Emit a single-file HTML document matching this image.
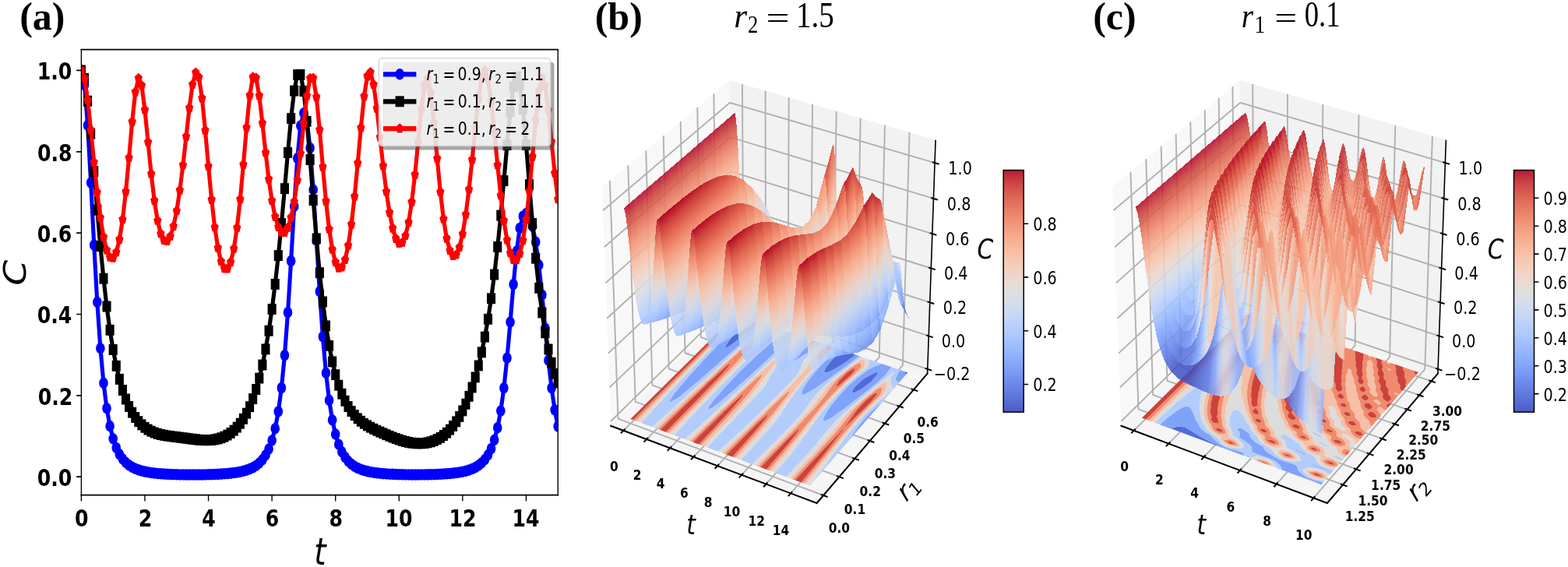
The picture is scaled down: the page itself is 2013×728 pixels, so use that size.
<!DOCTYPE html>
<html><head><meta charset="utf-8"><title>Figure</title><style>html,body{margin:0;padding:0;background:#fff}svg{display:block}</style></head><body>
<svg width="2013" height="728" viewBox="0 0 2013 728">
<defs><clipPath id="clipA"><rect x="104.4" y="63.7" width="611.9" height="571.9"/></clipPath>
<marker id="mo" markerUnits="userSpaceOnUse" markerWidth="20" markerHeight="20" refX="0" refY="0" viewBox="-10 -10 20 20" overflow="visible"><circle r="4.70" fill="#00f"/></marker>
<marker id="ms" markerUnits="userSpaceOnUse" markerWidth="20" markerHeight="20" refX="0" refY="0" viewBox="-10 -10 20 20" overflow="visible"><rect x="-4.50" y="-4.50" width="9.00" height="9.00" fill="#000"/></marker>
<marker id="mp" markerUnits="userSpaceOnUse" markerWidth="20" markerHeight="20" refX="0" refY="0" viewBox="-10 -10 20 20" overflow="visible"><polygon points="0.00,-4.40 4.18,-1.36 2.59,3.56 -2.59,3.56 -4.18,-1.36" fill="#f00"/></marker>
</defs>
<g clip-path="url(#clipA)"><g transform="scale(1.2337,1.5473)" fill="none" stroke-width="4.17" stroke-linejoin="round">
<polyline points="84.62,58.46 87.93,70.45 91.24,103.93 94.54,151.57 97.85,203.35 101.16,250.63 104.46,288.99 107.77,317.88 111.07,338.76 114.38,353.58 117.69,364.08 120.99,371.56 124.30,376.95 127.61,380.89 130.91,383.80 134.22,385.99 137.52,387.65 140.83,388.94 144.14,389.94 147.44,390.73 150.75,391.36 154.06,391.87 157.36,392.29 160.67,392.62 163.98,392.90 167.28,393.13 170.59,393.31 173.89,393.47 177.20,393.60 180.51,393.70 183.81,393.78 187.12,393.85 190.43,393.90 193.73,393.93 197.04,393.95 200.34,393.96 203.65,393.96 206.96,393.94 210.26,393.91 213.57,393.86 216.88,393.80 220.18,393.72 223.49,393.62 226.80,393.50 230.10,393.35 233.41,393.17 236.71,392.95 240.02,392.69 243.33,392.36 246.63,391.97 249.94,391.48 253.25,390.87 256.55,390.11 259.86,389.15 263.16,387.93 266.47,386.34 269.78,384.25 273.08,381.48 276.39,377.74 279.70,372.62 283.00,365.52 286.31,355.56 289.61,341.53 292.92,321.84 296.23,294.78 299.53,259.29 302.84,216.51 306.15,171.23 309.45,131.34 312.76,104.31 316.07,93.93 319.37,100.54 322.68,122.73 325.98,157.46 329.29,199.40 332.60,241.85 335.90,279.37 339.21,309.44 342.52,332.08 345.82,348.56 349.13,360.37 352.43,368.84 355.74,374.94 359.05,379.38 362.35,382.66 365.66,385.12 368.97,386.98 372.27,388.41 375.58,389.52 378.89,390.39 382.19,391.09 385.50,391.64 388.80,392.09 392.11,392.46 395.42,392.76 398.72,393.01 402.03,393.21 405.34,393.38 408.64,393.52 411.95,393.63 415.25,393.72 418.56,393.79 421.87,393.85 425.17,393.88 428.48,393.91 431.79,393.92 435.09,393.92 438.40,393.90 441.71,393.87 445.01,393.83 448.32,393.77 451.62,393.69 454.93,393.59 458.24,393.47 461.54,393.32 464.85,393.14 468.16,392.93 471.46,392.66 474.77,392.34 478.07,391.94 481.38,391.45 484.69,390.84 487.99,390.07 491.30,389.10 494.61,387.86 497.91,386.25 501.22,384.13 504.53,381.30 507.83,377.49 511.14,372.26 514.44,365.03 517.75,354.96 521.06,340.97 524.36,321.91 527.67,297.09 530.98,267.31 534.28,235.97 537.59,208.49 540.89,189.33 544.20,179.49 547.51,177.14 550.81,180.16 554.12,187.81 557.43,200.78 560.73,219.97 564.04,244.76 567.35,272.37 570.65,299.03 573.96,321.95 577.26,340.12 580.57,353.84" stroke="#00f" marker-start="url(#mo)" marker-mid="url(#mo)" marker-end="url(#mo)"/>
<polyline points="84.62,58.46 87.93,65.14 91.24,83.82 94.54,110.95 97.85,142.31 101.16,174.26 104.46,204.31 107.77,231.14 111.07,254.30 114.38,273.86 117.69,290.15 120.99,303.61 124.30,314.67 127.61,323.76 130.91,331.20 134.22,337.30 137.52,342.30 140.83,346.39 144.14,349.73 147.44,352.46 150.75,354.67 154.06,356.45 157.36,357.87 160.67,359.01 163.98,359.90 167.28,360.61 170.59,361.16 173.89,361.62 177.20,361.99 180.51,362.33 183.81,362.65 187.12,362.98 190.43,363.31 193.73,363.66 197.04,364.01 200.34,364.36 203.65,364.68 206.96,364.95 210.26,365.15 213.57,365.26 216.88,365.24 220.18,365.07 223.49,364.72 226.80,364.18 230.10,363.39 233.41,362.34 236.71,360.98 240.02,359.26 243.33,357.13 246.63,354.53 249.94,351.37 253.25,347.55 256.55,342.97 259.86,337.47 263.16,330.92 266.47,323.10 269.78,313.81 273.08,302.79 276.39,289.77 279.70,274.46 283.00,256.56 286.31,235.82 289.61,212.07 292.92,185.43 296.23,156.48 299.53,126.60 302.84,98.31 306.15,75.35 309.45,62.07 312.76,61.91 316.07,75.65 319.37,100.74 322.68,132.49 325.98,166.08 329.29,197.99 332.60,226.31 335.90,250.42 339.21,270.43 342.52,286.82 345.82,300.14 349.13,310.95 352.43,319.71 355.74,326.84 359.05,332.66 362.35,337.41 365.66,341.32 368.97,344.55 372.27,347.24 375.58,349.50 378.89,351.43 382.19,353.11 385.50,354.60 388.80,355.95 392.11,357.22 395.42,358.43 398.72,359.59 402.03,360.73 405.34,361.83 408.64,362.89 411.95,363.90 415.25,364.83 418.56,365.68 421.87,366.41 425.17,367.02 428.48,367.49 431.79,367.81 435.09,367.96 438.40,367.93 441.71,367.71 445.01,367.28 448.32,366.63 451.62,365.73 454.93,364.56 458.24,363.09 461.54,361.28 464.85,359.11 468.16,356.52 471.46,353.45 474.77,349.87 478.07,345.69 481.38,340.85 484.69,335.26 487.99,328.84 491.30,321.48 494.61,313.06 497.91,303.40 501.22,292.32 504.53,279.56 507.83,264.81 511.14,247.70 514.44,227.83 517.75,204.87 521.06,178.75 524.36,150.00 527.67,120.24 530.98,92.69 534.28,72.15 537.59,63.68 540.89,70.21 544.20,90.58 547.51,120.15 550.81,153.26 554.12,185.49 557.43,214.36 560.73,238.99 564.04,259.44 567.35,276.18 570.65,289.83 573.96,300.96 577.26,310.08 580.57,317.61" stroke="#000" marker-start="url(#ms)" marker-mid="url(#ms)" marker-end="url(#ms)"/>
<polyline points="84.62,58.46 87.93,65.10 91.24,83.12 94.54,107.98 97.85,134.73 101.16,159.66 104.46,180.63 107.77,196.72 111.07,207.69 114.38,213.50 117.69,214.13 120.99,209.37 124.30,198.85 127.61,182.13 130.91,159.11 134.22,130.89 137.52,101.04 140.83,76.39 144.14,64.99 147.44,70.99 150.75,91.20 154.06,117.97 157.36,144.40 160.67,166.56 163.98,183.09 167.28,193.92 170.59,199.45 173.89,200.10 177.20,196.16 180.51,187.79 183.81,175.02 187.12,157.97 190.43,137.03 193.73,113.39 197.04,89.64 200.34,70.12 203.65,60.24 206.96,64.07 210.26,81.57 213.57,108.28 216.88,137.99 220.18,165.69 223.49,188.61 226.80,205.76 230.10,217.06 233.41,222.73 236.71,222.92 240.02,217.57 243.33,206.40 246.63,189.04 249.94,165.43 253.25,136.61 256.55,105.84 259.86,79.21 263.16,64.07 266.47,64.74 269.78,79.49 273.08,102.24 276.39,126.68 279.70,148.75 283.00,166.61 286.31,179.81 289.61,188.45 292.92,192.78 296.23,192.95 299.53,188.94 302.84,180.55 306.15,167.48 309.45,149.59 312.76,127.32 316.07,102.58 319.37,79.61 322.68,64.95 325.98,64.78 329.29,80.61 332.60,107.70 335.90,138.52 339.21,167.04 342.52,190.16 345.82,206.97 349.13,217.59 352.43,222.40 355.74,221.70 359.05,215.54 362.35,203.77 365.66,186.24 368.97,163.07 372.27,135.38 375.58,106.03 378.89,79.99 382.19,63.26 385.50,60.03 388.80,70.24 392.11,89.94 395.42,113.88 398.72,137.77 402.03,159.03 405.34,176.40 408.64,189.44 411.95,198.01 415.25,202.03 418.56,201.37 421.87,195.70 425.17,184.60 428.48,167.68 431.79,145.01 435.09,118.08 438.40,90.96 441.71,70.80 445.01,65.26 448.32,77.16 451.62,101.99 454.93,131.60 458.24,159.33 461.54,181.78 464.85,197.97 468.16,208.01 471.46,212.36 474.77,211.40 478.07,205.33 481.38,194.21 484.69,178.09 487.99,157.25 491.30,132.63 494.61,106.35 497.91,82.04 501.22,64.59 504.53,58.50 507.83,65.71 511.14,84.35 514.44,109.80 517.75,137.02 521.06,162.21 524.36,183.25 527.67,199.24 530.98,209.98 534.28,215.48 537.59,215.73 540.89,210.53 544.20,199.51 547.51,182.24 550.81,158.66 554.12,129.98 557.43,99.96 560.73,75.55 564.04,64.69 567.35,71.11 570.65,91.33 573.96,117.75 577.26,143.66 580.57,165.36" stroke="#f00" marker-start="url(#mp)" marker-mid="url(#mp)" marker-end="url(#mp)"/>
</g></g>
<g stroke="#000" fill="none" stroke-linecap="square">
<path d="M104.40,63.70H716.30M104.40,635.60H716.30" stroke-width="1.72"/>
<path d="M104.40,63.70V635.60M716.30,63.70V635.60" stroke-width="1.37"/>
</g>
<path d="M104.40,635.60v8.00M185.98,635.60v8.00M267.56,635.60v8.00M349.14,635.60v8.00M430.72,635.60v8.00M512.30,635.60v8.00M593.88,635.60v8.00M675.46,635.60v8.00" stroke="#000" stroke-width="1.37" fill="none"/>
<path d="M104.40,612.20h-6.30M104.40,507.85h-6.30M104.40,403.50h-6.30M104.40,299.15h-6.30M104.40,194.80h-6.30M104.40,90.45h-6.30" stroke="#000" stroke-width="1.72" fill="none"/>
<text transform="translate(95.97,676.27) scale(0.8350,1)" font-size="30.20" font-family="DejaVu Sans, Liberation Sans, sans-serif" font-weight="bold">0</text>
<text transform="translate(177.68,676.27) scale(0.8350,1)" font-size="30.20" font-family="DejaVu Sans, Liberation Sans, sans-serif" font-weight="bold">2</text>
<text transform="translate(259.13,675.97) scale(0.8350,1)" font-size="30.20" font-family="DejaVu Sans, Liberation Sans, sans-serif" font-weight="bold">4</text>
<text transform="translate(340.71,676.12) scale(0.8350,1)" font-size="30.20" font-family="DejaVu Sans, Liberation Sans, sans-serif" font-weight="bold">6</text>
<text transform="translate(422.42,676.27) scale(0.8350,1)" font-size="30.20" font-family="DejaVu Sans, Liberation Sans, sans-serif" font-weight="bold">8</text>
<text transform="translate(494.42,676.27) scale(0.8350,1)" font-size="30.20" font-family="DejaVu Sans, Liberation Sans, sans-serif" font-weight="bold">10</text>
<text transform="translate(576.50,676.27) scale(0.8350,1)" font-size="30.20" font-family="DejaVu Sans, Liberation Sans, sans-serif" font-weight="bold">12</text>
<text transform="translate(657.58,676.12) scale(0.8350,1)" font-size="30.20" font-family="DejaVu Sans, Liberation Sans, sans-serif" font-weight="bold">14</text>
<text transform="translate(47.63,624.17) scale(0.8350,1)" font-size="30.20" font-family="DejaVu Sans, Liberation Sans, sans-serif" font-weight="bold">0.0</text>
<text transform="translate(48.64,519.82) scale(0.8350,1)" font-size="30.20" font-family="DejaVu Sans, Liberation Sans, sans-serif" font-weight="bold">0.2</text>
<text transform="translate(47.63,415.47) scale(0.8350,1)" font-size="30.20" font-family="DejaVu Sans, Liberation Sans, sans-serif" font-weight="bold">0.4</text>
<text transform="translate(47.63,311.12) scale(0.8350,1)" font-size="30.20" font-family="DejaVu Sans, Liberation Sans, sans-serif" font-weight="bold">0.6</text>
<text transform="translate(47.88,206.77) scale(0.8350,1)" font-size="30.20" font-family="DejaVu Sans, Liberation Sans, sans-serif" font-weight="bold">0.8</text>
<text transform="translate(47.63,102.42) scale(0.8350,1)" font-size="30.20" font-family="DejaVu Sans, Liberation Sans, sans-serif" font-weight="bold">1.0</text>
<text transform="translate(403.23,725.00) scale(0.8300,1)" font-size="47.30" font-family="DejaVu Sans, Liberation Sans, sans-serif" font-style="italic">t</text>
<text transform="translate(18.35,349.55) scale(1.2843,1.5473) rotate(-90.00) translate(-11.16,11.31)" font-size="30.57" font-family="DejaVu Sans, Liberation Sans, sans-serif" font-style="italic">C</text>
<rect x="491.0" y="79.7" width="220.5" height="112.7" rx="3.7" ry="4.6" fill="#4d4d4d" fill-opacity="0.5"/>
<rect x="486.4" y="74.7" width="220.5" height="112.7" rx="3.7" ry="4.6" fill="#fff" fill-opacity="0.8" stroke="#ccc" stroke-opacity="0.8" stroke-width="1.5"/>
<path d="M492.0,95.3H534.4" stroke="#00f" stroke-width="6.26"/>
<ellipse cx="513.2" cy="95.3" rx="5.80" ry="7.27" fill="#00f"/>
<text transform="translate(547.51,103.10) scale(0.8100,1)" font-size="23.40" font-family="DejaVu Sans, Liberation Sans, sans-serif" font-style="italic">r</text>
<text transform="translate(555.64,106.70) scale(0.8100,1)" font-size="16.38" font-family="DejaVu Sans, Liberation Sans, sans-serif">1</text>
<text transform="translate(568.39,103.88) scale(0.8100,1)" font-size="23.40" font-family="DejaVu Sans, Liberation Sans, sans-serif">=</text>
<text transform="translate(587.58,103.07) scale(0.8100,1)" font-size="23.40" font-family="DejaVu Sans, Liberation Sans, sans-serif">0.9</text>
<text transform="translate(617.81,103.09) scale(0.8100,1)" font-size="23.40" font-family="DejaVu Sans, Liberation Sans, sans-serif">,</text>
<text transform="translate(627.36,103.10) scale(0.8100,1)" font-size="23.40" font-family="DejaVu Sans, Liberation Sans, sans-serif" font-style="italic">r</text>
<text transform="translate(635.45,106.70) scale(0.8100,1)" font-size="16.38" font-family="DejaVu Sans, Liberation Sans, sans-serif">2</text>
<text transform="translate(648.19,103.88) scale(0.8100,1)" font-size="23.40" font-family="DejaVu Sans, Liberation Sans, sans-serif">=</text>
<text transform="translate(667.84,103.10) scale(0.8100,1)" font-size="23.40" font-family="DejaVu Sans, Liberation Sans, sans-serif">1.1</text>
<path d="M492.0,130.3H534.4" stroke="#000" stroke-width="6.26"/>
<rect x="507.65" y="123.34" width="11.10" height="13.93" fill="#000"/>
<text transform="translate(547.51,138.10) scale(0.8100,1)" font-size="23.40" font-family="DejaVu Sans, Liberation Sans, sans-serif" font-style="italic">r</text>
<text transform="translate(555.64,141.70) scale(0.8100,1)" font-size="16.38" font-family="DejaVu Sans, Liberation Sans, sans-serif">1</text>
<text transform="translate(568.39,138.88) scale(0.8100,1)" font-size="23.40" font-family="DejaVu Sans, Liberation Sans, sans-serif">=</text>
<text transform="translate(587.77,138.07) scale(0.8100,1)" font-size="23.40" font-family="DejaVu Sans, Liberation Sans, sans-serif">0.1</text>
<text transform="translate(617.81,138.09) scale(0.8100,1)" font-size="23.40" font-family="DejaVu Sans, Liberation Sans, sans-serif">,</text>
<text transform="translate(627.36,138.10) scale(0.8100,1)" font-size="23.40" font-family="DejaVu Sans, Liberation Sans, sans-serif" font-style="italic">r</text>
<text transform="translate(635.45,141.70) scale(0.8100,1)" font-size="16.38" font-family="DejaVu Sans, Liberation Sans, sans-serif">2</text>
<text transform="translate(648.19,138.88) scale(0.8100,1)" font-size="23.40" font-family="DejaVu Sans, Liberation Sans, sans-serif">=</text>
<text transform="translate(667.84,138.10) scale(0.8100,1)" font-size="23.40" font-family="DejaVu Sans, Liberation Sans, sans-serif">1.1</text>
<path d="M492.0,165.1H534.4" stroke="#f00" stroke-width="6.26"/>
<polygon points="513.20,158.29 518.36,163.00 516.39,170.61 510.01,170.61 508.04,163.00" fill="#f00"/>
<text transform="translate(547.51,172.90) scale(0.8100,1)" font-size="23.40" font-family="DejaVu Sans, Liberation Sans, sans-serif" font-style="italic">r</text>
<text transform="translate(555.64,176.50) scale(0.8100,1)" font-size="16.38" font-family="DejaVu Sans, Liberation Sans, sans-serif">1</text>
<text transform="translate(568.39,173.68) scale(0.8100,1)" font-size="23.40" font-family="DejaVu Sans, Liberation Sans, sans-serif">=</text>
<text transform="translate(587.77,172.87) scale(0.8100,1)" font-size="23.40" font-family="DejaVu Sans, Liberation Sans, sans-serif">0.1</text>
<text transform="translate(617.81,172.89) scale(0.8100,1)" font-size="23.40" font-family="DejaVu Sans, Liberation Sans, sans-serif">,</text>
<text transform="translate(627.36,172.90) scale(0.8100,1)" font-size="23.40" font-family="DejaVu Sans, Liberation Sans, sans-serif" font-style="italic">r</text>
<text transform="translate(635.45,176.50) scale(0.8100,1)" font-size="16.38" font-family="DejaVu Sans, Liberation Sans, sans-serif">2</text>
<text transform="translate(648.19,173.68) scale(0.8100,1)" font-size="23.40" font-family="DejaVu Sans, Liberation Sans, sans-serif">=</text>
<text transform="translate(668.27,172.90) scale(0.8100,1)" font-size="23.40" font-family="DejaVu Sans, Liberation Sans, sans-serif">2</text>
<polygon points="784.2,546.8 939.4,394.4 936.8,103.2 773.0,240.1" fill="#f2f2f2" fill-opacity="0.5"/>
<polygon points="939.4,394.4 1190.6,479.6 1201.1,179.6 936.8,103.2" fill="#e6e6e6" fill-opacity="0.5"/>
<polygon points="784.2,546.8 1048.6,646.0 1190.6,479.6 939.4,394.4" fill="#ececec" fill-opacity="0.5"/>
<path d="M800.4,552.8L954.7,399.6L952.9,107.9M830.1,564.0L983.0,409.2L982.6,116.5M860.1,575.3L1011.6,418.9L1012.7,125.2M890.4,586.7L1040.5,428.7L1043.0,133.9M921.1,598.2L1069.6,438.6L1073.7,142.8M952.1,609.8L1099.1,448.6L1104.7,151.8M983.4,621.6L1128.8,458.6L1136.0,160.8M1015.1,633.4L1158.9,468.8L1167.6,170.0M1057.1,636.0L793.5,537.7L782.9,231.9M1077.5,612.2L815.7,515.9L806.3,212.3M1097.4,588.9L837.4,494.6L829.3,193.1M1116.9,566.0L858.7,473.7L851.7,174.3M1135.9,543.7L879.5,453.2L873.7,155.9M1154.6,521.8L899.9,433.1L895.3,137.9M1172.9,500.4L920.0,413.5L916.4,120.3M784.0,541.0L939.3,388.9L1190.8,473.9M782.4,497.6L938.9,347.5L1192.3,431.4M780.8,453.6L938.6,305.6L1193.8,388.3M779.2,408.8L938.2,263.1L1195.4,344.5M777.5,363.4L937.8,220.0L1196.9,300.1M775.8,317.2L937.4,176.2L1198.5,254.9M774.1,270.3L937.0,131.8L1200.1,209.1" fill="none" stroke="#b0b0b0" stroke-width="1.90"/>
<g fill-rule="evenodd" stroke="none"><path d="M932,443.4l-.8 2.7 1.9 0 4.3-2.3 14.2-10.4 24.1-19.6-15.3-5.2-17 19.5-7.5 9.5zM1095.9,498.8l-2.4 4.9 1.1 1.1 2.7-.8 9.1-4.8 12.5-9.5 8.7-10.7-1.5-.8-1.8-.3-15.6 8.3-10.9 10zM1059,474l-1 3.2 .7 1.4 1.9 0 6-2.2 5.6-2.8 13.9-8.8 12.4-9.2-17.1-5.8-11 9.7-9 10.4zM1034.6,435.4l-2.8 5-1.2 3.3 .3 1.8 1.4 .5 2.2-.3 2.9-1 12.3-5.7-14.3-4.8zM1161.4,478.5l.7 1.4 1.2 .9 2.1-2.4-4.1-1.4z" fill="#506bda"/>
<path d="M860.6,513l-.8 2.8 1.7 .3 4-2 6.6-4.6 9.1-7.2 25.9-22 51.7-45.8 21.9-19-5-1.7-14.9 12.3-17.1 13.3-6.3 4.4-4.3 2.3-1.9 0 .8-2.7 3.9-5.8 7.5-9.5 17-19.5-4.9-1.6-47.8 50.5-23.6 26-14.5 17.1-5.1 6.5zM910.4,521.7l-1.5 3.6 1.9 .1 4.5-2.6 6.9-5.1 21-17.6 29.8-26.8 26.3-24.8 9.8-10.1 3.6-4.3 4.4-6.2-5.4-1.8-6.1 3.4-8 5-3 2.3-8.9 7-10.8 9.4-21.6 20.4-20.3 21-16 18.2zM1057.2,540l1.6 .4 2.9-.9 3.7-1.9 4.6-2.9 17.4-12.8 25.4-19.6 12.6-10.3 10.9-10 8.1-10.8-12.4-4.2-12 4.8-4 2.3-14 9.8-11.3 9.9-10.2 10.4-9.3 10.8-9.6 13.2-3.3 6-1.4 3.8zM1097.8,496.2l10.9-10 15.6-8.3 1.8 .3 1.5 .8-8.7 10.7-12.5 9.5-1.9 1.1-7.2 3.7-2.7 .8-1.1-1.1 2.4-4.9zM1094.5,557.9l-4 6.9 42.8-49.3-6.4 4.9-10.8 10.4-9.8 11-8.7 11.5zM1030.1,501.1l-1 3.2 .4 1.8 1.4 .5 2.5-.5 7.8-4.1 4.5-2.8 16.5-11.5 29.1-21.1 12.2-9.3-5-1.7-12.4 9.2-13.9 8.8-8.8 4.2-2.8 .8-1.9 0-.7-1.4 1-3.2 2.4-4.1 9-10.4 11-9.7-4.9-1.6-11.1 9.5-10.1 10.1-9.3 10.5-8.6 10.8-4.3 6.5zM1007.8,465.7l.6 1.4 1.7 .3 2.6-.6 6.6-3 13.9-8.5 21.9-14.4-5.4-1.9-12.3 5.7-2.9 1-2.2 .3-1.4-.5-.3-1.8 1.2-3.3 3.6-6.2-5.3-1.9-8.6 10.4-7.9 10.7-3.4 5.6-1.9 4.1zM1149.8,487.3l.7 1.4 1 1.1 2.7 1.5 9.1-10.5-1.2-.9-.7-1.4-.1-1.5-6.1-2.1-4.8 9.4-.8 2.3z" fill="#80a3fa"/>
<path d="M830.8,534.8l-7.3 8.3 13.4 5 20.5-17.7 93.1-85.3 21.9-19.2 11.5-9.3-3.2-1.1-21.9 19-51.7 45.8-25.9 22-9.1 7.2-6.6 4.6-4 2-1.7-.3 .8-2.8 3.9-5.9 7.4-9.5 12.2-14.1 18.2-20.2 26.1-27.9 27.1-28.4-2.4-.9-69.9 72.3-31.5 33.5zM866,558.9l13.1 4.9 16.2-14 15.7-14.2 103-95.5 10-9.8-6.9-2.4-4.4 6.2-3.6 4.3-9.8 10.1-21 20-21.3 19.4-25.4 22.2-9.4 7.6-6.9 5.1-4.5 2.6-1.9-.1 1.5-3.6 3.6-5.1 9.3-11.2 19.8-21.4 20.7-20.6 10.7-9.9 12.2-10.5 10.9-8.5 8-5 6.1-3.4-22.8-7.8-3.7 8.4-.5 2.4 .1 3.9-1.1 3.1-4.3 5.5-30.9 30.3-31.1 31.4-32.2 33.8-19.7 21.6zM908.5,574.7l13.4 5 2.6-2.3 28-25.5 16.4-15.4 32.5-31.9 10.2-10.5 9.5-10.7 2-2.6 4.2-6.6 .9-2.1 .9-4.1 3.2-5.5 1.7-2.1 11.3-9.6 12.4-9.1-2.6-.8-21.9 14.4-13.9 8.5-6.6 3-2.6 .6-1.7-.3-.6-1.4 .5-2.6 1.9-4.1 3.4-5.6 7.9-10.7 8.6-10.4-4.2-1.4-16.2 21.2-10.5 14.4-8.4 12.9-3.1 6.3-7.1 11.6-9.6 10.8-52.3 55-10.6 11.5zM951.6,590.7l13.8 5.2 34.3-33.4 21.2-22 9.7-11.1 16.3-22.9 10.6-10.4 11.7-9.8 26.9-20.7 6-4.5 4.3-2.8-2.9-1-24.9 18.5-32.9 23.4-8.7 5.2-3.6 1.7-2.5 .5-1.4-.5-.4-1.8 1-3.2 3-5.5 5.7-8.3 7.2-9 9.3-10.5 10.1-10.1 11.1-9.5-2.4-.9-11.2 9.6-10.4 9.9-9.6 10.4-9.1 10.7-13.4 17.1-6.8 9.6-12.4 18.8-8.7 11.6-9.9 11.3-31.3 34.3zM995.3,607l14.2 5.3 32-34.5 19.1-23 9.8-11.2 10.6-10.8 11.5-10.3 39.1-32.5 6.7-5.5 1.9-1.1 6.3-6 1.1 1.1-3.2 6.3-.6 7.1 .3 1.9 3 5.6-4.6 3.1-7 6.8-11.8 10-10.9 10.4-10.1 10.8-9.5 11.2-9.1 11.5-9.9 13.3-16.1 22.6-18.3 24.3 50.7-58.6 4-6.9 3.1-4.6 8.7-11.5 9.8-11 10.8-10.4 6.4-4.9 20.9-24.2-2.7-1.5-1-1.1-.9-2.1 .8-2.3 2.4-5 2.4-4.4-10.8-3.7-8.1 10.8-10.9 10-12.6 10.3-25.4 19.6-17.4 12.8-4.6 2.9-3.7 1.9-2.9 .9-1.6-.4-.3-2 1.4-3.8 4.5-7.8 8.4-11.4 9.3-10.8 10.2-10.4 11.3-9.9 14-9.8 4-2.3 12-4.8-16.8-5.7 1.2 3.5-1 3.3-3.8 5.4-12.4 9.4-11.3 9.9-10.4 10.3-9.7 10.7-9.3 11.1-8.8 11.3-25.3 35.3-9.2 11.9z" fill="#b2ccfb"/>
<path d="M819.8,541.7l3.7 1.4 7.3-8.3 20.9-22.9 22.6-24 78.8-81.8-1.8-.6-132.6 135.8zM837.6,548.3l4.2 1.6 67.3-63.9 32.6-30.3 25.4-22.4 7.4-5.5 2.7-.8-.5 2.4-2.2 4.3-2.9 5.2-3.4 5.2-4.1 5.7-9.2 10.5-94.3 96.6 4.9 1.8 20.7-22.6 31.2-32.8 31.1-31.4 30.9-30.3 4.3-5.5 1.1-3.1-.1-3.9 .5-2.4 3.7-8.4-5-1.7-11.5 9.3-32.7 29.1-82.3 75.4-20.5 17.7zM879.6,564l4.4 1.6 67.5-64.4 22-20.5 16.6-14.9 6.9-5.2 .5 1.6-4.1 6.2-19.4 26.5-8.9 11.1-19.6 22-42.4 44.7 5 1.9 31.7-33.9 31.2-32.6 9.6-10.8 7.1-11.6 3.1-6.3 8.4-12.9 10.5-14.4 16.2-21.2-1.9-.6-10 9.8-84.8 78.8-33.9 30.9-16.2 14zM922.3,579.8l4.6 1.8 88.1-86.3 10.1-10.5 9.2-10.6 6.2-9.9 2.2-4.5 5.6-7.9 7.1-5.7 4.2-3.8-1.9-.7-12.4 9.1-11.3 9.6-1.7 2.1-3.2 5.5-.9 4.1-.9 2.1-4.2 6.6-2 2.6-9.5 10.7-19.6 20-21.7 21.1-32.8 30.6-15.6 13.9zM946.9,589l4.4 1.6 31.3-34.3 9.9-11.3 8.7-11.6 12.4-18.8 6.8-9.6 13.4-17.1 9.1-10.7 9.6-10.4 10.4-9.9 11.2-9.6-1.8-.6-11.4 9.5-10.6 9.9-10 10.2-18 21.5-35.5 45.1-19.7 22.8-20.8 23.1zM965.6,595.9l4.8 1.9 44.2-44.8 20.8-21.9 9.6-11 16.5-22.6 10.3-10.3 11.6-9.7 12.6-9.7 5.6-3.9 3.9-2.2 2.4-.5 1.3 .7 1 3.3 0 2.1-.5 2.8-1 2.4-3.8 2.9-19 16.7-10.5 10.3-10 10.6-9.4 11-13.2 16.1-23.3 29.7-29.4 35.3 5.1 1.9 20-23.6 9.2-11.9 25.3-35.3 8.8-11.3 9.3-11.1 9.7-10.7 10.4-10.3 11.3-9.9 12.4-9.4 3.8-5.4 1-3.3-1.2-3.5-8.8-3-4.3 2.8-20.7 15.7-12.2 9.5-11.7 9.8-10.6 10.4-16.3 22.9-9.7 11.1-21.2 22zM1009.5,612.3l5.1 1.9 27.3-29.1 15.1-16.8 9.8-11.3 18.2-22.7 10.3-10.8 11.3-10.2 17-14.2 11.1-8.2 2.7-.8 .8 1.3-.2 4.9-.6 2.9-1.8 4.4-3 4.7-11.2 10.2-10.8 10.4-10.2 10.8-9.7 11.1-9.4 11.4-46.7 59.4 5.1 1.9 18.4-24.4 16.1-22.6 9.9-13.3 9.1-11.5 9.5-11.2 10.1-10.8 10.9-10.4 11.8-10 7-6.8 4.6-3.1-3-5.6-.3-1.9 .6-7.1 3.2-6.3-1.1-1.1-6.3 6-1.9 1.1-6.7 5.5-39.1 32.5-11.5 10.3-10.6 10.8-9.8 11.2-19.1 23z" fill="#dddcdc"/>
<path d="M816.8,540.6l1.9 .7 132.6-135.8-1.6-.5-134 135.2zM842.1,550l2.7 1 55.4-53.9 31.6-29.9 17.3-15.6 6-4.9 3.6-2.9 3.3-1.3-1.2 3.1-4.9 7.1-5 6.2-9.3 10.5-20.1 21-64 65.4 3.1 1.1 94.3-96.6 9.2-10.5 4.1-5.7 3.4-5.2 2.9-5.2 2.2-4.3 .5-2.4-2.7 .8-7.4 5.5-25.4 22.4-43.6 40.7-56.3 53.5zM884.2,565.7l2.9 1.1 33.5-33.1 31.2-30 17-15.7 8.9-7.3 1.4 .6-4.6 6.9-13 16.5-19.4 22.1-42.1 44.8 3.1 1.1 42.4-44.7 19.6-22 8.9-11.1 19.4-26.5 4.1-6.2-.5-1.6-6.9 5.2-27.6 25zM928.4,582.1l1.6 .6 55.5-55.2 18.7-17.9 9.8-8.4-.8 3-7.9 10.6-12.4 15.6-19 22.7-30.8 34.5 3.2 1.2 20.8-23.1 19.7-22.8 35.5-45.1 18-21.5 10-10.2 10.6-9.9 11.4-9.5-1.6-.5-14.3 11.5-6.2 4.5-1.8-.1 .5-2.7 2.9-6.3 9.6-10.1-1.8-.6-4.2 3.8-7.1 5.7-5.6 7.9-2.2 4.5-6.2 9.9-9.2 10.6-29.1 29.2-69.1 67.6zM971.8,598.3l1.8 .6 64.8-66.8 10-10.8 9.2-11 7.9-11.4 8.7-10.9 11-9.9 5-3.8 7.5-5.5 3-1.8 2.7-.8 1.4 .6 .6 1.5 0 3.1-10.2 10.2-11.2 9.9-10.7 10.2-10.2 10.5-9.6 10.9-36.9 45.6-29.7 35.2 3.2 1.2 19.9-23.6 36.8-46.3 18.6-22.2 10-10.6 10.5-10.3 19-16.7 3.8-2.9 1-2.4 .5-2.8-.4-3.9-.6-1.5-1.3-.7-2.4 .5-3.9 2.2-18.2 13.6-11.6 9.7-10.3 10.3-15.2 20.9-10.9 12.7-20.8 21.9-44.2 44.8zM1015.8,614.7l2 .7 42.4-45.9 10.1-11.3 9.4-11.3 8.9-11.4 9.3-11.1 10.6-10.4 11.8-10 7.7-5.5 2.9-1 1.1 1 0 2.3-.9 3.3-1.3 3.2-21.2 20.9-10.3 10.8-9.8 11-9.5 11.4-47.7 59 3.3 1.2 37.5-47.8 18.6-23 9.7-11.1 10.2-10.8 10.8-10.4 11.2-10.2 3-4.7 1.8-4.4 .6-2.9 .2-4.9-.8-1.3-2.7 .8-11.1 8.2-17 14.2-11.3 10.2-10.3 10.8-18.2 22.7-9.8 11.3-15.1 16.8-27.3 29.1z" fill="#f6bfa6"/>
<path d="M813.8,539.5l1.9 .7 134-135.2-1.8-.6-135 134.7zM845,551.1l2.6 1 33-32.9 39-37.6 15.6-13.8 2.9-1.1-9.8 12-9.9 10.6-63.7 65.4 2.8 1.1 64-65.4 20.1-21 9.3-10.5 5-6.2 4.9-7.1 1.2-3.1-3.3 1.3-3.6 2.9-6 4.9-17.3 15.6-42.6 40.5-44.4 43.3zM887.2,566.8l2.8 1 22-22.3 22.1-21.6 18.7-17.1 1 1.1-13 15.7-22.3 24.3-21.4 22.6 2.9 1.1 31.8-33.8 20.2-22.1 9.5-11 8.9-11.1 4.1-5.4 4.6-6.9-1.4-.6-1.2 1-7.7 6.3-15.2 13.9-33 31.8zM931.5,583.3l1.4 .5 38.7-39.2 13.8-12.6 .2 1.9-13.1 16.3-32.3 36.3 2.9 1.1 30.8-34.5 19-22.7 12.4-15.6 7.9-10.6 .8-3-9.8 8.4-18.7 17.9-22.1 21.8-33.4 33.4zM974.9,599.4l1.6 .6 34.4-35.8 15-14.3-.2 2.4-11.9 15.4-29.9 35.1 3 1.1 29.7-35.2 36.9-45.6 9.6-10.9 10.2-10.5 10.7-10.2 11.2-9.9 10.2-10.2 0-3.1-.6-1.5-1.4-.6-2.7 .8-3 1.8-12.5 9.3-11 9.9-8.7 10.9-7.9 11.4-9.2 11-10 10.8-64.8 66.8zM1077.2,489.1l10-10.3 7-4.6 3-1.1-.2 2.4-3.9 5.3-13.3 11.6-5.5 3.8-.3-1.8zM1019,615.8l1.8 .7 35.2-38 18.1-18.9 10-11.1 16.7-23 10-10.7 10.5-8.5 1.9-1.2 1.6-.7 1.1 1.1 0 .5-8.8 11-23.3 22.9-9.2 8.7-9.2 12.4-18.3 23.2-28.8 35.1 3 1.1 47.7-59 9.5-11.4 9.8-11 10.3-10.8 21.2-20.9 1.3-3.2 .9-3.3 0-2.3-1.1-1-2.9 1-4.7 3.2-14.8 12.3-10.6 10.4-9.3 11.1-8.9 11.4-9.4 11.3-20.4 22.6-32.1 34.6zM1050.4,455.7l-1.5 3.7-.5 2.7 1.8 .1 6.2-4.5 14.3-11.5-2-.7-3.3 2.5-4 2.3-1.4-.6 3.5-6-2.1-.7-9.6 10.1z" fill="#f08a6c"/>
<path d="M810.9,538.4l2 .7 135-134.7-2.7-.9-135.8 134.4zM848,552.2l6.7 2.5 63.7-65.4 9.9-10.6 9.8-12-2.9 1.1-21.9 19.7-34.1 33.1-31.6 31.5zM890.2,567.9l6.9 2.6 21.4-22.6 22.3-24.3 13-15.7-1-1.1-18.7 17.1-30.6 30.2-13.5 13.7zM933,583.8l7.2 2.7 32.3-36.3 13.1-16.3-.2-1.9-13.8 12.6-5.7 5.6zM978,600.6l5.9 2.2 29.9-35.1 11.9-15.4 .2-2.4-15 14.3-34.4 35.8zM1022.2,617l6.1 2.3 28.8-35.1 18.3-23.2 9.2-12.4 9.2-8.7 23.3-22.9 8.8-11 0-.5-1.1-1.1-1.6 .7-1.9 1.2-10.5 8.5-10 10.7-16.7 23-10 11.1-18.1 18.9-35.2 38zM1074,494.4l.3 1.8 5.5-3.8 13.3-11.6 3.9-5.3 .2-2.4-3 1.1-7 4.6-10 10.3zM1063.3,444l-3.3 5.7 1.4 .6 4-2.3 3.3-2.5-5.2-1.8z" fill="#cd423b"/></g>
<linearGradient id="B0" gradientUnits="userSpaceOnUse"><stop offset="0" stop-color="#3b4cc0" stop-opacity=".86"/><stop offset="0.0625" stop-color="#4e68d8" stop-opacity=".86"/><stop offset="0.125" stop-color="#6282ea" stop-opacity=".86"/><stop offset="0.1875" stop-color="#779af7" stop-opacity=".86"/><stop offset="0.25" stop-color="#8db0fe" stop-opacity=".86"/><stop offset="0.3125" stop-color="#a3c2fe" stop-opacity=".86"/><stop offset="0.375" stop-color="#b9d0f9" stop-opacity=".86"/><stop offset="0.4375" stop-color="#ccd9ed" stop-opacity=".86"/><stop offset="0.5" stop-color="#dddcdc" stop-opacity=".86"/><stop offset="0.5625" stop-color="#ecd3c5" stop-opacity=".86"/><stop offset="0.625" stop-color="#f5c4ac" stop-opacity=".86"/><stop offset="0.6875" stop-color="#f7b093" stop-opacity=".86"/><stop offset="0.75" stop-color="#f4987a" stop-opacity=".86"/><stop offset="0.8125" stop-color="#eb7d62" stop-opacity=".86"/><stop offset="0.875" stop-color="#dd5f4b" stop-opacity=".86"/><stop offset="0.9375" stop-color="#ca3b37" stop-opacity=".86"/><stop offset="1" stop-color="#b40426" stop-opacity=".86"/></linearGradient>
<linearGradient id="Ba" href="#B0" x1="918" y1="422" x2="807" y2="263"/><linearGradient id="Bb" href="#B0" x1="856" y1="495" x2="772" y2="234"/><linearGradient id="Bc" href="#B0" x1="852" y1="465" x2="791" y2="300"/><linearGradient id="Bd" href="#B0" x1="919.9" y1="407.4" x2="828.1" y2="294.4"/><linearGradient id="Be" href="#B0" x1="970" y1="417" x2="850" y2="277"/><linearGradient id="Bf" href="#B0" x1="915" y1="504" x2="789" y2="261"/><linearGradient id="Bg" href="#B0" x1="894" y1="483" x2="840" y2="309"/><linearGradient id="Bh" href="#B0" x1="967.1" y1="421.1" x2="876.8" y2="304.4"/><linearGradient id="Bi" href="#B0" x1="1016" y1="425" x2="894" y2="291"/><linearGradient id="Bj" href="#B0" x1="975" y1="510" x2="809" y2="291"/><linearGradient id="Bk" href="#B0" x1="940" y1="497" x2="881" y2="327"/><linearGradient id="Bl" href="#B0" x1="1011.2" y1="438" x2="922.4" y2="318.1"/><linearGradient id="Bm" href="#B0" x1="1060" y1="445" x2="939" y2="306"/><linearGradient id="Bn" href="#B0" x1="1033" y1="523" x2="830" y2="310"/><linearGradient id="Bo" href="#B0" x1="990" y1="505" x2="917" y2="356"/><linearGradient id="Bp" href="#B0" x1="1049" y1="467" x2="961" y2="337"/><linearGradient id="Bq" href="#B0" x1="1099" y1="477" x2="985" y2="320"/><linearGradient id="Br" href="#B0" x1="1086" y1="541" x2="862" y2="322"/><linearGradient id="Bs" href="#B0" x1="1038.2" y1="507.1" x2="956.1" y2="398.9"/><linearGradient id="Bt" href="#B0" x1="1083" y1="493" x2="994" y2="360"/><linearGradient id="Bu" href="#B0" x1="1135" y1="511" x2="1031" y2="335"/><linearGradient id="Bv" href="#B0" x1="927" y1="413" x2="818" y2="253"/><linearGradient id="Bw" href="#B0" x1="867" y1="480" x2="778" y2="228"/><linearGradient id="Bx" href="#B0" x1="861" y1="456" x2="801" y2="290"/><linearGradient id="By" href="#B0" x1="931.5" y1="400.7" x2="840.6" y2="282.6"/><linearGradient id="Bz" href="#B0" x1="980" y1="407" x2="861" y2="267"/><linearGradient id="BA" href="#B0" x1="923" y1="488" x2="801" y2="257"/><linearGradient id="BB" href="#B0" x1="904" y1="474" x2="851" y2="298"/><linearGradient id="BC" href="#B0" x1="978" y1="419" x2="891" y2="291"/><linearGradient id="BD" href="#B0" x1="1025" y1="417" x2="905" y2="281"/><linearGradient id="BE" href="#B0" x1="982" y1="494" x2="825" y2="289"/><linearGradient id="BF" href="#B0" x1="950" y1="488" x2="893" y2="314"/><linearGradient id="BG" href="#B0" x1="1022" y1="435" x2="940" y2="302"/><linearGradient id="BH" href="#B0" x1="1066" y1="445" x2="949" y2="296"/><linearGradient id="BI" href="#B0" x1="1042" y1="509" x2="844" y2="304"/><linearGradient id="BJ" href="#B0" x1="1000" y1="496" x2="929" y2="343"/><linearGradient id="BK" href="#B0" x1="1057" y1="471" x2="977" y2="320"/><linearGradient id="BL" href="#B0" x1="1098" y1="484" x2="994" y2="310"/><linearGradient id="BM" href="#B0" x1="1108" y1="543" x2="850" y2="288"/><linearGradient id="BN" href="#B0" x1="1048.5" y1="493.3" x2="968.3" y2="393.2"/><linearGradient id="BO" href="#B0" x1="1086" y1="494" x2="1003" y2="347"/><linearGradient id="BP" href="#B0" x1="1127" y1="518" x2="1041" y2="325"/><linearGradient id="BQ" href="#B0" x1="937" y1="403" x2="830" y2="243"/><linearGradient id="BR" href="#B0" x1="877" y1="465" x2="783" y2="222"/><linearGradient id="BS" href="#B0" x1="871" y1="447" x2="811" y2="280"/><linearGradient id="BT" href="#B0" x1="942" y1="396" x2="853" y2="271"/><linearGradient id="BU" href="#B0" x1="990" y1="395" x2="872" y2="257"/><linearGradient id="BV" href="#B0" x1="933" y1="474" x2="809" y2="253"/><linearGradient id="BW" href="#B0" x1="913" y1="465" x2="863" y2="286"/><linearGradient id="BX" href="#B0" x1="984" y1="425" x2="903" y2="278"/><linearGradient id="BY" href="#B0" x1="1034" y1="412" x2="915" y2="272"/><linearGradient id="BZ" href="#B0" x1="992" y1="480" x2="834" y2="283"/><linearGradient id="Bab" href="#B0" x1="960" y1="478" x2="905" y2="303"/><linearGradient id="Bbb" href="#B0" x1="1022" y1="446" x2="953" y2="289"/><linearGradient id="Bcb" href="#B0" x1="1067" y1="452" x2="959" y2="286"/><linearGradient id="Bdb" href="#B0" x1="1054" y1="498" x2="852" y2="294"/><linearGradient id="Beb" href="#B0" x1="1012" y1="485" x2="939" y2="334"/><linearGradient id="Bfb" href="#B0" x1="1055" y1="477" x2="992" y2="306"/><linearGradient id="Bgb" href="#B0" x1="1086" y1="496" x2="1004" y2="300"/><linearGradient id="Bhb" href="#B0" x1="1153" y1="574" x2="787" y2="198"/><linearGradient id="Bib" href="#B0" x1="1058" y1="475.9" x2="982.3" y2="394.2"/><linearGradient id="Bjb" href="#B0" x1="1090" y1="489" x2="1009" y2="338"/><linearGradient id="Bkb" href="#B0" x1="1111" y1="523" x2="1051" y2="314"/><linearGradient id="Blb" href="#B0" x1="947" y1="392" x2="841" y2="233"/><linearGradient id="Bmb" href="#B0" x1="888" y1="452" x2="787" y2="214"/><linearGradient id="Bnb" href="#B0" x1="880" y1="438" x2="823" y2="268"/><linearGradient id="Bob" href="#B0" x1="951" y1="393" x2="865" y2="259"/><linearGradient id="Bpb" href="#B0" x1="1000" y1="384" x2="883" y2="247"/><linearGradient id="Bqb" href="#B0" x1="943" y1="459" x2="816" y2="250"/><linearGradient id="Brb" href="#B0" x1="922" y1="456" x2="877" y2="274"/><linearGradient id="Bsb" href="#B0" x1="984" y1="429" x2="917" y2="266"/><linearGradient id="Btb" href="#B0" x1="1040" y1="411" x2="924" y2="263"/><linearGradient id="Bub" href="#B0" x1="1003" y1="465" x2="844" y2="281"/><linearGradient id="Bvb" href="#B0" x1="970" y1="469" x2="918" y2="291"/><linearGradient id="Bwb" href="#B0" x1="1011" y1="453" x2="968" y2="277"/><linearGradient id="Bxb" href="#B0" x1="1056" y1="465" x2="968" y2="276"/><linearGradient id="Byb" href="#B0" x1="1074" y1="494" x2="843" y2="271"/><linearGradient id="Bzb" href="#B0" x1="1025" y1="471" x2="947" y2="331"/><linearGradient id="BAb" href="#B0" x1="1048" y1="481" x2="1006" y2="293"/><linearGradient id="BBb" href="#B0" x1="1057" y1="504" x2="1015" y2="289"/><linearGradient id="BCb" href="#B0" x1="1230" y1="679" x2="640" y2="-54"/><linearGradient id="BDb" href="#B0" x1="1064.2" y1="455.9" x2="1001.6" y2="400.2"/><linearGradient id="BEb" href="#B0" x1="1095" y1="471" x2="1009" y2="342"/><linearGradient id="BFb" href="#B0" x1="1100" y1="518" x2="1061" y2="303"/><linearGradient id="BGb" href="#B0" x1="956" y1="382" x2="852" y2="223"/><linearGradient id="BHb" href="#B0" x1="898" y1="440" x2="790" y2="205"/><linearGradient id="BIb" href="#B0" x1="889" y1="430" x2="836" y2="256"/><linearGradient id="BJb" href="#B0" x1="958" y1="395" x2="877" y2="247"/><linearGradient id="BKb" href="#B0" x1="1010" y1="373" x2="893" y2="238"/><linearGradient id="BLb" href="#B0" x1="954" y1="445" x2="822" y2="247"/><linearGradient id="BMb" href="#B0" x1="931" y1="446" x2="893" y2="261"/><linearGradient id="BNb" href="#B0" x1="971" y1="439" x2="932" y2="253"/><linearGradient id="BOb" href="#B0" x1="1041" y1="417" x2="933" y2="253"/><linearGradient id="BPb" href="#B0" x1="1015" y1="450" x2="851" y2="279"/><linearGradient id="BQb" href="#B0" x1="980" y1="459" x2="932" y2="280"/><linearGradient id="BRb" href="#B0" x1="1023" y1="479" x2="979" y2="264"/><linearGradient id="BSb" href="#B0" x1="1107" y1="504" x2="807" y2="223"/><linearGradient id="BTb" href="#B0" x1="1039" y1="451.1" x2="955" y2="339.6"/><linearGradient id="BUb" href="#B0" x1="1048" y1="475" x2="1013" y2="283"/><linearGradient id="BVb" href="#B0" x1="1028" y1="495" x2="1028" y2="278"/><linearGradient id="BWb" href="#B0" x1="1064.3" y1="443.5" x2="1019.8" y2="402.2"/><linearGradient id="BXb" href="#B0" x1="1092.8" y1="446.4" x2="1007.9" y2="365.5"/><linearGradient id="BYb" href="#B0" x1="1113" y1="505" x2="1070" y2="293"/><linearGradient id="BZb" href="#B0" x1="966" y1="372" x2="863" y2="214"/><linearGradient id="Bac" href="#B0" x1="907" y1="429" x2="794" y2="197"/><linearGradient id="Bbc" href="#B0" x1="897" y1="421" x2="850" y2="244"/><linearGradient id="Bcc" href="#B0" x1="958" y1="399" x2="890" y2="234"/><linearGradient id="Bdc" href="#B0" x1="1019" y1="364" x2="903" y2="229"/><linearGradient id="Bec" href="#B0" x1="965" y1="431" x2="828" y2="246"/><linearGradient id="Bfc" href="#B0" x1="940" y1="437" x2="910" y2="249"/><linearGradient id="Bgc" href="#B0" x1="943" y1="439" x2="949" y2="242"/><linearGradient id="Bhc" href="#B0" x1="1028" y1="433" x2="942" y2="243"/><linearGradient id="Bic" href="#B0" x1="1028" y1="434" x2="859" y2="278"/><linearGradient id="Bjc" href="#B0" x1="991" y1="449" x2="943" y2="272"/><linearGradient id="Bkc" href="#B0" x1="977" y1="466" x2="997" y2="254"/><linearGradient id="Blc" href="#B0" x1="2721" y1="2083" x2="-2381" y2="-2943"/><linearGradient id="Bmc" href="#B0" x1="1048.7" y1="424.9" x2="972.4" y2="356.2"/><linearGradient id="Bnc" href="#B0" x1="1072" y1="450" x2="1005" y2="285"/><linearGradient id="Boc" href="#B0" x1="1024" y1="481" x2="1041" y2="268"/><linearGradient id="Bpc" href="#B0" x1="1068.3" y1="461.6" x2="1019.3" y2="337.8"/><linearGradient id="Bqc" href="#B0" x1="1091.5" y1="427.2" x2="1023.2" y2="379.1"/><linearGradient id="Brc" href="#B0" x1="1131.3" y1="396.8" x2="1048.8" y2="329.5"/><linearGradient id="Bsc" href="#B0" x1="1159" y1="472" x2="1075" y2="285"/><linearGradient id="Btc" href="#B0" x1="976" y1="362" x2="874" y2="204"/><linearGradient id="Buc" href="#B0" x1="917" y1="417" x2="797" y2="188"/><linearGradient id="Bvc" href="#B0" x1="906" y1="412" x2="866" y2="231"/><linearGradient id="Bwc" href="#B0" x1="950" y1="405" x2="905" y2="221"/><linearGradient id="Bxc" href="#B0" x1="1026" y1="358" x2="912" y2="221"/><linearGradient id="Byc" href="#B0" x1="976" y1="419" x2="833" y2="242"/><linearGradient id="Bzc" href="#B0" x1="949" y1="428" x2="928" y2="237"/><linearGradient id="BAc" href="#B0" x1="911" y1="423" x2="970" y2="234"/><linearGradient id="BBc" href="#B0" x1="986" y1="446" x2="956" y2="230"/><linearGradient id="BCc" href="#B0" x1="1042" y1="420" x2="865" y2="273"/><linearGradient id="BDc" href="#B0" x1="1006" y1="435" x2="944" y2="272"/><linearGradient id="BEc" href="#B0" x1="956" y1="435" x2="1017" y2="250"/><linearGradient id="BFc" href="#B0" x1="1023.7" y1="386.1" x2="1042.8" y2="399.4"/><linearGradient id="BGc" href="#B0" x1="1054.2" y1="398.6" x2="998.7" y2="363.1"/><linearGradient id="BHc" href="#B0" x1="1087.7" y1="406.1" x2="999.6" y2="308.4"/><linearGradient id="BIc" href="#B0" x1="1059" y1="472" x2="1046" y2="258"/><linearGradient id="BJc" href="#B0" x1="1065" y1="467" x2="1068" y2="282"/><linearGradient id="BKc" href="#B0" x1="1111.4" y1="414" x2="1034.6" y2="354.9"/><linearGradient id="BLc" href="#B0" x1="1126.5" y1="369.5" x2="1062.1" y2="333.2"/><linearGradient id="BMc" href="#B0" x1="1198" y1="401" x2="1082" y2="281"/><linearGradient id="BNc" href="#B0" x1="986" y1="351" x2="885" y2="195"/><linearGradient id="BOc" href="#B0" x1="925" y1="406" x2="800" y2="179"/><linearGradient id="BPc" href="#B0" x1="916" y1="402" x2="883" y2="219"/><linearGradient id="BQc" href="#B0" x1="924" y1="408" x2="926" y2="209"/><linearGradient id="BRc" href="#B0" x1="1032" y1="356" x2="920" y2="214"/><linearGradient id="BSc" href="#B0" x1="987" y1="404" x2="840" y2="243"/><linearGradient id="BTc" href="#B0" x1="958" y1="418" x2="948" y2="226"/><linearGradient id="BUc" href="#B0" x1="931" y1="416" x2="984" y2="225"/><linearGradient id="BVc" href="#B0" x1="1060" y1="416" x2="858" y2="253"/><linearGradient id="BWc" href="#B0" x1="1023.9" y1="411.1" x2="940.7" y2="298.5"/><linearGradient id="BXc" href="#B0" x1="999" y1="435" x2="1019" y2="238"/><linearGradient id="BYc" href="#B0" x1="966" y1="420" x2="1033" y2="244"/><linearGradient id="BZc" href="#B0" x1="1028" y1="437" x2="1036" y2="265"/><linearGradient id="Bad" href="#B0" x1="1058.1" y1="399.8" x2="1001.2" y2="344.8"/><linearGradient id="Bbd" href="#B0" x1="1057.7" y1="379.2" x2="1020.4" y2="358.5"/><linearGradient id="Bcd" href="#B0" x1="1076.8" y1="371.8" x2="1015.1" y2="337.4"/><linearGradient id="Bdd" href="#B0" x1="1105.2" y1="335.2" x2="1043.7" y2="282"/><linearGradient id="Bed" href="#B0" x1="1127" y1="436" x2="1041" y2="254"/><linearGradient id="Bfd" href="#B0" x1="1075" y1="471" x2="1057" y2="183"/><linearGradient id="Bgd" href="#B0" x1="1067" y1="457" x2="1138" y2="278"/><linearGradient id="Bhd" href="#B0" x1="1143.7" y1="394.8" x2="1055.6" y2="315.5"/><linearGradient id="Bid" href="#B0" x1="1144.7" y1="328.3" x2="1086.6" y2="298.2"/><linearGradient id="Bjd" href="#B0" x1="1194.9" y1="319.1" x2="1096.7" y2="272.6"/><linearGradient id="Bkd" href="#B0" x1="1176.4" y1="388.2" x2="1067.8" y2="315.7"/><linearGradient id="Bld" href="#B0" x1="996" y1="341" x2="896" y2="186"/><linearGradient id="Bmd" href="#B0" x1="934" y1="395" x2="803" y2="170"/><linearGradient id="Bnd" href="#B0" x1="925" y1="393" x2="901" y2="208"/><linearGradient id="Bod" href="#B0" x1="898" y1="390" x2="953" y2="203"/><linearGradient id="Bpd" href="#B0" x1="1031" y1="365" x2="926" y2="205"/><linearGradient id="Bqd" href="#B0" x1="1000" y1="389" x2="851" y2="245"/><linearGradient id="Brd" href="#B0" x1="975" y1="405" x2="927" y2="235"/><linearGradient id="Bsd" href="#B0" x1="927" y1="386" x2="1022" y2="236"/><linearGradient id="Btd" href="#B0" x1="922" y1="369" x2="1009" y2="234"/><linearGradient id="Bud" href="#B0" x1="1160" y1="464" x2="661" y2="128"/><linearGradient id="Bvd" href="#B0" x1="1036.4" y1="384.2" x2="958.9" y2="318.4"/><linearGradient id="Bwd" href="#B0" x1="1055" y1="406" x2="998" y2="242"/><linearGradient id="Bxd" href="#B0" x1="1000" y1="427" x2="1037" y2="228"/><linearGradient id="Byd" href="#B0" x1="1030" y1="430" x2="1096" y2="252"/><linearGradient id="Bzd" href="#B0" x1="1083.8" y1="388.9" x2="1006.1" y2="315.3"/><linearGradient id="BAd" href="#B0" x1="1081.5" y1="351.1" x2="1032.7" y2="328.6"/><linearGradient id="BBd" href="#B0" x1="1089.5" y1="323.8" x2="1045.9" y2="305.6"/><linearGradient id="BCd" href="#B0" x1="1158" y1="337.5" x2="1048.9" y2="261.6"/><linearGradient id="BDd" href="#B0" x1="1102" y1="446" x2="997" y2="245"/><linearGradient id="BEd" href="#B0" x1="1079" y1="446" x2="1176" y2="290"/><linearGradient id="BFd" href="#B0" x1="1067.5" y1="413.8" x2="1172.8" y2="344.9"/><linearGradient id="BGd" href="#B0" x1="1125" y1="452" x2="1101" y2="254"/><linearGradient id="BHd" href="#B0" x1="1183.8" y1="329" x2="1105.9" y2="262.3"/><linearGradient id="BId" href="#B0" x1="1203.8" y1="293.2" x2="1112.5" y2="255.5"/><linearGradient id="BJd" href="#B0" x1="1176.9" y1="332.4" x2="1097" y2="302.5"/><linearGradient id="BKd" href="#B0" x1="1146" y1="439" x2="1028" y2="371.9"/><linearGradient id="BLd" href="#B0" x1="1006" y1="330" x2="907" y2="176"/><linearGradient id="BMd" href="#B0" x1="943" y1="385" x2="804" y2="157"/><linearGradient id="BNd" href="#B0" x1="936" y1="383" x2="905" y2="205"/><linearGradient id="BOd" href="#B0" x1="899" y1="365" x2="990" y2="213"/><linearGradient id="BPd" href="#B0" x1="945" y1="399" x2="952" y2="189"/><linearGradient id="BQd" href="#B0" x1="1024" y1="346" x2="896" y2="243"/><linearGradient id="BRd" href="#B0" x1="988" y1="393" x2="925" y2="243"/><linearGradient id="BSd" href="#B0" x1="948" y1="384" x2="1036" y2="226"/><linearGradient id="BTd" href="#B0" x1="938" y1="351.3" x2="1027.1" y2="238.6"/><linearGradient id="BUd" href="#B0" x1="987" y1="404" x2="1058" y2="223"/><linearGradient id="BVd" href="#B0" x1="1023" y1="374.2" x2="986.1" y2="298.7"/><linearGradient id="BWd" href="#B0" x1="972" y1="326" x2="1110" y2="393"/><linearGradient id="BXd" href="#B0" x1="1043.6" y1="352.8" x2="990.5" y2="324.4"/><linearGradient id="BYd" href="#B0" x1="1074.1" y1="342.4" x2="997.2" y2="275.3"/><linearGradient id="BZd" href="#B0" x1="1070" y1="419" x2="1015" y2="217"/><linearGradient id="Bae" href="#B0" x1="1041" y1="417" x2="1147" y2="282"/><linearGradient id="Bbe" href="#B0" x1="1112" y1="394" x2="1029" y2="261"/><linearGradient id="Bce" href="#B0" x1="1114.1" y1="320.9" x2="1048.6" y2="286"/><linearGradient id="Bde" href="#B0" x1="1103.2" y1="283.4" x2="1066" y2="269.4"/><linearGradient id="Bee" href="#B0" x1="1160.2" y1="279.6" x2="1067.5" y2="247.5"/><linearGradient id="Bfe" href="#B0" x1="1148.1" y1="313.8" x2="1058.9" y2="272.8"/><linearGradient id="Bge" href="#B0" x1="1113" y1="433" x2="958" y2="253"/><linearGradient id="Bhe" href="#B0" x1="1097" y1="439" x2="1150" y2="257"/><linearGradient id="Bie" href="#B0" x1="1090.9" y1="413.7" x2="1184.5" y2="370.1"/><linearGradient id="Bje" href="#B0" x1="1079.1" y1="362" x2="1155.2" y2="337.1"/><linearGradient id="Bke" href="#B0" x1="1012.7" y1="331.7" x2="1133.6" y2="254"/><linearGradient id="Ble" href="#B0" x1="1157" y1="460" x2="1124" y2="243"/><linearGradient id="Bme" href="#B0" x1="1209.7" y1="317.2" x2="1113.8" y2="267.5"/><linearGradient id="Bne" href="#B0" x1="1175.8" y1="326.1" x2="1107.7" y2="306.5"/><linearGradient id="Boe" href="#B0" x1="1016" y1="320" x2="917" y2="167"/><linearGradient id="Bpe" href="#B0" x1="952" y1="375" x2="805" y2="144"/><linearGradient id="Bqe" href="#B0" x1="946" y1="373" x2="910" y2="203"/><linearGradient id="Bre" href="#B0" x1="915" y1="350" x2="1017" y2="226"/><linearGradient id="Bse" href="#B0" x1="902" y1="341" x2="984" y2="197"/><linearGradient id="Bte" href="#B0" x1="1031" y1="340" x2="906" y2="232"/><linearGradient id="Bue" href="#B0" x1="1020" y1="371" x2="845" y2="241"/><linearGradient id="Bve" href="#B0" x1="1000.4" y1="379.9" x2="928.8" y2="249.4"/><linearGradient id="Bwe" href="#B0" x1="970" y1="384" x2="1036" y2="207"/><linearGradient id="Bxe" href="#B0" x1="958" y1="360" x2="1043" y2="227"/><linearGradient id="Bye" href="#B0" x1="999" y1="391" x2="1098" y2="234"/><linearGradient id="Bze" href="#B0" x1="1048.2" y1="371.8" x2="982.1" y2="267.9"/><linearGradient id="BAe" href="#B0" x1="1044.6" y1="343.8" x2="1000" y2="311.5"/><linearGradient id="BBe" href="#B0" x1="1038.1" y1="331.9" x2="1017.6" y2="321.1"/><linearGradient id="BCe" href="#B0" x1="1046.3" y1="318.2" x2="1022.2" y2="309.8"/><linearGradient id="BDe" href="#B0" x1="1061.4" y1="299.7" x2="1024.6" y2="284.5"/><linearGradient id="BEe" href="#B0" x1="1119" y1="336" x2="1006.2" y2="243.1"/><linearGradient id="BFe" href="#B0" x1="1068" y1="414" x2="974" y2="194"/><linearGradient id="BGe" href="#B0" x1="1059" y1="412" x2="1149" y2="249"/><linearGradient id="BHe" href="#B0" x1="1056.2" y1="389" x2="1146.1" y2="348.5"/><linearGradient id="BIe" href="#B0" x1="1030" y1="405" x2="1101" y2="224"/><linearGradient id="BJe" href="#B0" x1="1163.3" y1="323.8" x2="1076.7" y2="231"/><linearGradient id="BKe" href="#B0" x1="1165.3" y1="250.2" x2="1086.8" y2="224.9"/><linearGradient id="BLe" href="#B0" x1="1140.2" y1="282.9" x2="1078.2" y2="266"/><linearGradient id="BMe" href="#B0" x1="1127.3" y1="397.6" x2="998.2" y2="324.5"/><linearGradient id="BNe" href="#B0" x1="1114" y1="429" x2="1106" y2="254"/><linearGradient id="BOe" href="#B0" x1="1102.7" y1="411.8" x2="1208.8" y2="342.9"/><linearGradient id="BPe" href="#B0" x1="1101.7" y1="372.8" x2="1168.7" y2="354.8"/><linearGradient id="BQe" href="#B0" x1="1083.9" y1="316.1" x2="1155.9" y2="301.8"/><linearGradient id="BRe" href="#B0" x1="1121.9" y1="285.3" x2="1140.2" y2="281.5"/><linearGradient id="BSe" href="#B0" x1="1116.3" y1="305.7" x2="1148.1" y2="297.7"/><linearGradient id="BTe" href="#B0" x1="1108" y1="324.8" x2="1158.4" y2="306.6"/><linearGradient id="BUe" href="#B0" x1="1090.5" y1="365.3" x2="1180.1" y2="296.4"/><linearGradient id="BVe" href="#B0" x1="1178" y1="436" x2="1105" y2="243"/><linearGradient id="BWe" href="#B0" x1="1186" y1="371.8" x2="1087.2" y2="330.2"/><linearGradient id="BXe" href="#B0" x1="1026" y1="310" x2="928" y2="158"/><linearGradient id="BYe" href="#B0" x1="960" y1="365" x2="805" y2="131"/><linearGradient id="BZe" href="#B0" x1="957" y1="364" x2="916" y2="201"/><linearGradient id="Baf" href="#B0" x1="933" y1="342" x2="1039" y2="233"/><linearGradient id="Bbf" href="#B0" x1="920.7" y1="297.1" x2="1002.4" y2="218.7"/><linearGradient id="Bcf" href="#B0" x1="1029" y1="370" x2="914" y2="182"/><linearGradient id="Bdf" href="#B0" x1="1034" y1="342" x2="886" y2="255"/><linearGradient id="Bef" href="#B0" x1="1013.7" y1="364" x2="936.5" y2="266.1"/><linearGradient id="Bff" href="#B0" x1="1008" y1="378" x2="1011" y2="193"/><linearGradient id="Bgf" href="#B0" x1="988" y1="377" x2="1041" y2="195"/><linearGradient id="Bhf" href="#B0" x1="1016" y1="381" x2="1130" y2="263"/><linearGradient id="Bif" href="#B0" x1="1068" y1="374" x2="1002" y2="225"/><linearGradient id="Bjf" href="#B0" x1="1074.4" y1="321" x2="1008.2" y2="278.9"/><linearGradient id="Bkf" href="#B0" x1="1065.9" y1="298.8" x2="1026" y2="283"/><linearGradient id="Blf" href="#B0" x1="1061.7" y1="284.6" x2="1035.7" y2="276.6"/><linearGradient id="Bmf" href="#B0" x1="1058.2" y1="272.3" x2="1042.5" y2="268.2"/><linearGradient id="Bnf" href="#B0" x1="1140.5" y1="272.6" x2="1023.1" y2="238.8"/><linearGradient id="Bof" href="#B0" x1="1115.9" y1="286.4" x2="1029.5" y2="248.3"/><linearGradient id="Bpf" href="#B0" x1="1086" y1="396" x2="941" y2="225"/><linearGradient id="Bqf" href="#B0" x1="1075" y1="405" x2="1125" y2="225"/><linearGradient id="Brf" href="#B0" x1="1071.5" y1="389.4" x2="1170" y2="338.8"/><linearGradient id="Bsf" href="#B0" x1="1070.6" y1="355.9" x2="1130.8" y2="341.4"/><linearGradient id="Btf" href="#B0" x1="1057.6" y1="299.9" x2="1117.5" y2="286.7"/><linearGradient id="Buf" href="#B0" x1="991.8" y1="266" x2="1110.5" y2="226.2"/><linearGradient id="Bvf" href="#B0" x1="1017" y1="351" x2="1111" y2="218"/><linearGradient id="Bwf" href="#B0" x1="1194" y1="358" x2="1085" y2="223"/><linearGradient id="Bxf" href="#B0" x1="1166" y1="288.5" x2="1083.1" y2="254.8"/><linearGradient id="Byf" href="#B0" x1="1143.5" y1="297.8" x2="1082.7" y2="283.2"/><linearGradient id="Bzf" href="#B0" x1="1135.9" y1="389.7" x2="1006.1" y2="337.5"/><linearGradient id="BAf" href="#B0" x1="1130.5" y1="415.5" x2="1064.7" y2="306.9"/><linearGradient id="BBf" href="#B0" x1="1114" y1="412" x2="1216" y2="277"/><linearGradient id="BCf" href="#B0" x1="1106.9" y1="365.7" x2="1191.9" y2="336.3"/><linearGradient id="BDf" href="#B0" x1="1136.9" y1="323.4" x2="1150.2" y2="320.8"/><linearGradient id="BEf" href="#B0" x1="1143.6" y1="343.1" x2="1150.4" y2="341.8"/><linearGradient id="BFf" href="#B0" x1="1154.4" y1="354.1" x2="1138" y2="357.1"/><linearGradient id="BGf" href="#B0" x1="1173.1" y1="362.9" x2="1103.7" y2="377.3"/><linearGradient id="BHf" href="#B0" x1="1036" y1="299" x2="938" y2="150"/><linearGradient id="BIf" href="#B0" x1="968" y1="355" x2="806" y2="118"/><linearGradient id="BJf" href="#B0" x1="967" y1="355" x2="924" y2="198"/><linearGradient id="BKf" href="#B0" x1="948.8" y1="336.1" x2="1055.3" y2="232.2"/><linearGradient id="BLf" href="#B0" x1="947.8" y1="286.4" x2="1014.7" y2="238.8"/><linearGradient id="BMf" href="#B0" x1="1052" y1="331" x2="885" y2="245"/><linearGradient id="BNf" href="#B0" x1="1025.9" y1="342" x2="959.3" y2="288.3"/><linearGradient id="BOf" href="#B0" x1="1044.3" y1="336.9" x2="981.7" y2="233.3"/><linearGradient id="BPf" href="#B0" x1="1036" y1="379" x2="1000" y2="170"/><linearGradient id="BQf" href="#B0" x1="1035" y1="377" x2="1143" y2="233"/><linearGradient id="BRf" href="#B0" x1="1034.4" y1="358.7" x2="1120.7" y2="322.9"/><linearGradient id="BSf" href="#B0" x1="997" y1="343" x2="1101" y2="219"/><linearGradient id="BTf" href="#B0" x1="1110" y1="351" x2="1033" y2="204"/><linearGradient id="BUf" href="#B0" x1="1112.5" y1="267.7" x2="1041.8" y2="226.7"/><linearGradient id="BVf" href="#B0" x1="1094" y1="235.5" x2="1053.6" y2="220.7"/><linearGradient id="BWf" href="#B0" x1="1078.8" y1="218" x2="1059.8" y2="212.4"/><linearGradient id="BXf" href="#B0" x1="1130.9" y1="222.7" x2="1056" y2="205.9"/><linearGradient id="BYf" href="#B0" x1="1107.9" y1="240.6" x2="1055.9" y2="229"/><linearGradient id="BZf" href="#B0" x1="1099.3" y1="337.7" x2="1012.1" y2="303.5"/><linearGradient id="Bag" href="#B0" x1="1092" y1="390" x2="885" y2="210"/><linearGradient id="Bbg" href="#B0" x1="1090" y1="396" x2="1084" y2="224"/><linearGradient id="Bcg" href="#B0" x1="1084.4" y1="385.5" x2="1192.2" y2="309.8"/><linearGradient id="Bdg" href="#B0" x1="1082.8" y1="357.4" x2="1152.8" y2="336.8"/><linearGradient id="Beg" href="#B0" x1="1080.9" y1="321.6" x2="1133.7" y2="312.8"/><linearGradient id="Bfg" href="#B0" x1="1364" y1="236" x2="976" y2="288"/><linearGradient id="Bgg" href="#B0" x1="1107.7" y1="305.4" x2="1122.7" y2="302.4"/><linearGradient id="Bhg" href="#B0" x1="1105.6" y1="310.4" x2="1126.6" y2="305.5"/><linearGradient id="Big" href="#B0" x1="1102.5" y1="316.1" x2="1132.1" y2="307.7"/><linearGradient id="Bjg" href="#B0" x1="1096.1" y1="324.3" x2="1142.6" y2="306.3"/><linearGradient id="Bkg" href="#B0" x1="1084" y1="346.4" x2="1164.4" y2="288.5"/><linearGradient id="Blg" href="#B0" x1="1091" y1="394" x2="1161" y2="225"/><linearGradient id="Bmg" href="#B0" x1="1166" y1="377" x2="1041" y2="255"/><linearGradient id="Bng" href="#B0" x1="1152.7" y1="350.4" x2="1055.2" y2="322.7"/><linearGradient id="Bog" href="#B0" x1="1154.2" y1="367.3" x2="1031.2" y2="336.9"/><linearGradient id="Bpg" href="#B0" x1="1120.2" y1="384" x2="1248.9" y2="430.6"/><linearGradient id="Bqg" href="#B0" x1="1147.1" y1="385.9" x2="1102.2" y2="362.2"/><linearGradient id="Brg" href="#B0" x1="1165.8" y1="386" x2="1087" y2="293.3"/><linearGradient id="Bsg" href="#B0" x1="1116" y1="366.2" x2="1203.1" y2="292.4"/><linearGradient id="Btg" href="#B0" x1="1150.8" y1="393.6" x2="1197.9" y2="365.5"/>
<g shape-rendering="crispEdges" stroke="none">
<path d="M932.9,153.9l.3 .3 .3 .8 .9 5.4 .7 5.8 1 11.8 1.3 20.1 4.1 67.7 1.3 18.9 1.3 15.8 2.2 20.6 1.2 8.6 1.5 8.1 10-6.5-1.5-7.8-1.2-8.3-1.2-10.6-1.3-13.3-2.2-31-4-69.4-1.3-20.8-1-12.2-.6-6.1-.9-5.6-.3-.8-.3-.4z" fill="url(#BHf)"/><path d="M949,337.8l.9 3.9 1.2 4.1 1.2 3.2 1.4 3 1.5 2.1 1.4 1.3 .9 .5 .9 .1 1.4-.2 .6-.3 9.9-6.4-1.5 .3-.8-.2-.9-.3-1.7-1.4-1.5-2-1.4-2.7-1.2-2.9-1.2-3.8-1.1-4.8z" fill="url(#BIf)"/><path d="M960.4,355.5l.6-.5 9.8-6.2-.5 .3z" fill="#3e51c5db"/><path d="M961,355l1.4-1.8 1.4-2.9 1.2-3.4 1.1-4.7 1.2-6.2 .8-5.8 2-18.6 .3-3.3 9.9 3.8-2 15.7-.9 5-1.1 5.2-1.2 3.9-1.4 3.4-1.4 2.3-1.5 1.2z" fill="url(#BJf)"/><path d="M970.4,308.3l2.5-32.3 1.1-12.2 .6-4.3 .6-3 .6-1.4 .3-.1 .3 .2 10 14.6-.3-.3-.3-.1-.6 .9-.6 2.3-.6 3.5-1.1 9.9-2.6 26.1z" fill="url(#BKf)"/><path d="M976.4,255.2l.6 1.3 .9 3.7 2.7 15.7 1.5 7.6 1.5 5.5 1.4 3.5 9.9 12.4-.9-1.4-.6-1.4-1.4-4.9-1.5-7-2.6-15.1-.9-3.8-.6-1.5z" fill="url(#BLf)"/><path d="M985,292.5l1.2 1.8 .3 .4 9.9 11.2-.9-.4-.6-.6z" fill="#a9c6fddb"/><path d="M986.5,294.7l1.2 1.2 9.9 9.5-.6 .4-.6 .1z" fill="#a7c5fedb"/><path d="M987.7,295.9l1.5 1.6 1.2 2 1.1 2.9 1.2 3.9 9.9-7.3-1.2 1.3-2.7 3.9-1.1 1.2z" fill="#a7c5fedb"/><path d="M992.7,306.3l4.7 21 2.1 7.7 1.2 3.4 1.2 2.4 1.1 1.6 .6 .4 .6 .1 .9-.2 .6-.4 9.8-17.8-.9-.2-.9-.8-.9-1.4-.8-1.8-1.8-5-3.2-10.9-1.5-3.7-.9-1.4-.6-.5-.5-.1-.9 .3z" fill="url(#BMf)"/><path d="M1005.7,342.3l.3-.4 .6-.9 9.8-16.9-.9 .4z" fill="#799cf8db"/><path d="M1006.6,341l.9-1.9 9.8-16.1-.9 1.1z" fill="#7a9df8db"/><path d="M1007.5,339.1l1.5-4.8 1.5-7.1 3.9-25.9 .4-1.7 9.7-7-.9 4-2.4 13.1-1.2 5.5-1.2 4.3-1.5 3.5z" fill="url(#BNf)"/><path d="M1014.8,299.6l.6-2.8 .6-1.8 9.7-4.9-.6 .8-.6 1.7z" fill="url(#BOf)"/><path d="M1016,295l.3-.4 9.7-4.4-.3-.1z" fill="#c5d6f2db"/><path d="M1016.3,294.6l.3 0 .3 .3 .9 3 .8 5.8 3.7 35 1.2 8.6 1.1 7 1.5 6.7 1.4 4.7 1.5 3.2 .9 1.4 .9 .9 9.5-.9-1.7-2.8-1.8-4.3-1.4-5-1.4-7-1.2-7.3-1.1-8.9-3.6-35.6-1.2-7.1-.6-1.8-.3-.3z" fill="url(#BPf)"/><path d="M1030.8,371.2l.9 .5 .9 .2 9.5 0-1.8-1.6z" fill="#455ccedb"/><path d="M1032.6,371.9l.9-.1 .8-.6 9.6 1.3-.9-.1-.9-.5z" fill="#455ccedb"/><path d="M1034.3,371.2l1.3-1.3 .9-1.4 1.2-2.8 .9-2.6 1.9-7.2 1.8-10.3 9.4 15.7-1.8 5.3-1.8 3.4-.9 1.1-1.2 .9-.9 .4-1.2 .1z" fill="url(#BQf)"/><path d="M1042.3,345.6l2-13.6 1.9-16.9 2-19 1.7-16 1.7-14.9 9.5 14.4-2.5 32.4-2.1 20.8-1 8-1.3 8.7-1.2 6.7-1.3 5.1z" fill="url(#BRf)"/><path d="M1051.6,265.2l1.7-13.4 9.6 1-1.8 26.8z" fill="url(#BSf)"/><path d="M1053.3,251.8l1.3-9.3 9.8-11.2-1.5 21.5z" fill="url(#BTf)"/><path d="M1054.6,242.5l1.3-7.8 10-22.6-1.5 19.2z" fill="url(#BUf)"/><path d="M1055.9,234.7l1-4.4 .3-1.2 10.1-32-1.4 15z" fill="url(#BVf)"/><path d="M1057.2,229.1l.3-.9 .3-.6 10.2-35.8-.7 5.3z" fill="url(#BWf)"/><path d="M1057.8,227.6l.4-.4 .3-.1 10.1-39-.6 3.7z" fill="#d85646db"/><path d="M1058.5,227.1l.3 .3 .3 .6 .3 1 .5 3.3 1.1 11.6 .8 12.8 10.3-50.4-.8-11.1-.8-6.9-.3-1.2-.3-.8-.3-.3-.3 .2-.7 1.9z" fill="url(#BXf)"/><path d="M1061.8,256.7l2.9 62.6 1.5 25.1 10-35.5-3.1-82.3-1-20.3z" fill="url(#BYf)"/><path d="M1066.2,344.4l1.6 18.2 1.7 12.5 .8 4.8 1.1 5 9.6-16.9-1.3-9.8-1.3-13.2-1.3-17.9-.9-18.2z" fill="url(#BZf)"/><path d="M1071.4,384.9l1.8 5.6 1.7 3.7 .9 1.4 1.2 1.4 1.2 1 1.2 .5 1.2 .2 .9-.2 1.3-.6 9.3-6.7-1.8-.5-1.8-1.4-1.4-1.8-1.5-2.7-1.4-3.6-1.2-3.8-1.1-4.9-.9-4.5z" fill="url(#Bag)"/><path d="M1082.8,397.9l1.2-1.1 .9-1.3 9.4-4.7-.9 .3-1.3 .1z" fill="#3d50c3db"/><path d="M1084.9,395.5l1.6-2.9 1.6-4.5 1.6-6.4 1.4-7.1 9.1 6.1-1.3 3.6-1.5 3.2-1.6 2.1-1.5 1.2z" fill="url(#Bbg)"/><path d="M1091.1,374.6l1.3-9.3 1.5-12.1 1.1-11.2 8.9 21-1.7 9.7-2 8z" fill="url(#Bcg)"/><path d="M1095,342l2.4-27.7 1.2-15.8 8.6 38.9-1.9 15.5-1.4 10.1z" fill="url(#Bdg)"/><path d="M1098.6,298.5l2.8-35.7 1.2-11.8 .7-5.9 .7-4.1 8.2 58.7-1 4.4-1.1 7.2-2.9 26.1z" fill="url(#Beg)"/><path d="M1104,241l.4-1.5 .6-1.6 .3-.2 .4 .2 .3 .4 .8 3.1 8.1 62.1-.8-3.5-.6-1.3-.3-.2-.3 .1-.7 1.1z" fill="url(#Bfg)"/><path d="M1106.8,241.4l.6 3.2 .6 3.9 8.1 61.2-1.2-6.2z" fill="#f5c0a7db"/><path d="M1108,248.5l.8 7 .8 7.9 8.1 55.6-1.6-9.3z" fill="#f1cdbadb"/><path d="M1109.6,263.4l.7 8.8 .3 3.1 8.2 48.7-1.1-5z" fill="#e8d6ccdb"/><path d="M1110.6,275.3l.5 6.4 8.3 44.3-.6-2z" fill="#e0dbd8db"/><path d="M1111.1,281.7l.4 6.7 8.5 39.2-.6-1.6z" fill="url(#Bgg)"/><path d="M1111.5,288.4l.5 7 8.6 33.6-.6-1.4z" fill="url(#Bhg)"/><path d="M1112,295.4l.5 7.1 8.7 27.5-.6-1z" fill="url(#Big)"/><path d="M1112.5,302.5l.7 10.9 8.9 17.6-.9-1z" fill="url(#Bjg)"/><path d="M1113.2,313.4l.7 10.8 9.1 7.3-.9-.5z" fill="url(#Bkg)"/><path d="M1113.9,324.2l.5 7.1 9.2 .4-.6-.2z" fill="url(#Blg)"/><path d="M1114.4,331.3l1.4 19.5 9.7-19.1-1.9 0z" fill="url(#Bmg)"/><path d="M1115.8,350.8l1 11.2 1.3 11.7 1.4 9.3 10.2-45.9-.9-2.4-.9-1.6-1.2-1.2-1.2-.2z" fill="url(#Bng)"/><path d="M1119.5,383l1.1 5.8 1.4 5.7 1.5 4.2 1.7 3.4 .9 1.1 .9 .7 1.3 .5 .9-.1 .3-.1 9.8-30.1-.9-1.5-.9-2.1-1.7-5.6-1.4-6-3.3-16.4-1.4-5.4z" fill="url(#Bog)"/><path d="M1129.5,404.2l1.3-.9 1.6-2.2 1.3-2.9 9.6-23.8-.9 .9-1 .3-.9-.3-1.2-1.2z" fill="url(#Bpg)"/><path d="M1133.7,398.2l1.7-5.2 9.6-21.6-.7 1.4-1 1.6z" fill="#6788eedb"/><path d="M1135.4,393l1-4.1 1.8-9.1 1.8-11.7 9.5-13.7-2.5 10.8-1 3.5-1 2.7z" fill="url(#Bqg)"/><path d="M1140,368.1l.8-5.3 2.3-16.2 1.5-8.2 9.1-1.5-.7 1.5-1 3.8-2.5 12.2z" fill="url(#Brg)"/><path d="M1144.6,338.4l.3-1.3 9.1-.5-.3 .3z" fill="#bed2f6db"/><path d="M1144.9,337.1l.7-1.8 .3-.3 .3 0 9 3.6-.6-1.6-.3-.4-.3 0z" fill="#bfd3f6db"/><path d="M1146.2,335l.4 .4 .5 1.7 .9 4.8 2.5 22.4 1.8 13 1.1 5.4 8.6 13.5-1.3-7.7-1.1-7.8-3.1-33.1-.7-6.2-.6-2.8z" fill="url(#Bsg)"/><path d="M1153.4,382.7l.9 3.1 1.2 2.9 .3 .6 8.4 15.2-1.1-3.6-1.1-4.7z" fill="url(#Btg)"/><path d="M1155.8,389.3l1.2 1.5 8.4 16.4-1.2-2.7z" fill="#5b7ae5db"/><path d="M1157,390.8l.9 .4 .6 0 .7-.3 8.3 19.5-1.2-1.6-.9-1.6z" fill="#5a78e4db"/><path d="M922.5,162.8l.3 .3 .3 .8 .9 5.2 .7 5.6 1 11.3 1.7 24.7 3.9 60.7 2.7 34.6 1.3 13 1.2 10.4 1.2 8.3 1.3 6.5 10-6.4-1.5-8.1-1.2-8.6-2.2-20.6-1.3-15.8-1.3-18.9-4.1-67.7-1.3-20.1-1-11.8-.7-5.8-.9-5.4-.3-.8-.3-.3z" fill="url(#BXe)"/><path d="M939,344.2l.9 4 1.2 4.2 1.1 3.3 1.5 3.1 1.2 1.8 1.4 1.3 1.5 .6 1.4-.2 .3-.1 .3-.2 10-6.2-1.4 .2-.9-.1-.9-.5-1.4-1.3-1.5-2.1-1.4-3-1.2-3.2-1.2-4.1-.9-3.9z" fill="url(#BYe)"/><path d="M949.8,362l.6-.5 10-6-.6 .3z" fill="#4358cbdb"/><path d="M950.4,361.5l1.4-1.9 1.5-3.1 1.4-4.8 1.1-5.4 1.2-7.1 1.1-9.3 1.9-22.4 10.1 4.1-2 18.6-.8 5.8-1.2 6.2-1.1 4.7-1.2 3.4-1.4 2.9-1.4 1.8-.6 .5z" fill="url(#BZe)"/><path d="M960,307.5l.3-3.9 2.4-37.7 1.2-13.9 .5-4.9 .6-3.3 .6-1.7 .3-.2 .3 .1 10.2 13.2-.3-.2-.3 .1-.6 1.4-.6 3-.6 4.3-1.1 12.2-2.5 32.3-.3 3.3z" fill="url(#Baf)"/><path d="M966.2,242l.6 1.3 .9 3.8 4.3 25.5 1.5 7.2 1.8 7.1 .9 3.3 10 4.1-1.2-1.8-1.4-3.5-1.5-5.5-1.5-7.6-2.7-15.7-.9-3.7-.6-1.3z" fill="url(#Bbf)"/><path d="M976.2,290.2l1.5 5.8 1.5 6.6 3.6 19.6 9.9-15.9-1.2-3.9-1.1-2.9-1.2-2-1.5-1.6-1.2-1.2-.3-.4z" fill="url(#Bcf)"/><path d="M982.8,322.2l1.8 10 2.3 11.3 1.2 4.4 1.2 3.5 1.2 2.6 1.2 1.7 1.2 .9 .6 .1 .6-.1 .3-.2 9.8-13.5-.6-.1-.6-.4-1.1-1.6-1.2-2.4-1.2-3.4-2.1-7.7-4.7-21z" fill="url(#Bdf)"/><path d="M994.4,356.4l.5-.5 .3-.4 9.9-12.8-.9 .2z" fill="#6b8df0db"/><path d="M995.2,355.5l.9-1.4 9.9-12.2-.3 .4-.6 .4z" fill="#6c8ff1db"/><path d="M996.1,354.1l1.2-3 .9-3.2 1.8-8.9 1.5-10.5 2.5-20.6 .6-5 9.8-1.6-3.9 25.9-1.5 7.1-1.5 4.8-.9 1.9-.6 .9z" fill="url(#Bef)"/><path d="M1004.6,302.9l1.2-7.6 .6-2 .3-.5 9.9 1.8-.3 0-.3 .4-.6 1.8-.6 2.8-.4 1.7z" fill="url(#Bff)"/><path d="M1006.7,292.8l.3-.1 9.9 2.2-.3-.3z" fill="#d1dae9db"/><path d="M1007,292.7l.3 .4 .6 1.8 .9 5.3 3.8 35.4 2 14.7 1.2 6 1.5 5.5 1.1 3 .6 1.1 .9 1.1 .6 .5 .6 .3 9.7 3.4-.9-.9-.9-1.4-1.5-3.2-1.4-4.7-1.5-6.7-1.1-7-1.2-8.6-3.7-35-.8-5.8-.9-3z" fill="url(#Bgf)"/><path d="M1021.1,367.8l.9-.1 9.7 4-.9-.5z" fill="#5875e1db"/><path d="M1022,367.7l1.2-.7 1.2-1.7 1.2-2.5 1.3-3.5 2.1-8.2 2.8-13.9 1.9-10.1 1.6-7.8 .9-4.3 .3-1.3 9.7 1.4-1.9 16.9-2 13.6-1.8 10.3-1.9 7.2-.9 2.6-1.2 2.8-.9 1.4-1.3 1.3-.8 .6-.9 .1-.9-.2z" fill="url(#Bhf)"/><path d="M1036.5,313.7l1.9-7.3 9.8-10.3-2 19z" fill="url(#Bif)"/><path d="M1038.4,306.4l1.6-5.6 9.9-20.7-1.7 16z" fill="url(#Bjf)"/><path d="M1040,300.8l.3-1.2 1.3-4.9 10-29.5-1.7 14.9z" fill="url(#Bkf)"/><path d="M1041.6,294.7l1.6-7.2 10.1-35.7-1.7 13.4z" fill="url(#Blf)"/><path d="M1043.2,287.5l1.9-10.1 1.6-8.4 10.2-38.7-1 4.4-1.3 7.8-1.3 9.3z" fill="url(#Bmf)"/><path d="M1046.7,269l.7-2.7 10.1-38.1-.3 .9-.3 1.2z" fill="#f59c7ddb"/><path d="M1047.4,266.3l.6-1.8 .6-.8 .3 .1 .3 .5 .6 2.2 .6 4 .6 5.5 10-32.1-1.1-11.6-.5-3.3-.3-1-.3-.6-.3-.3-.3 .1-.4 .4-.3 .6z" fill="url(#Bnf)"/><path d="M1051,276l1 15.2 2.1 36.5 1.3 20.2 1.3 15.9 1.4 12 9.7-13.2-1.6-18.2-1.5-25.1-2.9-62.6-.8-12.8z" fill="url(#Bof)"/><path d="M1058.1,375.8l1.7 10.3 .9 3.8 1.2 4.1 1.1 3.2 1.2 2.3 1.5 2 1.5 1.2 1.5 .3 1.2-.3 9.5-4.2-1.2-.5-1.2-1-1.2-1.4-.9-1.4-1.7-3.7-1.8-5.6-1.1-5-.8-4.8-1.7-12.5z" fill="url(#Bpf)"/><path d="M1069.9,402.7l1.3-.8 .9-1 9.4-2.4-.9 .2-1.2-.2z" fill="#4055c8db"/><path d="M1072.1,400.9l1.2-2 1.3-2.8 1.3-3.9 1-3.7 1.9-10.1 9.3 9.7-1.6 4.5-1.6 2.9-.9 1.3-1.2 1.1-1.3 .6z" fill="url(#Bqf)"/><path d="M1078.8,378.4l1.4-9.4 1.1-8.6 2.2-22.2 8.9 27.1-1.3 9.3-1.4 7.1-1.6 6.4z" fill="url(#Brf)"/><path d="M1083.5,338.2l1.9-23.8 2.8-38.9 .4-5.6 8.8 44.4-2.4 27.7-1.1 11.2-1.5 12.1z" fill="url(#Bsf)"/><path d="M1088.6,269.9l2.4-30.9 1.2-11.7 .7-5.9 .7-4 .7-2.3 9 30-.7 5.9-1.2 11.8-2.8 35.7-1.2 15.8z" fill="url(#Btf)"/><path d="M1094.3,215.1l.3-.4 .3 .1 .3 .6 9.2 24.1-.4 1.5-.7 4.1z" fill="url(#Buf)"/><path d="M1095.2,215.4l.6 2.5 .6 4.4 9.3 15.6-.4-.2-.3 .2-.6 1.6z" fill="#d24b40db"/><path d="M1096.4,222.3l.2 2.8 9.4 13.2-.3-.4z" fill="#d65244db"/><path d="M1096.6,225.1l1.3 19.7 9.5-.2-.6-3.2-.8-3.1z" fill="url(#Bvf)"/><path d="M1097.9,244.8l.2 4.8 .9 21.4 9.8-15.5-.8-7-.6-3.9z" fill="url(#Bwf)"/><path d="M1099,271l1.2 34 10.1-32.8-.7-8.8-.8-7.9z" fill="url(#Bxf)"/><path d="M1100.2,305l1.5 35.7 1.7 27.1 1.5 16.7 .8 6.5 1.1 7 10-36-1-11.2-1.4-19.5-.5-7.1-.7-10.8-.7-10.9-.5-7.1-.5-7-.4-6.7-.5-6.4-.3-3.1z" fill="url(#Byf)"/><path d="M1106.8,398l1.2 5.5 1.1 4.4 1.5 4.1 1.5 2.9 .9 1.3 .9 .9 .9 .6 .9 .4 9.5-16-1.7-3.4-1.5-4.2-1.4-5.7-1.1-5.8-1.4-9.3-1.3-11.7z" fill="url(#Bzf)"/><path d="M1115.7,418.1l.3 0 .9 0 1-.4 .9-.7 1-1.1 9.4-11.6-.9 .1-1.3-.5-.9-.7-.9-1.1z" fill="#4a63d3db"/><path d="M1119.8,415.9l1.6-2.7 9.4-9.9-1.3 .9-.3 .1z" fill="#4c66d6db"/><path d="M1121.4,413.2l1.6-4.3 1.4-4.9 1.4-6.6 1.5-8.5 9.1 0-1 4.1-1.7 5.2-1.3 2.9-1.6 2.2z" fill="url(#BAf)"/><path d="M1127.3,388.9l1.5-11.1 3.2-29.7 8.8 14.7-.8 5.3-1.8 11.7-1.8 9.1z" fill="url(#BBf)"/><path d="M1132,348.1l2.1-21.2 2-17.7 .8-4.9 .7-3.2 8.3 33.9-.3 .3-.7 1.8-.3 1.3-1.5 8.2-2.3 16.2z" fill="url(#BCf)"/><path d="M1137.6,301.1l.7-1.5 .3-.2 .3 .2 8.2 37.5-.5-1.7-.4-.4-.3 0z" fill="#e7d7cedb"/><path d="M1138.9,299.6l.3 .6 .6 2 8.2 39.7-.9-4.8z" fill="#e5d8d1db"/><path d="M1139.8,302.2l.3 1.4 2.1 15.2 .3 2 8 43.5-2.5-22.4z" fill="url(#BDf)"/><path d="M1142.5,320.8l1.1 7.4 .8 4.9 7.9 44.2-1.8-13z" fill="url(#BEf)"/><path d="M1144.4,333.1l.6 2.9 1.4 6.1 1.2 4 7.9 42.6-1.2-2.9-.9-3.1-1.1-5.4z" fill="url(#BFf)"/><path d="M1147.6,346.1l.5 1.8 1.8 5.8 1.1 4.4 8.2 32.8-.7 .3-.6 0-.9-.4-1.2-1.5-.3-.6z" fill="url(#BGf)"/><path d="M912,171.8l.3 .3 .3 .8 1 5 .6 5.4 1.1 10.9 1.7 23.9 4.3 64 2.4 29.5 1.3 13 1.3 10.6 1.3 8.5 1.2 6.7 10.2-6.2-1.3-6.5-1.2-8.3-1.2-10.4-1.3-13-2.7-34.6-3.9-60.7-1.7-24.7-1-11.3-.7-5.6-.9-5.2-.3-.8-.3-.3z" fill="url(#Boe)"/><path d="M928.8,350.4l.9 4.1 1.2 4.4 1.2 3.4 1.2 2.6 1.2 1.9 1.5 1.5 1.4 .6 1.2-.2 .3-.1 .2-.2 10.1-6.1-1.4 .2-1.5-.6-1.4-1.3-1.2-1.8-1.5-3.1-1.1-3.3-1.2-4.2-.9-4z" fill="url(#Bpe)"/><path d="M939.1,368.4l.3-.2 10.1-6-.3 .1z" fill="#485fd1db"/><path d="M939.4,368.2l.9-.9 .9-1.4 .8-1.7 .9-2.4 1.4-5.4 1.4-7.8 1.1-8.5 1.1-11 1.1-13.8 1-16.6 10.3 4.9-.3 3.9-1.9 22.4-1.1 9.3-1.2 7.1-1.1 5.4-1.4 4.8-1.5 3.1-1.4 1.9-.6 .5-.3 .2z" fill="url(#Bqe)"/><path d="M950,298.7l.6-9.1 1.6-28.3 1.1-15.8 1.1-10.2 .6-2.5 .3-.6 .3-.2 .3 .2 10.3 9.8-.3-.1-.3 .2-.6 1.7-.6 3.3-.5 4.9-1.2 13.9-2.4 37.7z" fill="url(#Bre)"/><path d="M955.9,232.2l.3 .6 .6 2 .9 4.8 4.1 27.8 3.3 21.2 10.2-1.7-1.8-7.1-1.5-7.2-4.3-25.5-.9-3.8-.6-1.3z" fill="url(#Bse)"/><path d="M965.1,288.6l.3 1.9 6.5 42.4 2.7 15.6 10-16.3-1.8-10-3.6-19.6-1.5-6.6-1.5-5.8-.9-3.3z" fill="url(#Bte)"/><path d="M974.6,348.5l1.5 6.7 1.5 5.2 1.5 3.8 1.4 2.5 .9 .8 .6 .3 .6 .1 .6-.2 .6-.4 .3-.3 10-10.4-.6 .1-.6-.1-1.2-.9-1.2-1.7-1.2-2.6-1.2-3.5-1.2-4.4-2.3-11.3z" fill="url(#Bue)"/><path d="M984.1,367l.9-1.2 9.9-9.9-.5 .5-.3 .2z" fill="#6788eedb"/><path d="M985,365.8l1.2-2.6 .9-2.8 1.2-5.1 .9-4.9 2-15.9 2.2-21.3 .6-6.5 10 1.2-2.5 20.6-1.5 10.5-1.8 8.9-.9 3.2-1.2 3-.9 1.4-.3 .4z" fill="url(#Bve)"/><path d="M994,306.7l.9-8.9 .9-6.9 .6-2.9 .6-1.2 10 5.9-.3 .1-.3 .5-.6 2-1.2 7.6-.6 5z" fill="url(#Bwe)"/><path d="M997,286.8l.3 0 10 6.3-.3-.4z" fill="#e3d9d3db"/><path d="M997.3,286.8l.3 .5 .6 2.2 .9 5.8 3.6 33.8 1.2 9.4 1.1 7.6 1.2 5.8 1.2 4.3 1.2 2.8 .6 .9 .9 .9 9.8 6.2-.9-1.1-.6-1.1-1.1-3-1.5-5.5-1.2-6-2-14.7-3.8-35.4-.9-5.3-.6-1.8z" fill="url(#Bxe)"/><path d="M1010.1,360.8l.3 .1 .3 .1 9.8 6.5-.6-.5z" fill="#7295f4db"/><path d="M1010.7,361l.6 0 .9-.4 1.5-1.8 1.6-3 1.8-4.6 2.4-6.6 1.3-2.8 1.2-2.2 9.8-2.4-2.8 13.9-2.1 8.2-1.3 3.5-1.2 2.5-1.2 1.7-1.2 .7-.9 .1-.6-.3z" fill="url(#Bye)"/><path d="M1022,339.6l.9-1.2 .9-1 9.9-10.3-1.9 10.1z" fill="url(#Bze)"/><path d="M1023.8,337.4l1.5-1.1 10-17-1.6 7.8z" fill="url(#BAe)"/><path d="M1025.3,336.3l1-.6 9.9-20.7-.9 4.3z" fill="url(#BBe)"/><path d="M1026.3,335.7l1.2-1.2 1.2-1.8 .6-1.2 .7-1.5 10-29.2-1.6 5.6-1.9 7.3-.3 1.3z" fill="#c6d6f1db"/><path d="M1030,330l.3-.9 10-29.5-.3 1.2z" fill="#cfdaeadb"/><path d="M1030.3,329.1l1.2-4.5 1-4.4 2.5-15.8 10.1-27-1.9 10.1-1.6 7.2-1.3 4.9z" fill="url(#BCe)"/><path d="M1035,304.4l1-6.8 1-6.4 .9-5 10.1-21.7-.6 1.8-.7 2.7-1.6 8.4z" fill="url(#BDe)"/><path d="M1037.9,286.2l.7-2.1 10-20.4-.6 .8z" fill="#f7b89cdb"/><path d="M1038.6,284.1l.3-.5 .3-.2 .3 .3 .3 .7 .3 1.2 .6 3.6 .6 5.3 .8 10.4 3.5 51.5 1.4 14.7 1.4 11 9.7-6.3-1.4-12-1.3-15.9-1.3-20.2-2.1-36.5-1-15.2-.6-5.5-.6-4-.6-2.2-.3-.5-.3-.1z" fill="url(#BEe)"/><path d="M1048.4,382.1l1.2 6.6 1.2 5.2 1.1 3.8 1.5 3.5 .9 1.4 1.2 1.2 1.2 .6 .9 0 9.6-1.7-1.5-1.2-1.5-2-1.2-2.3-1.1-3.2-1.2-4.1-.9-3.8-1.7-10.3z" fill="url(#BFe)"/><path d="M1057.6,404.4l1-.4 .6-.5 9.5-.5-1.5-.3z" fill="#4a63d3db"/><path d="M1059.2,403.5l1.2-1.5 1-1.6 1.2-3 1-3 1.9-7.9 2-11.4 9.4 13.4-1 3.7-1.3 3.9-1.3 2.8-1.2 2-.9 1-1.3 .8-1.2 .3z" fill="url(#BGe)"/><path d="M1067.5,375.1l1.4-9.8 1.4-11.7 2.9-28.9 2.9-33.1 2.6-27.6 9.5 11.5-2.8 38.9-1.9 23.8-2.2 22.2-1.1 8.6-1.4 9.4-1.9 10.1z" fill="url(#BHe)"/><path d="M1078.7,264l.4-3.5 2.2-17.4 9.7-4.1-2.4 30.9-.4 5.6z" fill="url(#BIe)"/><path d="M1081.3,243.1l.7-4 .6-2.7 .4-.8 9.9-14.2-.7 5.9-1.2 11.7z" fill="url(#BJe)"/><path d="M1083,235.6l.3-.4 .3-.1 .3 .4 .3 .8 10.1-21.2-.7 2.3-.7 4z" fill="#c12b30db"/><path d="M1084.2,236.3l.6 2.9 .8 7.9 1.3 21.3 .9 22 10.3-40.8-.2-4.8-1.3-19.7-.2-2.8-.6-4.4-.6-2.5-.3-.6-.3-.1-.3 .4z" fill="url(#BKe)"/><path d="M1087.8,290.4l1.7 45.4 1.2 23.7 1.2 18.7 1.6 16.5 9.9-26.9-1.7-27.1-1.5-35.7-1.2-34-.9-21.4z" fill="url(#BLe)"/><path d="M1093.5,394.7l.5 4.4 1.7 10.2 .9 3.8 1.1 4.2 1.2 3.1 1.2 2.4 1.2 1.7 1.2 1.1 9.6-10.7-1.5-2.9-1.5-4.1-1.1-4.4-1.2-5.5-1.1-7-.8-6.5-1.5-16.7z" fill="url(#BMe)"/><path d="M1102.5,425.6l1 .5 .9 .2 .9-.2 1.3-.7 9.4-7.3-.3 0-.9-.4-.9-.6-.9-.9-.9-1.3z" fill="#465ecfdb"/><path d="M1106.6,425.4l.9-.9 1-1.4 9.4-5.4-1 .4-.9 0z" fill="#485fd1db"/><path d="M1108.5,423.1l1.3-2.5 1-2.6 2-7.2 1.4-6.9 1.1-6.5 9.1 6.6-1.4 4.9-1.6 4.3-1.6 2.7-1 1.1-.9 .7z" fill="url(#BNe)"/><path d="M1115.3,397.4l1.9-14.1 1.9-18.8 .9-8.9 8.8 22.2-1.5 11.1-1.5 8.5-1.4 6.6z" fill="url(#BOe)"/><path d="M1120,355.6l5.7-68.6 8.4 39.9-2.1 21.2-3.2 29.7z" fill="url(#BPe)"/><path d="M1125.7,287l1.6-16.9 1.2-8.6 .7-3.4 .4-1 .3-.6 .3-.1 .3 .2 .3 .6 8.4 43-.3-.6-.3-.2-.3 .2-.7 1.5-.7 3.2-.8 4.9-2 17.7z" fill="url(#BQe)"/><path d="M1130.8,257.2l.6 2.3 8.4 42.7-.6-2z" fill="#f18f71db"/><path d="M1131.4,259.5l.3 1.6 8.4 42.5-.3-1.4z" fill="#f29274db"/><path d="M1131.7,261.1l1.1 8.8 1 11.7 8.4 37.2-2.1-15.2z" fill="url(#BRe)"/><path d="M1133.8,281.6l1.2 17.2 8.6 29.4-1.1-7.4-.3-2z" fill="url(#BSe)"/><path d="M1135,298.8l1.1 18.9 8.9 18.3-.6-2.9-.8-4.9z" fill="url(#BTe)"/><path d="M1136.1,317.7l1.2 19.5 9.1 4.9-1.4-6.1z" fill="url(#BUe)"/><path d="M1137.3,337.2l1.3 22.5 9.5-11.8-.5-1.8-1.2-4z" fill="url(#BVe)"/><path d="M1138.6,359.7l1.2 16.9 1.2 14.6 10-33.1-1.1-4.4-1.8-5.8z" fill="url(#BWe)"/><path d="M901.4,180.9l.3 .4 .3 .7 1 4.8 .6 5.2 1.1 10.6 1.8 23 4.4 62.2 2.8 32.8 2.3 20.3 1.3 8.6 1.2 6.9 10.3-6-1.2-6.7-1.3-8.5-1.3-10.6-1.3-13-2.4-29.5-4.3-64-1.7-23.9-1.1-10.9-.6-5.4-1-5-.3-.8-.3-.3z" fill="url(#BLd)"/><path d="M918.5,356.4l.9 4.2 1.3 4.5 .9 2.7 1.2 2.9 1.2 2.1 1.1 1.3 .6 .5 .9 .3 1.2 0 .6-.3 10.2-5.9-1.2 .2-1.4-.6-1.5-1.5-1.2-1.9-1.2-2.6-1.2-3.4-1.2-4.4-.9-4.1z" fill="url(#BMd)"/><path d="M928.4,374.6l.2-.2 10.3-5.8-.3 .1z" fill="#4c66d6db"/><path d="M928.6,374.4l1.2-1.3 .9-1.4 .8-2 .9-2.6 1.6-7.5 1.4-9.1 1.4-12.7 1-13.3 2.4-40.1 10.4 5.2-.6 9.1-1 16.6-1.1 13.8-1.1 11-1.1 8.5-1.4 7.8-1.4 5.4-.9 2.4-.8 1.7-.9 1.4-.9 .9-.3 .2-.2 .2z" fill="url(#BNd)"/><path d="M940.2,284.4l1-20.2 1-18.1 .8-10.5 .9-6.7 .3-1.3 .6-1.3 .3 0 10.5 5.7-.3 .2-.3 .6-.6 2.5-1.1 10.2-1.1 15.8-1.6 28.3z" fill="url(#BOd)"/><path d="M945.1,226.3l.6 1.1 .6 2.4 1.3 7.7 7.6 61 10.2-8-.3-1.9-3.3-21.2-4.1-27.8-.9-4.8-.6-2-.3-.6-.3-.2z" fill="url(#BPd)"/><path d="M955.2,298.5l5.3 40.9 2.5 15.2 1.2 6.1 1.2 5.1 1.2 4.1 1.2 3.1 1.2 2.3 .6 .9 .9 .8 10-10.3-1.4-2.5-1.5-3.8-1.5-5.2-1.5-6.7-2.7-15.6-6.5-42.4z" fill="url(#BQd)"/><path d="M970.5,377l.9 .4 .9-.1 .6-.4 .3-.2 10-9-.6 .2-.6-.1-.6-.3-.9-.8z" fill="#6485ecdb"/><path d="M973.2,376.7l.5-.7 10.1-8.7-.6 .4z" fill="#6687eddb"/><path d="M973.7,376l1.5-3 1.2-3.8 1.2-5.3 1.2-7.2 1.2-9.3 .8-8.5 2.4-28.3 10.2 2.6-2.2 21.3-2 15.9-.9 4.9-1.2 5.1-.9 2.8-1.2 2.6-.9 1.2-.3 .3z" fill="url(#BRd)"/><path d="M983.2,310.6l.3-3.8 1.2-14.2 .9-8.2 .9-4.8 .3-.7 .3-.2 10.2 8.1-.3 0-.6 1.2-.6 2.9-.9 6.9-.9 8.9-.6 6.5z" fill="url(#BSd)"/><path d="M987.1,278.7l.3 .2 .6 1.9 1 5.5 3.9 37 2.1 15.2 1.2 6.1 1.2 4.5 1.2 3 .6 1 .9 1 10 6.7-.9-.9-.6-.9-1.2-2.8-1.2-4.3-1.2-5.8-1.1-7.6-1.2-9.4-3.6-33.8-.9-5.8-.6-2.2-.3-.5z" fill="url(#BTd)"/><path d="M1000.1,354.1l.3 .3 10 6.5-.3-.1z" fill="#8fb1fedb"/><path d="M1000.4,354.4l1 .3 .6 .1 .9-.3 2.4-1.3 1.8-.6 10-1.4-1.8 4.6-1.6 3-1.5 1.8-.9 .4-.6 0-.3-.1z" fill="url(#BUd)"/><path d="M1007.1,352.6l1.2 0 1.2 .6 10-8.6-2.4 6.6z" fill="url(#BVd)"/><path d="M1009.5,353.2l2.5 2.2 10-15.8-1.2 2.2-1.3 2.8z" fill="#a5c3fedb"/><path d="M1012,355.4l1.8 1.8 1.2 .7 .6 .1 .6-.1 .6-.3 .6-.6 .7-.8 .6-1.2 10-22.3-1.2 1.8-1.2 1.2-1 .6-1.5 1.1-.9 1-.9 1.2z" fill="url(#BWd)"/><path d="M1018.7,355l.6-1.5 10-22-.6 1.2z" fill="#b2ccfbdb"/><path d="M1019.3,353.5l1.5-5.6 1.6-8.3 1.6-11.3 2-16.5 10-14.2-1 6.8-2.5 15.8-1 4.4-1.2 4.5-.3 .9-.7 1.5z" fill="url(#BXd)"/><path d="M1026,311.8l.6-5.5 1.3-9.6 1-4.3 10-8.8-.3 .5-.7 2.1-.9 5-1 6.4z" fill="url(#BYd)"/><path d="M1028.9,292.4l.3-.7 10-8.3-.3 .2z" fill="#f6bda2db"/><path d="M1029.2,291.7l.3-.3 .3 .3 .3 .6 .6 2.8 .9 7.4 3.9 52.8 1.1 12.3 1.2 10 1.2 7.8 1.4 7.3 1.5 5 .9 2.1 .9 1.6 9.7-.2-1.5-3.5-1.1-3.8-1.2-5.2-1.2-6.6-1.4-11-1.4-14.7-3.5-51.5-.8-10.4-.6-5.3-.6-3.6-.3-1.2-.3-.7-.3-.3z" fill="url(#BZd)"/><path d="M1043.7,401.4l.6 .7 .6 .5 .6 .3 .3 0 9.7 .9-1.2-1.2-.9-1.4z" fill="#5a78e4db"/><path d="M1045.8,402.9l.7 0 .6-.2 9.6 1.7-1.2-.6z" fill="#5977e3db"/><path d="M1047.1,402.7l.9-.8 .6-.7 1.3-2.2 1.5-4.1 1.3-4.3 1.3-5.5 1.6-8.2 3-18.7 3.8-26.5 1-7.4 9.8 .4-2.9 28.9-1.4 11.7-1.4 9.8-2 11.4-1.9 7.9-1 3-1.2 3-1 1.6-1.2 1.5-.6 .5-1 .4-.9 0z" fill="url(#Bae)"/><path d="M1063.4,324.3l2.8-19.8 9.9-12.9-2.9 33.1z" fill="url(#Bbe)"/><path d="M1066.2,304.5l.7-5.1 2.1-15 10.1-23.9-.4 3.5-2.6 27.6z" fill="url(#Bce)"/><path d="M1069,284.4l2-13.3 .7-3.3 .7-2.3 10.2-29.1-.6 2.7-.7 4-2.2 17.4z" fill="url(#Bde)"/><path d="M1072.4,265.5l.3-.7 .3-.4 .3 0 .4 .5 .3 .8 .8 5.4 .9 9.4 1 17.7 10.2-29.8-1.3-21.3-.8-7.9-.6-2.9-.3-.8-.3-.4-.3 .1-.3 .4-.4 .8z" fill="url(#Bee)"/><path d="M1076.7,298.2l2.8 61.4 1.3 20 1.3 15.4 1.1 9.5 1.1 7.3 9.7-12.7-.5-4.4-1.6-16.5-1.2-18.7-1.2-23.7-1.7-45.4-.9-22z" fill="url(#Bfe)"/><path d="M1084.3,411.8l1.5 7 1.7 5.8 .9 2.1 .9 1.6 .9 1.2 1.3 1 .9 .4 .6 0 1-.3 9.5-4.5-1-.5-1.2-1.1-1.2-1.7-1.2-2.4-1.2-3.1-1.1-4.2-.9-3.8-1.7-10.2z" fill="url(#Bge)"/><path d="M1094,430.6l.9-.6 1-1.1 9.4-2.8-.9 .2-.9-.2z" fill="#4c66d6db"/><path d="M1095.9,428.9l1.3-2.1 .9-2.1 2-6.3 1.7-7.6 1.8-10.4 9.2 10.4-2 7.2-1 2.6-1.3 2.5-1 1.4-.9 .9-1.3 .7z" fill="url(#Bhe)"/><path d="M1103.6,400.4l1.5-10.8 1.5-13.4 1.6-16.2 2.1-23.8 8.8 28.3-1.9 18.8-1.9 14.1-1.1 6.5-1.4 6.9z" fill="url(#Bie)"/><path d="M1110.3,336.2l2.1-26.3 2.6-30.6 1.6-16.4 1.6-11.1 9.1 18.3-1.6 16.9-5.7 68.6-.9 8.9z" fill="url(#Bje)"/><path d="M1118.2,251.8l.3-1.7 .7-2.2 .3-.4 .4 0 9.3 10.6-.7 3.4-1.2 8.6z" fill="url(#Bke)"/><path d="M1119.9,247.5l.3 .5 .6 2.2 9.4 6.2-.3 .1-.3 .6-.4 1z" fill="#c53334db"/><path d="M1120.8,250.2l.5 4 .6 5.6 1.1 19.9 9.8-9.8-1.1-8.8-.3-1.6-.6-2.3-.3-.6-.3-.2z" fill="url(#Ble)"/><path d="M1123,279.7l.7 14.9 1.2 32.4 10.1-28.2-1.2-17.2-1-11.7z" fill="url(#Bme)"/><path d="M1124.9,327l1.2 30.9 1.3 25.9 1.4 20 1.6 14.7 .5 3.9 10.1-31.2-1.2-14.6-1.2-16.9-1.3-22.5-1.2-19.5-1.1-18.9z" fill="url(#Bne)"/><path d="M890.7,190.2l.3 .3 .3 .7 1 4.7 .6 5 1.1 10.2 1.9 22.2 4.8 65 2.5 27.8 2.3 20.4 1.3 8.7 1.3 7 10.4-5.8-1.2-6.9-1.3-8.6-2.3-20.3-2.8-32.8-4.4-62.2-1.8-23-1.1-10.6-.6-5.2-1-4.8-.3-.7-.3-.4z" fill="url(#Bld)"/><path d="M908.1,362.2l1 4.3 1.2 4.7 .9 2.8 1.2 2.8 1.2 2.1 1.2 1.3 1.2 .7 1.1-.1 .3-.1 10.4-5.8-1.2 0-.9-.3-.6-.5-1.1-1.3-1.2-2.1-1.2-2.9-.9-2.7-1.3-4.5-.9-4.2z" fill="url(#Bmd)"/><path d="M917.4,380.7l.6-.4 10.4-5.7-.6 .3z" fill="#536edddb"/><path d="M918,380.3l1.2-1.4 .8-1.6 1.2-3.1 .8-3 1.7-8.7 1.6-12.9 1.3-15.1 1-15.4 3-58.9 10.6 4-1 20.2-2.4 40.1-1 13.3-1.4 12.7-1.4 9.1-1.6 7.5-.9 2.6-.8 2-.9 1.4-1.2 1.3-.2 .2z" fill="url(#Bnd)"/><path d="M930.6,260.2l.8-13.8 .8-11.1 .8-7.3 .3-1.5 .6-1.8 .3-.1 10.6 1.7-.6 1.3-.3 1.3-.9 6.7-.8 10.5-1 18.1z" fill="url(#Bod)"/><path d="M934.2,224.6l.3 .2 10.6 1.5-.3 0z" fill="#de614ddb"/><path d="M934.5,224.8l.6 1.6 .6 2.9 1.6 11.2 8.8 80 2.3 18.4 1.9 13.5 10.2-13-5.3-40.9-7.6-61-1.3-7.7-.6-2.4-.6-1.1z" fill="url(#Bpd)"/><path d="M950.3,352.4l2.4 14.4 1.3 5.5 1.5 5.5 1.2 3.3 1.5 2.9 .6 .8 .9 .8 .9 .3 .6-.1 .6-.3 .3-.2 10.2-8-.9 .1-.9-.4-.9-.8-.6-.9-1.2-2.3-1.2-3.1-1.2-4.1-1.2-5.1-1.2-6.1-2.5-15.2z" fill="url(#Bqd)"/><path d="M962.1,385.3l.6-.7 10.2-7.7-.6 .4z" fill="#6788eedb"/><path d="M962.7,384.6l1.5-2.8 1.4-4.7 1.5-7.2 1.2-7.9 1.1-10.3 1.2-12.8 2.6-36.5 10.3 4.4-.3 3.8-2.4 28.3-.8 8.5-1.2 9.3-1.2 7.2-1.2 5.3-1.2 3.8-1.5 3-.5 .7-.3 .2z" fill="url(#Brd)"/><path d="M973.2,302.4l1.8-22.4 .9-6.8 .6-2.2 .3-.3 10.3 8-.3 .2-.3 .7-.9 4.8-.9 8.2-1.2 14.2z" fill="url(#Bsd)"/><path d="M976.8,270.7l.3 .1 10.3 8.1-.3-.2z" fill="#f7ad90db"/><path d="M977.1,270.8l.3 .6 .6 2.5 1 6.3 3.7 35.3 1.2 9.9 1.2 8.1 1.3 6.3 1.5 5.9 1.5 4.1 1.8 3.5 10.2 1.4-1-.3-.3-.3-.9-1-.6-1-1.2-3-1.2-4.5-1.2-6.1-2.1-15.2-3.9-37-1-5.5-.6-1.9z" fill="url(#Btd)"/><path d="M991.2,353.3l.3 .4 3.7 5.7 10.1-6.2-2.4 1.3-.9 .3-.6-.1z" fill="#a6c4fedb"/><path d="M995.2,359.4l1.8 3.6 3.4 7.2 1.8 3.3 .9 1.2 .9 .7 .9 .3 .9-.2 .9-.8 .7-1 10-16.7-.6 .6-.6 .3-.6 .1-.6-.1-1.2-.7-1.8-1.8-2.5-2.2-1.2-.6-1.2 0-1.8 .6z" fill="url(#Bud)"/><path d="M1007.4,373.7l.6-1.2 10.1-16.3-.7 .8z" fill="#9ebeffdb"/><path d="M1008,372.5l1.2-3.7 .9-3.8 1.9-11 1.9-15.7 2.6-26.1 10.1-5.9-.6 5.5-2 16.5-1.6 11.3-1.6 8.3-1.5 5.6-.6 1.5-.6 1.2z" fill="url(#Bvd)"/><path d="M1016.5,312.2l.7-6.3 1.2-9.8 .7-2.7 .3-.7 10.1-1.3-.3 .3-.3 .7-1 4.3-1.3 9.6z" fill="url(#Bwd)"/><path d="M1019.4,292.7l.3-.2 10.1-.8-.3-.3z" fill="#f7b497db"/><path d="M1019.7,292.5l.3 .3 .3 .9 .6 3.1 .9 7.8 4.1 51.8 1.1 11.8 1.2 9.5 1.5 8.9 1.5 6.2 1.5 4 .9 1.5 .9 .8 9.8 3-.6-.7-.9-1.6-.9-2.1-1.5-5-1.4-7.3-1.2-7.8-1.2-10-1.1-12.3-3.9-52.8-.9-7.4-.6-2.8-.3-.6z" fill="url(#Bxd)"/><path d="M1034.5,399.1l.3 .2 .3 .1 9.8 3.2-.6-.5z" fill="#6e90f2db"/><path d="M1035.1,399.4l.6 0 9.8 3.5-.6-.3z" fill="#6e90f2db"/><path d="M1035.7,399.4l1-.4 .9-.9 .9-1.4 1.3-2.5 2.2-6.2 2.6-9.1 3.8-15 .4-1.3 9.8-4.4-3 18.7-1.6 8.2-1.3 5.5-1.3 4.3-1.5 4.1-1.3 2.2-.6 .7-.9 .8-.6 .2-.7 0-.3 0z" fill="url(#Byd)"/><path d="M1048.8,362.6l3.5-14.3 10.1-16.6-3.8 26.5z" fill="url(#Bzd)"/><path d="M1052.3,348.3l.7-2.9 2-10 1.7-10.4 10.2-25.6-.7 5.1-2.8 19.8-1 7.4z" fill="url(#BAd)"/><path d="M1056.7,325l4.1-30.1 1.4-7.6 .3-1.2 10.2-21.3-.3 .7-.7 2.3-.7 3.3-2 13.3-2.1 15z" fill="url(#BBd)"/><path d="M1062.5,286.1l.3-.8 10.2-20.9-.3 .4z" fill="#e97a5fdb"/><path d="M1062.8,285.3l.4-.5 .3 0 .3 .4 .3 1 .3 1.4 .6 4.2 .5 6.1 1.1 16.5 3 56.7 1.3 18.2 1.4 13.8 9.8-8.1-1.3-15.4-1.3-20-2.8-61.4-1-17.7-.9-9.4-.8-5.4-.3-.8-.4-.5-.3 0z" fill="url(#BCd)"/><path d="M1072.3,403.1l1.2 8.5 1.1 6.6 1.2 5 1.5 4.6 1.5 2.9 .6 .8 .9 .8 1 .3 .6 0 9.6-2.1-1.3-1-.9-1.2-.9-1.6-.9-2.1-1.7-5.8-1.5-7-1.1-7.3-1.1-9.5z" fill="url(#BDd)"/><path d="M1081.9,432.6l.9-.4 .7-.5 9.5-.8-.6 0-.9-.4z" fill="#5572dfdb"/><path d="M1083.5,431.7l1.6-2.1 1.3-2.8 1.3-3.8 1.3-5 1.4-6.3 1.4-7.8 2.5-17.9 9.3 14.4-1.8 10.4-1.7 7.6-2 6.3-.9 2.1-1.3 2.1-1 1.1-.9 .6-1 .3z" fill="url(#BEd)"/><path d="M1094.3,386l1.9-16 2.3-22.3 4.4-44.3 9.5 6.5-2.1 26.3-2.1 23.8-1.6 16.2-1.5 13.4-1.5 10.8z" fill="url(#BFd)"/><path d="M1102.9,303.4l.8-7.6 1.5-13.7 1.5-10.6 9.9-8.6-1.6 16.4-2.6 30.6z" fill="url(#BGd)"/><path d="M1106.7,271.5l.8-3.8 .7-2.5 .3-.7 10-14.4-.3 1.7-1.6 11.1z" fill="url(#BHd)"/><path d="M1108.5,264.5l.3-.2 .3 .1 10.1-16.5-.7 2.2z" fill="#bb1b2cdb"/><path d="M1109.1,264.4l.7 1.5 .5 3.4 1.1 12 .9 17.9 1.1 27.3 10.3-31.9-.7-14.9-1.1-19.9-.6-5.6-.5-4-.6-2.2-.3-.5-.4 0-.3 .4z" fill="url(#BId)"/><path d="M1113.4,326.5l.2 5.6 1.7 42.4 1.3 24.9 .8 10 1 11.1 1.1 8.8 1.1 6.9 9.8-17.7-1.6-14.7-1.4-20-1.3-25.9-1.2-30.9-1.2-32.4z" fill="url(#BJd)"/><path d="M1120.6,436.2l.6 2.9 9.7-16.7-.5-3.9z" fill="url(#BKd)"/><path d="M879.9,199.5l.3 .3 .3 .7 .6 2.6 .7 4.2 1.1 8.9 1.8 20.4 4.6 58.6 2.6 29.3 1.4 13.6 1.3 11.4 1.4 9.2 1.6 9.2 10.5-5.7-1.3-7-1.3-8.7-2.3-20.4-2.5-27.8-4.8-65-1.9-22.2-1.1-10.2-.6-5-1-4.7-.3-.7-.3-.3z" fill="url(#BNc)"/><path d="M897.6,367.9l.9 4.4 1.3 4.7 .9 2.8 1.2 2.9 .9 1.7 1.2 1.4 1.2 .7 1.2 0 .3-.2 10.4-5.5-1.1 .1-1.2-.7-1.2-1.3-1.2-2.1-1.2-2.8-.9-2.8-1.2-4.7-1-4.3z" fill="url(#BOc)"/><path d="M906.7,386.3l.3-.2 10.4-5.4-.3 .1z" fill="#5a78e4db"/><path d="M907,386.1l1.1-1.2 .9-1.6 1.1-2.9 .9-3 1.6-8.4 1.6-12.7 1.3-14.6 1.3-19.1 3.1-64 10.7 1.6-3 58.9-1 15.4-1.3 15.1-1.6 12.9-1.7 8.7-.8 3-1.2 3.1-.8 1.6-1.2 1.4-.6 .4z" fill="url(#BPc)"/><path d="M919.9,258.6l.7-13.1 .8-10.3 .8-6.5 .3-1.2 .3-.9 .3-.3 10.8-1.6-.6 1.8-.3 1.5-.8 7.3-.8 11.1-.8 13.8z" fill="url(#BQc)"/><path d="M923.1,226.3l.3 .1 10.8-1.8-.3 .1z" fill="#d1493fdb"/><path d="M923.4,226.4l.7 1.3 .6 2.7 1.6 11.6 8.8 84.5 2.2 19.4 2.3 16.1 .3 2 10.4-11.6-1.9-13.5-2.3-18.4-8.8-80-1.6-11.2-.6-2.9-.6-1.6-.3-.2z" fill="url(#BRc)"/><path d="M939.9,364l2.5 13.4 1.2 5 1.3 4 1.2 3.1 1.5 2.6 .9 .9 .6 .4 .6 .1 .6-.1 .3-.1 .3-.2 10.3-7.3-.6 .1-.9-.3-.9-.8-.6-.8-1.5-2.9-1.2-3.3-1.5-5.5-1.3-5.5-2.4-14.4z" fill="url(#BSc)"/><path d="M950.9,393.1l.6-.5 10.3-7.1-.6 .3z" fill="#6a8befdb"/><path d="M951.5,392.6l.9-1.4 .9-1.9 .9-2.7 .8-3.4 1.5-8 1.4-11.1 2-22.4 3.7-56.8 .9-10.7 .6-5.1 .6-3.3 .3-.9 10.5 6.1-.6 2.2-.9 6.8-1.8 22.4-2.6 36.5-1.2 12.8-1.1 10.3-1.2 7.9-1.5 7.2-1.4 4.7-1.5 2.8-.6 .7-.3 .2z" fill="url(#BTc)"/><path d="M966,264.9l.3-.4 .3 .1 10.5 6.2-.3-.1-.3 .3z" fill="#f18f71db"/><path d="M966.6,264.6l.3 .6 .6 2.4 1 6.4 4.1 39 1.3 10.3 1.2 8.7 1.3 7.2 1.2 6 1.5 6.2 2.2 7.5 10.2-5.2-.3-.4-1.8-3.5-1.5-4.1-1.5-5.9-1.3-6.3-1.2-8.1-1.2-9.9-3.7-35.3-1-6.3-.6-2.5-.3-.6z" fill="url(#BUc)"/><path d="M981.3,358.9l.6 2 5.2 16.7 2.8 7.3 1.2 2.3 1.2 1.7 1.2 .8 .6 .1 .6-.2 .7-.5 .3-.3 10.1-13.3-.9 .2-.9-.3-.9-.7-.9-1.2-1.8-3.3-3.4-7.2-1.8-3.6-3.7-5.7z" fill="url(#BVc)"/><path d="M995.7,388.8l.9-1.4 10.1-12.7-.9 .8z" fill="#92b4fedb"/><path d="M996.6,387.4l1.2-3.1 1.2-4.7 1.3-6.5 1.2-8.6 2.2-20.7 3.2-37.3 10.3-.6-.7 6.3-2.6 26.1-1.9 15.7-1.9 11-.9 3.8-1.2 3.7-.6 1.2-.7 1z" fill="url(#BWc)"/><path d="M1006.9,306.5l1.3-11.5 .6-3.4 .4-1 .3-.5 10.2 2.4-.3 .2-.3 .7-.7 2.7-1.2 9.8z" fill="url(#BXc)"/><path d="M1009.5,290.1l.3 0 10.2 2.7-.3-.3z" fill="#f6a283db"/><path d="M1009.8,290.1l.3 .6 .6 2.7 .9 7.2 4.2 51.4 1.2 12.1 1.2 9.7 1.5 9.1 1.5 6.4 .9 2.7 .9 1.9 .9 1.3 1 .7 9.9 3.4-.3-.2-.9-.8-.9-1.5-1.5-4-1.5-6.2-1.5-8.9-1.2-9.5-1.1-11.8-4.1-51.8-.9-7.8-.6-3.1-.3-.9z" fill="url(#BYc)"/><path d="M1024.9,395.9l.3 .2 9.9 3.3-.3-.1z" fill="#86a9fcdb"/><path d="M1025.2,396.1l.6 0 .9-.2 1.3-.9 1.2-1.4 1.6-2.4 3.8-6.3 10-6-2.6 9.1-2.2 6.2-1.3 2.5-.9 1.4-.9 .9-1 .4-.6 0z" fill="url(#BZc)"/><path d="M1034.6,384.9l.6-1 2.5-4.2 .6-1.1 10.1-14.7-3.8 15z" fill="url(#Bad)"/><path d="M1038.3,378.6l.7-1.2 1.9-4.6 1.9-6.7 10.2-20.7-.7 2.9-3.5 14.3-.4 1.3z" fill="url(#Bbd)"/><path d="M1042.8,366.1l1.7-8 1.7-10.6 1.7-13.4 2.7-24.4 1.4-9.8 10.2-12.6-1.4 7.6-4.1 30.1-1.7 10.4-2 10z" fill="url(#Bcd)"/><path d="M1052,299.9l1-4.1 10.2-11-.4 .5-.3 .8-.3 1.2z" fill="url(#Bdd)"/><path d="M1053,295.8l.3-.5 10.2-10.5-.3 0z" fill="#ee8468db"/><path d="M1053.3,295.3l.4 0 .3 .5 .6 2.6 .6 4.5 .5 6.3 3.8 62.2 1 14.9 1.1 12.3 1.2 9.7 1.4 9.2 1.5 6.5 .9 2.9 .9 2.1 9.8-1.2-1.5-4.6-1.2-5-1.1-6.6-1.2-8.5-1.4-13.8-1.3-18.2-3-56.7-1.1-16.5-.5-6.1-.6-4.2-.3-1.4-.3-1-.3-.4z" fill="url(#Bed)"/><path d="M1067.5,429l.3 .6 1 1.4 1.2 1 .6 .1 9.7 .2-.9-.8-.6-.8-1.5-2.9z" fill="url(#Bfd)"/><path d="M1070.6,432.1l1-.2 9.7 .7-1-.3z" fill="#6485ecdb"/><path d="M1071.6,431.9l.9-.7 .7-.8 1.6-2.8 1.6-4.3 1.4-4.6 1.3-5.6 1.7-8.4 3.2-19.1 4.7-33.9 9.8-4-2.3 22.3-1.9 16-2.5 17.9-1.4 7.8-1.4 6.3-1.3 5-1.3 3.8-1.3 2.8-1.6 2.1-.7 .5-.9 .4-.6 0z" fill="url(#Bgd)"/><path d="M1088.7,351.7l1.8-14.5 3-24.1 10.2-17.3-.8 7.6-4.4 44.3z" fill="url(#Bhd)"/><path d="M1093.5,313.1l2.6-19 1.1-5.7 .7-2.4 10.3-20.8-.7 2.5-.8 3.8-1.5 10.6-1.5 13.7z" fill="url(#Bid)"/><path d="M1097.9,286l.4-.7 .3-.2 .3 .1 .3 .6 .6 2.7 .6 4.5 .5 6.3 1 17.2 1.6 37.1 10.1-21.5-.2-5.6-1.1-27.3-.9-17.9-1.1-12-.5-3.4-.7-1.5-.3-.1-.3 .2-.3 .7z" fill="url(#Bjd)"/><path d="M1103.5,353.6l1.5 34.7 1.8 26.2 1 11.2 1.1 8.9 1.1 6.9 1.5 6.6 9.7-9-.6-2.9-1.1-6.9-1.1-8.8-1-11.1-.8-10-1.3-24.9-1.7-42.4z" fill="url(#Bkd)"/><path d="M868.9,208.9l.3 .3 .3 .7 .7 2.5 .7 4.1 1 8.7 1.9 19.7 4.7 56.7 2.6 28.6 2.8 24.7 1.4 9.3 1.6 9.2 10.7-5.5-1.6-9.2-1.4-9.2-1.3-11.4-1.4-13.6-2.6-29.3-4.6-58.6-1.8-20.4-1.1-8.9-.7-4.2-.6-2.6-.3-.7-.3-.3z" fill="url(#Btc)"/><path d="M886.9,373.4l1.9 8.1 1 3.1 1.2 3.1 .9 1.8 1.2 1.6 1.2 .8 .6 .1 .6-.1 .3-.2 10.6-5.2-1.2 0-1.2-.7-1.2-1.4-.9-1.7-1.2-2.9-.9-2.8-1.3-4.7-.9-4.4z" fill="url(#Buc)"/><path d="M895.8,391.7l.3-.2 10.6-5.2-.3 .2z" fill="#6180e9db"/><path d="M896.1,391.5l1.1-1.3 .9-1.6 1.1-3 .9-3.1 1.6-8.7 1.6-12.9 1.3-14.8 1.2-19 3-62.9 .2-4.6 10.9-1-3.1 64-1.3 19.1-1.3 14.6-1.6 12.7-1.6 8.4-.9 3-1.1 2.9-.9 1.6-1.1 1.2-.3 .2z" fill="url(#Bvc)"/><path d="M909,259.6l.8-12.4 .8-9.3 .8-5.7 .6-1.5 .3-.1 10.8-4.3-.3 .3-.3 .9-.3 1.2-.8 6.5-.8 10.3-.7 13.1z" fill="url(#Bwc)"/><path d="M912.3,230.6l.3 .3 .3 .7 .7 2.5 .6 3.8 1 7.6 1.8 16 6.9 70.1 2.6 22.7 2.3 16 .3 2 10.5-10.3-2.3-16.1-2.2-19.4-8.8-84.5-1.6-11.6-.6-2.7-.7-1.3-.3-.1z" fill="url(#Bxc)"/><path d="M929.1,372.3l2.2 11.7 1.3 5.1 1.2 4.1 1.3 3.2 1.2 2.2 .9 1.1 .6 .5 .6 .2 .6 .1 .6-.2 .3-.2 10.4-6.7-.6 .1-.6-.1-.6-.4-.9-.9-1.5-2.6-1.2-3.1-1.3-4-1.2-5-2.5-13.4-.3-2z" fill="url(#Byc)"/><path d="M939.9,400.1l.3-.3 10.4-6.5-.3 .1z" fill="#6e90f2db"/><path d="M940.2,399.8l.9-1.1 .9-1.8 .9-2.4 .8-3.2 1.8-9.2 1.4-11.2 1.1-11.7 1.1-14.4 3.6-59.4 1.1-14.8 .6-5 10.7 3.5-.6 5.1-.9 10.7-3.7 56.8-2 22.4-1.4 11.1-1.5 8-.8 3.4-.9 2.7-.9 1.9-.9 1.4-.6 .5-.3 .2z" fill="url(#Bzc)"/><path d="M954.4,265.6l.6-3.2 .3-.8 .3-.3 10.7 3.2-.3 .4-.3 .9-.6 3.3z" fill="url(#BAc)"/><path d="M955.6,261.3l.4 .2 .6 1.7 1.3 7.9 4.8 46.6 2.6 19.9 2.8 16.9 3.5 16.5 10.3-10.1-.6-2-2.2-7.5-1.5-6.2-1.2-6-1.3-7.2-1.2-8.7-1.3-10.3-4.1-39-1-6.4-.6-2.4-.3-.6-.3-.1z" fill="url(#BBc)"/><path d="M971.6,371l3.7 14.9 1.5 5.2 1.6 4.2 1.5 3.2 1.2 1.8 1.2 .9 .7 .1 .6-.2 .6-.4 .3-.3 10.2-10.8-.6 .2-.6-.1-1.2-.8-1.2-1.7-1.2-2.3-2.8-7.3-5.2-16.7z" fill="url(#BCc)"/><path d="M984.5,400.4l.6-.8 10.3-10.5-.7 .5z" fill="#8caffedb"/><path d="M985.1,399.6l.9-1.8 .6-1.7 1.6-5.7 1.2-6.7 1.2-8.7 2.2-21.3 4.4-55.5 .9-7.8 .7-2.8 .3-.7 10.4 3.2-.3 .5-.4 1-.6 3.4-1.3 11.5-3.2 37.3-2.2 20.7-1.2 8.6-1.3 6.5-1.2 4.7-1.2 3.1-.9 1.4-.3 .3z" fill="url(#BDc)"/><path d="M999.1,286.9l.3-.1 10.4 3.3-.3 0z" fill="#ef886bdb"/><path d="M999.4,286.8l.3 .4 .6 2.4 1 6.9 4.6 54.3 1.2 11.8 1.2 9.6 1.5 9.2 1.5 6.5 1.6 4.4 .9 1.8 .9 1.4 10.2 .4-1-.7-.9-1.3-.9-1.9-.9-2.7-1.5-6.4-1.5-9.1-1.2-9.7-1.2-12.1-4.2-51.4-.9-7.2-.6-2.7-.3-.6z" fill="url(#BEc)"/><path d="M1014.7,395.5l1 .9 10.1-.3-.6 0-.3-.2z" fill="#9bbcffdb"/><path d="M1015.7,396.4l.9 .6 1.2 .5 2.8 .2 10.2-6.5-1.6 2.4-1.2 1.4-1.3 .9-.9 .2z" fill="#9ebeffdb"/><path d="M1020.6,397.7l2.5-.1 1.9-.4 10.2-13.3-.6 1-3.8 6.3z" fill="#a6c4fedb"/><path d="M1025,397.2l1.3-.6 1.2-1 10.2-15.9-2.5 4.2z" fill="url(#BFc)"/><path d="M1027.5,395.6l.3-.4 .4-.4 .6-.9 10.2-16.5-.7 1.2-.6 1.1z" fill="#b2ccfbdb"/><path d="M1028.8,393.9l.9-1.9 1-2.4 1-3.2 .9-4.1 1.7-8.9 1.6-12.1 10.3-13.8-1.7 10.6-1.7 8-1.9 6.7-1.9 4.6z" fill="url(#BGc)"/><path d="M1035.9,361.3l1.4-12.1 3.8-37.8 1-7.6 .7-3.1 .3-.9 10.2-4.5-.3 .5-1 4.1-1.4 9.8-2.7 24.4-1.7 13.4z" fill="url(#BHc)"/><path d="M1043.1,299.8l.4-.3 10.2-4.2-.4 0z" fill="#eb7d62db"/><path d="M1043.5,299.5l.3 .1 .3 .7 .6 3 1.2 11.7 3.8 60.5 1.2 14.1 1.1 11.4 1.2 9.2 1.4 8.5 1.6 5.9 .9 2.5 .9 1.8 9.8 .7-.3-.6-.9-2.1-.9-2.9-1.5-6.5-1.4-9.2-1.2-9.7-1.1-12.3-1-14.9-3.8-62.2-.5-6.3-.6-4.5-.6-2.6-.3-.5z" fill="url(#BIc)"/><path d="M1058,428.9l.3 .4 .9 1 1 .4 9.8 1.3-1.2-1-1-1.4z" fill="#799cf8db"/><path d="M1060.2,430.7l.3 .1 .3-.1 9.8 1.4-.6-.1z" fill="#799cf8db"/><path d="M1060.8,430.7l.3-.1 1-.6 1.3-1.5 1.3-2.3 1.3-3.1 2.6-8.2 2.7-10.3 2.7-12.2 10-6.8-3.2 19.1-1.7 8.4-1.3 5.6-1.4 4.6-1.6 4.3-1.6 2.8-.7 .8-.9 .7-1 .2z" fill="url(#BJc)"/><path d="M1074,392.4l3.5-18.2 2.9-18.7 10.1-18.3-1.8 14.5-4.7 33.9z" fill="url(#BKc)"/><path d="M1080.4,355.5l1.4-11.1 4.1-32.7 1.1-6.9 1-4.1 10.3-15.4-.4 .7-.7 2.4-1.1 5.7-2.6 19-3 24.1z" fill="url(#BLc)"/><path d="M1088,300.7l.4-.6 10.2-15-.3 .2z" fill="#d55042db"/><path d="M1088.4,300.1l.3-.1 .3 .3 .3 .9 .6 3.1 1.1 12 1 17.8 2.6 54.9 1 16.4 1.1 13.6 1.1 10.9 1.1 8.7 1.4 8.1 1.5 5.8 9.7-4.4-1.5-6.6-1.1-6.9-1.1-8.9-1-11.2-1.8-26.2-1.5-34.7-1.6-37.1-1-17.2-.5-6.3-.6-4.5-.6-2.7-.3-.6-.3-.1z" fill="url(#BMc)"/><path d="M857.8,218.4l.4 .3 .3 .7 .6 2.5 .7 4 1.1 8.4 1.9 19.2 4.8 54.7 2.6 27.8 2.9 24.2 1.4 9.3 1.6 9.2 10.8-5.3-1.6-9.2-1.4-9.3-2.8-24.7-2.6-28.6-4.7-56.7-1.9-19.7-1-8.7-.7-4.1-.7-2.5-.3-.7-.3-.3z" fill="url(#BZb)"/><path d="M876.1,378.7l2 8.1 .9 3.1 1.3 3.2 .9 1.7 1.2 1.6 1.2 .6 .9 0 .3-.1 10.7-5-.6 .1-.6-.1-1.2-.8-1.2-1.6-.9-1.8-1.2-3.1-1-3.1-1.9-8.1z" fill="url(#Bac)"/><path d="M884.8,396.9l.2-.2 10.8-5-.3 .2z" fill="#6a8befdb"/><path d="M885,396.7l1.2-1.3 .9-1.6 1.1-3.2 .8-3.1 1.7-8.8 1.5-12.9 1.3-14.6 1.2-18.6 2.9-61 .2-4.6 11-2.8-3 62.9-1.2 19-1.3 14.8-1.6 12.9-1.6 8.7-.9 3.1-1.1 3-.9 1.6-1.1 1.3-.3 .2z" fill="url(#Bbc)"/><path d="M897.8,267l.8-12.2 .7-9.6 .9-6.1 .5-2 .3-.3 11-6.1-.6 1.5-.8 5.7-.8 9.3-.8 12.4-.2 4.6z" fill="url(#Bcc)"/><path d="M901,236.8l.3 .1 .4 .5 .6 2.1 .7 3.5 1 7.4 1.8 16.2 5 52.2 2.4 23.4 2.7 22.3 2.3 15.2 10.6-9.4-2.3-16-2.6-22.7-6.9-70.1-1.8-16-1-7.6-.6-3.8-.7-2.5-.3-.7-.3-.3-.3 .1z" fill="url(#Bdc)"/><path d="M918.2,379.7l2.2 11.5 1.3 5 1.3 4 1.2 3 1.2 2.1 1.2 1.2 .6 .3 .6 0 .6-.1 10.6-6.2-.6-.1-.6-.2-.6-.5-.9-1.1-1.2-2.2-1.3-3.2-1.2-4.1-1.3-5.1-2.2-11.7-.3-2z" fill="url(#Bec)"/><path d="M928.4,406.7l.6-.5 10.6-5.9-.6 .2z" fill="#7396f5db"/><path d="M929,406.2l1.2-1.6 .9-1.9 .9-2.7 .9-3.4 1.7-9.8 1.4-11.6 1.1-12.1 1.1-14.8 3.2-55.6 1.1-16.6 .6-6.4 10.7 .9-1.1 14.8-3.6 59.4-1.1 14.4-1.1 11.7-1.4 11.2-1.8 9.2-.8 3.2-.9 2.4-.9 1.8-.9 1.1-.3 .3-.3 .2z" fill="url(#Bfc)"/><path d="M943.1,269.7l.8-6.3 .7-1.8 .3-.2 10.7-.1-.3 .3-.3 .8-.6 3.2-.6 5z" fill="url(#Bgc)"/><path d="M944.9,261.4l.3 .3 .6 2 1.3 8.2 5.3 52 2.6 21.8 2.9 19.4 3.2 17.2 10.5-11.3-3.5-16.5-2.8-16.9-2.6-19.9-4.8-46.6-1.3-7.9-.6-1.7-.4-.2z" fill="url(#Bhc)"/><path d="M961.1,382.3l3.1 13.5 1.6 5.4 1.2 3.5 1.6 3.3 1.2 1.8 1.2 1 .7 .1 .6 0 .6-.4 .3-.3 10.4-9.1-.6 .2-.7-.1-1.2-.9-1.2-1.8-1.5-3.2-1.6-4.2-1.5-5.2-3.7-14.9z" fill="url(#Bic)"/><path d="M973.2,410.2l.6-.7 10.4-8.8-.6 .4z" fill="#8badfddb"/><path d="M973.8,409.5l.9-1.7 .9-2.4 1.6-5.8 1.5-8.7 1.2-9.3 1.2-11.9 1.2-14.4 4.1-55.4 .9-9.2 .9-5.2 .4-.7 .3-.2 10.5 2.2-.3 .1-.3 .7-.7 2.8-.9 7.8-4.4 55.5-2.2 21.3-1.2 8.7-1.2 6.7-1.6 5.7-.6 1.7-.9 1.8-.6 .8-.3 .3z" fill="url(#Bjc)"/><path d="M988.9,284.6l.3 .4 .6 2.2 1.3 9.6 4.4 51.4 1.2 12.3 1.3 10.3 1.5 10.2 1.5 7.7 1.6 5.7 1.9 5 10.2-3.9-.9-1.4-.9-1.8-1.6-4.4-1.5-6.5-1.5-9.2-1.2-9.6-1.2-11.8-4.6-54.3-1-6.9-.6-2.4-.3-.4z" fill="url(#Bkc)"/><path d="M1004.5,399.4l1.5 3.1 1.6 2.5 1.8 2.4 1.9 1.9 1.6 1.1 1.2 .5 1.3 0 1.2-.7 .7-.6 .3-.4 10.2-14-.3 .4-1.2 1-1.3 .6-1.9 .4-2.5 .1-2.8-.2-1.2-.5-.9-.6-1-.9z" fill="url(#Blc)"/><path d="M1017.6,409.2l.3-.5 10.3-13.9-.4 .4z" fill="#aac7fddb"/><path d="M1017.9,408.7l1.3-2.4 1.2-3.7 1.3-5.2 1-5.1 1.3-8.4 1-7.8 2-19.5 10.3-7.4-1.4 12.1-1.6 12.1-1.7 8.9-.9 4.1-1 3.2-1 2.4-.9 1.9-.6 .9z" fill="url(#Bmc)"/><path d="M1027,356.6l1.7-19.2 1.8-19.3 1-9.4 1-6.1 .6-1.7 10.4-1.4-.4 .3-.3 .9-.7 3.1-1 7.6-3.8 37.8z" fill="url(#Bnc)"/><path d="M1033.1,300.9l.4-.1 10.3-1.2-.3-.1z" fill="#e36c55db"/><path d="M1033.5,300.8l.3 .5 .6 2.6 .6 4.6 .6 6.2 4 59.2 1.2 14.1 1.1 11.7 1.5 11.3 1.5 8.2 1.6 5.7 .9 2.4 .9 1.8 10 .2-.3-.4-.9-1.8-.9-2.5-1.6-5.9-1.4-8.5-1.2-9.2-1.1-11.4-1.2-14.1-3.8-60.5-1.2-11.7-.6-3-.3-.7z" fill="url(#Boc)"/><path d="M1048.3,429.1l1 1.1 1.2 .8 10-.2-.3-.1-1-.4-.9-1z" fill="#8caffedb"/><path d="M1050.5,431l.7 0 9.9-.4-.3 .1-.3 .1z" fill="#8caffedb"/><path d="M1051.2,431l.9-.3 1.6-1.2 1.9-2.7 2.7-5.1 2.9-7.4 10.1-9.7-2.7 10.3-2.6 8.2-1.3 3.1-1.3 2.3-1.3 1.5-1 .6z" fill="url(#Bpc)"/><path d="M1061.2,414.3l2.3-7.4 2.1-8.1 2-10.5 2.2-13.8 1.8-14.4 10.2-15.7-1.4 11.1-2.9 18.7-3.5 18.2-2.7 12.2z" fill="url(#Bqc)"/><path d="M1071.6,360.1l4.4-39.5 1.1-7.3 .7-3.1 .4-.9 10.2-9.2-.4 .6-1 4.1-1.1 6.9-4.1 32.7z" fill="url(#Brc)"/><path d="M1078.2,309.3l.3-.5 10.2-8.8-.3 .1z" fill="#d75445db"/><path d="M1078.5,308.8l.3 0 .4 .6 .6 2.7 .6 4.6 .5 6.5 1.1 17 2.7 53 1 15.8 1.1 13.2 1.1 10.6 1.2 8.3 1.4 7.9 1.5 5.4 9.8-1.9-1.5-5.8-1.4-8.1-1.1-8.7-1.1-10.9-1.1-13.6-1-16.4-2.6-54.9-1-17.8-1.1-12-.6-3.1-.3-.9-.3-.3z" fill="url(#Bsc)"/><path d="M846.7,228l.3 .3 .3 .7 .7 2.4 .7 3.9 1.1 8.3 1.9 18.6 4.8 52.9 2.7 26.8 2.9 23.7 1.4 9.1 1.7 9.1 10.9-5.1-1.6-9.2-1.4-9.3-2.9-24.2-2.6-27.8-4.8-54.7-1.9-19.2-1.1-8.4-.7-4-.6-2.5-.3-.7-.4-.3z" fill="url(#BGb)"/><path d="M865.2,383.8l2 8.1 1.9 5.5 .9 1.9 1.2 1.7 1.2 .8 .9 0 .3-.1 10.9-4.7-.9 0-1.2-.6-1.2-1.6-.9-1.7-1.3-3.2-.9-3.1-2-8.1z" fill="url(#BHb)"/><path d="M873.6,401.7l.3-.2 10.9-4.6-.3 .1z" fill="#7295f4db"/><path d="M873.9,401.5l1.1-1.2 .9-1.6 1.1-3.1 .9-3.2 1.6-8.7 1.5-12.7 1.3-14.2 1.1-17.9 2.9-58.5 .2-4.4 11.1-4.4-2.9 61-1.2 18.6-1.3 14.6-1.5 12.9-1.7 8.8-.8 3.1-1.1 3.2-.9 1.6-1.2 1.3-.2 .2z" fill="url(#BIb)"/><path d="M886.5,276l.8-12.2 .7-9.7 .8-6.6 .6-2.4 .3-.6 11-7.4-.5 2-.9 6.1-.7 9.6-.8 12.2-.2 4.6z" fill="url(#BJb)"/><path d="M889.7,244.5l.3-.2 11-7.5-.3 .3z" fill="#ba162bdb"/><path d="M890,244.3l.3 .3 .3 .6 .7 2.4 .6 3.8 1.1 7.7 1.8 16.8 4.4 45.9 2.5 24.2 2.8 22.9 2.6 17.5 .4 1.9 10.7-8.6-2.3-15.2-2.7-22.3-2.4-23.4-5-52.2-1.8-16.2-1-7.4-.7-3.5-.6-2.1-.4-.5-.3-.1z" fill="url(#BKb)"/><path d="M907.5,388.3l2.2 10.7 1.3 4.7 1.3 3.6 1.2 2.7 1.2 1.7 1.3 .9 .9 0 .3-.1 10.6-5.7-.6 0-.6-.3-1.2-1.2-1.2-2.1-1.2-3-1.3-4-1.3-5-2.2-11.5z" fill="url(#BLb)"/><path d="M917.2,412.5l.6-.3 10.6-5.5-.6 .1z" fill="#7a9df8db"/><path d="M917.8,412.2l1.2-1.6 .8-1.9 .9-2.5 .9-3.4 1.7-9.4 1.4-11.2 1.3-14.8 1.1-14.8 3.9-67.7 .6-7.3 10.9-1.5-1.1 16.6-3.2 55.6-1.1 14.8-1.1 12.1-1.4 11.6-1.7 9.8-.9 3.4-.9 2.7-.9 1.9-1.2 1.6-.6 .5z" fill="url(#BMb)"/><path d="M931.6,277.6l.5-5.9 .6-4.2 .6-2.4 .3-.5 11-3-.7 1.8-.8 6.3-.6 6.4z" fill="url(#BNb)"/><path d="M933.6,264.6l.4 0 10.9-3.2-.3 .2z" fill="#ca3b37db"/><path d="M934,264.6l.6 1.3 .6 2.9 1.4 9.8 5.1 51.6 3 26.5 2.6 18.7 2.9 16.6 .3 1.6 10.6-11.3-3.2-17.2-2.9-19.4-2.6-21.8-5.3-52-1.3-8.2-.6-2-.3-.3z" fill="url(#BOb)"/><path d="M950.5,393.6l1.3 5.9 1.6 6.3 1.2 4.2 1.3 3.5 1.2 2.7 1.3 1.9 1.2 1.1 .6 .2 .6-.1 .7-.2 .3-.3 10.5-7.9-.6 0-.7-.1-1.2-1-1.2-1.8-1.6-3.3-1.2-3.5-1.6-5.4-3.1-13.5z" fill="url(#BPb)"/><path d="M961.8,418.8l.6-.6 10.5-7.7-.6 .4z" fill="#8caffedb"/><path d="M962.4,418.2l.9-1.5 .9-2.2 .9-3 .9-3.8 1.5-8.6 1.6-11.9 2.1-23 3.9-56.9 .9-11.1 .6-5.5 .9-5 10.7-.2-.9 5.2-.9 9.2-4.1 55.4-1.2 14.4-1.2 11.9-1.2 9.3-1.5 8.7-1.6 5.8-.9 2.4-.9 1.7-.6 .7-.3 .3z" fill="url(#BQb)"/><path d="M977.5,285.7l.4-.7 .3-.1 10.7-.3-.3 .2-.4 .7z" fill="#d65244db"/><path d="M978.2,284.9l.3 .4 .6 2.2 1.3 9.4 4.8 55 2.6 23.2 1.2 8.9 1.6 9 1.6 7.2 1.8 6.8 10.5-7.6-1.9-5-1.6-5.7-1.5-7.7-1.5-10.2-1.3-10.3-1.2-12.3-4.4-51.4-1.3-9.6-.6-2.2-.3-.4z" fill="url(#BRb)"/><path d="M994,407l1.3 3.6 1.6 3.9 1.5 3.2 1.6 2.5 1.6 1.8 1.2 .9 1.3 .3 1.2-.4 .6-.5 .4-.3 10.3-11.8-1.2 .7-1.3 0-1.2-.5-1.6-1.1-1.9-1.9-1.8-2.4-1.6-2.5-1.5-3.1z" fill="url(#BSb)"/><path d="M1006.3,422l.6-.9 10.4-11.5-.7 .6z" fill="#a5c3fedb"/><path d="M1006.9,421.1l1.6-3.3 1.6-5.4 1.3-6 1.2-8 1.4-10.1 1.3-12.4 3-35.4 10.4-3.1-1.7 19.2-2 19.5-1 7.8-1.3 8.4-1 5.1-1.3 5.2-1.2 3.7-1.3 2.4-.3 .5-.3 .4z" fill="url(#BTb)"/><path d="M1018.3,340.5l1-12.5 1.1-11.3 1-8.9 1-5.1 .3-.7 .3-.1 10.5-1.1-.4 .1-.6 1.7-1 6.1-1 9.4-1.8 19.3z" fill="url(#BUb)"/><path d="M1023,301.9l.3 .3 .7 2.3 .6 4.3 .6 5.9 4.4 61.7 1.2 13.8 1.2 11.4 1.2 9.3 1.5 8.8 1.6 6.5 .9 2.8 1 2.3 10.1-2.2-.9-1.8-.9-2.4-1.6-5.7-1.5-8.2-1.5-11.3-1.1-11.7-1.2-14.1-4-59.2-.6-6.2-.6-4.6-.6-2.6-.3-.5z" fill="url(#BVb)"/><path d="M1038.2,431.3l.9 1.7 .9 1.2 1 .8 .9 .4 10.2-4.7-.9 .3-.7 0-1.2-.8-1-1.1z" fill="#9dbdffdb"/><path d="M1041.9,435.4l1.6 .1 1-.4 1-.6 10.1-7.7-1.9 2.7-1.6 1.2z" fill="#9ebeffdb"/><path d="M1045.5,434.5l1.3-1.1 1.6-2 1.3-2 1.3-2.7 1.3-3.3 1-3 10.2-13.5-2.3 7.4-2.9 7.4-2.7 5.1z" fill="url(#BWb)"/><path d="M1053.3,420.4l2-7.8 2.1-10.9 1.7-12.1 1.5-11.8 5.5-53 1.1-7.1 .7-2.8 .3-.7 10.3-5.4-.3 .5-.4 .9-.7 3.1-1.1 7.3-4.4 39.5-1.8 14.4-2.2 13.8-2 10.5-2.1 8.1z" fill="url(#BXb)"/><path d="M1068.2,314.2l.4-.1 10.2-5.3-.3 0z" fill="#d24b40db"/><path d="M1068.6,314.1l.3 .3 .3 .9 .6 3.3 1.2 12 3.6 63.9 1.1 15.6 1.1 13.1 1.2 10.6 1.1 8.5 1.5 7.9 1.6 5.5 9.8-1.3-1.5-5.4-1.4-7.9-1.2-8.3-1.1-10.6-1.1-13.2-1-15.8-2.7-53-1.1-17-.5-6.5-.6-4.6-.6-2.7-.4-.6z" fill="url(#BYb)"/><path d="M835.4,237.7l.3 .3 .3 .7 .7 2.4 .7 3.9 1.1 8.1 2 18.2 4.9 51 2.7 25.8 2.9 22.9 1.4 8.8 1.7 8.9 11.1-4.9-1.7-9.1-1.4-9.1-2.9-23.7-2.7-26.8-4.8-52.9-1.9-18.6-1.1-8.3-.7-3.9-.7-2.4-.3-.7-.3-.3z" fill="url(#Blb)"/><path d="M854.1,388.7l2 8 1.9 5.4 .9 1.8 1 1.3 1.2 .9 .9 .1 .3-.1 11-4.3-.9 0-1.2-.8-1.2-1.7-.9-1.9-1.9-5.5-2-8.1z" fill="url(#Bmb)"/><path d="M862.3,406.1l.3-.1 11-4.3-.3 .1z" fill="#7b9ff9db"/><path d="M862.6,406l1.1-1.2 .9-1.5 1.1-3.1 .8-3 1.7-8.5 1.5-12.3 1.2-13.5 1.2-17 2.8-55.6 .3-4.2 11.1-5.7-2.9 58.5-1.1 17.9-1.3 14.2-1.5 12.7-1.6 8.7-.9 3.2-1.1 3.1-.9 1.6-1.1 1.2-.3 .2z" fill="url(#Bnb)"/><path d="M875.2,286.1l.9-15.6 .7-9.1 .8-6 .6-2.1 .3-.4 11.2-8.4-.3 .6-.6 2.4-.8 6.6-.7 9.7-.8 12.2-.2 4.4z" fill="url(#Bob)"/><path d="M878.5,252.9l.3-.1 .3 .4 .7 1.9 .7 3.2 1 7.2 1.9 16.4 4.8 50.1 2.6 23.9 2.8 22 2.7 16.6 10.8-8.1-2.6-17.5-2.8-22.9-2.5-24.2-4.4-45.9-1.8-16.8-1.1-7.7-.6-3.8-.7-2.4-.3-.6-.3-.3-.3 .2z" fill="url(#Bpb)"/><path d="M896.3,394.5l2.3 10.5 .9 3.5 1.3 3.7 .9 2.2 1.3 2.1 1.2 1.2 .6 .3 .6 0 .3-.1 .3-.1 10.9-5.2-.9 0-1.3-.9-1.2-1.7-1.2-2.7-1.3-3.6-1.3-4.7-2.2-10.7-.4-1.9z" fill="url(#Bqb)"/><path d="M906,417.8l.3-.2 10.9-5.1-.3 .1z" fill="#82a6fbdb"/><path d="M906.3,417.6l1.2-1.4 .9-1.8 .9-2.4 .9-3.2 1.7-9 1.6-13.1 1.4-14.6 1-14.4 3.6-61.7 .5-7.8 11-3.3-3.9 67.7-1.1 14.8-1.3 14.8-1.4 11.2-1.7 9.4-.9 3.4-.9 2.5-.8 1.9-1.2 1.6-.6 .3z" fill="url(#Brb)"/><path d="M920,288.2l1.1-12.1 .6-3.7 .6-2 .3-.3 11-5.5-.3 .5-.6 2.4-.6 4.2-.5 5.9-.6 7.3z" fill="url(#Bsb)"/><path d="M922.6,270.1l.3 .1 .3 .6 .7 2.3 1.3 8.8 1.8 16.3 4.2 43.7 2.4 21.8 3 22.3 1.3 8.1 1.6 8.7 10.7-10.8-2.9-16.6-2.6-18.7-3-26.5-5.1-51.6-1.4-9.8-.6-2.9-.6-1.3-.4 0z" fill="url(#Btb)"/><path d="M939.5,402.8l2.6 10.9 1.3 4.3 1.2 3.4 1.3 2.6 1.2 1.8 1.3 .9 .9 .2 .6-.2 .3-.2 10.6-7.2-.6 .1-.6-.2-1.2-1.1-1.3-1.9-1.2-2.7-1.3-3.5-1.2-4.2-1.6-6.3-1.3-5.9-.3-1.6z" fill="url(#Bub)"/><path d="M950.2,426.5l.6-.6 10.7-6.8-.7 .2z" fill="#90b2fedb"/><path d="M950.8,425.9l.9-1.3 1-2 .9-2.7 .9-3.5 1.8-9.7 1.5-11.5 1.2-11.8 1.1-14.2 3.6-52.3 1.2-15.5 .9-8.4 10.8-2.3-.6 5.5-.9 11.1-3.9 56.9-2.1 23-1.6 11.9-1.5 8.6-.9 3.8-.9 3-.9 2.2-.9 1.5-.6 .6-.3 .3z" fill="url(#Bvb)"/><path d="M965.8,293l.6-3.5 .6-1.6 10.9-2.9-.4 .7-.9 5z" fill="url(#Bwb)"/><path d="M967,287.9l.3 0 10.9-3-.3 .1z" fill="#c83836db"/><path d="M967.3,287.9l.4 .4 .6 2.2 1.3 9.3 1.3 13.6 4 45.5 2.6 23.9 1.3 9.5 1.2 8 1.6 8.3 1.6 6.8 .3 1.2 10.5-9.6-1.8-6.8-1.6-7.2-1.6-9-1.2-8.9-2.6-23.2-4.8-55-1.3-9.4-.6-2.2-.3-.4z" fill="url(#Bxb)"/><path d="M983.5,416.6l1.3 4.4 1.2 3.6 1.3 3.1 1.3 2.5 1.2 1.9 1.3 1.2 1.2 .7 1.3-.1 .9-.6 .3-.3 10.5-10.2-1.2 .4-1.3-.3-1.2-.9-1.6-1.8-1.6-2.5-1.5-3.2-1.6-3.9-1.3-3.6z" fill="url(#Byb)"/><path d="M994.8,433l.7-.8 10.4-9.9-.6 .5z" fill="#a2c1ffdb"/><path d="M995.5,432.2l.9-1.6 1-2.3 1.6-5.5 1.6-7.8 1.6-10.8 1.3-11.1 1.3-13.3 3.6-45.4 .4-4.2 10.5-2.2-1 12.5-3 35.4-1.3 12.4-1.4 10.1-1.2 8-1.3 6-1.6 5.4-1.6 3.3-.6 .9-.4 .3z" fill="url(#Bzb)"/><path d="M1008.8,330.2l1-11.3 1-8.7 1-5 .3-.7 .3-.2 10.6-2.4-.3 .1-.3 .7-1 5.1-1 8.9-1.1 11.3z" fill="url(#BAb)"/><path d="M1012.4,304.3l.3 .3 .7 2.2 .6 4 .6 5.6 1.3 14.7 3.6 49.6 1.2 13.6 1.2 11.4 1.3 9.5 1.5 9.3 1.6 7 1.5 5.1 10.4-5.3-1-2.3-.9-2.8-1.6-6.5-1.5-8.8-1.2-9.3-1.2-11.4-1.2-13.8-4.4-61.7-.6-5.9-.6-4.3-.7-2.3-.3-.3z" fill="url(#BBb)"/><path d="M1027.8,436.6l1.9 4.3 1 1.5 1.2 1.4 1 .6 1.3 .5 1.3-.1 .9-.4 10.4-11-1.3 1.1-1 .6-1 .4-1.6-.1-.9-.4-1-.8-.9-1.2-.9-1.7z" fill="url(#BCb)"/><path d="M1036.4,444.4l1.3-1 .3-.3 10.4-11.7-1.6 2z" fill="#a9c6fddb"/><path d="M1038,443.1l1.3-1.8 1.3-2.5 1.4-3.3 1-3.2 2-8.4 2-11.9 10.4-10.3-2.1 10.9-2 7.8-1 3-1.3 3.3-1.3 2.7-1.3 2z" fill="url(#BDb)"/><path d="M1047,412l1.8-13.2 1.8-16.2 3.7-38.7 1.4-13.9 .7-5.3 .7-3.9 .7-2 .4-.3 10.4-4.4-.4 .1-.3 .7-.7 2.8-1.1 7.1-5.5 53-1.5 11.8-1.7 12.1z" fill="url(#BEb)"/><path d="M1058.2,318.5l.3 .2 .3 .7 .6 2.9 1.2 11.3 1.1 16.3 3 49.5 1.2 15 1.1 12.6 1.2 10.3 1.1 8.3 1.3 6.6 1.5 6 10.1-2.5-1.6-5.5-1.5-7.9-1.1-8.5-1.2-10.6-1.1-13.1-1.1-15.6-3.6-63.9-1.2-12-.6-3.3-.3-.9-.3-.3z" fill="url(#BFb)"/><path d="M824,247.5l.3 .3 .3 .7 .7 2.4 .7 3.8 1.1 8 2 17.8 5.4 53.1 2.3 20.9 3 22 1.4 8.5 1.7 8.6 11.2-4.9-1.7-8.9-1.4-8.8-2.9-22.9-2.7-25.8-4.9-51-2-18.2-1.1-8.1-.7-3.9-.7-2.4-.3-.7-.3-.3z" fill="url(#BQ)"/><path d="M842.9,393.6l2 7.6 1.9 5.2 1 1.8 .9 1.2 1.2 .8 .9 0 11.2-4-.9-.1-1.2-.9-1-1.3-.9-1.8-1.9-5.4-2-8z" fill="url(#BR)"/><path d="M850.8,410.2l.3-.1 11.2-4-.3 .1z" fill="#86a9fcdb"/><path d="M851.1,410.1l1.2-1.1 .8-1.5 1.2-2.8 .8-3 1.6-8.1 1.5-11.6 1.3-12.8 1.1-15.8 2.8-52.3 .3-4.1 11.2-6.7-2.8 55.6-1.2 17-1.2 13.5-1.5 12.3-1.7 8.5-.8 3-1.1 3.1-.9 1.5-1.1 1.2-.3 .1z" fill="url(#BS)"/><path d="M863.7,297l.9-15.3 .9-11.9 .8-5.6 .6-1.9 .3-.3 11.3-9.1-.3 .4-.6 2.1-.8 6-.7 9.1-.9 15.6-.3 4.2z" fill="url(#BT)"/><path d="M867.2,262l.3 0 .3 .5 .7 1.9 .7 3.4 1.1 7.4 1.9 16.7 4.6 46.6 2.6 23.9 2.8 21.9 1.4 8.8 1.7 9.1 11-7.7-2.7-16.6-2.8-22-2.6-23.9-4.8-50.1-1.9-16.4-1-7.2-.7-3.2-.7-1.9-.3-.4-.3 .1z" fill="url(#BU)"/><path d="M885.3,402.2l2 8.5 .9 3.4 1.3 3.6 1 2 1.2 2 1.2 1 1 .2 .6-.1 10.9-4.8-.6 0-.6-.3-1.2-1.2-1.3-2.1-.9-2.2-1.3-3.7-.9-3.5-2.3-10.5z" fill="url(#BV)"/><path d="M894.5,422.8l.3-.2 10.9-4.7-.3 .1z" fill="#8caffedb"/><path d="M894.8,422.6l1.2-1.3 .9-1.6 .8-2.3 .9-3 1.7-8.4 1.6-12.1 1.4-13.6 1.3-16.8 3.5-58.7 .2-3.9 11.2-4.9-3.6 61.7-1 14.4-1.4 14.6-1.6 13.1-1.7 9-.9 3.2-.9 2.4-.9 1.8-1.2 1.4-.3 .2-.3 .1z" fill="url(#BW)"/><path d="M908.3,300.9l1.4-16 .8-5.6 .7-1.6 11.1-7.3-.6 2-.6 3.7-1.1 12.1-.5 7.8z" fill="url(#BX)"/><path d="M911.2,277.7l.3-.2 11.1-7.4-.3 .3z" fill="#ba162bdb"/><path d="M911.5,277.5l.3 .2 .3 .6 .7 2.5 1.3 8.9 1.8 16.6 4.3 45.1 2.5 22.6 2.7 20.5 1.3 8.3 1.7 8.8 .3 1.5 10.8-10.3-1.6-8.7-1.3-8.1-3-22.3-2.4-21.8-4.2-43.7-1.8-16.3-1.3-8.8-.7-2.3-.3-.6-.3-.1z" fill="url(#BY)"/><path d="M928.7,413.1l2.3 9.2 .9 3 1.3 3.4 1 1.9 1.2 1.9 1.3 1 .9 .3 .9-.3 10.8-6.6-.9-.2-1.3-.9-1.2-1.8-1.3-2.6-1.2-3.4-1.3-4.3-2.6-10.9z" fill="url(#BZ)"/><path d="M938.5,433.5l.6-.5 10.8-6.3-.6 .2z" fill="#96b7ffdb"/><path d="M939.1,433l1.3-1.7 .9-2 .9-2.7 .9-3.4 1.8-9.5 1.5-10.9 1.1-11.1 1.5-17.1 4.3-62.4 .6-6.7 11-4.1-1.2 15.5-3.6 52.3-1.1 14.2-1.2 11.8-1.5 11.5-1.8 9.7-.9 3.5-.9 2.7-1 2-.9 1.3-.6 .6-.3 .2z" fill="url(#Bab)"/><path d="M953.9,305.5l.6-5.5 .6-3.9 .6-2.3 .4-.4 10.9-5.5-.6 1.6-.6 3.5-.9 8.4z" fill="url(#Bbb)"/><path d="M956.1,293.4l.3 0 .3 .5 .7 2.3 .6 3.8 1 8.3 5.4 60.2 2.7 24.6 2.6 18.3 1.2 7.1 1.6 7.4 10.7-10.5-1.6-6.8-1.6-8.3-1.2-8-1.3-9.5-2.6-23.9-4-45.5-1.3-13.6-1.3-9.3-.6-2.2-.4-.4-.3 0z" fill="url(#Bcb)"/><path d="M972.5,425.9l2.3 7.9 1.2 3.5 1.3 2.7 1.3 2 1.2 1.2 1.3 .6 1-.1 .9-.5 10.6-9.3-1.3 .1-1.2-.7-1.3-1.2-1.2-1.9-1.3-2.5-1.3-3.1-1.2-3.6-1.3-4.4-.3-1.2z" fill="url(#Bdb)"/><path d="M983,443.2l.9-1 10.6-8.9-.9 .6z" fill="#a2c1ffdb"/><path d="M983.9,442.2l1-1.6 .9-2.2 1.6-5.1 1.6-7.3 1.6-10 1.6-13 1.3-12.9 3.5-44.3 .7-8.3 10.7-3.1-3.6 45.4-1.3 13.3-1.3 11.1-1.6 10.8-1.6 7.8-1.6 5.5-1 2.3-.9 1.6-.7 .8-.3 .3z" fill="url(#Beb)"/><path d="M997.7,337.5l1-11.5 1-9.2 1-5.9 .6-1.8 .3-.1 10.8-4.7-.3 .2-.3 .7-1 5-1 8.7-1 11.3-.4 4.2z" fill="url(#Bfb)"/><path d="M1001.6,309l.4 .3 .3 .8 .6 2.9 1.3 10.6 5 63.6 2.5 25.2 1.3 9.8 1.2 8.1 1.3 6.6 1.6 6.5 .3 1.1 10.4-7.9-1.5-5.1-1.6-7-1.5-9.3-1.3-9.5-1.2-11.4-1.2-13.6-3.6-49.6-1.3-14.7-.6-5.6-.6-4-.7-2.2-.3-.3z" fill="url(#Bgb)"/><path d="M1017.4,444.5l.9 3 1.3 3.1 1.3 2.4 1.2 1.6 1.3 1 1.3 .4 1.3-.3 1-.6 .3-.3 10.4-11.4-1.3 1-.9 .4-1.3 .1-1.3-.5-1-.6-1.2-1.4-1-1.5-1.9-4.3z" fill="url(#Bhb)"/><path d="M1027.3,454.8l.3-.4 10.4-11.3-.3 .3z" fill="#a9c6fddb"/><path d="M1027.6,454.4l1.6-2.5 1.3-3 1.4-4 1.3-5.3 1.3-6.6 1.4-8.2 2.4-19 10.5-7-1.8 13.2-2 11.9-2 8.4-1 3.2-1.4 3.3-1.3 2.5-1.3 1.8z" fill="url(#Bib)"/><path d="M1038.3,405.8l.7-6.5 5.8-60.9 1.4-10.5 .7-2.9 .4-.8 .3-.4 10.6-5.3-.4 .3-.7 2-.7 3.9-.7 5.3-1.4 13.9-3.7 38.7-1.8 16.2z" fill="url(#Bjb)"/><path d="M1047.6,323.8l.3 .2 .4 .6 .6 2.7 1.2 10.3 1.2 15.3 3.4 52 1.1 14.6 1.2 12.4 1.2 10.3 1.2 8.4 1.2 6.7 1.3 5.3 10.2-4.4-1.5-6-1.3-6.6-1.1-8.3-1.2-10.3-1.1-12.6-1.2-15-3-49.5-1.1-16.3-1.2-11.3-.6-2.9-.3-.7-.3-.2z" fill="url(#Bkb)"/><path d="M812.4,257.4l.6 1 .7 2.4 1.5 8.8 2 16.6 5.5 51.5 2.7 23.6 3 20.8 1.4 8 1.8 8.2 11.3-4.7-1.7-8.6-1.4-8.5-3-22-2.3-20.9-5.4-53.1-2-17.8-1.1-8-.7-3.8-.7-2.4-.3-.7-.3-.3z" fill="url(#Bv)"/><path d="M831.6,398.3l2 7.2 1.9 4.9 .9 1.6 1 1.1 .9 .6 .9 0 .3 0 11.3-3.5-.9 0-1.2-.8-.9-1.2-1-1.8-1.9-5.2-2-7.6z" fill="url(#Bw)"/><path d="M839.5,413.7l1.2-1 .8-1.3 1.1-2.7 .9-2.7 1.6-7.6 1.5-10.8 1.5-14.4 1.1-15.2 2.6-45.5 .2-4 11.4-7.4-2.8 52.3-1.1 15.8-1.3 12.8-1.5 11.6-1.6 8.1-.8 3-1.2 2.8-.8 1.5-1.2 1.1-.3 .1z" fill="url(#Bx)"/><path d="M852,308.5l.9-14.9 1-12.2 .5-4.6 .5-3.1 .6-1.8 .3-.3 11.4-9.6-.3 .3-.6 1.9-.8 5.6-.9 11.9-.9 15.3-.3 4.1z" fill="url(#By)"/><path d="M855.8,271.6l.3 .1 .3 .5 .7 2 .7 3.5 1.1 7.5 1.9 16.9 5.1 50.2 2.3 19.7 2.9 21 1.4 8.3 1.7 8.4 11.1-7.5-1.7-9.1-1.4-8.8-2.8-21.9-2.6-23.9-4.6-46.6-1.9-16.7-1.1-7.4-.7-3.4-.7-1.9-.3-.5-.3 0z" fill="url(#Bz)"/><path d="M874.2,409.7l1.9 7.8 2 5.4 .9 1.9 1 1.4 1.2 1.1 .9 .2 .6-.1 11.2-4.5-1-.2-1.2-1-1.2-2-1-2-1.3-3.6-.9-3.4-2-8.5z" fill="url(#BA)"/><path d="M882.7,427.4l.6-.4 11.2-4.2-.6 .1z" fill="#96b7ffdb"/><path d="M883.3,427l1.2-1.4 .9-1.7 .9-2.4 .9-3 1.7-8.3 1.6-11.7 1.3-12.9 1.3-15.8 3.2-51.1 .5-7.6 11.3-6.3-3.5 58.7-1.3 16.8-1.4 13.6-1.6 12.1-1.7 8.4-.9 3-.8 2.3-.9 1.6-1.2 1.3-.3 .2z" fill="url(#BB)"/><path d="M896.8,311.1l.8-10.3 .8-8 .9-5 .6-1.5 11.3-8.6-.7 1.6-.8 5.6-1.4 16-.2 3.9z" fill="url(#BC)"/><path d="M899.9,286.3l.3-.1 .3 .3 .7 1.7 .7 3.3 1 7.2 1.8 16.7 4.8 49.7 2.2 19.4 2.7 20.6 1.4 8.2 1.7 8.4 10.9-10.1-1.7-8.8-1.3-8.3-2.7-20.5-2.5-22.6-4.3-45.1-1.8-16.6-1.3-8.9-.7-2.5-.3-.6-.3-.2-.3 .2z" fill="url(#BD)"/><path d="M917.5,421.7l1.9 7.8 1 3 1.3 3.3 .9 1.8 1.3 1.8 1.2 .9 1 .1 .6-.2 10.9-6.4-.9-.3-1.3-1-1.2-1.9-1-1.9-1.3-3.4-.9-3-2.3-9.2-.3-1.5z" fill="url(#BE)"/><path d="M926.7,440.2l.9-.8 10.9-5.9-.9 .3z" fill="#9dbdffdb"/><path d="M927.6,439.4l1.2-1.8 .9-2 1-2.7 .9-3.3 1.7-9.1 1.5-10.4 1.4-13.3 1.2-12.9 3.7-51.3 1.1-14.7 11.1-5.7-4.3 62.4-1.5 17.1-1.1 11.1-1.5 10.9-1.8 9.5-.9 3.4-.9 2.7-.9 2-1.3 1.7-.6 .5z" fill="url(#BF)"/><path d="M942.2,317.9l.9-8.8 .6-4.2 .6-2.7 .3-.8 .4-.3 11.1-7.7-.4 .4-.6 2.3-.6 3.9-.6 5.5-.6 6.7z" fill="url(#BG)"/><path d="M945,301.1l.3 .1 .3 .5 .7 2.2 .6 3.8 1.1 8 1.3 13.8 4.5 50.4 2.7 25 2.7 18.7 1.3 7.2 1.3 6 10.7-10.9-1.6-7.4-1.2-7.1-2.6-18.3-2.7-24.6-5.4-60.2-1-8.3-.6-3.8-.7-2.3-.3-.5-.3 0z" fill="url(#BH)"/><path d="M961.8,436.8l2.2 8 1 2.6 1.3 2.6 .9 1.5 1.3 1.2 1.3 .5 .9-.2 .6-.4 10.8-8.9-1 .1-1.3-.6-1.2-1.2-1.3-2-1.3-2.7-1.2-3.5-2.3-7.9z" fill="url(#BI)"/><path d="M971.3,452.6l1-1 10.7-8.4-.9 .5z" fill="#a3c2fedb"/><path d="M972.3,451.6l.9-1.5 1-2.1 .9-2.7 1-3.3 1.5-7.4 1.6-9.7 1.6-12.6 1.3-12.2 3.1-38 1-12.2 10.8-4.1-3.5 44.3-1.3 12.9-1.6 13-1.6 10-1.6 7.3-1.6 5.1-.9 2.2-1 1.6-.9 1z" fill="url(#BJ)"/><path d="M986.2,349.9l1.3-15.1 1-9.2 .9-6.5 .7-2.3 .3-.6 10.9-7.1-.6 1.8-1 5.9-1 9.2-1 11.5-.7 8.3z" fill="url(#BK)"/><path d="M990.4,316.2l.3-.1 .4 .3 .6 1.9 .7 3.6 1 7.9 1.3 14.1 4.1 52 2.6 25.5 1.2 10 1.3 8.5 1.3 7 1.3 5.8 10.6-9.3-1.6-6.5-1.3-6.6-1.2-8.1-1.3-9.8-2.5-25.2-5-63.6-1.3-10.6-.6-2.9-.3-.8-.4-.3-.3 .1z" fill="url(#BL)"/><path d="M1006.5,452.7l.9 3.6 1.3 3.9 1 2.3 1.2 2.3 1.3 1.5 1.3 .8 1.3 0 1-.5 .6-.6 10.6-10.9-1 .6-1.3 .3-1.3-.4-1.3-1-1.2-1.6-1.3-2.4-1.3-3.1-.9-3-.3-1.1z" fill="url(#BM)"/><path d="M1016.4,466l.3-.4 10.6-10.8-.3 .3z" fill="#a9c6fddb"/><path d="M1016.7,465.6l1.7-2.7 1.6-4.2 1.6-5.9 1.4-6.3 1.3-7.8 1.4-9.4 2.8-24.5 10.5-5.5-.7 6.5-2.4 19-1.4 8.2-1.3 6.6-1.3 5.3-1.4 4-1.3 3-1.6 2.5-.3 .4z" fill="url(#BN)"/><path d="M1028.5,404.8l.3-3.5 5-53.5 1.4-10.9 .7-3.6 .7-1.9 .3-.3 10.7-7.3-.3 .4-.4 .8-.7 2.9-1.4 10.5-5.8 60.9z" fill="url(#BO)"/><path d="M1036.9,331.1l.3 .1 .4 .6 .6 2.4 .7 4 .9 8.6 1.2 15 3.5 49.9 2.4 26.6 2.1 17.1 1.3 7.5 1.2 6.1 10.4-6.4-1.3-5.3-1.2-6.7-1.2-8.4-1.2-10.3-1.2-12.4-1.1-14.6-3.4-52-1.2-15.3-1.2-10.3-.6-2.7-.4-.6-.3-.2z" fill="url(#BP)"/><path d="M800.7,267.5l.7 .9 .7 2.5 .7 3.7 1.2 7.9 1.6 13.6 5.9 53.4 3.2 24.4 2.6 16.1 1.4 7.1 1.4 5.9 11.5-4.7-1.8-8.2-1.4-8-3-20.8-2.7-23.6-5.5-51.5-2-16.6-1.5-8.8-.7-2.4-.6-1z" fill="url(#Ba)"/><path d="M820.1,403l2 6.6 .9 2.5 1 1.9 .9 1.4 1 .9 .9 .5 .9-.1 11.5-3-.9 0-.9-.6-1-1.1-.9-1.6-1.9-4.9-2-7.2z" fill="url(#Bb)"/><path d="M827.7,416.7l1.2-.8 .8-1.2 1.2-2.4 .8-2.5 1.6-6.9 1.6-9.7 1.5-13.1 1.1-13.8 1.1-16.2 1.7-29.5 11.5-8.1-2.6 45.5-1.1 15.2-1.5 14.4-1.5 10.8-1.6 7.6-.9 2.7-1.1 2.7-.8 1.3-1.2 1-.3 0z" fill="url(#Bc)"/><path d="M840.3,320.6l1.1-17.9 1-11.7 .5-4.3 .5-3.1 .6-1.6 .3-.3 11.5-10.1-.3 .3-.6 1.8-.5 3.1-.5 4.6-1 12.2-.9 14.9-.2 4z" fill="url(#Bd)"/><path d="M844.3,281.7l.3 .1 .3 .5 .7 2 1.4 8.3 2 16 5.2 50.3 2.7 22.9 2.9 20 1.4 7.7 1.7 7.8 11.3-7.6-1.7-8.4-1.4-8.3-2.9-21-2.3-19.7-5.1-50.2-1.9-16.9-1.1-7.5-.7-3.5-.7-2-.3-.5-.3-.1z" fill="url(#Be)"/><path d="M862.9,417.3l2 6.9 1.9 4.5 1 1.6 .9 1 1.2 .6 1-.2 11.2-4.2-.9-.2-1.2-1.1-1-1.4-.9-1.9-2-5.4-1.9-7.8z" fill="url(#Bf)"/><path d="M870.9,431.7l.6-.3 11.2-4-.6 .1z" fill="#a1c0ffdb"/><path d="M871.5,431.4l1.2-1.4 .9-1.6 1.1-3.1 .9-3 1.7-8.1 1.6-11.1 1.3-12 1.3-14.6 3.4-50.6 11.4-7.2-3.2 51.1-1.3 15.8-1.3 12.9-1.6 11.7-1.7 8.3-.9 3-.9 2.4-.9 1.7-1.2 1.4-.6 .4z" fill="url(#Bg)"/><path d="M884.9,325.9l1.1-13.5 .8-8.1 .8-5.6 .6-2 .3-.5 11.4-9.9-.6 1.5-.9 5-.8 8-.8 10.3-.5 7.6z" fill="url(#Bh)"/><path d="M888.5,296.2l.3-.1 .4 .3 .6 1.7 .7 3.2 1.1 7.1 1.8 16.7 4.9 50.5 2.2 19.7 2.8 20.5 1.4 7.9 1.7 8.1 11.1-10.1-1.7-8.4-1.4-8.2-2.7-20.6-2.2-19.4-4.8-49.7-1.8-16.7-1-7.2-.7-3.3-.7-1.7-.3-.3-.3 .1z" fill="url(#Bi)"/><path d="M906.4,431.8l2 7.1 .9 2.7 1.3 2.7 1 1.4 1.2 1.2 .7 .2 .6 0 .9-.3 11.1-6.4-1-.1-1.2-.9-1.3-1.8-.9-1.8-1.3-3.3-1-3-1.9-7.8z" fill="url(#Bj)"/><path d="M915,446.8l.6-.6 11.1-6-.6 .2z" fill="#a3c2fedb"/><path d="M915.6,446.2l1.3-1.7 .9-1.9 1.8-5.7 1.8-8.3 1.7-11.5 1.4-12.3 1.5-14.9 3.9-51 11.2-6.3-3.7 51.3-1.2 12.9-1.4 13.3-1.5 10.4-1.7 9.1-.9 3.3-1 2.7-.9 2-1.2 1.8-.9 .8z" fill="url(#Bk)"/><path d="M929.9,338.9l1.1-13.3 .9-7.8 .9-5.1 .6-1.7 .4-.3 11.2-9.6-.4 .3-.3 .8-.6 2.7-.6 4.2-.9 8.8-1.1 14.7z" fill="url(#Bl)"/><path d="M933.8,310.7l.3 .2 .3 .4 .7 2.2 1.3 8.3 1.8 16.2 4.6 50.8 2.4 23.2 2.7 20.2 1.3 7.8 1.7 7.9 10.9-11.1-1.3-6-1.3-7.2-2.7-18.7-2.7-25-4.5-50.4-1.3-13.8-1.1-8-.6-3.8-.7-2.2-.3-.5-.3-.1z" fill="url(#Bm)"/><path d="M950.9,447.9l1 3.8 1.3 4.1 .9 2.4 1.3 2.3 1 1.2 1.2 .9 .7 0 .6-.1 1-.6 10.8-8.9-.9 .2-1.3-.5-1.3-1.2-.9-1.5-1.3-2.6-1-2.6-2.2-8z" fill="url(#Bn)"/><path d="M959.9,461.9l.6-.7 10.8-8.6-.6 .4z" fill="#a6c4fedb"/><path d="M960.5,461.2l.9-1.5 1-2 1.9-5.9 1.8-8.6 1.6-9.6 1.6-12.1 1.5-14.7 3.5-39.9 10.9-4.8-3.1 38-1.3 12.2-1.6 12.6-1.6 9.7-1.5 7.4-1 3.3-.9 2.7-1 2.1-.9 1.5-1 1z" fill="url(#Bo)"/><path d="M974.3,366.9l1.5-18.3 1.3-12.3 1.3-8.1 .7-2 .3-.5 11-9.5-.3 .6-.7 2.3-.9 6.5-1 9.2-1.3 15.1-1 12.2z" fill="url(#Bp)"/><path d="M979.4,325.7l.3-.1 .3 .3 .7 1.8 .7 3.2 1 7.2 1.6 16.9 4.3 51 2 19.9 2.5 20.8 1.3 8 1.6 8.1 10.8-10.1-1.3-5.8-1.3-7-1.3-8.5-1.2-10-2.6-25.5-4.1-52-1.3-14.1-1-7.9-.7-3.6-.6-1.9-.4-.3-.3 .1z" fill="url(#Bq)"/><path d="M995.7,462.8l1 3.9 1.3 4.3 1 2.5 1.2 2.5 1.3 1.6 1.3 .7 .7 .1 .6-.2 1-.7 10.7-10.9-1 .5-1.3 0-1.3-.8-1.3-1.5-1.2-2.3-1-2.3-1.3-3.9-.9-3.6z" fill="url(#Br)"/><path d="M1005.1,477.5l.6-.8 10.7-10.7-.6 .6z" fill="#a7c5fedb"/><path d="M1005.7,476.7l1.7-2.9 1.6-4.5 1.6-6.4 1.7-8.5 1.3-8.5 1.4-10.2 3.1-28.8 10.7-5.6-.3 3.5-2.8 24.5-1.4 9.4-1.3 7.8-1.4 6.3-1.6 5.9-1.6 4.2-1.7 2.7-.3 .4z" fill="url(#Bs)"/><path d="M1018.1,406.9l3.5-37.8 1.4-13.4 1.4-9.9 .7-3.1 .6-1.7 10.9-9.6-.7 1.9-.7 3.6-1.4 10.9-5 53.5z" fill="url(#Bt)"/><path d="M1025.7,341l.4-.3 10.8-9.6-.3 .3z" fill="#b40426db"/><path d="M1026.1,340.7l.3 .2 .3 .5 .7 2.1 .6 3.6 1 7.7 1.5 17.4 3.7 47.6 1.8 20.3 1.2 11.5 1.3 9.8 1.2 8.2 1.3 6.9 10.5-7.5-1.2-6.1-1.3-7.5-2.1-17.1-2.4-26.6-3.5-49.9-1.2-15-.9-8.6-.7-4-.6-2.4-.4-.6-.3-.1z" fill="url(#Bu)"/>
</g>
<path d="M1190.6,479.6 L1201.1,179.6" fill="none" stroke="#000" stroke-width="1.6"/><path d="M784.2,546.8 L1048.6,646.0 M1048.6,646.0 L1190.6,479.6 M801.7,551.5 L797.6,555.6 M831.4,562.6 L827.3,566.8 M861.5,573.9 L857.4,578.1 M891.8,585.2 L887.7,589.5 M922.4,596.7 L918.4,601.0 M953.4,608.3 L949.4,612.7 M984.7,620.1 L980.8,624.5 M1016.4,632.0 L1012.5,636.4 M1054.8,635.2 L1061.7,637.7 M1075.2,611.4 L1082.0,613.9 M1095.1,588.1 L1101.9,590.5 M1114.6,565.2 L1121.4,567.7 M1133.7,542.9 L1140.4,545.3 M1152.4,521.0 L1159.0,523.3 M1170.7,499.6 L1177.3,501.9 M1188.6,473.2 L1195.2,475.4 M1190.1,430.7 L1196.7,432.9 M1191.6,387.6 L1198.3,389.7 M1193.1,343.8 L1199.8,345.9 M1194.7,299.4 L1201.4,301.5 M1196.2,254.3 L1203.0,256.3 M1197.8,208.4 L1204.7,210.5" fill="none" stroke="#000" stroke-width="2.00" stroke-linecap="square"/>
<text transform="translate(782.90,604.50) scale(0.8600,1)" font-size="18.00" font-family="DejaVu Sans, Liberation Sans, sans-serif" font-weight="bold">0</text>
<text transform="translate(812.68,615.86) scale(0.8600,1)" font-size="18.00" font-family="DejaVu Sans, Liberation Sans, sans-serif" font-weight="bold">2</text>
<text transform="translate(842.63,627.17) scale(0.8600,1)" font-size="18.00" font-family="DejaVu Sans, Liberation Sans, sans-serif" font-weight="bold">4</text>
<text transform="translate(872.97,638.87) scale(0.8600,1)" font-size="18.00" font-family="DejaVu Sans, Liberation Sans, sans-serif" font-weight="bold">6</text>
<text transform="translate(903.71,650.69) scale(0.8600,1)" font-size="18.00" font-family="DejaVu Sans, Liberation Sans, sans-serif" font-weight="bold">8</text>
<text transform="translate(928.82,662.55) scale(0.8600,1)" font-size="18.00" font-family="DejaVu Sans, Liberation Sans, sans-serif" font-weight="bold">10</text>
<text transform="translate(960.45,674.54) scale(0.8600,1)" font-size="18.00" font-family="DejaVu Sans, Liberation Sans, sans-serif" font-weight="bold">12</text>
<text transform="translate(991.81,686.56) scale(0.8600,1)" font-size="18.00" font-family="DejaVu Sans, Liberation Sans, sans-serif" font-weight="bold">14</text>
<text transform="translate(1063.71,683.86) scale(0.8600,1)" font-size="18.00" font-family="DejaVu Sans, Liberation Sans, sans-serif" font-weight="bold">0.0</text>
<text transform="translate(1083.85,659.98) scale(0.8600,1)" font-size="18.00" font-family="DejaVu Sans, Liberation Sans, sans-serif" font-weight="bold">0.1</text>
<text transform="translate(1103.57,636.62) scale(0.8600,1)" font-size="18.00" font-family="DejaVu Sans, Liberation Sans, sans-serif" font-weight="bold">0.2</text>
<text transform="translate(1122.64,613.76) scale(0.8600,1)" font-size="18.00" font-family="DejaVu Sans, Liberation Sans, sans-serif" font-weight="bold">0.3</text>
<text transform="translate(1141.15,591.38) scale(0.8600,1)" font-size="18.00" font-family="DejaVu Sans, Liberation Sans, sans-serif" font-weight="bold">0.4</text>
<text transform="translate(1159.66,569.46) scale(0.8600,1)" font-size="18.00" font-family="DejaVu Sans, Liberation Sans, sans-serif" font-weight="bold">0.5</text>
<text transform="translate(1177.48,548.00) scale(0.8600,1)" font-size="18.00" font-family="DejaVu Sans, Liberation Sans, sans-serif" font-weight="bold">0.6</text>
<text transform="translate(1198.91,488.27) scale(0.8500,1)" font-size="22.60" font-family="DejaVu Sans, Liberation Sans, sans-serif">−0.2</text>
<text transform="translate(1208.70,445.86) scale(0.8500,1)" font-size="22.60" font-family="DejaVu Sans, Liberation Sans, sans-serif">0.0</text>
<text transform="translate(1210.73,402.80) scale(0.8500,1)" font-size="22.60" font-family="DejaVu Sans, Liberation Sans, sans-serif">0.2</text>
<text transform="translate(1212.02,359.10) scale(0.8500,1)" font-size="22.60" font-family="DejaVu Sans, Liberation Sans, sans-serif">0.4</text>
<text transform="translate(1213.92,314.74) scale(0.8500,1)" font-size="22.60" font-family="DejaVu Sans, Liberation Sans, sans-serif">0.6</text>
<text transform="translate(1215.84,269.70) scale(0.8500,1)" font-size="22.60" font-family="DejaVu Sans, Liberation Sans, sans-serif">0.8</text>
<text transform="translate(1217.31,223.96) scale(0.8500,1)" font-size="22.60" font-family="DejaVu Sans, Liberation Sans, sans-serif">1.0</text>
<text transform="translate(881.24,686.20) scale(0.8500,1)" font-size="35.00" font-family="DejaVu Sans, Liberation Sans, sans-serif" font-style="italic">t</text>
<text transform="translate(1164.29,631.78) scale(0.8500,1.0000) rotate(-45.50) translate(-10.32,8.75)" font-size="35.00" font-family="DejaVu Sans, Liberation Sans, sans-serif"><tspan font-style="italic">r</tspan><tspan font-size="24.5" dy="5.6">1</tspan></text>
<text transform="translate(1254.49,332.48) scale(0.8500,1)" font-size="35.00" font-family="DejaVu Sans, Liberation Sans, sans-serif" font-style="italic">C</text>
<polygon points="1439.5,546.8 1594.7,394.4 1592.1,103.2 1428.3,240.1" fill="#f2f2f2" fill-opacity="0.5"/>
<polygon points="1594.7,394.4 1845.9,479.6 1856.4,179.6 1592.1,103.2" fill="#e6e6e6" fill-opacity="0.5"/>
<polygon points="1439.5,546.8 1703.9,646.0 1845.9,479.6 1594.7,394.4" fill="#ececec" fill-opacity="0.5"/>
<path d="M1455.7,552.8L1610.0,399.6L1608.2,107.9M1500.3,569.6L1652.6,414.1L1652.9,120.8M1545.7,586.7L1695.8,428.7L1698.3,133.9M1591.9,604.0L1739.6,443.6L1744.5,147.3M1638.7,621.6L1784.1,458.6L1791.3,160.8M1686.4,639.4L1829.3,474.0L1838.9,174.6M1724.0,622.4L1461.5,525.3L1451.5,220.7M1741.1,602.4L1480.1,506.9L1471.3,204.2M1757.9,582.7L1498.4,488.9L1490.6,188.0M1774.4,563.4L1516.4,471.3L1509.6,172.1M1790.6,544.4L1534.1,453.9L1528.3,156.5M1806.5,525.8L1551.5,436.8L1546.7,141.2M1822.2,507.4L1568.6,420.0L1564.7,126.1M1837.5,489.4L1585.5,403.4L1582.4,111.3M1439.3,541.0L1594.6,388.9L1846.1,473.9M1437.7,497.6L1594.2,347.5L1847.6,431.4M1436.1,453.6L1593.9,305.6L1849.1,388.3M1434.5,408.8L1593.5,263.1L1850.7,344.5M1432.8,363.4L1593.1,220.0L1852.2,300.1M1431.1,317.2L1592.7,176.2L1853.8,254.9M1429.4,270.3L1592.3,131.8L1855.4,209.1" fill="none" stroke="#b0b0b0" stroke-width="1.90"/>
<g fill-rule="evenodd" stroke="none"><path d="M1503.9,550.6l78.5 29.2-16.8-7-12.7-6.1-12.3-6.5-15.3-9.5-4.2-2-5-1.1-3.1 0-3.7 .6-4.4 1.4-1.8 .8zM1665.2,610.6l31 11.5 .7-.8-9.9-3.1-19.2-7-4.5-1.3z" fill="#506bda"/>
<path d="M1490.4,545.7l12.7 4.7 6.2-2.2 3.7-.6 3.1 0 5 1.1 4.2 2 15.3 9.5 18.6 9.6 23.2 10 14 5.3 .6-2.8-1.7-1.5-19.5-5.7-4.4-1.8-4.1-2.2-3.8-2.6-3.5-2.8-6.7-7.1-5.1-3.1-3.6-2.7-3.1-3.1-1.3-1.8-2.6-5.4-3-4.5-2.8-7.8-1.6-3.2-2.5-3.6-1.8-1.2-2.6-.5-3.9 1-6.4 3.3-11 8-13.1 11.1zM1608,580.5l4.4 1.9 16.5 5.8 4.4 2 4.2 2.4 3.7 2.8 1.6 1.7 1.3 1.9 1 2.5 .2 1.7 18 6.7 4.5 1.3 16.8 6.1 9.8 3.2 2.5 .8 2-2.3-5.5-.9-5.2-1.3-7.1-2.7-4.5-2.1-6-3.9-3.3-3.4-1.3-2.1-.7-2.7-1.2-2.2-4.4-2.1-9.8-3-6.9-2.7-6.4-3.3-6-3.6-3.8-2.7-3.4-3-1.3-2-.6-1.9-8.6-4.9-5.3-4.3-2.7-3.7-.8-2.4 0-1.4-6.7-4.6-4.1-2.1-2.8-.3-2.8 1 2.4 2.7 1.1 2.1 .5 2.7-1.1 3.8 8.3 4.9 5.4 4.2 1.6 1.7 1.2 2 0 3.7zM1681.6,595.6l4.4 2.2 21.4 7.8 2.4 .8 .6-.6-23.4-9.2-2.5-.7-2.7-.5-.4 0zM1662.8,578.3l11.1 4.9 2.6 .6 1.6 0-12.2-5.5-2.6-.6-1.9 0z" fill="#80a3fa"/>
<path d="M1483.8,543.2l5.1 1.9 13.1-11.1 11-8 6.4-3.3 3.9-1 2.6 .5 1.8 1.2 2.5 3.6 1.6 3.2 2.8 7.8 3 4.5 2.6 5.4 1.3 1.8 3.1 3.1 3.6 2.7 5.1 3.1 6.7 7.1 3.5 2.8 3.8 2.6 4.1 2.2 4.4 1.8 19.5 5.7 1.7 1.5-.6 2.8 6.9 2.5 5.5-1.2 3.3-.2 5.7 .6 7.5 2 4.5 1.9 3.9 2.6 3.2 3.4 1.7 4 6.7 2.5-.2-1.7-1-2.5-1.3-1.9-1.6-1.7-3.7-2.8-4.2-2.4-4.4-2-16.5-5.8-4.4-1.9-.9-2 0-3.7-1.2-2-1.6-1.7-5.4-4.2-8.3-4.9 1.1-3.8-.5-2.7-1.1-2.1-2.4-2.7 2.8-1 2.8 .3 4.1 2.1 6.7 4.6 0 1.4 .8 2.4 2.7 3.7 5.3 4.3 8.6 4.9 .6 1.9 1.3 2 3.4 3 7.8 5.1 8.4 4.5 6.9 2.7 9.8 3 4.4 2.1 1.2 2.2 .7 2.7 1.3 2.1 1.6 1.8 5.6 4.3 6.6 3.3 9.7 3.4 8.1 1.5 1.9-2.2-6-.4-5.4-1-4.8-1.7-4.4-2.2-3.8-2.9-1.6-1.7-1.4-2-1-2.2 4.4-1.6 3.5-.5 3.1 .1 8.2 1.4 4.8 1.6 4.6 2 4.1 2.6 1.8 1.5 2.9-3.4-23.8-8.6-4.6-2.4 3.1 .5 2.5 .7 23.4 9.2 2.1-2.5-5.2-1.2-4.9-1.6-4.5-2.1-4-2.5-3.5-3.2-1.3-2.1-.6-3-1.5-1.6-10.4-5.8-3.6-2.9-2.9-3.7-1.3-3.5-18.7-11.9-2.7-.4-4 3 4.3 3.4 3.1 3.4 .9 2.4-.3 4 1.4 1.6 10.3 5.8 3.6 2.9 1.6 1.8 1.2 2.1 .6 3.1-4.2 .9-3.3 .2-6-.3-7.7-1.8-6.5-3.2-5.4-4.4-4.2-5.5-1.9-1.4-8.2-4.5-3.6-2.8-1.7-1.6-2.5-3.9-.7-2.6-5-4.5-2.8-3.5-1.1-2.1-1-3.8-5.1-6-2.1-4.2-.8-2.8-4.5-4.4-1.6-1.4-2-1.2-2.8-.2-3.8 1.9-.3 2.4-3.2 6.4 .7 2.5 .2 3.1-1.1 4.5 2.6 3.5 1 2.2 .7 2.5 .1 3.7 1.3 1.3 5.7 3.8 3.5 2.8 2.9 3.5 1.1 2.1 .7 2.5-6.8 .7-8.6-.7-7.3-2.1-4.1-2.2-3.5-2.9-5.7-6.9-7.5-5-3.3-3-2.7-3.6-1.5-3.5-3-4.4-.9-2.2-2.1-10.3-.1-3 0-6.2 1.9-17.1 0-3-.6-2.5-1.8-1.2-4.2 1.3-4.5 2.8-8.8 6.7-16.2 14.1-15.6 14.6-7.8 7.4zM1661.4,577.7l1.9 0 2.6 .6 12.2 5.5-1.6 0-4.9-1.4zM1709.6,585.1l13 6.6 2.1-2.5-6.9-2.9-4.8-1.5-3-.2-.8 .2zM1639.8,549.4l6.2 3.2 2.4-.2-5.8-2.7-2.6-.5-.5 0zM1693,568.7l6.4 3.3 4.6 1.8 2.6 .5 1.8-.1-11.5-6.4-3-.1-1.3 .8zM1685.6,556.4l5.9 3.7 2.4 .8 2.9-1.1-5.2-3.3-4.4-2-3.5 .6z" fill="#b2ccfb"/>
<path d="M1479.3,541.5l3.5 1.3 21.8-20.5 17.8-15.6 8.8-6.7 4.5-2.8 4.2-1.3 1.8 1.2 .6 2.5 0 3-1.9 17.1 0 6.2 .1 3 2.1 10.3 .9 2.2 3 4.4 1.5 3.5 2.7 3.6 3.3 3 7.5 5 5.7 6.9 3.5 2.9 4.1 2.2 7.3 2.1 8.6 .7 6.8-.7-.7-2.5-1.1-2.1-2.9-3.5-3.5-2.8-5.7-3.8-1.3-1.3-.1-3.7-.7-2.5-1-2.2-2.6-3.5 1.1-4.5-.2-3.1-.7-2.5 3.2-6.4 .3-2.4 3.8-1.9 2.8 .2 2 1.2 1.6 1.4 4.5 4.4 .8 2.8 2.1 4.2 5.1 6 1 3.8 1.1 2.1 2.8 3.5 5 4.5 .7 2.6 2.5 3.9 1.7 1.6 3.6 2.8 8.2 4.5 1.9 1.4 4.2 5.5 5.4 4.4 6.5 3.2 7.7 1.8 6 .3 3.3-.2 4.2-.9-.6-3.1-1.2-2.1-1.6-1.8-3.6-2.9-10.3-5.8-1.4-1.6 .3-4-.9-2.4-3.1-3.4-4.3-3.4 4-3 2.7 .4 18.7 11.9 1.3 3.5 2.9 3.7 3.6 2.9 10.4 5.8 1.5 1.6 .6 3 1.3 2.1 1.6 1.8 3.8 2.8 4.3 2.2 4.7 1.8 7.7 2 2.2-2.5-3.1-.1-5.4-1-4.6-1.9-4-2.6-1.6-1.7-1.3-2.1-.7-1.8 2.7-4-2.3-1-9.9-2.8-4.3-2.1-1.8-1.5-1.6-1.7-1.3-2-1.7-5-6.1-3.5-3.8-2.6-3-3.5-2.2-4.4-5.2-4.4-3-3.4-1.1-2.1-.5-3.1-3.9-5.4-.9-2.3-.2-4.1-1.7-3.6-.8-2.4-.1-4.8-1.2-3.5-.5-2.6 .2-4.3-1.2-4.3-.3-2.8 .3-3-2.3-7.6-.1-2.8-1.7-.7-6 7.5-2.1 6.5-1.2 2.1-.1 2.3-.7 4-1.1 2.8 .5 4.2-.9 5.5 1.3 3.7 .5 2.7-.2 4.1 3.3 5.6 .9 2.3 .2 3.8 5.6 6.4 1.2 2.1 .6 2.7 0 1.6 .6 1 5.1 4.5 3 3.5 .9 2.4 .4 2.5-5.8 3.4-5.2-1.1-6.9-2.6-4-2.4-1.7-1.5-1.4-1.7-1.2-2.1-.9-2.4-1.3-1.9-5-4.5-1.4-1.8-1.1-2.1-.8-2.9-.9-1.8-3.9-5.6-.9-2.3-.6-2.7-3.2-6.2-.8-2.3-.5-3.2-2.5-6.3-.7-4.7-1.6-5.5 0-4.9-.5-3.8 .1-3.3 .6-2.6 0-4.1 1.1-5.1-.2-1.9-3.2 .7-5.2 7.7-4.3 8.2-1.3 3.9-2.4 4.6-1.8 5.9-1.3 2.8-1.1 5.9-1.3 3.3 .1 4.2-1.2 5.4 1 4.3 .2 3-.4 3.1 3.6 6.4 .8 2.4 .3 3.2-.1 3 1.9 1.3 6.3 3.1 1.8 1.3 3.1 3.4 1.7 3.7-5.7 .5-5.7-.5-4.8-1.4-4-2.4-1.6-1.6-2.6-3.6-.4-3-6.1-3.2-3.8-2.5-3.2-3.1-1.3-1.8-5.4-10.2-.7-2.4-1.4-7.9 .3-9.6 1.3-7.5 1.7-6.4 4-11.6 11.3-26.3 .7-3.6-2.6-.3-7.4 5.1-8.1 6.7-15.3 13.9-22.6 21.4-30.4 29.5zM1639.5,580l5.7-2.8 5.2 1 4.9 1.6 4.2 2.2 1.8 1.4 1.6 1.7 1.2 2.1 .8 2.2-6.4 .6-3-.1-5.3-1.1-2.3-.9-4-2.5-3.1-3.4zM1639.5,549.2l3.1 .5 5.8 2.7-2.4 .2zM1604.2,588l4 1.4 4.6-.6 3.1 0 2.9 .2 5.2 1.2 4.4 2 1.9 1.4 1.7 1.6 1.3 1.9 .9 2 4.4 1.6-1.7-4-3.2-3.4-3.9-2.6-4.5-1.9-7.5-2-5.7-.6-3.3 .2-3.8 .7-1.7 .5zM1673.4,604.9l3 3.7 1.8 1.5 4.1 2.6 7.1 2.7 5.4 1 6 .4 1.9-2.2-3.3 .2-6-.3-2.7-.5-4.9-1.7-4.2-2.4-1.8-1.6-1.5-1.8-1.2-2.1 3.8-.8 3.3-.3 3 .2 5.4 1 4.7 1.9 2 1.2 1.9 1.5 1.6 1.8 1.1 2.4 3-3.5-3.8-2.9-4.4-2.2-7.1-2.6-5.3-1.1-6-.4-3.5 .5-4.4 1.6zM1700,585.4l7.4 2.2 4.7 1.7 4.3 2.3 3.6 3.1 2.6-3-13.4-6.9 3.8 0 2.5 .7 9.2 3.7 1.7-2-4.2-2.3-1.9-1.4-1.6-1.7-1.3-2-.6-2.9-1.6-1.8-5.9-3.8-3.5-3.1-1.3-2-.7-3.9-.8-1.3-5.2-4.5-1.6-1.7-1.2-2-1-4.1-.6-1-5-4.7-2.7-3.8-.8-3.7-6.2-5.2-2-1.2-2.8-.3-2.7 1.8 1.8 2.6 1 2.2-.3 3.7-.9 2 3.5 5.1 .9 2.5-.2 4 1.1 1.7 5 4.7 1.4 1.9 .9 2.4 .1 3.4 1.4 1.9 8.3 4.5 3.6 3 1.4 1.9 .9 2.5 0 1.3zM1692.6,568.5l1.3-.8 3 .1 11.5 6.4-1.8 .1-5-1.3zM1683.7,555.1l3.5-.6 4.4 2 5.2 3.3-2.9 1.1-2.4-.8zM1732.6,572.9l1.5 1.9 2 1.3 4.9-5.7-1.7-1.6 .7-3.5-2.3-1.8-10.1-6-2.4-.8-3 2.2 2.5 1.9 7.9 5 1.7 1.6zM1713.1,546.1l9.5 6.6 2.5 .7 3-2.4-5.5-5.2-1.4-1.9-.5-2.8 .9-2.4-5.4-6.3-.9-2.4 .6-3.2-5.2-5.1-1.9-1.3-4.4 2.3 2.3 3.4 1.1 2.1-.3 3.8-.7 1.4 5.7 6.6 .7 2.6-.7 2.8zM1754.8,550.9l2 1.2 1.1-1.2-2.5-.7-1.6 0zM1705.8,513.7l1.9 1.2 1.3-.3-2.9-1.2-.5 0z" fill="#dddcdc"/>
<path d="M1477.1,540.7l1.4 .5 37.9-36.7 30.4-28.1 8.1-6.7 7.4-5.1 2.6 .3-.7 3.6-11.3 26.3-4 11.6-1.7 6.4-1.3 7.5-.3 9.6 1.4 7.9 .7 2.4 6.7 12 1.5 1.7 3.5 2.7 8.1 4.4 .4 3 1.2 1.9 3 3.3 1.9 1.3 4.4 1.9 2.5 .6 5.7 .5 5.7-.5-1.7-3.7-3.1-3.4-1.8-1.3-6.3-3.1-1.9-1.3 .1-3-.3-3.2-.8-2.4-3.6-6.4 .4-3.1-.2-3-1-4.3 1.2-5.4-.1-4.2 1.3-3.3 1.1-5.9 1.3-2.8 1.8-5.9 2.4-4.6 1.3-3.9 4.3-8.2 5.2-7.7 3.2-.7 .2 1.9-1.1 5.1 0 4.1-.6 2.6-.1 3.3 .5 3.8 0 4.9 1.6 5.5 .7 4.7 2.5 6.3 .5 3.2 .8 2.3 3.2 6.2 .6 2.7 .9 2.3 3.9 5.6 .9 1.8 .8 2.9 1.1 2.1 1.4 1.8 5 4.5 1.3 1.9 .9 2.4 1.2 2.1 1.4 1.7 1.7 1.5 4 2.4 6.9 2.6 5.2 1.1 5.8-3.4-.4-2.5-.9-2.4-3-3.5-5.1-4.5-.6-1 0-1.6-.6-2.7-1.2-2.1-5.6-6.4-.2-3.8-.9-2.3-3.3-5.6 .2-4.1-.5-2.7-1.3-3.7 .9-5.5-.5-4.2 1.1-2.8 .7-4 .1-2.3 1.2-2.1 2.1-6.5 6-7.5 1.7 .7 .1 2.8 2.3 7.6-.3 3 .3 2.8 1.2 4.3-.2 4.3 .5 2.6 1.2 3.5 .1 4.8 .8 2.4 1.7 3.6 .2 4.1 .9 2.3 3.9 5.4 .5 3.1 1.1 2.1 3 3.4 5.2 4.4 2.2 4.4 3 3.5 3.8 2.6 6.1 3.5 1.7 5 1.3 2 1.6 1.7 1.8 1.5 4.3 2.1 9.9 2.8 2.3 1-2.7 4 .7 1.8 1.3 2.1 3.5 3.1 2.1 1.2 4.6 1.9 5.4 1 3.1 .1 2.1-2.5-3.4 .4-3-.2-2.7-.5-4.7-1.8-1.9-1.4-1.7-1.7-1.2-1.9 3.9-1.1 3.1 0 2.8 .4 4.6 1.8 2 1.4 1.6 1.7 1.2 2.3 2.6-3-3.6-3.1-4.3-2.3-4.7-1.7-7.4-2.2 1.1-3.5 0-1.3-.9-2.5-1.4-1.9-3.6-3-8.3-4.5-1.4-1.9-.1-3.4-.9-2.4-1.4-1.9-5-4.7-1.1-1.7 .2-4-.9-2.5-3.5-5.1 .9-2 .3-3.7-1-2.2-1.8-2.6 2.7-1.8 2.8 .3 2 1.2 5.3 4.2 .9 1 .8 3.7 1.3 2.1 6.4 6.4 .6 1 1 4.1 1.2 2 1.6 1.7 5.2 4.5 .8 1.3 .7 3.9 1.3 2 3.5 3.1 5.9 3.8 1.6 1.8 .6 2.9 1.3 2 1.6 1.7 1.9 1.4 4.2 2.3 1.7-1.9-2.1-1.2-1.8-1.5-1.4-1.9-.7-1.5 3.9-2.2 3 .1 5 1.4 2.1-2.4-2-1.3-1.6-2.1 1.8-5.3-1.7-1.6-7.9-5-2.5-1.9 3-2.2 2.4 .8 10.1 6 2.3 1.8-.7 3.5 1.7 1.6 5.5-6.4-6.5-3.1-3.7-2.8-1.5-1.9-1.3-5.4-4.9-4.8-1.4-2-.6-2.7-.3-3.1-4.3-5.4-.9-2.5-.1-3.2-3.9-5.9-.7-2.5-.3-3-3.5-6.2-.4-3.4-.7-1.9-2.4-4-.7-2.5 .1-2.4-2.7-4.6-.8-2.3 .9-3.5-2.2-4.8 1.8-4.7-.8-2.8 .2-3.4 1.5-2.8 .1-5.2 1.5-3.4 .5-5 1.4-3.5 .8-5.2 1.3-3.1-6.9-2.4-.6 2.8-2.1 5.3-.2 3.4-1.8 5.1 .2 2.9-.6 3.7-.8 2.1 .7 4.4-1.5 4.6 1.7 4.7-1.8 4.7 1.1 2.5 .6 2.6-1.9 4.2 .9 3.3-.1 3.3-1.2 2.9 1 3.9 0 3.4-.8 2.3 1.7 6.6-.4 3.8 .6 2.6 2.1 4.4 .5 6.2 2.9 3.5 1.3 2 .7 2.6-.3 3.7 1.7 1.6 3.8 2.6 1.6 1.6 1.3 2.1 .6 2.6-.3 .5 .4 3 6.3 3.3 1.9 1.4 1.6 1.7 1.2 2.1 .3 2.3-4.2 2.2-3-.1-4.9-1.5-4-2.4-1.7-1.7-1.2-2.1-.4-1.4 1.4-3.2-1.7-1.5-4.3-2.2-1.8-1.3-1.6-1.7-1.2-2.2-.4-1.5 .7-2.2-1.4-1.9-3.7-2.7-1.5-1.6-1.2-2-1.5-5.2-4.4-5.2-.9-2.3-.6-2.7-3.5-6-.7-2.6-.3-3-1.7-4.6-.2-3.1 .3-1.6-.8-4.3-.1-3.1 .5-2.3-.3-4.3 .7-5.1 .2-5.3 .8-3.7 .2-3.8 1.8-11.3 .7-2.6 .7-5.1 1.2-4.3 .3-3.4 1.2-4.4-.3-5.7-5.3 3.9-1.9 3.7-2.6 3.9-3.8 7.8-3.4 8.1-1.1 3.9-1.7 4.4-1 4.7-1.3 3.9-.5 4.3-1.1 4.6 0 6.1-.6 3.3 .7 6.1-.3 3.6 1.4 5 .4 2.8-.1 3.3 1.9 4.5 .6 2.6-.1 3.4 3 6.8 .5 6 3.9 5.9 .7 3.7-.9 3.2 1.7 1.5 4 2.4 1.6 1.6 1.3 2 .8 2.5-4.3 1.4-3-.1-2.5-.7-2.2-1-1.9-1.3-1.5-1.6-1.7-2.9 .6-2.7-1.7-1.5-3.9-2.5-3.2-3.1-1.2-2.1-.7-2.6-1-2.2-2.7-3.7-1.1-2.1-1.1-5.4-1.9-4.5-.5-2.6-.1-3.2-1.3-5.1-.2-6.2-.7-5.7 .3-16 .7-10.1 .6-3.8 .1-3.2 .9-7.1 .1-3.1 .6-3.6-.2-2.9-2.6-.3-1.1 .8-5 7.6-4.4 7.8-4 8-2 5.2-1.6 3.1-3.1 8.5-2.4 8.8-1.6 10.7 .1 6.2-.4 3.6 1.3 5.1 .3 6.1 3.3 6.2 .8 5.7 4.7 4.8 1.3 1.9 1.1 3.4-1.1 3.3 6 3.5 3.6 2.8 1.4 1.9 1 2.8-4.4 .9-3-.1-2.6-.6-4.3-2-1.8-1.4-1.6-1.7-1.1-2 .8-4.3-6.1-3.3-1.8-1.4-1.5-1.7-1.5-3.2 .4-2.2-1.1-2-3.1-3.3-1.2-1.9-1-2.9-.1-2.4-3.1-6.4-.9-5.4-1.4-4.9-.9-8.5 .1-9.4 .4-3.6 1.4-7.6 2.6-8.8 6.5-15.8 9.6-18.5 9-15.1 9.3-14.8-7.2-2.4-17.2 21.1-16.4 21.9-10 15.3-4.7 7.9-4.4 8.1-3.9 8.3-3.4 8.5-2.7 8.9-1.7 9.4-.1 5-.5 4.8 .1 1.9 1.1 5.2 .2 6.2 3.8 5.7 1.1 3.7-2.6 1-3.3 .3-2.6-.5-2.4-.8-3.8-2.4-2.7-3.5-.4-.6-.1-2.1-3.8-5.6-1-2.1-.7-2.5-.1-2.9-1-5.3 0-2.4 1-9.6 2.3-9.1 3.2-8.7 3.7-8.4 4.2-8.2 4.4-8 9.6-15.5 21.7-31.8 5.2-8.1 .4-3.3-6 4.6-9.9 8.5-26.3 24.8-28.8 27.9-59.3 58.3zM1571.8,565.4l1.3-.5 3.6-.6 2.8 .3 2.4 .8 2.1 1 1.8 1.4 1.5 1.7 1 2.1-6-.1-5-1.3-2-1.1-1.7-1.4zM1678.6,573.6l1.5-.7 3.8-.9 2.8 .3 2.5 .8 2.1 1 1.9 1.4 1.6 1.7 1.4 2.8-4.5 .7-3-.1-2.6-.6-2.3-.9-2-1.2-1.7-1.6zM1712.5,545.4l.7-2.8-.7-2.6-5.7-6.6 .7-1.4 .3-3.8-1.1-2.1-2.3-3.4 4.4-2.3 1.9 1.3 5.2 5.1-.6 3.2 .9 2.4 5.4 6.3-.9 2.4 .5 2.8 1.4 1.9 5.5 5.2-3 2.4-2.5-.7-7.7-5.1zM1705.6,513.4l2.8 .8 .6 .4-1.3 .3zM1608.9,589.7l3.4 1.2 4.9-.1 5.5 .9 4.3 2 1.8 1.5 1.8 2.6 3.6 1.3-.9-2-1.3-1.9-1.7-1.6-1.9-1.4-4.4-2-5.2-1.2-2.9-.2-6.6 .4-1.1 .2zM1678.3,606.5l1.5 1.8 3.8 2.9 2.2 1.1 4.9 1.7 5.6 .7 3.1 .1 3.3-.2 1.2-1.3-1.1-2.4-1.6-1.8-1.9-1.5-2-1.2-4.7-1.9-5.4-1-6.3 .1-3.8 .8zM1681,605.9l4.5-.5 3 .2 5.1 1.4 2.2 1.1 1.9 1.4 1.6 1.8 .9 1.7-5.5 0-5.4-1.1-4.4-2.1-1.9-1.5zM1639.5,580l1.3 2 3.1 3.4 4 2.5 2.3 .9 5.3 1.1 3 .1 6.4-.6-.8-2.2-1.2-2.1-1.6-1.7-1.8-1.4-4.2-2.2-4.9-1.6-5.2-1zM1643.8,581.6l4.3-.7 2.9 .1 2.6 .6 2.3 .9 2 1.3 1.6 1.6 1.5 2.5-4 .3-5.5-.8-2.3-.9-2-1.3-1.7-1.5zM1746.9,549.5l5.1 4.7 1.4 1.9 3.4-4-3-1.9 1.6 0 2.5 .7 2.9-3.4-1.5-1.7-1-2.4 0-1.6-.6-1.3-5-4.7-1.4-1.9-.6-2.7 .3-1.7-.5-1.5-2.8-3.7-1.1-2.3 .1-3.8-.7-2.2-2.3-4.2-.6-6.1-2.1-4.4-.6-6-2-4.4-.1-4.2-.6-1.6-2.2-4.2-.3-2.8 .3-1.6-.7-1.3-1.6-1.5-2.9 0-1 .6 .7 3-2.5 5.7 .6 2.9 0 3.3-1.1 3 1.2 6.8-.6 3.9 1.8 4.6 .4 6.4 2.5 3.9 .9 2.3 0 3.4 1.1 2.2 3.1 3.3 1.3 2 .7 2.7-.2 1.4 .6 1.6 5 4.7 1.4 1.9 .4 3-.3 1.2zM1767.5,525.8l4.4 5.4 .7 2.8 6-7-5.7-3.9-2.2-1-3.3 3.4zM1764.2,515.8l5.3 4.2 4.1-2-1.1-1.3-5.3-4.3-4.2 1.9zM1759.2,504.4l4.9 4.6 2.9 .2 2.2-2.3-2.7-4-1-2.3 1.3-4-2.2-5 0-3.4 .6-1.5-1.5-4.1-.6-2.7 .7-3-.1-.9-1.8-4.6 .7-4.1-3.1-6.3-4.8 3.6 .7 4.2-1.6 4.7 1.2 5.5-.9 4.4 1.9 4.5 .1 3.2-.5 1.6 .5 1.7 2.6 3.8 .6 2.7-.7 2.3zM1790.9,505.9l1.9 1.2 3-.4-1.5-1.3-2.1-1-2.8 .1zM1782.3,475l2.2 .8 1.4-.5-1.9-2.3-3.1 .5zM1757,457.2l.9 2.3 2.8-2-3.9-1.3zM1779.7,464.6l1.3 1.8 1.9 1.3 2.8-1.7-6.2-2.1z" fill="#f6bfa6"/>
<path d="M1472.7,539l2.2 .9 52-51.2 43.2-41.8 19.2-18 9.9-8.5 6-4.6-.4 3.3-5.2 8.1-21.7 31.8-9.6 15.5-4.4 8-4.2 8.2-3.7 8.4-3.2 8.7-2.3 9.1-1 9.6 0 2.4 1 5.3 .1 2.9 .7 2.5 1 2.1 3.8 5.6 .1 2.1 .4 .6 2.7 3.5 3.8 2.4 2.4 .8 2.6 .5 3.3-.3 2.6-1-1.1-3.7-3.8-5.7-.2-6.2-1.1-5.2-.1-1.9 .5-4.8 .1-5 1.7-9.4 2.7-8.9 3.4-8.5 3.9-8.3 4.4-8.1 4.7-7.9 10-15.3 16.4-21.9 17.2-21.1-4.4-1.5-11.4 14-11.1 14.4-10.7 14.7-10.2 15.3-4.7 7.8-4.4 8.1-5.6 11.7-3.6 9.8-2.2 8.5-.6 4.9-.8 2.7 .4 7.2-1.2 3 2.8 7.8-2.2 1.1-2.9-.1-2.1-1-1.7-1.5-1.5-2.4 1.3-3.6-1.9-4.3-.8-2.7 1.3-4.1-.3-5.6 1.7-5.1 .6-4 2.1-4.8 1.1-3.8 3.8-8.4 4.3-8.2 9.3-15.8 15.5-22.6 10.9-14.6 16.8-21.2-14.2-4.8-135 133.6zM1560.5,550.9l2.3-1 2.8 .2 2 1.1 1.7 1.5 1 1.8-2.9 .1-2.5-.5-2.1-1zM1572.1,565.9l1.5 1.8 1.7 1.4 2 1.1 2.3 .8 5.6 .7 3.1-.1-1-2.1-1.5-1.7-1.8-1.4-2.1-1-2.4-.8-2.8-.3-3.6 .6-1.3 .5zM1575.8,566.9l1.6-.1 2.7 .4 2.2 1 2.1 1.9-3.5-.4-2.3-.8zM1613.5,591.4l3 1.1 4.8 .6 2.4 .9 1.9 1.3 1.1 1 3.9 1.5-1.8-2.6-1.8-1.5-4.3-2-5.5-.9-4.9 .1zM1681.5,606.5l1.5 1.8 1.9 1.5 4.4 2.1 5.4 1.1 5.5 0-.9-1.7-1.6-1.8-1.9-1.4-2.2-1.1-5.1-1.4-3-.2-4.5 .5zM1685.1,607.4l4.6 .4 2.5 .8 2.1 1.2 1.9 1.7-5.7-1-2.3-.9zM1644,581.9l1.5 1.8 1.7 1.5 2 1.3 2.3 .9 5.5 .8 4-.3-1.5-2.5-1.6-1.6-2-1.3-2.3-.9-2.6-.6-2.9-.1-3.7 .5-.6 .2zM1648.1,583.2l3.9 .2 2.3 .9 1.9 1.3 .8 .9-4.2-.6-2.3-.9zM1624.6,565.8l1.6 1.7 1.8 1.4 4.3 2 2.6 .6 3 .1 4.4-.9-1-2.8-1.4-1.9-3.6-2.8-6-3.5 1.1-3.3-.2-1-.9-2.4-1.3-1.9-4.7-4.8-.8-5.7-3.3-6.2-.3-6.1-1.3-5.1 .4-3.6 0-7.7 .6-2.5 .9-6.7 2.4-8.8 3.1-8.5 1.6-3.1 2-5.2 4-8 4.4-7.8 5-7.6 1.1-.8 2.6 .3 .2 1.9-.6 4.6-.1 3.1-.9 7.1-.1 3.2-.6 3.8-.7 10.1-.3 6.6 .2 12.4 .5 2.7 .2 6.2 1.3 5.1 .1 3.2 .5 2.6 1.9 4.5 1.1 5.4 1.1 2.1 2.7 3.7 1 2.2 .7 2.6 1.2 2.1 3.2 3.1 3.9 2.5 1.7 1.5-.6 2.7 1.7 2.9 1.5 1.6 1.9 1.3 2.2 1 2.5 .7 3 .1 4.3-1.4-.8-2.5-1.3-2-1.6-1.6-4-2.4-1.7-1.5 .9-3.2-.7-3.7-3.9-5.9-.5-6-3-6.8 .1-3.4-.6-2.6-1.9-4.5 .1-3.3-.4-2.8-1.4-5 .3-3.6-.7-6.1 .6-3.3 0-6.1 1.1-4.6 .5-4.3 1.3-3.9 1-4.7 1.7-4.4 1.1-3.9 3.4-8.1 3.8-7.8 2.6-3.9 1.9-3.7 5.3-3.9 .3 5.7-1.2 4.4-.3 3.4-1.2 4.3-3.2 19-.2 3.4-.8 4.1-.2 5.3-.7 5.1 .3 4.3-.5 2.3 .1 3.1 .8 4.3-.3 1.6 .2 3.1 1.7 4.6 .3 3 .7 2.6 3.5 6 .6 2.7 .9 2.3 4.4 5.2 1.5 5.2 1.2 2 1.5 1.6 3.7 2.7 1.4 1.9-.7 2.2 .4 1.5 1.2 2.2 1.6 1.7 1.8 1.3 4.3 2.2 1.7 1.5-1.4 3.2 .4 1.4 1.2 2.1 1.7 1.7 1.9 1.3 4.5 1.9 2.5 .7 3 .1 4.2-2.2-.3-2.3-1.2-2.1-1.6-1.7-1.9-1.4-6.3-3.3-.4-3 .3-.5-.6-2.6-1.3-2.1-1.6-1.6-3.8-2.6-1.7-1.6 .3-3.7-.7-2.6-1.3-2-2.9-3.5-.5-6.2-2.1-4.4-.6-2.6 .4-3.8-1.7-6.6 .8-2.3 0-3.4-1-3.9 1.2-2.9 .1-3.3-.9-3.3 1.9-4.2-.6-2.6-1.1-2.5 1.8-4.7-1.7-4.7 1.5-4.6-.7-4.4 .8-2.1 .6-3.7-.2-2.9 1.8-5.1 .2-3.4 2.1-5.3 .6-2.8-4.6-1.6-1.6 4.2-3.8 13.4-2.2 11.8-.1 3.2-.9 4.1 .2 6.2-.6 3.8 .5 2.7-.4 6.8 .7 2.6 .2 2.9-.5 3.9 1.4 5 0 1.5-1.1 2.9 2 4.4 .8 3.1-2.5 2.2-3-.1-1.9-1.3-1.5-1.6-1.1-2-.2-.9 .8-3.1-2.2-4.1-.8-2.4-.1-.9 .7-3-1.4-5-.1-1.8 .7-2.1-.5-5.8 0-1.6 .9-2.6-.1-6.2 1.2-4.5 .2-4.7 1-2.9 .7-5.8 .8-2 1.1-6.5 .8-1.7 1.5-6.6 .8-2.1 1.7-6.1-15-5.1-7.6 15.5-4.4 10.1-3.7 10.1-2.7 9.1-.7 3.8-1.4 4.6-.2 4.3-1.3 3.6 .4 5.6-.4 .8-.6 3.8 .7 2.4 .5 2.7-1 4.4 2 4.2 .2 1.6-1.4 2.9 3.5 6 .4 1.9-2.1 3.3 4.6 4.9 1.3 3-2.3 1.3-3 0-2.1-1-1.7-1.4-1.4-1.9-.3-.8 2.1-4.4-3.3-3-1.3-1.8-.6-1.9 1.5-2.3-.4-2.8-1.4-1.8-1-2.1-.3-1.3 1.6-3.4-1.7-4.5-.4-2 1-1.9 .1-3.3-.7-2.4-.1-2 .9-2-.1-7.2 1.1-3.2 .3-5.8 .5-1.3 1.3-7.5 2.2-8.5 5.6-16.4 7-15.6-13.9-4.7-8.8 14.9-8.4 15.4-7.6 16-4 9.4-3.7 10.1-2.8 9.1-1 5.5-1.1 3-.3 6.2-.5 .9-.7 3.9 .9 5-5.2 2.8-2.8-3.5-.8-2.3 .9-4.1-1.3-6 .8-2.9 0-6.6 1.1-3.9 .8-5.1 2.6-8.6 3.1-8.3 3.7-8.2 8.1-15.8 9-15.1 9.5-14.7-4.5-1.6-4.7 7.4-13.6 22.5-9.6 18.5-4.7 10.9-3.2 9.4-2 8.2-1 7.3-.1 9.4 .9 8.5 1.4 4.9 .9 5.4 3.1 6.4 .1 2.4 1 2.9 1.2 1.9 3.1 3.3 1.1 2-.4 2.2 1.5 3.2 1.5 1.7 1.8 1.4 6.1 3.3-.8 4.3zM1627.6,565.3l4.1-.4 2.4 .7 2.1 1.1 2.1 2.5-4.3-.2-2.4-.7-2-1.1zM1617.2,551.2l3.3-.8 2.6 .5 1.9 1.3 2 2.6-1.7 .3-2.8-.2-2.3-.9-1.9-1.3zM1611.3,539l2.8-1.4 2.5 .6 1.8 1.4 1.4 2.5-1.1 .4-3.1 0-2.1-.9-1.6-1.6zM1668.7,559.8l1.9-.4 2.8 .3 2.1 1 2 2.3-4-.1-2.3-.8zM1607.8,527.7l4.5-4.2 1 2.1 1.4 1.7 1.1 2 .3 1.4-2.7 1.3-2.5-.6-1.8-1.4zM1658.8,546.1l3.7-1.4 2.4 .6 2 1.3 1.5 1.7 .6 1.5-2.5 .6-2.8-.4-2.1-1-1.8-1.4zM1712.1,565.3l3-.6 2.7 .4 2.3 1 1.7 1.5 1 1.6-2.7 .3-2.7-.4-2.3-.9-1.9-1.4zM1702.3,551.7l3.3-.6 2.5 .6 2 1.3 1.3 2-3.4 .3-2.4-.7-2-1.2zM1694.8,539l4-.8 2.3 .9 1.6 1.6 .5 1.3-2.2 .6-2.7-.4-2-1.2zM1689,527.1l3.7-2.2 2.2 .9 1.7 1.4 1.3 2 .2 1.1-2.2 1-2.8-.2-2-1.1-1.5-1.7zM1699.4,593.1l1.7 1.7 1.9 1.4 4.7 1.8 5.7 .7 3.4-.4 .6-.6-1.2-2.3-1.6-1.7-2-1.4-4.6-1.8-2.8-.4-3.1 0-3.9 1.1zM1702.4,592.7l3.7 0 2.6 .6 2.2 1 2.5 2.4-4.3-.3-2.5-.8-2.1-1.1zM1678.9,574.2l1.2 2.1 1.7 1.6 2 1.2 2.3 .9 2.6 .6 3 .1 4.5-.7-1.4-2.8-1.6-1.7-1.9-1.4-2.1-1-2.5-.8-2.8-.3-3.8 .9-1.5 .7zM1682.5,575.1l2-.3 2.8 .4 2.2 1 2.2 2.2-4-.2-2.3-.8-2-1.3zM1722.8,580.7l1.4 1.9 1.8 1.5 2.1 1.2 1.6-1.9-1.9-1.3-1.1-1.2 2.4-.3 2.8 .3 2.1-2.4-5-1.4-3-.1-3.9 2.2zM1734,553.7l.8 2.5 1.5 1.9 1.7 1.5 2 1.3 6.5 3.1 6.9-7.9-1.4-1.9-5.1-4.7-.6-2 .3-1.2-.4-3-1.4-1.9-5-4.7-.6-1.6 .2-1.4-.7-2.7-1.3-2-3.1-3.3-1.1-2.2 0-3.4-.9-2.3-2.5-3.9-.4-6.4-1.8-4.6 .6-3.9-1.2-6.8 1.1-3 0-3.3-.6-2.9 2.5-5.7-.7-3 1-.6 2.9 0 1.6 1.5 .7 1.3-.3 1.6 .3 2.8 2.2 4.2 .6 1.6 .1 4.2 2 4.4 .6 6 2.1 4.4 .6 6.1 2.3 4.2 .7 2.2-.1 3.8 1.1 2.3 2.8 3.7 .5 1.5-.3 1.7 .6 2.7 1.4 1.9 5 4.7 .6 1.3 0 1.6 1 2.4 1.5 1.7 3-3.4-.2-.4 1-.6 8-9.1-.7-2.8-4.5-5.7 3.3-3.4 2.2 1 5.7 3.9 3.1-3.6-1.4-1.8-.5-1.4 4-2.7 2.2 1 14-16.2-1.7-1.5-1-2.4 .4-3.8-2.9-3.5-.9-2.4 .5-3.9-2.1-4.4-.3-3 .4-3.8-1-2.2-.4-3.6-5.3-1.8-2.8 1.7-1.9-1.3-1.5-2.5-5-1.7-1.3 3.1 1.9 4.4 .1 1.9-1.3 2.9 2.4 3.9 .6 2.6-.7 4.2 2.8 3.6 .5 2.8-.3 3.7 2.8 3.6 .6 2.7-.5 4.1 2.9 3.5 .9 2.4 0 1.2-3.7 3.1-2.3-.8-2-1.2-1.7-1.5-1.2-2.1-.2-1.4 1-2.9-2.7-3.7-1.2-2.1-.2-1.9 1.2-2.6-1-2.3-1.3-1.8-.9-2.4 0-1 1.3-3.8-2.5-3.9-.2-2 1.5-2.7-.9-2.4-1.2-1.9-.5-2.6 .4-.6 .5-3.8-1.1-2.1-.4-2.9-5.9-2-2.8 2-1.1-3.3-6.1-2.1-.6 4.3 0 3.3-1.1 4.4 .4 2.8 0 3.1-.9 4.4 .9 2.2 .4 2.8-1.2 1.5 0 3.2 1.4 1.8 .9 2.3 .1 1-3.1 2.4-2.3-.8-1.6-1.5-1-2.2 0-.7 1.4-4.1-1.5-1.7-1.1-2-.4-2.1 .8-1.6-.4-2.8-1-2.2-.5-2.7 .4-3.7-.7-2.5-.3-2.9 .4-3.6-.3-2.8 .2-3.2-13.9-4.7-1.6 11.7 0 3.3-.9 4.1 0 3.2-1 7.5 .3 3-.3 2.7-.5 1.4 0 3.2 .6 2.7-.1 2.1-1.1 2.4 .6 2.7 1 2.2 .4 2.5-5.1 2.7-1.8-1.4-1.4-1.8-.9-2.3 .6-3.9-2-4.3-.4-2.3 .2-.8 0-3.1-.7-2.5-.2-3 .4-3.7-.2-2.9 1.1-10.8 1-4.3 .4-3.5 1.3-4.6 1-5.4-4.8-1.6-1.3 3.1-.8 5.2-1.4 3.5-.5 5-1.5 3.4-.1 5.2-1.5 2.8-.2 3.4 .8 2.8-1.8 4.7 2.2 4.8-.9 3.5 .8 2.3 2.7 4.6-.1 2.4 .7 2.5 2.4 4 .7 1.9 .4 3.4 3.5 6.2 .3 3 .7 2.5 3.9 5.9 .1 3.2 .9 2.5 4.3 5.4 .3 3.1 .6 2.7 1.4 2 4.9 4.8zM1738.7,554.7l1-.5 3.5-.5 2.5 .7 1.9 1.2 1.5 1.9 .5 1.1-1.9 .5-3 0-2.4-.8-2-1.3zM1730.7,541.9l2.5-1.2 3 .1 2.2 1 1.7 1.5 1.2 2.4-4.1 .9-2.5-.6-2-1.2-1.6-1.8zM1725,530l3.6-1.3 2.4 .7 1.8 1.4 1.3 2.5-.9 .5-3.4 .4-2.2-.9-1.7-1.5zM1720.6,518.7l3.2-1.5 2.4 .7 1.6 1.5 1.1 2.3-4 1-2.2-.9-1.6-1.7zM1756,531.2l2.6-2.1 3 0 2.1 1.1 1.8 1.4 1.2 2.1 .3 1.4-2.6 1.3-3-.1-2.2-.9-1.8-1.5zM1717,507.8l2.9-3 2.2 .9 1.7 1.5 1.2 1.9 .3 1.6-3.2 1.6-2.4-.7-1.6-1.4zM1751.1,519.8l2.8-2.5 2.8 .1 2 1.2 1.7 1.5 1.2 2.1 .2 1.3-3.3 2.3-2.6-.6-2-1.1-1.7-1.6zM1747.7,509l3.7-2.5 2.3 .8 1.7 1.4 1.3 1.9 .3 1.6-3.7 2.3-2.2-.9-1.8-1.3-1.3-2zM1763,514.3l4.2-1.9 5.3 4.3 1.1 1.3-4.1 2-5.3-4.2zM1745,498.5l3.8-2.5 2.1 1 1.5 1.6 1 2.8-2 1.7-3 0-1.8-1.3-1.3-2zM1758.6,503.2l.7-2.3-.6-2.7-2.6-3.8-.5-1.7 .5-1.6-.1-3.2-1.9-4.5 .9-4.4-1.2-5.5 1.6-4.7-.7-4.2 4.8-3.6 3.1 6.3-.7 4.1 1.8 4.6 .1 .9-.7 3 .6 2.7 1.5 4.1-.6 1.5 0 3.4 2.2 5-1.3 4 1 2.3 2.7 4-2.2 2.3-2.9-.2-3.4-2.9-1.5-1.7zM1789.4,504.5l2.8-.1 2.1 1 1.5 1.3-3 .4-1.9-1.2zM1780.9,473.5l3.1-.5 1.9 2.3-1.4 .5-2.2-.8zM1804.2,494l1.2 2 12.5-14.4-1.6-1.6-1-2.2-.1-1.7-14-4.8-.1 2.5 2.1 4.3-.3 3.7 .4 3 1.2 2 .8 2.5-.1 1.8z" fill="#f08a6c"/>
<path d="M1468.2,537.4l2.9 1.1 135-133.6-5.3-1.8-134.8 133.5zM1576.6,567.7l2 1.2 2.3 .8 3.5 .4-2.1-1.9-2.2-1-2.7-.4-1.6 .1zM1618.2,593.1l8.5 3.2-1.1-1-1.9-1.3-2.4-.9-4.8-.6zM1686.1,608.3l2.1 1.3 2.3 .9 5.7 1-1.9-1.7-2.1-1.2-2.5-.8-4.6-.4zM1561.1,551.7l1.7 1.4 2.1 1 2.5 .5 2.9-.1-1-1.8-1.7-1.5-2-1.1-2.8-.2-2.3 1zM1648.6,583.7l1.9 1.3 2.3 .9 4.2 .6-.8-.9-1.9-1.3-2.3-.9-3.9-.2zM1554.8,539.1l1.3 1.8 1.7 1.5 2.1 1 2.9 .1 2.2-1.1-2.8-7.8 1.2-3-.4-7.2 .8-2.7 .6-4.9 2.2-8.5 3.6-9.8 2.7-5.7 7.3-14.1 4.7-7.8 10.2-15.3 16.2-22 17-21.1-8-2.8-16.8 21.2-10.9 14.6-10.4 15-9.9 15.4-8.8 16.2-3.8 8.4-1.1 3.8-2.1 4.8-.6 4-1.7 5.1 .3 5.6-1.3 4.1 .8 2.7 1.9 4.3-1.3 3.6zM1627.9,565.7l1.7 1.5 2 1.1 2.4 .7 4.3 .2-2.1-2.5-2.1-1.1-2.4-.7-3.2 .1-.9 .3zM1702.7,593l1.8 1.5 2.1 1.1 2.5 .8 4.3 .3-2.5-2.4-2.2-1-2.6-.6-3.1-.1-.6 .1zM1618.3,552.7l1.9 1.3 2.3 .9 2.8 .2 1.7-.3-2-2.6-1.9-1.3-2.6-.5-3.3 .8zM1683.4,576.1l2 1.3 2.3 .8 4 .2-2.2-2.2-2.2-1-2.8-.4-2 .3zM1611.9,540l1.6 1.6 2.1 .9 3.1 0 1.1-.4-1.4-2.5-1.8-1.4-2.5-.6-2.8 1.4zM1669.4,560.7l1.8 1.4 2.3 .8 4 .1-2-2.3-2.1-1-2.8-.3-1.9 .4zM1727.8,582.1l1.9 1.3 2.2-2.5-2.8-.3-2.4 .3zM1607.9,528.1l1.2 1.9 1.8 1.4 2.5 .6 2.7-1.3-.3-1.4-1.1-2-1.4-1.7-1-2.1-4.5 4.2zM1659.8,547.6l1.8 1.4 2.1 1 2.8 .4 2.5-.6-.6-1.5-1.5-1.7-2-1.3-2.4-.6-3.7 1.4zM1713.2,566.8l1.9 1.4 2.3 .9 2.7 .4 2.7-.3-1-1.6-1.7-1.5-2.3-1-2.7-.4-3 .6zM1606.1,517.3l.8 2.3 2.8 3.5 5.2-2.8-.9-5 .7-3.9 .5-.9 .3-6.2 1.1-3 1-5.5 2.8-9.1 3.7-10.1 4-9.4 7.6-16 8.4-15.4 8.8-14.9-8.5-2.9-14.1 22.2-8.6 15.4-3.9 8-3.7 8.1-3.1 8.4-2.6 8.6-.8 5.1-1.1 3.9 0 6.6-.8 2.9 1.3 6zM1653.2,534.8l1.4 1.9 1.7 1.4 2.1 1 3 0 2.3-1.3-1.3-3-4.6-4.9 2.1-3.3-.4-1.9-3.5-6 1.4-2.9-.2-1.6-2-4.2 1-4.4-.5-2.7-.7-2.4 .6-3.8 .4-.8-.4-5.6 1.3-3.6 .2-4.3 1.4-4.6 .7-3.8 2.7-9.1 3.7-10.1 2.4-5.6 5.4-11.7 4.2-8.3-10.8-3.6-7 15.6-5.6 16.4-2.2 8.5-1.3 7.5-.5 1.3-.3 5.8-1.1 3.2 .1 7.2-.9 2 .1 2 .7 2.4-.1 3.3-1 1.9 .4 2 1.7 4.5-1.6 3.4 .3 1.3 1 2.1 1.4 1.8 .4 2.8-1.5 2.3 .6 1.9 1.3 1.8 3.3 3-2.1 4.4zM1703.6,553.4l2 1.2 2.4 .7 3.4-.3-1.3-2-2-1.3-2.5-.6-3.3 .6zM1694.9,539.2l1.4 1.8 2 1.2 2.7 .4 2.2-.6-.5-1.3-1.6-1.6-2.3-.9-3.5 .6zM1738.9,555.1l1.4 1.9 2 1.3 2.4 .8 3 0 1.9-.5-.5-1.1-1.5-1.9-1.9-1.2-2.5-.7-3.5 .5-1 .5zM1689.6,528.3l1.5 1.7 2 1.1 2.8 .2 2.2-1-.2-1.1-1.3-2-1.7-1.4-2.2-.9-3.7 2.2zM1731.1,543l1.6 1.8 2 1.2 2.5 .6 4.1-.9-1.2-2.4-1.7-1.5-2.2-1-3-.1-2.5 1.2zM1685.1,516.7l1.1 2 1.5 1.6 1.9 1.3 3 .1 2.5-2.2-.8-3.1-2-4.4 1.1-2.9 0-1.5-1.4-5 .5-3.9-.2-2.9-.7-2.6 .4-3.7 0-3.1-.5-2.7 .6-3.8-.2-6.2 .7-2.8 .3-4.5 2.2-11.8 3.8-13.4 1.6-4.2-7.9-2.7-1.7 6.1-.8 2.1-1.5 6.6-.8 1.7-1.1 6.5-.8 2-.7 5.8-1 2.9-.2 4.7-1.2 4.5 .1 6.2-.9 2.6 0 1.6 .5 5.8-.7 2.1 .1 1.8 1.4 5-.7 3 .1 .9 .8 2.4 2.2 4.1-.8 3.1zM1725.9,531.8l1.7 1.5 2.2 .9 3.4-.4 .9-.5-1.3-2.5-1.8-1.4-2.4-.7-3.6 1.3zM1763.8,544.1l.8-1-1 .6zM1721.1,520.1l1.6 1.7 2.2 .9 4-1-1.1-2.3-1.6-1.5-2.4-.7-3.2 1.5zM1756.2,531.9l1.2 2 1.8 1.5 2.2 .9 3 .1 2.6-1.3-.3-1.4-1.2-2.1-1.8-1.4-2.1-1.1-3 0-2.6 2.1zM1717,508l1.1 2.2 1.6 1.4 2.4 .7 3.2-1.6-.3-1.6-1.2-1.9-1.7-1.5-2.2-.9zM1751.2,520.3l1 2.2 1.7 1.6 2 1.1 2.6 .6 3.3-2.3-.2-1.3-1.2-2.1-1.7-1.5-2-1.2-2.8-.1-2.8 2.5zM1714.3,497.7l.9 2.3 1.4 1.8 1.8 1.4 5.1-2.7-.4-2.5-1-2.2-.6-2.7 1.1-2.4 .1-2.1-.6-2.7 0-3.2 .5-1.4 .3-2.7-.3-3 1-7.5 0-3.2 .9-4.1 0-3.3 1.6-11.7-9.3-3.2-1 5.4-1.3 4.6-.4 3.5-1 4.3-1.1 10.8 .2 2.9-.4 3.7 .2 3 .7 2.5 0 3.1-.2 .8 .4 2.3 2 4.3zM1748,510.3l1.3 2 1.8 1.3 2.2 .9 3.7-2.3-.3-1.6-1.3-1.9-1.7-1.4-2.3-.8-3.7 2.5zM1780.3,521.6l1.4 1.8 4.3-4.9-2.2-1-4 2.7zM1745.3,499.8l1.3 2 1.8 1.3 3 0 2-1.7-1-2.8-1.5-1.6-2.1-1-3.8 2.5zM1775,510.3l1.2 2.1 1.7 1.5 2 1.2 2.3 .8 3.7-3.1 0-1.2-.9-2.4-2.9-3.5 .5-4.1-.6-2.7-2.8-3.6 .3-3.7-.5-2.8-2.8-3.6 .7-4.2-.6-2.6-2.4-3.9 1.3-2.9-.1-1.9-1.9-4.4 1.3-3.1-7.9-2.7 .4 2.9 1.1 2.1-.5 3.8-.4 .6 .5 2.6 1.2 1.9 .9 2.4-1.5 2.7 .2 2 2.5 3.9-1.3 3.8 0 1 .9 2.4 1.3 1.8 1 2.3-1.2 2.6 .2 1.9 1.2 2.1 2.7 3.7-1 2.9zM1743,489.1l1 2.2 1.6 1.5 2.3 .8 3.1-2.4-.1-1-.9-2.3-1.4-1.8 0-3.2 1.2-1.5-.4-2.8-.9-2.2 .9-4.4 0-3.1-.4-2.8 1.1-4.4 0-3.3 .6-4.3-10.7-3.6-.2 3.2 .3 2.8-.4 3.6 .3 2.9 .7 2.5-.4 3.7 .5 2.7 1 2.2 .4 2.8-.8 1.6 .4 2.1 1.1 2 1.5 1.7-1.4 4.1zM1797.3,498.4l1 2.4 1.7 1.5 5.4-6.3-1.2-2 1-2.9 .1-1.8-.8-2.5-1.2-2-.4-3 .3-3.7-2.1-4.3 .1-2.5-10.2-3.5 .4 3.6 1 2.2-.4 3.8 .3 3 2.1 4.4-.5 3.9 .9 2.4 2.9 3.5zM1815.3,477.8l1 2.2 1.6 1.6 3.1-3.6-5.8-1.9z" fill="#cd423b"/></g>
<linearGradient id="C0" gradientUnits="userSpaceOnUse"><stop offset="0" stop-color="#3b4cc0" stop-opacity=".86"/><stop offset="0.0625" stop-color="#4e68d8" stop-opacity=".86"/><stop offset="0.125" stop-color="#6282ea" stop-opacity=".86"/><stop offset="0.1875" stop-color="#779af7" stop-opacity=".86"/><stop offset="0.25" stop-color="#8db0fe" stop-opacity=".86"/><stop offset="0.3125" stop-color="#a3c2fe" stop-opacity=".86"/><stop offset="0.375" stop-color="#b9d0f9" stop-opacity=".86"/><stop offset="0.4375" stop-color="#ccd9ed" stop-opacity=".86"/><stop offset="0.5" stop-color="#dddcdc" stop-opacity=".86"/><stop offset="0.5625" stop-color="#ecd3c5" stop-opacity=".86"/><stop offset="0.625" stop-color="#f5c4ac" stop-opacity=".86"/><stop offset="0.6875" stop-color="#f7b093" stop-opacity=".86"/><stop offset="0.75" stop-color="#f4987a" stop-opacity=".86"/><stop offset="0.8125" stop-color="#eb7d62" stop-opacity=".86"/><stop offset="0.875" stop-color="#dd5f4b" stop-opacity=".86"/><stop offset="0.9375" stop-color="#ca3b37" stop-opacity=".86"/><stop offset="1" stop-color="#b40426" stop-opacity=".86"/></linearGradient>
<linearGradient id="Ca" href="#C0" x1="1584" y1="380" x2="1461" y2="263"/><linearGradient id="Cb" href="#C0" x1="1526" y1="449" x2="1354" y2="346"/><linearGradient id="Cc" href="#C0" x1="1557" y1="489" x2="-834" y2="-398"/><linearGradient id="Cd" href="#C0" x1="1528" y1="480" x2="1746" y2="516"/><linearGradient id="Ce" href="#C0" x1="1545.8" y1="470.7" x2="1609.6" y2="475.4"/><linearGradient id="Cf" href="#C0" x1="1553.3" y1="451.1" x2="1589.3" y2="452.6"/><linearGradient id="Cg" href="#C0" x1="1550.6" y1="426.9" x2="1597.2" y2="428.2"/><linearGradient id="Ch" href="#C0" x1="1656" y1="407" x2="1479" y2="402"/><linearGradient id="Ci" href="#C0" x1="1608.7" y1="416" x2="1540.5" y2="413"/><linearGradient id="Cj" href="#C0" x1="1643" y1="459" x2="1439" y2="433"/><linearGradient id="Ck" href="#C0" x1="1565" y1="491" x2="1730" y2="373"/><linearGradient id="Cl" href="#C0" x1="1578" y1="466.9" x2="1687.1" y2="447.5"/><linearGradient id="Cm" href="#C0" x1="1588.7" y1="451.2" x2="1657.2" y2="446"/><linearGradient id="Cn" href="#C0" x1="1568.1" y1="426.8" x2="1678.3" y2="421.5"/><linearGradient id="Co" href="#C0" x1="1657.1" y1="410.8" x2="1595" y2="413.6"/><linearGradient id="Cp" href="#C0" x1="1643.9" y1="431.5" x2="1614.4" y2="433.2"/><linearGradient id="Cq" href="#C0" x1="1644.9" y1="454.1" x2="1616.4" y2="456.3"/><linearGradient id="Cr" href="#C0" x1="1647.1" y1="470.2" x2="1615" y2="473.6"/><linearGradient id="Cs" href="#C0" x1="1649.5" y1="481.4" x2="1611.5" y2="487"/><linearGradient id="Ct" href="#C0" x1="1652.3" y1="491.1" x2="1606.9" y2="502"/><linearGradient id="Cu" href="#C0" x1="1653.4" y1="497.1" x2="1611.9" y2="513.7"/><linearGradient id="Cv" href="#C0" x1="1642" y1="505" x2="1792" y2="535"/><linearGradient id="Cw" href="#C0" x1="1658.4" y1="500" x2="1712.2" y2="504.9"/><linearGradient id="Cx" href="#C0" x1="1663.5" y1="484.2" x2="1702.7" y2="486.5"/><linearGradient id="Cy" href="#C0" x1="1656.5" y1="459.7" x2="1718.2" y2="462.4"/><linearGradient id="Cz" href="#C0" x1="1749.1" y1="443.6" x2="1620.7" y2="438.2"/><linearGradient id="CA" href="#C0" x1="1717.3" y1="456.4" x2="1662.3" y2="453.5"/><linearGradient id="CB" href="#C0" x1="1592" y1="371" x2="1469" y2="256"/><linearGradient id="CC" href="#C0" x1="1538" y1="439" x2="1359" y2="341"/><linearGradient id="CD" href="#C0" x1="1482" y1="444" x2="1944" y2="589"/><linearGradient id="CE" href="#C0" x1="1522.9" y1="452.3" x2="1591.8" y2="463.1"/><linearGradient id="CF" href="#C0" x1="1531.7" y1="436.5" x2="1570.4" y2="440"/><linearGradient id="CG" href="#C0" x1="1535.9" y1="420.1" x2="1565.6" y2="421.9"/><linearGradient id="CH" href="#C0" x1="1537.1" y1="401" x2="1566.8" y2="402.3"/><linearGradient id="CI" href="#C0" x1="1508.6" y1="367.6" x2="1590.4" y2="370.6"/><linearGradient id="CJ" href="#C0" x1="1686" y1="366" x2="1491" y2="354"/><linearGradient id="CK" href="#C0" x1="650" y1="446" x2="2193" y2="320"/><linearGradient id="CL" href="#C0" x1="1603.4" y1="370.2" x2="1568" y2="372.6"/><linearGradient id="CM" href="#C0" x1="1599.5" y1="398.8" x2="1576.3" y2="400.6"/><linearGradient id="CN" href="#C0" x1="1601.4" y1="417.2" x2="1577.2" y2="419.6"/><linearGradient id="CO" href="#C0" x1="1604" y1="430.8" x2="1576.1" y2="434.4"/><linearGradient id="CP" href="#C0" x1="1607" y1="441.8" x2="1573.4" y2="447.5"/><linearGradient id="CQ" href="#C0" x1="1610.3" y1="451.2" x2="1570.2" y2="461.4"/><linearGradient id="CR" href="#C0" x1="1611.7" y1="457.2" x2="1573.3" y2="471.6"/><linearGradient id="CS" href="#C0" x1="1560" y1="460" x2="1898" y2="534"/><linearGradient id="CT" href="#C0" x1="1615" y1="467.5" x2="1681.4" y2="473"/><linearGradient id="CU" href="#C0" x1="1623.6" y1="450" x2="1666.7" y2="452"/><linearGradient id="CV" href="#C0" x1="1489" y1="412" x2="1817" y2="425"/><linearGradient id="CW" href="#C0" x1="1685.1" y1="418.2" x2="1617.5" y2="414.8"/><linearGradient id="CX" href="#C0" x1="1715" y1="463" x2="1547" y2="442"/><linearGradient id="CY" href="#C0" x1="1633" y1="504" x2="1789" y2="382"/><linearGradient id="CZ" href="#C0" x1="1647.8" y1="474.1" x2="1748.6" y2="457"/><linearGradient id="Cab" href="#C0" x1="1658.8" y1="457.9" x2="1722.8" y2="453.6"/><linearGradient id="Cbb" href="#C0" x1="1640.8" y1="432.9" x2="1738.3" y2="429.1"/><linearGradient id="Ccb" href="#C0" x1="1742.2" y1="414.6" x2="1661" y2="417.6"/><linearGradient id="Cdb" href="#C0" x1="1720.4" y1="432.1" x2="1684" y2="434"/><linearGradient id="Ceb" href="#C0" x1="1720.3" y1="453.8" x2="1686.9" y2="456.4"/><linearGradient id="Cfb" href="#C0" x1="1600" y1="363" x2="1477" y2="249"/><linearGradient id="Cgb" href="#C0" x1="1551" y1="429" x2="1363" y2="333"/><linearGradient id="Chb" href="#C0" x1="1495" y1="428" x2="1683" y2="483"/><linearGradient id="Cib" href="#C0" x1="1522.9" y1="428.4" x2="1562.6" y2="435.6"/><linearGradient id="Cjb" href="#C0" x1="1529.2" y1="416.7" x2="1552.4" y2="419.7"/><linearGradient id="Ckb" href="#C0" x1="1532.3" y1="405.5" x2="1550.4" y2="407.4"/><linearGradient id="Clb" href="#C0" x1="1534.2" y1="395.3" x2="1549.9" y2="396.7"/><linearGradient id="Cmb" href="#C0" x1="1535.8" y1="383.2" x2="1550.3" y2="384.3"/><linearGradient id="Cnb" href="#C0" x1="1536.4" y1="369.5" x2="1551.6" y2="370.4"/><linearGradient id="Cob" href="#C0" x1="1533.3" y1="345.8" x2="1555.7" y2="347"/><linearGradient id="Cpb" href="#C0" x1="1510.9" y1="316.7" x2="1564.4" y2="320.9"/><linearGradient id="Cqb" href="#C0" x1="2256" y1="931" x2="1408" y2="179"/><linearGradient id="Crb" href="#C0" x1="1608.8" y1="305.9" x2="1551.9" y2="314.8"/><linearGradient id="Csb" href="#C0" x1="1587.9" y1="316.9" x2="1558.5" y2="320"/><linearGradient id="Ctb" href="#C0" x1="1578.7" y1="330.5" x2="1563.6" y2="331.9"/><linearGradient id="Cub" href="#C0" x1="1578.6" y1="361.6" x2="1568.5" y2="362.6"/><linearGradient id="Cvb" href="#C0" x1="1579.9" y1="448.1" x2="1620.4" y2="420"/><linearGradient id="Cwb" href="#C0" x1="1577" y1="474" x2="1645" y2="330"/><linearGradient id="Cxb" href="#C0" x1="1419" y1="374" x2="2423" y2="822"/><linearGradient id="Cyb" href="#C0" x1="1592.8" y1="451.5" x2="1655.9" y2="461.1"/><linearGradient id="Czb" href="#C0" x1="1601.6" y1="440.5" x2="1637.9" y2="443.9"/><linearGradient id="CAb" href="#C0" x1="1605.4" y1="425.1" x2="1634.8" y2="427"/><linearGradient id="CBb" href="#C0" x1="1602.4" y1="404.1" x2="1641.3" y2="405.9"/><linearGradient id="CCb" href="#C0" x1="799" y1="339" x2="2172" y2="403"/><linearGradient id="CDb" href="#C0" x1="1708" y1="385.2" x2="1586.1" y2="375"/><linearGradient id="CEb" href="#C0" x1="1855" y1="588" x2="1460" y2="232"/><linearGradient id="CFb" href="#C0" x1="1546" y1="404" x2="1733" y2="392"/><linearGradient id="CGb" href="#C0" x1="1687" y1="387.2" x2="1635.5" y2="389.7"/><linearGradient id="CHb" href="#C0" x1="1676.1" y1="408.5" x2="1648.3" y2="410.2"/><linearGradient id="CIb" href="#C0" x1="1677.5" y1="428.5" x2="1649.3" y2="430.8"/><linearGradient id="CJb" href="#C0" x1="1680.4" y1="441.4" x2="1647.2" y2="445.2"/><linearGradient id="CKb" href="#C0" x1="1684.8" y1="450.7" x2="1641.4" y2="458.6"/><linearGradient id="CLb" href="#C0" x1="1688.7" y1="455.1" x2="1635.5" y2="470.8"/><linearGradient id="CMb" href="#C0" x1="1663.8" y1="462.7" x2="1740" y2="474.8"/><linearGradient id="CNb" href="#C0" x1="1675.5" y1="455.3" x2="1719.7" y2="459.2"/><linearGradient id="COb" href="#C0" x1="1675.8" y1="438.9" x2="1723" y2="441.7"/><linearGradient id="CPb" href="#C0" x1="2962" y1="476" x2="695" y2="362"/><linearGradient id="CQb" href="#C0" x1="1748.5" y1="417.6" x2="1678.7" y2="413.4"/><linearGradient id="CRb" href="#C0" x1="1609" y1="354" x2="1485" y2="243"/><linearGradient id="CSb" href="#C0" x1="1570" y1="422" x2="1357" y2="320"/><linearGradient id="CTb" href="#C0" x1="1507.6" y1="410.1" x2="1597.2" y2="435.6"/><linearGradient id="CUb" href="#C0" x1="1526.1" y1="405.9" x2="1549.8" y2="410.6"/><linearGradient id="CVb" href="#C0" x1="1530.5" y1="397.5" x2="1545.4" y2="400"/><linearGradient id="CWb" href="#C0" x1="1532.4" y1="392.6" x2="1544" y2="394.3"/><linearGradient id="CXb" href="#C0" x1="1539.2" y1="351.4" x2="1545.5" y2="352"/><linearGradient id="CYb" href="#C0" x1="1539.1" y1="341.2" x2="1547.1" y2="341.8"/><linearGradient id="CZb" href="#C0" x1="1538" y1="307.1" x2="1550.8" y2="308.2"/><linearGradient id="Cac" href="#C0" x1="1535.3" y1="295.6" x2="1552.5" y2="297.3"/><linearGradient id="Cbc" href="#C0" x1="1530.5" y1="290.1" x2="1553.8" y2="292.9"/><linearGradient id="Ccc" href="#C0" x1="1518.3" y1="281.6" x2="1556.1" y2="287.9"/><linearGradient id="Cdc" href="#C0" x1="1569.4" y1="388.4" x2="1582.6" y2="385"/><linearGradient id="Cec" href="#C0" x1="1569" y1="394.2" x2="1586.5" y2="389.1"/><linearGradient id="Cfc" href="#C0" x1="1567.7" y1="400.3" x2="1592.4" y2="391.7"/><linearGradient id="Cgc" href="#C0" x1="1562.6" y1="415.1" x2="1611.7" y2="387.1"/><linearGradient id="Chc" href="#C0" x1="1575" y1="477" x2="1596" y2="262"/><linearGradient id="Cic" href="#C0" x1="1161" y1="287" x2="3038" y2="914"/><linearGradient id="Cjc" href="#C0" x1="1585.7" y1="429.8" x2="1635.3" y2="436.9"/><linearGradient id="Ckc" href="#C0" x1="1594.4" y1="418.2" x2="1621.5" y2="420.8"/><linearGradient id="Clc" href="#C0" x1="1597.7" y1="405.4" x2="1619.3" y2="407"/><linearGradient id="Cmc" href="#C0" x1="1598.8" y1="391" x2="1620.3" y2="392.2"/><linearGradient id="Cnc" href="#C0" x1="1590.2" y1="366.4" x2="1628.8" y2="368.3"/><linearGradient id="Coc" href="#C0" x1="1477" y1="336" x2="1679" y2="351"/><linearGradient id="Cpc" href="#C0" x1="1748" y1="332" x2="1589" y2="346"/><linearGradient id="Cqc" href="#C0" x1="1657.5" y1="350.1" x2="1628.6" y2="352.1"/><linearGradient id="Crc" href="#C0" x1="1653.8" y1="381.3" x2="1635.4" y2="382.9"/><linearGradient id="Csc" href="#C0" x1="1654.1" y1="395.3" x2="1637.6" y2="397"/><linearGradient id="Ctc" href="#C0" x1="1654.6" y1="405.9" x2="1639.4" y2="407.7"/><linearGradient id="Cuc" href="#C0" x1="1654.8" y1="410.8" x2="1640.5" y2="412.8"/><linearGradient id="Cvc" href="#C0" x1="1637" y1="489" x2="1701" y2="320"/><linearGradient id="Cwc" href="#C0" x1="1595" y1="432" x2="1839" y2="485"/><linearGradient id="Cxc" href="#C0" x1="1654.7" y1="442" x2="1700.6" y2="446.5"/><linearGradient id="Cyc" href="#C0" x1="1661.5" y1="429" x2="1692.9" y2="431.1"/><linearGradient id="Czc" href="#C0" x1="1656.7" y1="409.9" x2="1701" y2="412.3"/><linearGradient id="CAc" href="#C0" x1="1861" y1="399" x2="1561" y2="382"/><linearGradient id="CBc" href="#C0" x1="1810" y1="411" x2="1601" y2="388"/><linearGradient id="CCc" href="#C0" x1="1611" y1="433" x2="1774" y2="380"/><linearGradient id="CDc" href="#C0" x1="1633.9" y1="406.3" x2="1755.5" y2="398"/><linearGradient id="CEc" href="#C0" x1="1774.6" y1="383.2" x2="1679.3" y2="387.2"/><linearGradient id="CFc" href="#C0" x1="1738.8" y1="398.9" x2="1704.8" y2="400.7"/><linearGradient id="CGc" href="#C0" x1="1617" y1="346" x2="1493" y2="236"/><linearGradient id="CHc" href="#C0" x1="1603" y1="419" x2="1325" y2="294"/><linearGradient id="CIc" href="#C0" x1="1517.6" y1="391.4" x2="1565.8" y2="405"/><linearGradient id="CJc" href="#C0" x1="1531.4" y1="384.1" x2="1544.1" y2="386.8"/><linearGradient id="CKc" href="#C0" x1="1746" y1="875" x2="1541" y2="229"/><linearGradient id="CLc" href="#C0" x1="1556.9" y1="294.7" x2="1562.8" y2="293.6"/><linearGradient id="CMc" href="#C0" x1="1559.8" y1="321.9" x2="1568.5" y2="320.3"/><linearGradient id="CNc" href="#C0" x1="1560.1" y1="332.5" x2="1571.4" y2="330.2"/><linearGradient id="COc" href="#C0" x1="1560.1" y1="342.9" x2="1574.9" y2="339.4"/><linearGradient id="CPc" href="#C0" x1="1558.9" y1="353.4" x2="1579.7" y2="347.5"/><linearGradient id="CQc" href="#C0" x1="1555.7" y1="367.9" x2="1589.3" y2="355"/><linearGradient id="CRc" href="#C0" x1="1546" y1="394.3" x2="1611.8" y2="347.6"/><linearGradient id="CSc" href="#C0" x1="1652" y1="442" x2="1455" y2="297"/><linearGradient id="CTc" href="#C0" x1="1560" y1="402.3" x2="1660.3" y2="421.3"/><linearGradient id="CUc" href="#C0" x1="1585.5" y1="398.8" x2="1616" y2="402.3"/><linearGradient id="CVc" href="#C0" x1="1591.2" y1="386.6" x2="1611.5" y2="388.3"/><linearGradient id="CWc" href="#C0" x1="1593.6" y1="373" x2="1611.3" y2="374.2"/><linearGradient id="CXc" href="#C0" x1="1591.3" y1="356.2" x2="1615.1" y2="357.6"/><linearGradient id="CYc" href="#C0" x1="1563.6" y1="324.3" x2="1627.8" y2="329.2"/><linearGradient id="CZc" href="#C0" x1="1463" y1="287" x2="1658" y2="329"/><linearGradient id="Cad" href="#C0" x1="1666.8" y1="315.1" x2="1609.6" y2="320.6"/><linearGradient id="Cbd" href="#C0" x1="1643.4" y1="332.8" x2="1620.6" y2="334.9"/><linearGradient id="Ccd" href="#C0" x1="1642.9" y1="360.2" x2="1625" y2="362.2"/><linearGradient id="Cdd" href="#C0" x1="1643.6" y1="370.2" x2="1626.4" y2="372.3"/><linearGradient id="Ced" href="#C0" x1="1643.8" y1="374.8" x2="1627.3" y2="377.1"/><linearGradient id="Cfd" href="#C0" x1="1616" y1="431.9" x2="1682.2" y2="362.2"/><linearGradient id="Cgd" href="#C0" x1="1704" y1="508" x2="1549" y2="249"/><linearGradient id="Chd" href="#C0" x1="1531" y1="387" x2="1843" y2="453"/><linearGradient id="Cid" href="#C0" x1="1637.5" y1="407.7" x2="1684.1" y2="412"/><linearGradient id="Cjd" href="#C0" x1="1641.8" y1="391.9" x2="1682.6" y2="394.3"/><linearGradient id="Ckd" href="#C0" x1="2476" y1="418" x2="1211" y2="335"/><linearGradient id="Cld" href="#C0" x1="1476" y1="385" x2="1804" y2="363"/><linearGradient id="Cmd" href="#C0" x1="1723.7" y1="366.5" x2="1676.7" y2="369.2"/><linearGradient id="Cnd" href="#C0" x1="1719.9" y1="393" x2="1682.7" y2="396.4"/><linearGradient id="Cod" href="#C0" x1="1723.7" y1="405" x2="1681" y2="410.3"/><linearGradient id="Cpd" href="#C0" x1="1727.7" y1="406.4" x2="1677.4" y2="415.2"/><linearGradient id="Cqd" href="#C0" x1="8303" y1="5761" x2="-6806" y2="-6477"/><linearGradient id="Crd" href="#C0" x1="1680.1" y1="416.9" x2="1757.9" y2="427"/><linearGradient id="Csd" href="#C0" x1="1689.9" y1="408.2" x2="1751.1" y2="412.5"/><linearGradient id="Ctd" href="#C0" x1="1625" y1="338" x2="1500" y2="229"/><linearGradient id="Cud" href="#C0" x1="1707" y1="446" x2="1164" y2="212"/><linearGradient id="Cvd" href="#C0" x1="1524.2" y1="371.8" x2="1558.8" y2="382.2"/><linearGradient id="Cwd" href="#C0" x1="1519.1" y1="279.7" x2="1560" y2="257.4"/><linearGradient id="Cxd" href="#C0" x1="1533.9" y1="271.1" x2="1560.5" y2="261.1"/><linearGradient id="Cyd" href="#C0" x1="1541.2" y1="271.5" x2="1561.5" y2="265.4"/><linearGradient id="Czd" href="#C0" x1="1545.7" y1="274.9" x2="1562.6" y2="270.5"/><linearGradient id="CAd" href="#C0" x1="1548.1" y1="283.2" x2="1564.8" y2="279.3"/><linearGradient id="CBd" href="#C0" x1="1552" y1="321.1" x2="1575.5" y2="314.3"/><linearGradient id="CCd" href="#C0" x1="1548.5" y1="340.3" x2="1585" y2="326.1"/><linearGradient id="CDd" href="#C0" x1="1536.1" y1="376.4" x2="1607.1" y2="320.9"/><linearGradient id="CEd" href="#C0" x1="1673" y1="426" x2="1460" y2="286"/><linearGradient id="CFd" href="#C0" x1="1558.2" y1="375.7" x2="1637.4" y2="390.6"/><linearGradient id="CGd" href="#C0" x1="1582.3" y1="371.5" x2="1609.3" y2="374.8"/><linearGradient id="CHd" href="#C0" x1="1587.9" y1="360.6" x2="1606.3" y2="362.3"/><linearGradient id="CId" href="#C0" x1="1590.5" y1="349.3" x2="1606.2" y2="350.6"/><linearGradient id="CJd" href="#C0" x1="1589.1" y1="332.8" x2="1609" y2="334.2"/><linearGradient id="CKd" href="#C0" x1="1572.9" y1="303" x2="1616.1" y2="307.1"/><linearGradient id="CLd" href="#C0" x1="1508" y1="280.5" x2="1630.8" y2="303.6"/><linearGradient id="CMd" href="#C0" x1="1660.6" y1="291.4" x2="1605.6" y2="300.7"/><linearGradient id="CNd" href="#C0" x1="1638.4" y1="302.9" x2="1612" y2="305.8"/><linearGradient id="COd" href="#C0" x1="1630.6" y1="314.4" x2="1616" y2="315.9"/><linearGradient id="CPd" href="#C0" x1="1631.4" y1="343.1" x2="1620.1" y2="344.3"/><linearGradient id="CQd" href="#C0" x1="1373" y1="240" x2="2014" y2="607"/><linearGradient id="CRd" href="#C0" x1="1615.8" y1="386.3" x2="1679.4" y2="397.8"/><linearGradient id="CSd" href="#C0" x1="1630.1" y1="381.1" x2="1666.4" y2="385.1"/><linearGradient id="CTd" href="#C0" x1="1634.4" y1="368" x2="1665.6" y2="370.3"/><linearGradient id="CUd" href="#C0" x1="1615.3" y1="342.8" x2="1677.7" y2="347"/><linearGradient id="CVd" href="#C0" x1="1735.1" y1="333" x2="1652.1" y2="339"/><linearGradient id="CWd" href="#C0" x1="1696.9" y1="349.3" x2="1671.4" y2="351"/><linearGradient id="CXd" href="#C0" x1="1695.2" y1="374.8" x2="1675.7" y2="376.4"/><linearGradient id="CYd" href="#C0" x1="1696.1" y1="385.3" x2="1676.6" y2="387.3"/><linearGradient id="CZd" href="#C0" x1="1697.2" y1="392.3" x2="1676.9" y2="394.9"/><linearGradient id="Cae" href="#C0" x1="1698.6" y1="398.4" x2="1677.1" y2="401.7"/><linearGradient id="Cbe" href="#C0" x1="1699.6" y1="401.7" x2="1677.1" y2="406"/><linearGradient id="Cce" href="#C0" x1="1462" y1="256" x2="2046" y2="652"/><linearGradient id="Cde" href="#C0" x1="1683.3" y1="409" x2="1725.5" y2="414.9"/><linearGradient id="Cee" href="#C0" x1="1689.5" y1="402.2" x2="1720.7" y2="405.3"/><linearGradient id="Cfe" href="#C0" x1="1688.2" y1="389.1" x2="1724.3" y2="391.6"/><linearGradient id="Cge" href="#C0" x1="1545" y1="351" x2="1797" y2="369"/><linearGradient id="Che" href="#C0" x1="1933" y1="387" x2="1632" y2="349"/><linearGradient id="Cie" href="#C0" x1="1415" y1="388" x2="1873" y2="356"/><linearGradient id="Cje" href="#C0" x1="1634" y1="330" x2="1508" y2="223"/><linearGradient id="Cke" href="#C0" x1="1155" y1="196" x2="2188" y2="630"/><linearGradient id="Cle" href="#C0" x1="1550.3" y1="336.6" x2="1541.4" y2="334.8"/><linearGradient id="Cme" href="#C0" x1="1552.3" y1="328.6" x2="1542.7" y2="326.8"/><linearGradient id="Cne" href="#C0" x1="1554.2" y1="319.3" x2="1544.2" y2="317.6"/><linearGradient id="Coe" href="#C0" x1="1556.4" y1="305.1" x2="1546.6" y2="303.6"/><linearGradient id="Cpe" href="#C0" x1="1502" y1="417" x2="1561" y2="240"/><linearGradient id="Cqe" href="#C0" x1="1508.8" y1="281.3" x2="1563.5" y2="248.5"/><linearGradient id="Cre" href="#C0" x1="1526.5" y1="268.1" x2="1564.3" y2="253"/><linearGradient id="Cse" href="#C0" x1="1537.4" y1="269.5" x2="1566.1" y2="260.8"/><linearGradient id="Cte" href="#C0" x1="1541.9" y1="323.7" x2="1585.7" y2="304.7"/><linearGradient id="Cue" href="#C0" x1="1528" y1="382.5" x2="1609.4" y2="289.6"/><linearGradient id="Cve" href="#C0" x1="1754" y1="443" x2="1391" y2="246"/><linearGradient id="Cwe" href="#C0" x1="1565.7" y1="352.8" x2="1616.5" y2="362.8"/><linearGradient id="Cxe" href="#C0" x1="1581.9" y1="347" x2="1604.2" y2="350.1"/><linearGradient id="Cye" href="#C0" x1="1587.1" y1="337.4" x2="1602.6" y2="339.1"/><linearGradient id="Cze" href="#C0" x1="1589.9" y1="326.3" x2="1602.9" y2="327.6"/><linearGradient id="CAe" href="#C0" x1="1589.7" y1="310.1" x2="1605.2" y2="311.5"/><linearGradient id="CBe" href="#C0" x1="1583" y1="285.7" x2="1609.2" y2="288.6"/><linearGradient id="CCe" href="#C0" x1="1565.9" y1="276.7" x2="1612.8" y2="283.7"/><linearGradient id="CDe" href="#C0" x1="2534" y1="1122" x2="1482" y2="164"/><linearGradient id="CEe" href="#C0" x1="1622" y1="297.6" x2="1614.3" y2="298.5"/><linearGradient id="CFe" href="#C0" x1="1621.4" y1="307.1" x2="1616" y2="307.7"/><linearGradient id="CGe" href="#C0" x1="273" y1="-785" x2="3511" y2="1988"/><linearGradient id="CHe" href="#C0" x1="1621.6" y1="376.1" x2="1660" y2="384.2"/><linearGradient id="CIe" href="#C0" x1="1630" y1="370.2" x2="1653.7" y2="373.5"/><linearGradient id="CJe" href="#C0" x1="1633.2" y1="362.1" x2="1653" y2="364.3"/><linearGradient id="CKe" href="#C0" x1="1634.8" y1="351.5" x2="1653.9" y2="353.2"/><linearGradient id="CLe" href="#C0" x1="1631" y1="333.7" x2="1658.2" y2="335.9"/><linearGradient id="CMe" href="#C0" x1="1592.2" y1="303.2" x2="1670.6" y2="311.4"/><linearGradient id="CNe" href="#C0" x1="2129" y1="888" x2="1572" y2="193"/><linearGradient id="COe" href="#C0" x1="1727.3" y1="296.3" x2="1652.6" y2="307.2"/><linearGradient id="CPe" href="#C0" x1="1696" y1="306.7" x2="1660.2" y2="310"/><linearGradient id="CQe" href="#C0" x1="1683.4" y1="322.8" x2="1666.2" y2="324.3"/><linearGradient id="CRe" href="#C0" x1="1682.1" y1="348.5" x2="1670.3" y2="349.7"/><linearGradient id="CSe" href="#C0" x1="1656.2" y1="415.6" x2="1718.2" y2="361.6"/><linearGradient id="CTe" href="#C0" x1="1996" y1="546" x2="1249" y2="185"/><linearGradient id="CUe" href="#C0" x1="1665.2" y1="395.1" x2="1724.9" y2="404.5"/><linearGradient id="CVe" href="#C0" x1="1679.3" y1="390" x2="1710.6" y2="393.2"/><linearGradient id="CWe" href="#C0" x1="1683" y1="379.6" x2="1709.4" y2="381.6"/><linearGradient id="CXe" href="#C0" x1="1672.7" y1="360.4" x2="1718.3" y2="363.5"/><linearGradient id="CYe" href="#C0" x1="1467" y1="321" x2="1803" y2="352"/><linearGradient id="CZe" href="#C0" x1="1549" y1="378" x2="1774" y2="329"/><linearGradient id="Caf" href="#C0" x1="1992" y1="319" x2="1628" y2="346"/><linearGradient id="Cbf" href="#C0" x1="1755.7" y1="343.4" x2="1714.4" y2="346.3"/><linearGradient id="Ccf" href="#C0" x1="1750.4" y1="365.4" x2="1719.8" y2="368.5"/><linearGradient id="Cdf" href="#C0" x1="1749.9" y1="370.9" x2="1721.1" y2="374.6"/><linearGradient id="Cef" href="#C0" x1="1749.1" y1="375.8" x2="1722.9" y2="380.3"/><linearGradient id="Cff" href="#C0" x1="1933" y1="494" x2="1571" y2="299"/><linearGradient id="Cgf" href="#C0" x1="1643" y1="323" x2="1516" y2="216"/><linearGradient id="Chf" href="#C0" x1="1469" y1="311" x2="1647" y2="385"/><linearGradient id="Cif" href="#C0" x1="1554.4" y1="330.2" x2="1542.8" y2="327.2"/><linearGradient id="Cjf" href="#C0" x1="1557.9" y1="321.4" x2="1543.8" y2="318.4"/><linearGradient id="Ckf" href="#C0" x1="1561.5" y1="306.9" x2="1546.7" y2="304.1"/><linearGradient id="Clf" href="#C0" x1="1570.8" y1="259.7" x2="1555.6" y2="256.4"/><linearGradient id="Cmf" href="#C0" x1="1572.5" y1="253.9" x2="1556.9" y2="250.1"/><linearGradient id="Cnf" href="#C0" x1="1497" y1="394" x2="1565" y2="232"/><linearGradient id="Cof" href="#C0" x1="1510.6" y1="272.4" x2="1567.6" y2="241.4"/><linearGradient id="Cpf" href="#C0" x1="1529.3" y1="267.2" x2="1570.6" y2="251.6"/><linearGradient id="Cqf" href="#C0" x1="1527.4" y1="343.1" x2="1600.9" y2="285.9"/><linearGradient id="Crf" href="#C0" x1="1722" y1="446" x2="1455" y2="226"/><linearGradient id="Csf" href="#C0" x1="1566.7" y1="334.2" x2="1610.7" y2="345.3"/><linearGradient id="Ctf" href="#C0" x1="1582.2" y1="330.3" x2="1601.2" y2="333.7"/><linearGradient id="Cuf" href="#C0" x1="1587.2" y1="323.3" x2="1600.1" y2="325.2"/><linearGradient id="Cvf" href="#C0" x1="1589.9" y1="315.6" x2="1600.4" y2="317"/><linearGradient id="Cwf" href="#C0" x1="1591.7" y1="308.8" x2="1600.9" y2="309.9"/><linearGradient id="Cxf" href="#C0" x1="1592.4" y1="298.3" x2="1602.3" y2="299.5"/><linearGradient id="Cyf" href="#C0" x1="1591.5" y1="273.7" x2="1605.8" y2="275.5"/><linearGradient id="Czf" href="#C0" x1="1587.4" y1="268.3" x2="1607" y2="271.1"/><linearGradient id="CAf" href="#C0" x1="1574.4" y1="259.4" x2="1609.4" y2="266"/><linearGradient id="CBf" href="#C0" x1="2212" y1="847" x2="1552" y2="209"/><linearGradient id="CCf" href="#C0" x1="1615.6" y1="343.1" x2="1629.1" y2="339.8"/><linearGradient id="CDf" href="#C0" x1="1614.6" y1="349.4" x2="1632.6" y2="344.3"/><linearGradient id="CEf" href="#C0" x1="1612.7" y1="355.9" x2="1637.3" y2="347.3"/><linearGradient id="CFf" href="#C0" x1="1607.8" y1="364.7" x2="1645.9" y2="346.3"/><linearGradient id="CGf" href="#C0" x1="1593.9" y1="400.1" x2="1668.4" y2="313.5"/><linearGradient id="CHf" href="#C0" x1="1387" y1="235" x2="1965" y2="551"/><linearGradient id="CIf" href="#C0" x1="1621.9" y1="365" x2="1653.8" y2="371.8"/><linearGradient id="CJf" href="#C0" x1="1628.6" y1="360.7" x2="1648.8" y2="364"/><linearGradient id="CKf" href="#C0" x1="1631.4" y1="356.1" x2="1647.5" y2="358.4"/><linearGradient id="CLf" href="#C0" x1="1633.4" y1="350.2" x2="1647.3" y2="351.9"/><linearGradient id="CMf" href="#C0" x1="1634.9" y1="343.2" x2="1647.8" y2="344.5"/><linearGradient id="CNf" href="#C0" x1="1635.6" y1="335.2" x2="1648.7" y2="336.4"/><linearGradient id="COf" href="#C0" x1="1633.6" y1="320.4" x2="1651.6" y2="322"/><linearGradient id="CPf" href="#C0" x1="1620.3" y1="292.3" x2="1657.4" y2="296.4"/><linearGradient id="CQf" href="#C0" x1="1580.3" y1="272.6" x2="1664.7" y2="288.8"/><linearGradient id="CRf" href="#C0" x1="1706.8" y1="276.8" x2="1653.2" y2="286.6"/><linearGradient id="CSf" href="#C0" x1="1683.5" y1="288.8" x2="1658.3" y2="291.8"/><linearGradient id="CTf" href="#C0" x1="1675.7" y1="302.1" x2="1662" y2="303.6"/><linearGradient id="CUf" href="#C0" x1="1659.2" y1="366" x2="1688.6" y2="353.5"/><linearGradient id="CVf" href="#C0" x1="1641.9" y1="390.1" x2="1707.2" y2="337.8"/><linearGradient id="CWf" href="#C0" x1="1780" y1="456" x2="1575" y2="279"/><linearGradient id="CXf" href="#C0" x1="1627" y1="363.8" x2="1740.7" y2="384.3"/><linearGradient id="CYf" href="#C0" x1="1669.8" y1="365.8" x2="1702.9" y2="369.1"/><linearGradient id="CZf" href="#C0" x1="1670.8" y1="352.1" x2="1704.6" y2="354.6"/><linearGradient id="Cag" href="#C0" x1="1586" y1="319" x2="1739" y2="332"/><linearGradient id="Cbg" href="#C0" x1="1796.6" y1="317.9" x2="1681.7" y2="326.7"/><linearGradient id="Ccg" href="#C0" x1="1739.1" y1="333" x2="1705" y2="335.5"/><linearGradient id="Cdg" href="#C0" x1="1738.7" y1="352.9" x2="1707.6" y2="356.1"/><linearGradient id="Ceg" href="#C0" x1="1742.4" y1="359.2" x2="1706.4" y2="364.5"/><linearGradient id="Cfg" href="#C0" x1="1748.1" y1="362.7" x2="1703.7" y2="372.7"/><linearGradient id="Cgg" href="#C0" x1="1651.9" y1="349.1" x2="1789.9" y2="396.9"/><linearGradient id="Chg" href="#C0" x1="1704.3" y1="367.7" x2="1752.7" y2="373.9"/><linearGradient id="Cig" href="#C0" x1="1702.5" y1="358.4" x2="1755.9" y2="362.9"/><linearGradient id="Cjg" href="#C0" x1="2801" y1="442" x2="1382" y2="305"/><linearGradient id="Ckg" href="#C0" x1="1651" y1="317" x2="1523" y2="210"/><linearGradient id="Clg" href="#C0" x1="1483" y1="298" x2="1626" y2="360"/><linearGradient id="Cmg" href="#C0" x1="1561.4" y1="317.9" x2="1545.6" y2="313.4"/><linearGradient id="Cng" href="#C0" x1="1566.3" y1="307.2" x2="1547.2" y2="302.8"/><linearGradient id="Cog" href="#C0" x1="1572.6" y1="282" x2="1552.8" y2="277.7"/><linearGradient id="Cpg" href="#C0" x1="1580.8" y1="250.4" x2="1559.8" y2="245"/><linearGradient id="Cqg" href="#C0" x1="1582.8" y1="245.7" x2="1561.2" y2="239.1"/><linearGradient id="Crg" href="#C0" x1="1491.7" y1="297.9" x2="1570.9" y2="229.4"/><linearGradient id="Csg" href="#C0" x1="1519.9" y1="267.6" x2="1575.3" y2="241.1"/><linearGradient id="Ctg" href="#C0" x1="1543" y1="411" x2="1601" y2="236"/><linearGradient id="Cug" href="#C0" x1="4340" y1="2116" x2="-976" y2="-1341"/><linearGradient id="Cvg" href="#C0" x1="1570.9" y1="319.9" x2="1607.1" y2="331.7"/><linearGradient id="Cwg" href="#C0" x1="1584.7" y1="318.5" x2="1599.3" y2="322.1"/><linearGradient id="Cxg" href="#C0" x1="1597.4" y1="282.8" x2="1601.8" y2="283.4"/><linearGradient id="Cyg" href="#C0" x1="1580.6" y1="243.5" x2="1608.9" y2="250.5"/><linearGradient id="Czg" href="#C0" x1="1999" y1="714" x2="1584" y2="220"/><linearGradient id="CAg" href="#C0" x1="1605.4" y1="265.9" x2="1615.8" y2="263.8"/><linearGradient id="CBg" href="#C0" x1="1606.3" y1="272.1" x2="1617.2" y2="270.1"/><linearGradient id="CCg" href="#C0" x1="1609.8" y1="305.7" x2="1624.5" y2="302.6"/><linearGradient id="CDg" href="#C0" x1="1609.2" y1="317.3" x2="1628.3" y2="312.6"/><linearGradient id="CEg" href="#C0" x1="1607.2" y1="328.9" x2="1633.7" y2="320.8"/><linearGradient id="CFg" href="#C0" x1="1601.4" y1="342.8" x2="1643.4" y2="324.3"/><linearGradient id="CGg" href="#C0" x1="1586.1" y1="390.9" x2="1666.5" y2="292.6"/><linearGradient id="CHg" href="#C0" x1="1694" y1="457" x2="1549" y2="224"/><linearGradient id="CIg" href="#C0" x1="1566" y1="332" x2="1714" y2="384"/><linearGradient id="CJg" href="#C0" x1="1624.6" y1="349.8" x2="1648.7" y2="354.4"/><linearGradient id="CKg" href="#C0" x1="1629.9" y1="345.2" x2="1645.4" y2="347.6"/><linearGradient id="CLg" href="#C0" x1="1632.4" y1="339.7" x2="1644.8" y2="341.4"/><linearGradient id="CMg" href="#C0" x1="1633.8" y1="335.3" x2="1644.8" y2="336.7"/><linearGradient id="CNg" href="#C0" x1="1635.4" y1="327.7" x2="1645.3" y2="328.7"/><linearGradient id="COg" href="#C0" x1="1636.2" y1="318.9" x2="1646.3" y2="319.9"/><linearGradient id="CPg" href="#C0" x1="1634.9" y1="303.1" x2="1648.9" y2="304.4"/><linearGradient id="CQg" href="#C0" x1="1629.7" y1="282.6" x2="1652.3" y2="285"/><linearGradient id="CRg" href="#C0" x1="1621.2" y1="274.6" x2="1654.5" y2="279.2"/><linearGradient id="CSg" href="#C0" x1="1602.3" y1="264.2" x2="1657.8" y2="275.6"/><linearGradient id="CTg" href="#C0" x1="1606" y1="5557" x2="1658" y2="-353"/><linearGradient id="CUg" href="#C0" x1="1693.9" y1="264.4" x2="1651.8" y2="273.8"/><linearGradient id="CVg" href="#C0" x1="1681.6" y1="272.3" x2="1654.4" y2="276.7"/><linearGradient id="CWg" href="#C0" x1="1672.9" y1="279.3" x2="1656.8" y2="281.4"/><linearGradient id="CXg" href="#C0" x1="1670.5" y1="295.8" x2="1660.1" y2="297.1"/><linearGradient id="CYg" href="#C0" x1="1654.2" y1="343" x2="1681" y2="330.9"/><linearGradient id="CZg" href="#C0" x1="1634.9" y1="369.1" x2="1696.7" y2="317.5"/><linearGradient id="Cah" href="#C0" x1="1846" y1="461" x2="1542" y2="253"/><linearGradient id="Cbh" href="#C0" x1="1634.4" y1="340.4" x2="1712" y2="353.8"/><linearGradient id="Cch" href="#C0" x1="1663.4" y1="337.8" x2="1695.3" y2="341.1"/><linearGradient id="Cdh" href="#C0" x1="1659.1" y1="321.6" x2="1699.7" y2="325.1"/><linearGradient id="Ceh" href="#C0" x1="1573" y1="290" x2="1723" y2="307"/><linearGradient id="Cfh" href="#C0" x1="1790.2" y1="292.3" x2="1679.6" y2="307.4"/><linearGradient id="Cgh" href="#C0" x1="1733.6" y1="305.1" x2="1694.9" y2="308.2"/><linearGradient id="Chh" href="#C0" x1="1721.6" y1="324.2" x2="1701.8" y2="325.7"/><linearGradient id="Cih" href="#C0" x1="1721.1" y1="339.9" x2="1704" y2="341.6"/><linearGradient id="Cjh" href="#C0" x1="1721.8" y1="347.4" x2="1704.9" y2="349.4"/><linearGradient id="Ckh" href="#C0" x1="1722.5" y1="351.9" x2="1705.3" y2="354.2"/><linearGradient id="Clh" href="#C0" x1="1723.4" y1="355.8" x2="1705.6" y2="358.7"/><linearGradient id="Cmh" href="#C0" x1="1428" y1="86" x2="1986" y2="631"/><linearGradient id="Cnh" href="#C0" x1="1698.7" y1="363.8" x2="1743.1" y2="372.6"/><linearGradient id="Coh" href="#C0" x1="1705.7" y1="361.3" x2="1739" y2="366.4"/><linearGradient id="Cph" href="#C0" x1="1709.2" y1="359.2" x2="1737.1" y2="362.6"/><linearGradient id="Cqh" href="#C0" x1="1710.4" y1="350.3" x2="1738.2" y2="352.9"/><linearGradient id="Crh" href="#C0" x1="1691.1" y1="329.2" x2="1748.4" y2="334.2"/><linearGradient id="Csh" href="#C0" x1="1525" y1="291" x2="1792" y2="325"/><linearGradient id="Cth" href="#C0" x1="1825.8" y1="311.8" x2="1730" y2="319.5"/><linearGradient id="Cuh" href="#C0" x1="1776.9" y1="328.9" x2="1746.8" y2="331.1"/><linearGradient id="Cvh" href="#C0" x1="1659" y1="313" x2="1531" y2="204"/><linearGradient id="Cwh" href="#C0" x1="1568.1" y1="307.5" x2="1548.7" y2="301.4"/><linearGradient id="Cxh" href="#C0" x1="1575.6" y1="293.4" x2="1551.3" y2="287.2"/><linearGradient id="Cyh" href="#C0" x1="1591.2" y1="242.1" x2="1564.6" y2="233.9"/><linearGradient id="Czh" href="#C0" x1="1593" y1="238.7" x2="1566.2" y2="228.6"/><linearGradient id="CAh" href="#C0" x1="1376" y1="35" x2="1578" y2="232"/><linearGradient id="CBh" href="#C0" x1="1489.1" y1="324.6" x2="1574.8" y2="219.7"/><linearGradient id="CCh" href="#C0" x1="1513.1" y1="273.5" x2="1581.3" y2="232.9"/><linearGradient id="CDh" href="#C0" x1="1641" y1="437" x2="1547" y2="208"/><linearGradient id="CEh" href="#C0" x1="1570" y1="305.9" x2="1610.2" y2="322.9"/><linearGradient id="CFh" href="#C0" x1="1776" y1="572" x2="1604" y2="223"/><linearGradient id="CGh" href="#C0" x1="1569.4" y1="262.1" x2="1615.4" y2="237.5"/><linearGradient id="CHh" href="#C0" x1="1585.7" y1="252.7" x2="1616.1" y2="241.6"/><linearGradient id="CIh" href="#C0" x1="1592.7" y1="253.8" x2="1617.3" y2="246.3"/><linearGradient id="CJh" href="#C0" x1="1596.8" y1="254.6" x2="1617.7" y2="249.1"/><linearGradient id="CKh" href="#C0" x1="1599.5" y1="263.1" x2="1620" y2="258.2"/><linearGradient id="CLh" href="#C0" x1="1600.8" y1="301.6" x2="1631.7" y2="292"/><linearGradient id="CMh" href="#C0" x1="1592" y1="327.5" x2="1645.4" y2="300.6"/><linearGradient id="CNh" href="#C0" x1="1604" y1="429" x2="1646" y2="236"/><linearGradient id="COh" href="#C0" x1="1608.6" y1="332.7" x2="1660.8" y2="345.8"/><linearGradient id="CPh" href="#C0" x1="1627.1" y1="331.8" x2="1646" y2="335.2"/><linearGradient id="CQh" href="#C0" x1="1636.8" y1="308.5" x2="1644.6" y2="309.4"/><linearGradient id="CRh" href="#C0" x1="1636.5" y1="299.2" x2="1646.2" y2="300.2"/><linearGradient id="CSh" href="#C0" x1="1634.7" y1="274.4" x2="1649.7" y2="276.1"/><linearGradient id="CTh" href="#C0" x1="1631.6" y1="268.9" x2="1650.9" y2="271.3"/><linearGradient id="CUh" href="#C0" x1="1626" y1="263.5" x2="1652.3" y2="267.5"/><linearGradient id="CVh" href="#C0" x1="1615.3" y1="257" x2="1654.3" y2="264.7"/><linearGradient id="CWh" href="#C0" x1="1664.7" y1="275.4" x2="1656.9" y2="276.5"/><linearGradient id="CXh" href="#C0" x1="1087" y1="-26" x2="2056" y2="561"/><linearGradient id="CYh" href="#C0" x1="1656.1" y1="322.3" x2="1689.8" y2="327.6"/><linearGradient id="CZh" href="#C0" x1="1662.8" y1="315.3" x2="1688.3" y2="318.3"/><linearGradient id="Cai" href="#C0" x1="1657.8" y1="299.3" x2="1692.4" y2="302.9"/><linearGradient id="Cbi" href="#C0" x1="1608.9" y1="271" x2="1703.2" y2="284.1"/><linearGradient id="Cci" href="#C0" x1="2248" y1="674" x2="1609" y2="221"/><linearGradient id="Cdi" href="#C0" x1="1737.7" y1="274.3" x2="1689.6" y2="283.8"/><linearGradient id="Cei" href="#C0" x1="1727.6" y1="281.9" x2="1692.2" y2="286.5"/><linearGradient id="Cfi" href="#C0" x1="1716.7" y1="288.8" x2="1695.2" y2="290.9"/><linearGradient id="Cgi" href="#C0" x1="1711.3" y1="303.3" x2="1698.7" y2="304.5"/><linearGradient id="Chi" href="#C0" x1="1383" y1="204" x2="2019" y2="499"/><linearGradient id="Cii" href="#C0" x1="1696.2" y1="353.7" x2="1735.7" y2="360.2"/><linearGradient id="Cji" href="#C0" x1="1704.1" y1="350.2" x2="1730.8" y2="353.6"/><linearGradient id="Cki" href="#C0" x1="1707.4" y1="343.4" x2="1730.1" y2="345.7"/><linearGradient id="Cli" href="#C0" x1="1702.5" y1="329.1" x2="1734.7" y2="331.9"/><linearGradient id="Cmi" href="#C0" x1="1654.9" y1="301.2" x2="1750.5" y2="311.9"/><linearGradient id="Cni" href="#C0" x1="1563" y1="246" x2="1772" y2="317"/><linearGradient id="Coi" href="#C0" x1="1810.4" y1="296.4" x2="1725.3" y2="304.2"/><linearGradient id="Cpi" href="#C0" x1="1772" y1="313.6" x2="1738.2" y2="316.9"/><linearGradient id="Cqi" href="#C0" x1="1769.5" y1="327.9" x2="1741.2" y2="331.9"/><linearGradient id="Cri" href="#C0" x1="1768.4" y1="332.5" x2="1742.8" y2="337.3"/><linearGradient id="Csi" href="#C0" x1="2715" y1="753" x2="1222" y2="119"/><linearGradient id="Cti" href="#C0" x1="1712.1" y1="341.4" x2="1785.2" y2="350.8"/><linearGradient id="Cui" href="#C0" x1="1667" y1="308" x2="1538" y2="197"/><linearGradient id="Cvi" href="#C0" x1="1576.8" y1="295.8" x2="1552.4" y2="287.6"/><linearGradient id="Cwi" href="#C0" x1="1586.4" y1="276.8" x2="1557.3" y2="268.5"/><linearGradient id="Cxi" href="#C0" x1="1601.9" y1="234.8" x2="1570.1" y2="222.8"/><linearGradient id="Cyi" href="#C0" x1="1601.1" y1="232.4" x2="1571.9" y2="218.3"/><linearGradient id="Czi" href="#C0" x1="1499" y1="351" x2="1579" y2="211"/><linearGradient id="CAi" href="#C0" x1="1508.3" y1="284.8" x2="1587.9" y2="224.5"/><linearGradient id="CBi" href="#C0" x1="1663" y1="424" x2="1539" y2="203"/><linearGradient id="CCi" href="#C0" x1="1572.3" y1="293.3" x2="1613.6" y2="313.3"/><linearGradient id="CDi" href="#C0" x1="1608.6" y1="276" x2="1601" y2="274.6"/><linearGradient id="CEi" href="#C0" x1="1609.5" y1="267.4" x2="1602.9" y2="266.2"/><linearGradient id="CFi" href="#C0" x1="1633" y1="478" x2="1613" y2="219"/><linearGradient id="CGi" href="#C0" x1="1561.7" y1="261.9" x2="1618.1" y2="227.8"/><linearGradient id="CHi" href="#C0" x1="1581.5" y1="246.6" x2="1618.9" y2="232.2"/><linearGradient id="CIi" href="#C0" x1="1590.5" y1="252.1" x2="1622" y2="242.4"/><linearGradient id="CJi" href="#C0" x1="1587.8" y1="301.4" x2="1640.3" y2="276.6"/><linearGradient id="CKi" href="#C0" x1="1585" y1="400" x2="1654" y2="239"/><linearGradient id="CLi" href="#C0" x1="1859" y1="431" x2="1438" y2="219"/><linearGradient id="CMi" href="#C0" x1="1615.6" y1="315.8" x2="1653.2" y2="324.5"/><linearGradient id="CNi" href="#C0" x1="1629.9" y1="313.1" x2="1644.7" y2="315.6"/><linearGradient id="COi" href="#C0" x1="1638.5" y1="290.8" x2="1644.8" y2="291.6"/><linearGradient id="CPi" href="#C0" x1="1638.8" y1="281.5" x2="1646.2" y2="282.4"/><linearGradient id="CQi" href="#C0" x1="1636.2" y1="260.3" x2="1649.6" y2="262.1"/><linearGradient id="CRi" href="#C0" x1="1632.3" y1="254.8" x2="1650.9" y2="257.7"/><linearGradient id="CSi" href="#C0" x1="1623.8" y1="248.6" x2="1652.6" y2="254.3"/><linearGradient id="CTi" href="#C0" x1="1402" y1="79" x2="1849" y2="482"/><linearGradient id="CUi" href="#C0" x1="1654.7" y1="313.9" x2="1685.2" y2="321.6"/><linearGradient id="CVi" href="#C0" x1="1660.8" y1="312.6" x2="1682.9" y2="317"/><linearGradient id="CWi" href="#C0" x1="1664.2" y1="309" x2="1682.4" y2="312"/><linearGradient id="CXi" href="#C0" x1="1666.4" y1="304" x2="1682.7" y2="306.3"/><linearGradient id="CYi" href="#C0" x1="1665.4" y1="295.4" x2="1684.7" y2="297.7"/><linearGradient id="CZi" href="#C0" x1="1650.6" y1="266.1" x2="1690.8" y2="271.7"/><linearGradient id="Caj" href="#C0" x1="2221" y1="861" x2="1630" y2="199"/><linearGradient id="Cbj" href="#C0" x1="1714.6" y1="262.5" x2="1691.7" y2="266.9"/><linearGradient id="Ccj" href="#C0" x1="1711.7" y1="266.9" x2="1692.8" y2="269.8"/><linearGradient id="Cdj" href="#C0" x1="1709.2" y1="271.5" x2="1693.9" y2="273.5"/><linearGradient id="Cej" href="#C0" x1="1704.7" y1="276.7" x2="1695.4" y2="277.8"/><linearGradient id="Cfj" href="#C0" x1="1682.5" y1="342.6" x2="1722.1" y2="323.1"/><linearGradient id="Cgj" href="#C0" x1="1666" y1="424" x2="1737" y2="269"/><linearGradient id="Chj" href="#C0" x1="1550" y1="293" x2="1836" y2="377"/><linearGradient id="Cij" href="#C0" x1="1694.8" y1="335.3" x2="1728.3" y2="339.9"/><linearGradient id="Cjj" href="#C0" x1="1701.9" y1="328.9" x2="1725.6" y2="331.4"/><linearGradient id="Ckj" href="#C0" x1="1698.1" y1="315.5" x2="1729.4" y2="318.3"/><linearGradient id="Clj" href="#C0" x1="1658.5" y1="288.6" x2="1742.1" y2="298.2"/><linearGradient id="Cmj" href="#C0" x1="1500" y1="208" x2="1778" y2="311"/><linearGradient id="Cnj" href="#C0" x1="1776.2" y1="289.3" x2="1725.1" y2="293.9"/><linearGradient id="Coj" href="#C0" x1="1760.8" y1="308.1" x2="1732.4" y2="311"/><linearGradient id="Cpj" href="#C0" x1="1762.8" y1="319" x2="1733.3" y2="323.2"/><linearGradient id="Cqj" href="#C0" x1="1766.4" y1="322.3" x2="1732.6" y2="329.1"/><linearGradient id="Crj" href="#C0" x1="1563" y1="188" x2="1848" y2="414"/><linearGradient id="Csj" href="#C0" x1="1715.5" y1="326.1" x2="1770.3" y2="336.8"/><linearGradient id="Ctj" href="#C0" x1="1726" y1="325.7" x2="1766.4" y2="330.9"/><linearGradient id="Cuj" href="#C0" x1="1711.8" y1="313" x2="1773.5" y2="319.4"/><linearGradient id="Cvj" href="#C0" x1="1675" y1="304" x2="1545" y2="191"/><linearGradient id="Cwj" href="#C0" x1="1584.4" y1="285.3" x2="1557.2" y2="275.1"/><linearGradient id="Cxj" href="#C0" x1="1595.2" y1="268" x2="1561.8" y2="257.3"/><linearGradient id="Cyj" href="#C0" x1="1611.5" y1="229.3" x2="1575.5" y2="213.7"/><linearGradient id="Czj" href="#C0" x1="1607.3" y1="226.5" x2="1577.5" y2="209.8"/><linearGradient id="CAj" href="#C0" x1="1513" y1="364" x2="1583" y2="203"/><linearGradient id="CBj" href="#C0" x1="1507.9" y1="303.8" x2="1595.2" y2="215.9"/><linearGradient id="CCj" href="#C0" x1="1685" y1="412" x2="1533" y2="199"/><linearGradient id="CDj" href="#C0" x1="1579.4" y1="284.1" x2="1614.1" y2="301.9"/><linearGradient id="CEj" href="#C0" x1="1612.2" y1="282.4" x2="1599.5" y2="279.1"/><linearGradient id="CFj" href="#C0" x1="1613.9" y1="275.3" x2="1601.3" y2="272.4"/><linearGradient id="CGj" href="#C0" x1="1615.5" y1="264.1" x2="1604.1" y2="261.7"/><linearGradient id="CHj" href="#C0" x1="1638" y1="468" x2="1616" y2="212"/><linearGradient id="CIj" href="#C0" x1="1564.2" y1="251" x2="1620.8" y2="219.4"/><linearGradient id="CJj" href="#C0" x1="1580.3" y1="248.2" x2="1625.1" y2="230.2"/><linearGradient id="CKj" href="#C0" x1="1568.5" y1="339" x2="1653.2" y2="248.4"/><linearGradient id="CLj" href="#C0" x1="1786" y1="388" x2="1533" y2="234"/><linearGradient id="CMj" href="#C0" x1="1616.2" y1="296.9" x2="1652.9" y2="305.9"/><linearGradient id="CNj" href="#C0" x1="1631.1" y1="295.6" x2="1645.3" y2="298.3"/><linearGradient id="COj" href="#C0" x1="1640.9" y1="271.5" x2="1646.1" y2="272.2"/><linearGradient id="CPj" href="#C0" x1="1653.7" y1="261.9" x2="1659.2" y2="260.9"/><linearGradient id="CQj" href="#C0" x1="1652.7" y1="300.9" x2="1669.8" y2="295.9"/><linearGradient id="CRj" href="#C0" x1="1649.6" y1="307.8" x2="1673.8" y2="298.8"/><linearGradient id="CSj" href="#C0" x1="1643.4" y1="317.4" x2="1680" y2="298.6"/><linearGradient id="CTj" href="#C0" x1="1625.3" y1="359.4" x2="1694.9" y2="274.3"/><linearGradient id="CUj" href="#C0" x1="1570" y1="245" x2="1741" y2="363"/><linearGradient id="CVj" href="#C0" x1="1671.2" y1="287.2" x2="1681" y2="288.5"/><linearGradient id="CWj" href="#C0" x1="1669.5" y1="276.2" x2="1683.3" y2="277.9"/><linearGradient id="CXj" href="#C0" x1="1663" y1="255.1" x2="1687.1" y2="258.7"/><linearGradient id="CYj" href="#C0" x1="1647.6" y1="245.6" x2="1689.5" y2="253.9"/><linearGradient id="CZj" href="#C0" x1="2406" y1="1426" x2="1632" y2="158"/><linearGradient id="Cak" href="#C0" x1="1684.9" y1="309.4" x2="1710.3" y2="300.5"/><linearGradient id="Cbk" href="#C0" x1="1668.1" y1="328.3" x2="1721.1" y2="296.8"/><linearGradient id="Cck" href="#C0" x1="1959" y1="432" x2="1558" y2="244"/><linearGradient id="Cdk" href="#C0" x1="1685.4" y1="314.4" x2="1726" y2="320.5"/><linearGradient id="Cek" href="#C0" x1="1697.1" y1="307.4" x2="1722.3" y2="310.1"/><linearGradient id="Cfk" href="#C0" x1="1687" y1="289.6" x2="1727.9" y2="293.9"/><linearGradient id="Cgk" href="#C0" x1="3476" y1="2098" x2="1393" y2="-66"/><linearGradient id="Chk" href="#C0" x1="1782.2" y1="272.4" x2="1718.9" y2="280.9"/><linearGradient id="Cik" href="#C0" x1="1752.7" y1="280.8" x2="1725.7" y2="283.3"/><linearGradient id="Cjk" href="#C0" x1="1747.5" y1="302" x2="1730.3" y2="303.7"/><linearGradient id="Ckk" href="#C0" x1="1747.6" y1="309.2" x2="1731.3" y2="311.1"/><linearGradient id="Clk" href="#C0" x1="1748.1" y1="313.6" x2="1731.8" y2="315.9"/><linearGradient id="Cmk" href="#C0" x1="1717.7" y1="322.5" x2="1762.1" y2="333.8"/><linearGradient id="Cnk" href="#C0" x1="1726.8" y1="323.1" x2="1758" y2="328.8"/><linearGradient id="Cok" href="#C0" x1="1731.9" y1="318.7" x2="1756.9" y2="321.9"/><linearGradient id="Cpk" href="#C0" x1="1726.5" y1="308.6" x2="1760.9" y2="312.3"/><linearGradient id="Cqk" href="#C0" x1="1672.2" y1="276.7" x2="1774.2" y2="290.8"/><linearGradient id="Crk" href="#C0" x1="1443" y1="-1393" x2="1810" y2="542"/><linearGradient id="Csk" href="#C0" x1="1808.8" y1="283" x2="1761.6" y2="287.6"/><linearGradient id="Ctk" href="#C0" x1="1791.9" y1="302.6" x2="1768.5" y2="305"/><linearGradient id="Cuk" href="#C0" x1="1789.2" y1="310.9" x2="1770.6" y2="313.4"/><linearGradient id="Cvk" href="#C0" x1="1683" y1="300" x2="1553" y2="185"/><linearGradient id="Cwk" href="#C0" x1="1593.8" y1="274.9" x2="1561.8" y2="262.4"/><linearGradient id="Cxk" href="#C0" x1="1607.1" y1="253.1" x2="1569.2" y2="239.4"/><linearGradient id="Cyk" href="#C0" x1="1615.2" y1="221.8" x2="1582.9" y2="202.4"/><linearGradient id="Czk" href="#C0" x1="1515" y1="351" x2="1589" y2="196"/><linearGradient id="CAk" href="#C0" x1="1523" y1="344" x2="1604" y2="205"/><linearGradient id="CBk" href="#C0" x1="1732" y1="415" x2="1507" y2="184"/><linearGradient id="CCk" href="#C0" x1="1579.4" y1="271" x2="1620.9" y2="293.9"/><linearGradient id="CDk" href="#C0" x1="1617.3" y1="278.6" x2="1600.8" y2="273.6"/><linearGradient id="CEk" href="#C0" x1="1620.1" y1="269.8" x2="1603.3" y2="265.6"/><linearGradient id="CFk" href="#C0" x1="1622.6" y1="255.7" x2="1607" y2="252.2"/><linearGradient id="CGk" href="#C0" x1="1628.9" y1="223" x2="1614.7" y2="219.1"/><linearGradient id="CHk" href="#C0" x1="1698" y1="489" x2="1618" y2="204"/><linearGradient id="CIk" href="#C0" x1="1554" y1="259.5" x2="1623.7" y2="209.7"/><linearGradient id="CJk" href="#C0" x1="1571.8" y1="250.9" x2="1629.6" y2="221.3"/><linearGradient id="CKk" href="#C0" x1="1611" y1="409" x2="1639" y2="207"/><linearGradient id="CLk" href="#C0" x1="1998" y1="465" x2="1425" y2="176"/><linearGradient id="CMk" href="#C0" x1="1617.4" y1="279.2" x2="1652.6" y2="288.5"/><linearGradient id="CNk" href="#C0" x1="1979" y1="679" x2="1627" y2="195"/><linearGradient id="COk" href="#C0" x1="1647" y1="243.2" x2="1659.3" y2="240.6"/><linearGradient id="CPk" href="#C0" x1="1648.3" y1="248.9" x2="1660.6" y2="246.5"/><linearGradient id="CQk" href="#C0" x1="1650.4" y1="276.9" x2="1667.1" y2="273.1"/><linearGradient id="CRk" href="#C0" x1="1648.2" y1="288.1" x2="1671.4" y2="281.3"/><linearGradient id="CSk" href="#C0" x1="1642.2" y1="301.1" x2="1678.4" y2="285.9"/><linearGradient id="CTk" href="#C0" x1="1624.9" y1="335.1" x2="1693.8" y2="273.3"/><linearGradient id="CUk" href="#C0" x1="1505" y1="191" x2="1787" y2="385"/><linearGradient id="CVk" href="#C0" x1="1673.7" y1="274.4" x2="1681.1" y2="275.3"/><linearGradient id="CWk" href="#C0" x1="1672.5" y1="253.8" x2="1684.4" y2="255.4"/><linearGradient id="CXk" href="#C0" x1="1669.3" y1="245.7" x2="1685.9" y2="248.3"/><linearGradient id="CYk" href="#C0" x1="1664.2" y1="240.3" x2="1687.2" y2="244.6"/><linearGradient id="CZk" href="#C0" x1="1653.9" y1="233.6" x2="1688.7" y2="241.8"/><linearGradient id="Cal" href="#C0" x1="1682.7" y1="289.7" x2="1706.6" y2="281.1"/><linearGradient id="Cbl" href="#C0" x1="1667" y1="306.8" x2="1714.8" y2="279.4"/><linearGradient id="Ccl" href="#C0" x1="2074" y1="482" x2="1536" y2="207"/><linearGradient id="Cdl" href="#C0" x1="1682.9" y1="292.6" x2="1721.4" y2="298.7"/><linearGradient id="Cel" href="#C0" x1="1690.7" y1="285.2" x2="1720.5" y2="288.8"/><linearGradient id="Cfl" href="#C0" x1="1659.8" y1="254.6" x2="1728.9" y2="264.9"/><linearGradient id="Cgl" href="#C0" x1="2168" y1="704" x2="1657" y2="198"/><linearGradient id="Chl" href="#C0" x1="1755.9" y1="258.8" x2="1721.4" y2="264.9"/><linearGradient id="Cil" href="#C0" x1="1748.8" y1="263.9" x2="1723.1" y2="267.3"/><linearGradient id="Cjl" href="#C0" x1="1739.8" y1="271" x2="1725.8" y2="272.4"/><linearGradient id="Ckl" href="#C0" x1="1569" y1="229" x2="1852" y2="384"/><linearGradient id="Cll" href="#C0" x1="1722.2" y1="317.2" x2="1755.2" y2="323.6"/><linearGradient id="Cml" href="#C0" x1="1728.8" y1="315" x2="1752.6" y2="318.6"/><linearGradient id="Cnl" href="#C0" x1="1731.8" y1="310.2" x2="1752.2" y2="312.8"/><linearGradient id="Col" href="#C0" x1="1728.8" y1="301.2" x2="1755.1" y2="304"/><linearGradient id="Cpl" href="#C0" x1="1704.6" y1="274.2" x2="1763.1" y2="281.7"/><linearGradient id="Cql" href="#C0" x1="1637.6" y1="243.6" x2="1774.9" y2="280.3"/><linearGradient id="Crl" href="#C0" x1="1802.9" y1="270.4" x2="1756.8" y2="275.6"/><linearGradient id="Csl" href="#C0" x1="1790.3" y1="290.4" x2="1762.9" y2="294.1"/><linearGradient id="Ctl" href="#C0" x1="1788.7" y1="293.5" x2="1763.9" y2="297.7"/><linearGradient id="Cul" href="#C0" x1="745" y1="-103" x2="2180" y2="472"/><linearGradient id="Cvl" href="#C0" x1="1732" y1="304.2" x2="1796.6" y2="312.6"/><linearGradient id="Cwl" href="#C0" x1="1690" y1="296" x2="1560" y2="178"/><linearGradient id="Cxl" href="#C0" x1="1601.9" y1="265.4" x2="1567.3" y2="250.6"/><linearGradient id="Cyl" href="#C0" x1="1616.4" y1="245.5" x2="1574.6" y2="228.9"/><linearGradient id="Czl" href="#C0" x1="1533" y1="362" x2="1594" y2="189"/><linearGradient id="CAl" href="#C0" x1="1553" y1="372" x2="1606" y2="193"/><linearGradient id="CBl" href="#C0" x1="1591.2" y1="265" x2="1619.7" y2="280.8"/><linearGradient id="CCl" href="#C0" x1="1624.2" y1="270.5" x2="1603.9" y2="264.1"/><linearGradient id="CDl" href="#C0" x1="1627.1" y1="258.7" x2="1607.5" y2="253.7"/><linearGradient id="CEl" href="#C0" x1="1637.3" y1="215.1" x2="1619" y2="209.2"/><linearGradient id="CFl" href="#C0" x1="1548.5" y1="270.2" x2="1626.9" y2="201.1"/><linearGradient id="CGl" href="#C0" x1="1564.5" y1="259" x2="1634.8" y2="212.9"/><linearGradient id="CHl" href="#C0" x1="1754" y1="386" x2="1590" y2="206"/><linearGradient id="CIl" href="#C0" x1="1617.7" y1="262.1" x2="1653.9" y2="272.9"/><linearGradient id="CJl" href="#C0" x1="1992" y1="645" x2="1635" y2="194"/><linearGradient id="CKl" href="#C0" x1="1611.1" y1="246.1" x2="1660.4" y2="218.2"/><linearGradient id="CLl" href="#C0" x1="1630.9" y1="233" x2="1660.6" y2="222.6"/><linearGradient id="CMl" href="#C0" x1="1638.4" y1="234.1" x2="1661.6" y2="227.5"/><linearGradient id="CNl" href="#C0" x1="1642.6" y1="235" x2="1661.9" y2="230.4"/><linearGradient id="COl" href="#C0" x1="1645.5" y1="247.7" x2="1665" y2="243.2"/><linearGradient id="CPl" href="#C0" x1="1644.7" y1="270.9" x2="1671.8" y2="263.1"/><linearGradient id="CQl" href="#C0" x1="1636.5" y1="290.9" x2="1681.2" y2="270.9"/><linearGradient id="CRl" href="#C0" x1="1619.4" y1="360" x2="1698.2" y2="241.6"/><linearGradient id="CSl" href="#C0" x1="1558" y1="233" x2="1751" y2="338"/><linearGradient id="CTl" href="#C0" x1="1680.8" y1="279.1" x2="1705.9" y2="268.8"/><linearGradient id="CUl" href="#C0" x1="1663.6" y1="299.7" x2="1714" y2="265.6"/><linearGradient id="CVl" href="#C0" x1="797" y1="-227" x2="2067" y2="483"/><linearGradient id="CWl" href="#C0" x1="1680.3" y1="274.2" x2="1718.8" y2="282.1"/><linearGradient id="CXl" href="#C0" x1="1690.5" y1="273.5" x2="1716.1" y2="277.6"/><linearGradient id="CYl" href="#C0" x1="1691.1" y1="263.9" x2="1717.9" y2="267.6"/><linearGradient id="CZl" href="#C0" x1="2328" y1="753" x2="1654" y2="192"/><linearGradient id="Cam" href="#C0" x1="1732.5" y1="262.9" x2="1726.4" y2="263.7"/><linearGradient id="Cbm" href="#C0" x1="1700.6" y1="327.8" x2="1754.2" y2="291.8"/><linearGradient id="Ccm" href="#C0" x1="784" y1="-161" x2="2323" y2="598"/><linearGradient id="Cdm" href="#C0" x1="1720.4" y1="305.5" x2="1752" y2="311"/><linearGradient id="Cem" href="#C0" x1="1729.2" y1="299.8" x2="1749.4" y2="302.4"/><linearGradient id="Cfm" href="#C0" x1="1727" y1="290.9" x2="1751.8" y2="293.7"/><linearGradient id="Cgm" href="#C0" x1="1706.7" y1="264.2" x2="1759" y2="271"/><linearGradient id="Chm" href="#C0" x1="1657.2" y1="245.3" x2="1768.1" y2="270.1"/><linearGradient id="Cim" href="#C0" x1="1789.2" y1="263.6" x2="1753.9" y2="267.6"/><linearGradient id="Cjm" href="#C0" x1="1785" y1="284.8" x2="1758.5" y2="289.1"/><linearGradient id="Ckm" href="#C0" x1="1467" y1="-5" x2="1884" y2="414"/><linearGradient id="Clm" href="#C0" x1="1735.5" y1="290" x2="1787.2" y2="300.8"/><linearGradient id="Cmm" href="#C0" x1="1744.6" y1="290.7" x2="1785" y2="296.4"/><linearGradient id="Cnm" href="#C0" x1="1716.6" y1="274.1" x2="1793.6" y2="284.3"/><linearGradient id="Com" href="#C0" x1="1699" y1="292" x2="1567" y2="172"/><linearGradient id="Cpm" href="#C0" x1="1612.1" y1="256" x2="1572.6" y2="238.5"/><linearGradient id="Cqm" href="#C0" x1="1629.3" y1="231.9" x2="1583.4" y2="211"/><linearGradient id="Crm" href="#C0" x1="1555" y1="370" x2="1598" y2="181"/><linearGradient id="Csm" href="#C0" x1="1619" y1="389" x2="1600" y2="181"/><linearGradient id="Ctm" href="#C0" x1="1593.2" y1="253.4" x2="1625.7" y2="272.1"/><linearGradient id="Cum" href="#C0" x1="1630.2" y1="263.7" x2="1607.3" y2="255.6"/><linearGradient id="Cvm" href="#C0" x1="1633.8" y1="252.3" x2="1610.8" y2="246"/><linearGradient id="Cwm" href="#C0" x1="1644.9" y1="210.8" x2="1622.3" y2="203.8"/><linearGradient id="Cxm" href="#C0" x1="1645.5" y1="209.2" x2="1623.1" y2="201.3"/><linearGradient id="Cym" href="#C0" x1="1548" y1="277.8" x2="1630.7" y2="193.3"/><linearGradient id="Czm" href="#C0" x1="1559.8" y1="274.8" x2="1640.7" y2="204.6"/><linearGradient id="CAm" href="#C0" x1="1769" y1="389" x2="1592" y2="194"/><linearGradient id="CBm" href="#C0" x1="1611.4" y1="243.5" x2="1658.5" y2="260.6"/><linearGradient id="CCm" href="#C0" x1="1855" y1="527" x2="1648" y2="193"/><linearGradient id="CDm" href="#C0" x1="1611" y1="237.8" x2="1663.1" y2="209.7"/><linearGradient id="CEm" href="#C0" x1="1629.8" y1="226.2" x2="1663.7" y2="214.5"/><linearGradient id="CFm" href="#C0" x1="1637.8" y1="230.4" x2="1665.7" y2="222.7"/><linearGradient id="CGm" href="#C0" x1="1634.8" y1="271.7" x2="1679.8" y2="253.1"/><linearGradient id="CHm" href="#C0" x1="1616" y1="336.8" x2="1698.2" y2="237.5"/><linearGradient id="CIm" href="#C0" x1="1321" y1="82" x2="1899" y2="411"/><linearGradient id="CJm" href="#C0" x1="1793" y1="679" x2="1681" y2="191"/><linearGradient id="CKm" href="#C0" x1="1682.2" y1="268.9" x2="1705.2" y2="259.9"/><linearGradient id="CLm" href="#C0" x1="1672.9" y1="280.9" x2="1710.3" y2="260"/><linearGradient id="CMm" href="#C0" x1="-422" y1="-1838" x2="2526" y2="1086"/><linearGradient id="CNm" href="#C0" x1="1686.5" y1="264.5" x2="1714.6" y2="271.8"/><linearGradient id="COm" href="#C0" x1="1693.5" y1="263.4" x2="1713.4" y2="267.5"/><linearGradient id="CPm" href="#C0" x1="1697.6" y1="258.1" x2="1713.8" y2="260.8"/><linearGradient id="CQm" href="#C0" x1="1695.8" y1="247.9" x2="1716.1" y2="251.1"/><linearGradient id="CRm" href="#C0" x1="1685.5" y1="230.3" x2="1719.7" y2="236.4"/><linearGradient id="CSm" href="#C0" x1="1639.3" y1="211.5" x2="1724.1" y2="235.2"/><linearGradient id="CTm" href="#C0" x1="1713.3" y1="286.9" x2="1739.1" y2="278.1"/><linearGradient id="CUm" href="#C0" x1="1699.6" y1="302.4" x2="1747.4" y2="277"/><linearGradient id="CVm" href="#C0" x1="1740" y1="443" x2="1730" y2="212"/><linearGradient id="CWm" href="#C0" x1="1643.4" y1="267.8" x2="1786.5" y2="308.7"/><linearGradient id="CXm" href="#C0" x1="1719.3" y1="288.1" x2="1749.5" y2="293.1"/><linearGradient id="CYm" href="#C0" x1="1726.2" y1="285.1" x2="1747.5" y2="287.8"/><linearGradient id="CZm" href="#C0" x1="1724" y1="274.5" x2="1750.1" y2="277.5"/><linearGradient id="Can" href="#C0" x1="1702.4" y1="250.6" x2="1756.6" y2="258.4"/><linearGradient id="Cbn" href="#C0" x1="1613" y1="216" x2="1771" y2="262"/><linearGradient id="Ccn" href="#C0" x1="1795" y1="250.2" x2="1748.9" y2="256.9"/><linearGradient id="Cdn" href="#C0" x1="1775.1" y1="257.7" x2="1753.2" y2="260.2"/><linearGradient id="Cen" href="#C0" x1="1773" y1="278.4" x2="1756.9" y2="280.6"/><linearGradient id="Cfn" href="#C0" x1="1743.3" y1="287.6" x2="1779.8" y2="296.8"/><linearGradient id="Cgn" href="#C0" x1="1750.6" y1="287.2" x2="1778.1" y2="292.3"/><linearGradient id="Chn" href="#C0" x1="1749.5" y1="281.7" x2="1779.9" y2="285.7"/><linearGradient id="Cin" href="#C0" x1="1717.9" y1="252.9" x2="1788.1" y2="263.7"/><linearGradient id="Cjn" href="#C0" x1="2294" y1="1907" x2="1722" y2="67"/><linearGradient id="Ckn" href="#C0" x1="1817.9" y1="257.7" x2="1785.1" y2="261.8"/><linearGradient id="Cln" href="#C0" x1="1807.7" y1="276.9" x2="1790.3" y2="279.5"/><linearGradient id="Cmn" href="#C0" x1="1707" y1="287" x2="1574" y2="166"/><linearGradient id="Cnn" href="#C0" x1="1621.7" y1="247.4" x2="1578.3" y2="227.2"/><linearGradient id="Con" href="#C0" x1="1641.4" y1="219.8" x2="1592.4" y2="194.8"/><linearGradient id="Cpn" href="#C0" x1="1612" y1="382" x2="1603" y2="174"/><linearGradient id="Cqn" href="#C0" x1="1637" y1="255.9" x2="1611.1" y2="246.6"/><linearGradient id="Crn" href="#C0" x1="1641.5" y1="242.1" x2="1615.6" y2="234.6"/><linearGradient id="Csn" href="#C0" x1="1653.2" y1="204.1" x2="1627" y2="195"/><linearGradient id="Ctn" href="#C0" x1="1653.5" y1="203" x2="1627.8" y2="192.7"/><linearGradient id="Cun" href="#C0" x1="1552.1" y1="307.6" x2="1634.3" y2="185"/><linearGradient id="Cvn" href="#C0" x1="1559.7" y1="279.8" x2="1644" y2="194.7"/><linearGradient id="Cwn" href="#C0" x1="1764" y1="396" x2="1602" y2="182"/><linearGradient id="Cxn" href="#C0" x1="1607.2" y1="225.7" x2="1662.6" y2="250"/><linearGradient id="Cyn" href="#C0" x1="1658" y1="225.4" x2="1652.9" y2="224.3"/><linearGradient id="Czn" href="#C0" x1="1792" y1="479" x2="1656" y2="189"/><linearGradient id="CAn" href="#C0" x1="1617.4" y1="224.5" x2="1666" y2="202.1"/><linearGradient id="CBn" href="#C0" x1="1631" y1="225.2" x2="1669.2" y2="212.2"/><linearGradient id="CCn" href="#C0" x1="1618.4" y1="287.4" x2="1690.7" y2="236.2"/><linearGradient id="CDn" href="#C0" x1="1694" y1="410" x2="1661" y2="186"/><linearGradient id="CEn" href="#C0" x1="1551" y1="213" x2="1750" y2="305"/><linearGradient id="CFn" href="#C0" x1="1685.7" y1="229.7" x2="1696.6" y2="227.3"/><linearGradient id="CGn" href="#C0" x1="1686.9" y1="246.5" x2="1700.7" y2="243.1"/><linearGradient id="CHn" href="#C0" x1="1685.5" y1="252.6" x2="1702.7" y2="247.8"/><linearGradient id="CIn" href="#C0" x1="1682.4" y1="259.5" x2="1705.5" y2="251.4"/><linearGradient id="CJn" href="#C0" x1="1676.1" y1="269" x2="1709.6" y2="253.1"/><linearGradient id="CKn" href="#C0" x1="1659" y1="298.2" x2="1718.3" y2="245.6"/><linearGradient id="CLn" href="#C0" x1="1544" y1="117" x2="1770" y2="326"/><linearGradient id="CMn" href="#C0" x1="1702.6" y1="243.5" x2="1714" y2="245.4"/><linearGradient id="CNn" href="#C0" x1="1698.6" y1="224.7" x2="1717.6" y2="228.2"/><linearGradient id="COn" href="#C0" x1="1690.3" y1="218.8" x2="1719" y2="225"/><linearGradient id="CPn" href="#C0" x1="2319" y1="995" x2="1682" y2="174"/><linearGradient id="CQn" href="#C0" x1="1720.7" y1="238.5" x2="1727.3" y2="237.2"/><linearGradient id="CRn" href="#C0" x1="1716.8" y1="256.1" x2="1732.2" y2="252.2"/><linearGradient id="CSn" href="#C0" x1="1712.1" y1="263.5" x2="1735.2" y2="256.4"/><linearGradient id="CTn" href="#C0" x1="1703.1" y1="274.2" x2="1740" y2="258.8"/><linearGradient id="CUn" href="#C0" x1="1679.8" y1="309.2" x2="1750.7" y2="251.3"/><linearGradient id="CVn" href="#C0" x1="8472" y1="2997" x2="-1038" y2="-848"/><linearGradient id="CWn" href="#C0" x1="1713.3" y1="269.1" x2="1749.1" y2="275.5"/><linearGradient id="CXn" href="#C0" x1="1722.2" y1="268.5" x2="1746.4" y2="272"/><linearGradient id="CYn" href="#C0" x1="1721.9" y1="259.5" x2="1748.2" y2="262.9"/><linearGradient id="CZn" href="#C0" x1="4045" y1="2209" x2="1425" y2="-33"/><linearGradient id="Cao" href="#C0" x1="1776.8" y1="240.9" x2="1750" y2="245.4"/><linearGradient id="Cbo" href="#C0" x1="1772.1" y1="245.5" x2="1751.3" y2="248.3"/><linearGradient id="Cco" href="#C0" x1="1765.5" y1="250.4" x2="1753.2" y2="251.9"/><linearGradient id="Cdo" href="#C0" x1="1544" y1="101" x2="1869" y2="380"/><linearGradient id="Ceo" href="#C0" x1="1746.7" y1="283.5" x2="1776.2" y2="290.3"/><linearGradient id="Cfo" href="#C0" x1="1752.5" y1="282.9" x2="1774.5" y2="286.9"/><linearGradient id="Cgo" href="#C0" x1="1755.8" y1="276.8" x2="1774.9" y2="279.4"/><linearGradient id="Cho" href="#C0" x1="1749.9" y1="264.9" x2="1778.4" y2="268.6"/><linearGradient id="Cio" href="#C0" x1="1684.3" y1="224" x2="1789.7" y2="252.8"/><linearGradient id="Cjo" href="#C0" x1="1817.4" y1="246.1" x2="1781.5" y2="251.2"/><linearGradient id="Cko" href="#C0" x1="1807.8" y1="262" x2="1786" y2="265.9"/><linearGradient id="Clo" href="#C0" x1="-6502" y1="-3764" x2="4196" y2="1448"/><linearGradient id="Cmo" href="#C0" x1="1748.2" y1="271.4" x2="1813.1" y2="280.8"/><linearGradient id="Cno" href="#C0" x1="1713" y1="284" x2="1581" y2="160"/><linearGradient id="Coo" href="#C0" x1="1630.8" y1="239.7" x2="1584.2" y2="216.5"/><linearGradient id="Cpo" href="#C0" x1="1652.2" y1="209.7" x2="1601.4" y2="180.7"/><linearGradient id="Cqo" href="#C0" x1="1650" y1="374" x2="1608" y2="168"/><linearGradient id="Cro" href="#C0" x1="1643.2" y1="248.8" x2="1615.1" y2="238.1"/><linearGradient id="Cso" href="#C0" x1="1649.1" y1="233.2" x2="1620.4" y2="224.4"/><linearGradient id="Cto" href="#C0" x1="1660.9" y1="198.6" x2="1631.5" y2="187.7"/><linearGradient id="Cuo" href="#C0" x1="1661.2" y1="197.8" x2="1632.4" y2="185.4"/><linearGradient id="Cvo" href="#C0" x1="1554" y1="284.2" x2="1639.3" y2="178.6"/><linearGradient id="Cwo" href="#C0" x1="1581" y1="338" x2="1652" y2="184"/><linearGradient id="Cxo" href="#C0" x1="1607.7" y1="210.6" x2="1665.6" y2="240.4"/><linearGradient id="Cyo" href="#C0" x1="1663.8" y1="218.7" x2="1655.1" y2="216.5"/><linearGradient id="Czo" href="#C0" x1="1734" y1="444" x2="1662" y2="183"/><linearGradient id="CAo" href="#C0" x1="1604.4" y1="230.5" x2="1668.6" y2="191.1"/><linearGradient id="CBo" href="#C0" x1="1623.7" y1="223.2" x2="1673.1" y2="202.4"/><linearGradient id="CCo" href="#C0" x1="1611.8" y1="324" x2="1695.9" y2="209.4"/><linearGradient id="CDo" href="#C0" x1="1774" y1="383" x2="1626" y2="189"/><linearGradient id="CEo" href="#C0" x1="1595.1" y1="223.2" x2="1722.9" y2="276.9"/><linearGradient id="CFo" href="#C0" x1="1907" y1="639" x2="1677" y2="176"/><linearGradient id="CGo" href="#C0" x1="1676.1" y1="216.5" x2="1696.9" y2="210.2"/><linearGradient id="CHo" href="#C0" x1="1681.8" y1="221.3" x2="1698.5" y2="217.3"/><linearGradient id="CIo" href="#C0" x1="1680.6" y1="250.1" x2="1706.8" y2="241.3"/><linearGradient id="CJo" href="#C0" x1="1670.6" y1="266.6" x2="1713.6" y2="244.1"/><linearGradient id="CKo" href="#C0" x1="2997" y1="2153" x2="1152" y2="-553"/><linearGradient id="CLo" href="#C0" x1="1708.4" y1="232.6" x2="1714.6" y2="233.7"/><linearGradient id="CMo" href="#C0" x1="1697.3" y1="209" x2="1719.4" y2="214.4"/><linearGradient id="CNo" href="#C0" x1="1674.2" y1="195.7" x2="1721.4" y2="212.3"/><linearGradient id="COo" href="#C0" x1="1715.5" y1="226.1" x2="1727.5" y2="223.1"/><linearGradient id="CPo" href="#C0" x1="1711.4" y1="242.7" x2="1732.4" y2="236.3"/><linearGradient id="CQo" href="#C0" x1="1700.1" y1="257.2" x2="1737.7" y2="240.8"/><linearGradient id="CRo" href="#C0" x1="1670.3" y1="320.2" x2="1749.4" y2="229.3"/><linearGradient id="CSo" href="#C0" x1="1024" y1="-34" x2="1974" y2="354"/><linearGradient id="CTo" href="#C0" x1="1710.1" y1="250.7" x2="1747.8" y2="258.1"/><linearGradient id="CUo" href="#C0" x1="1720.6" y1="251" x2="1745.2" y2="254.9"/><linearGradient id="CVo" href="#C0" x1="1720.4" y1="240.7" x2="1747.2" y2="244.7"/><linearGradient id="CWo" href="#C0" x1="3609" y1="1571" x2="1540" y2="80"/><linearGradient id="CXo" href="#C0" x1="1498" y1="128" x2="1893" y2="356"/><linearGradient id="CYo" href="#C0" x1="1746.5" y1="276" x2="1774.4" y2="281.8"/><linearGradient id="CZo" href="#C0" x1="1753.4" y1="273.7" x2="1772.6" y2="276.8"/><linearGradient id="Cap" href="#C0" x1="1755.8" y1="268.5" x2="1773" y2="270.8"/><linearGradient id="Cbp" href="#C0" x1="1751.8" y1="256.2" x2="1776.1" y2="259.4"/><linearGradient id="Ccp" href="#C0" x1="1738.2" y1="239.3" x2="1780.3" y2="245.8"/><linearGradient id="Cdp" href="#C0" x1="1708.5" y1="226.9" x2="1784.8" y2="244.5"/><linearGradient id="Cep" href="#C0" x1="1837.9" y1="230.1" x2="1774.8" y2="241.8"/><linearGradient id="Cfp" href="#C0" x1="1810" y1="239.7" x2="1779.1" y2="244"/><linearGradient id="Cgp" href="#C0" x1="1805.8" y1="254.1" x2="1782.5" y2="258.2"/><linearGradient id="Chp" href="#C0" x1="1711.3" y1="238.4" x2="1816.3" y2="278.4"/><linearGradient id="Cip" href="#C0" x1="1755.4" y1="258.5" x2="1806.4" y2="266.5"/><linearGradient id="Cjp" href="#C0" x1="2185" y1="712" x2="1767" y2="199"/><linearGradient id="Ckp" href="#C0" x1="1861.2" y1="239.6" x2="1804.9" y2="249.7"/><linearGradient id="Clp" href="#C0" x1="1721" y1="280" x2="1588" y2="154"/><linearGradient id="Cmp" href="#C0" x1="1639.7" y1="233.1" x2="1590.2" y2="206.1"/><linearGradient id="Cnp" href="#C0" x1="1670" y1="363" x2="1613" y2="162"/><linearGradient id="Cop" href="#C0" x1="1650.1" y1="240.9" x2="1619.7" y2="228.8"/><linearGradient id="Cpp" href="#C0" x1="1656.5" y1="225.5" x2="1625" y2="215.2"/><linearGradient id="Cqp" href="#C0" x1="1668" y1="192.2" x2="1637.6" y2="177.2"/><linearGradient id="Crp" href="#C0" x1="1486" y1="17" x2="1644" y2="179"/><linearGradient id="Csp" href="#C0" x1="1566" y1="312" x2="1644" y2="171"/><linearGradient id="Ctp" href="#C0" x1="1614.9" y1="200.4" x2="1667.2" y2="230.9"/><linearGradient id="Cup" href="#C0" x1="1669.7" y1="214.6" x2="1657" y2="210.9"/><linearGradient id="Cvp" href="#C0" x1="1673" y1="201.6" x2="1660.7" y2="198.1"/><linearGradient id="Cwp" href="#C0" x1="1595.3" y1="242.2" x2="1671.4" y2="181.6"/><linearGradient id="Cxp" href="#C0" x1="1615.4" y1="226.9" x2="1677.7" y2="193.4"/><linearGradient id="Cyp" href="#C0" x1="1669" y1="385" x2="1680" y2="177"/><linearGradient id="Czp" href="#C0" x1="1614.1" y1="217.6" x2="1712.9" y2="257.5"/><linearGradient id="CAp" href="#C0" x1="1945" y1="611" x2="1678" y2="171"/><linearGradient id="CBp" href="#C0" x1="1656.4" y1="218.6" x2="1699.2" y2="197.5"/><linearGradient id="CCp" href="#C0" x1="1671.7" y1="211" x2="1699.6" y2="201.8"/><linearGradient id="CDp" href="#C0" x1="1678.1" y1="212.6" x2="1700.6" y2="206.8"/><linearGradient id="CEp" href="#C0" x1="1678.3" y1="242.7" x2="1709.6" y2="232.1"/><linearGradient id="CFp" href="#C0" x1="1668.1" y1="260.9" x2="1716.8" y2="235.2"/><linearGradient id="CGp" href="#C0" x1="2010" y1="700" x2="1572" y2="52"/><linearGradient id="CHp" href="#C0" x1="1912" y1="724" x2="1711" y2="177"/><linearGradient id="CIp" href="#C0" x1="1712.4" y1="215.8" x2="1727.8" y2="211.4"/><linearGradient id="CJp" href="#C0" x1="1708" y1="234.4" x2="1733.5" y2="225.4"/><linearGradient id="CKp" href="#C0" x1="1694" y1="252.6" x2="1739.2" y2="228.3"/><linearGradient id="CLp" href="#C0" x1="2108" y1="520" x2="1634" y2="164"/><linearGradient id="CMp" href="#C0" x1="1711.5" y1="236.2" x2="1745.7" y2="243.7"/><linearGradient id="CNp" href="#C0" x1="1721.2" y1="234.2" x2="1744.7" y2="238.3"/><linearGradient id="COp" href="#C0" x1="17005" y1="10655" x2="418" y2="-692"/><linearGradient id="CPp" href="#C0" x1="1728.3" y1="278.2" x2="1772" y2="255.8"/><linearGradient id="CQp" href="#C0" x1="2801" y1="880" x2="1303" y2="-4"/><linearGradient id="CRp" href="#C0" x1="1745.8" y1="264" x2="1773.4" y2="269.3"/><linearGradient id="CSp" href="#C0" x1="1752.4" y1="261.2" x2="1772" y2="264.4"/><linearGradient id="CTp" href="#C0" x1="1754.9" y1="258" x2="1771.9" y2="260.3"/><linearGradient id="CUp" href="#C0" x1="1751" y1="245.9" x2="1774.9" y2="249.1"/><linearGradient id="CVp" href="#C0" x1="1715.1" y1="221" x2="1782.4" y2="235.5"/><linearGradient id="CWp" href="#C0" x1="1812.4" y1="227.9" x2="1775.7" y2="234.1"/><linearGradient id="CXp" href="#C0" x1="1799.1" y1="234.9" x2="1778.5" y2="237.7"/><linearGradient id="CYp" href="#C0" x1="1764.2" y1="255.4" x2="1800.2" y2="265.2"/><linearGradient id="CZp" href="#C0" x1="1771.7" y1="255.5" x2="1799.2" y2="261.1"/><linearGradient id="Caq" href="#C0" x1="1768.3" y1="251.4" x2="1801.2" y2="256.6"/><linearGradient id="Cbq" href="#C0" x1="1731.3" y1="222.2" x2="1808.4" y2="237.4"/><linearGradient id="Ccq" href="#C0" x1="2130" y1="1101" x2="1775" y2="159"/><linearGradient id="Cdq" href="#C0" x1="1849.4" y1="228.6" x2="1804.7" y2="237"/><linearGradient id="Ceq" href="#C0" x1="1831.9" y1="236.4" x2="1807.4" y2="240.1"/><linearGradient id="Cfq" href="#C0" x1="1729" y1="276" x2="1595" y2="148"/><linearGradient id="Cgq" href="#C0" x1="1648.5" y1="225.5" x2="1597.1" y2="195.9"/><linearGradient id="Chq" href="#C0" x1="1690" y1="350" x2="1619" y2="155"/><linearGradient id="Ciq" href="#C0" x1="1658.1" y1="231.9" x2="1624.7" y2="219"/><linearGradient id="Cjq" href="#C0" x1="1666.7" y1="210.1" x2="1632.7" y2="198.4"/><linearGradient id="Ckq" href="#C0" x1="1674.2" y1="186.9" x2="1642.8" y2="169.8"/><linearGradient id="Clq" href="#C0" x1="1584" y1="330" x2="1648" y2="164"/><linearGradient id="Cmq" href="#C0" x1="1615.3" y1="186.5" x2="1672.1" y2="224"/><linearGradient id="Cnq" href="#C0" x1="1676.1" y1="210.6" x2="1659.2" y2="205.1"/><linearGradient id="Coq" href="#C0" x1="1679.6" y1="198" x2="1663.2" y2="193"/><linearGradient id="Cpq" href="#C0" x1="1590.2" y1="276" x2="1673.9" y2="172.2"/><linearGradient id="Cqq" href="#C0" x1="1605.8" y1="237.5" x2="1681.7" y2="182.9"/><linearGradient id="Crq" href="#C0" x1="1759" y1="373" x2="1656" y2="172"/><linearGradient id="Csq" href="#C0" x1="1627.3" y1="208.5" x2="1708.3" y2="241.1"/><linearGradient id="Ctq" href="#C0" x1="1769" y1="454" x2="1693" y2="174"/><linearGradient id="Cuq" href="#C0" x1="1651.3" y1="216.2" x2="1702.2" y2="189"/><linearGradient id="Cvq" href="#C0" x1="1669.9" y1="204.7" x2="1702.6" y2="193.7"/><linearGradient id="Cwq" href="#C0" x1="1676.3" y1="209.8" x2="1704.6" y2="201.7"/><linearGradient id="Cxq" href="#C0" x1="1671.1" y1="242.6" x2="1715.5" y2="223.4"/><linearGradient id="Cyq" href="#C0" x1="1651.3" y1="321.3" x2="1729.1" y2="203.7"/><linearGradient id="Czq" href="#C0" x1="1621" y1="186" x2="1750" y2="272"/><linearGradient id="CAq" href="#C0" x1="1983" y1="813" x2="1711" y2="166"/><linearGradient id="CBq" href="#C0" x1="1706.1" y1="205.9" x2="1727.5" y2="197.9"/><linearGradient id="CCq" href="#C0" x1="1710.9" y1="208.8" x2="1729.1" y2="203.3"/><linearGradient id="CDq" href="#C0" x1="1706.9" y1="227.7" x2="1735" y2="217"/><linearGradient id="CEq" href="#C0" x1="1692" y1="248.6" x2="1740.8" y2="218.9"/><linearGradient id="CFq" href="#C0" x1="-1638" y1="-2470" x2="2587" y2="912"/><linearGradient id="CGq" href="#C0" x1="1719.4" y1="225.4" x2="1743.7" y2="231.4"/><linearGradient id="CHq" href="#C0" x1="1725.7" y1="220.7" x2="1744.3" y2="224.3"/><linearGradient id="CIq" href="#C0" x1="1688.8" y1="188.9" x2="1750.8" y2="207.1"/><linearGradient id="CJq" href="#C0" x1="1747.2" y1="221.7" x2="1755.9" y2="219.9"/><linearGradient id="CKq" href="#C0" x1="1745.9" y1="233.3" x2="1758.8" y2="230.5"/><linearGradient id="CLq" href="#C0" x1="1742.6" y1="240.3" x2="1761.2" y2="235.4"/><linearGradient id="CMq" href="#C0" x1="1735.9" y1="249.1" x2="1764.8" y2="239.2"/><linearGradient id="CNq" href="#C0" x1="1715.3" y1="273.3" x2="1773.7" y2="236.8"/><linearGradient id="COq" href="#C0" x1="2963" y1="849" x2="1303" y2="24"/><linearGradient id="CPq" href="#C0" x1="1744.4" y1="249.3" x2="1773" y2="254.8"/><linearGradient id="CQq" href="#C0" x1="1753.5" y1="245.4" x2="1771.4" y2="248"/><linearGradient id="CRq" href="#C0" x1="1751.2" y1="234.3" x2="1773.8" y2="237.5"/><linearGradient id="CSq" href="#C0" x1="1718.9" y1="212.4" x2="1780.4" y2="225.6"/><linearGradient id="CTq" href="#C0" x1="1798.6" y1="221" x2="1776.3" y2="225.1"/><linearGradient id="CUq" href="#C0" x1="1794.6" y1="225.5" x2="1777.5" y2="228"/><linearGradient id="CVq" href="#C0" x1="1790.6" y1="230.1" x2="1778.8" y2="231.7"/><linearGradient id="CWq" href="#C0" x1="1773.9" y1="252.8" x2="1796.7" y2="257.9"/><linearGradient id="CXq" href="#C0" x1="1777.3" y1="251.1" x2="1796.4" y2="254.6"/><linearGradient id="CYq" href="#C0" x1="1775.4" y1="245.7" x2="1798.2" y2="249.2"/><linearGradient id="CZq" href="#C0" x1="1759.5" y1="222.8" x2="1803.4" y2="230.6"/><linearGradient id="Car" href="#C0" x1="1718.8" y1="203" x2="1808" y2="228.5"/><linearGradient id="Cbr" href="#C0" x1="1852.9" y1="215.3" x2="1802" y2="226.6"/><linearGradient id="Ccr" href="#C0" x1="1832.6" y1="224.3" x2="1804.8" y2="229.2"/><linearGradient id="Cdr" href="#C0" x1="866" y1="-185" x2="2032" y2="350"/><linearGradient id="Cer" href="#C0" x1="1765.1" y1="242.1" x2="1830.7" y2="252.8"/>
<g shape-rendering="crispEdges" stroke="none">
<path d="M1504.3,478l2.3 2.6 2.3 2.2 2.3 2 2.8 2.1 5.9 3.7 7.4 3.6 7.1-27-.9 .4-3.2 1.1-2.2 .4-1.8 .2-1.4 0-3.6-.5-3.2-1.1-3.2-1.7-3.2-2.6z" fill="url(#Cc)"/><path d="M1496.8,466.4l3.8 6.5 3.7 5.1 7.4-14.6-1.4-1.4-1.9-2.1-1.8-2.5-2.4-3.8z" fill="url(#Cb)"/><path d="M1527.3,494.2l10.5 4.8 6.9-40-.4 .5-1.4 1.4-1.3 1.3-1.4 1.2-1.8 1.4-2.2 1.4-1.8 1z" fill="url(#Cd)"/><path d="M1506.6,457.4l1.8 2.5 1.9 2.1 7.3-16.6-2.3-1.7-1.4-1.3z" fill="url(#CC)"/><path d="M1510.3,462l1.4 1.4 3.2 2.6 3.2 1.7 3.2 1.1 3.6 .5 7-29.7-.4 .6-.4 .7-2.3 2.6-1.3 1.1-1.3 .9-1.8 .8-1.4 .3-1.8 0-1.8-.4-1.8-.8z" fill="url(#CD)"/><path d="M1492.5,456.8l1.9 4.6 2.4 5 7.4-12.8-1.8-3.5-1.9-4.1-.5-1.1z" fill="url(#Cb)"/><path d="M1500.5,446l1.9 4.1 1.8 3.5 2.4 3.8 7.3-15-.9-1.1-2.8-4-2.3-4.3z" fill="url(#CC)"/><path d="M1537.8,499l6.9 3.2 6.7-53.7-1.3 2.6-1.4 2.3-1.3 2.1-1.3 1.8-.5 .6-.9 1.1z" fill="url(#Cd)"/><path d="M1513,441.3l.9 1.1 1.4 1.3 7.3-18.3-1.8-.6-.5-.2z" fill="url(#Cgb)"/><path d="M1524.9,469.3l1.4 0 7-31.9-1.4 2.2z" fill="url(#CD)"/><path d="M1515.3,443.7l2.3 1.7 1.8 .8 1.8 .4 1.8 0 1.4-.3 7-28.4-.8 1.6-2.2 3.2-1.8 1.7-1.8 .9-.9 .2-1.3-.1z" fill="url(#Chb)"/><path d="M1506,428.8l1.9 4.2 2.3 4.3 2.8 4 7.3-16.7-2.3-2-2.3-3-2.3-4.2z" fill="url(#Cgb)"/><path d="M1489.6,448.5l2.9 8.3 7.5-11.9-2.9-7.8z" fill="url(#Cb)"/><path d="M1526.3,469.3l1.8-.2 2.2-.4 6.9-40.2-.5 1.2-.8 2.2-1.3 2.9-1.3 2.6z" fill="url(#CE)"/><path d="M1497.1,437.1l2.9 7.8 .5 1.1 7.4-13-1.9-4.2-1.5-3.7z" fill="url(#CC)"/><path d="M1544.7,502.2l4.2 1.8 6.5-65.6-.9 2.6-1.7 4.5-1.4 3z" fill="url(#Cd)"/><path d="M1515.7,419.6l2.3 3 2.3 2 .5 .2 7.2-19.9-.9 .4-.9 0-1.4-.3-1.8-1.2z" fill="url(#CSb)"/><path d="M1524.4,446.3l1.8-.8 7-31.7-.5 1.1-1.3 3z" fill="url(#Chb)"/><path d="M1487.1,440l2.5 8.5 7.5-11.4-2.5-7.9z" fill="url(#Cb)"/><path d="M1520.8,424.8l1.8 .6 1.3 .1 .9-.2 1.8-.9 7-27.8-.4 1.1-1.3 2.7-.4 .8-1.3 1.9-.9 .9-1.3 .9z" fill="url(#CTb)"/><path d="M1502.6,419.3l1.9 5.8 1.5 3.7 7.4-13.4-2.9-6.9-.5-1.3z" fill="url(#Cgb)"/><path d="M1530.3,468.7l3.2-1.1 6.7-48.8-.4 1.6-.9 2.9-.4 1.4-.9 2.6-.4 1.2z" fill="url(#CE)"/><path d="M1494.6,429.2l2.5 7.9 7.4-12-1.9-5.8-.5-1.5z" fill="url(#CC)"/><path d="M1510.5,408.5l2.9 6.9 2.3 4.2 7.3-15.8-1.4-1.6-.9-1.3-1.9-3.4-.9-2.1z" fill="url(#CSb)"/><path d="M1548.9,504l3.2 1.3 6.4-78-1.3 5.2-1.8 5.9z" fill="url(#Ce)"/><path d="M1526.2,445.5l1.3-.9 1.3-1.1 6.9-37.9-.8 3.1-.9 2.7-.8 2.4z" fill="url(#Cib)"/><path d="M1518.8,397.5l1.9 3.4 .9 1.3 1.4 1.6 1.8 1.2 1.4 .3 7.1-21-.9 .9-.9 .6-1.3 .3-1.3-.4-1.4-1-1.4-1.7z" fill="url(#CHc)"/><path d="M1526.6,424.4l1.8-1.7 6.9-31.3-.4 1.4-.4 1.4-.9 2.4z" fill="url(#CTb)"/><path d="M1485.1,432.1l2 7.9 7.5-10.8-2-7.6z" fill="url(#Cb)"/><path d="M1492.6,421.6l2 7.6 7.5-11.4-1.9-7.1z" fill="url(#CC)"/><path d="M1500.2,410.7l1.9 7.1 .5 1.5 7.4-12.1-2.4-7.9z" fill="url(#Cgb)"/><path d="M1533.5,467.6l.9-.4 1.8-1 6.5-58-.8 3.8-.9 3.5-.4 1.7-.4 1.6z" fill="url(#CE)"/><path d="M1507.6,399.3l2.4 7.9 .5 1.3 7.4-13.1-1.4-3.6-1.5-4.4z" fill="url(#CSb)"/><path d="M1552.1,505.3l2.8 1 6.2-91.5-2.6 12.5z" fill="url(#Ce)"/><path d="M1526.2,405.3l.9 0 .9-.4 1.3-.9 .9-.9 7-27.2-.4 1.3-1.3 3.4-1.3 2.5-.9 1.2z" fill="url(#CIc)"/><path d="M1528.8,443.5l2.3-2.6 6.7-44.3-.4 2-.8 3.7-.9 3.3z" fill="url(#Cib)"/><path d="M1515,387.4l1.5 4.4 1.4 3.6 .9 2.1 7.3-14.5-1.9-3.4-1.8-4.6z" fill="url(#CHc)"/><path d="M1589.5,451.6l1 2.5 1.4 3.4 .9 1.9 1.5 2.6 1.4 2.3 .4 .6 1.5 1.8 1.4 1.5 1.8 1.6 7.2-33-1 2.4-.9 2.2-.9 1.9-.5 .9-.9 1.5-1.4 2-.4 .5-1.4 1.3-1.4 .9-.4 .2-1.9 .4z" fill="url(#Cxb)"/><path d="M1492.1,419.6l.5 2 7.6-10.9-.5-1.9z" fill="url(#CB)"/><path d="M1586.6,442.6l2.4 7.7 .5 1.3 7.4-.6-1.4-.1-1.4-.5z" fill="url(#Cwb)"/><path d="M1528.4,422.7l2.2-3.2 6.8-36.7-.8 3.7-.4 1.7-.9 3.2z" fill="url(#CUb)"/><path d="M1522.4,375l1.8 4.6 1.9 3.4 1.4 1.7 1.4 1 1.3 .4 1.3-.3 7.2-21.5-.9 1.5-.9 1.1-.9 .6-.9 .3-.9-.1-.9-.4-.9-.8-.9-1.2-1.8-3.4z" fill="url(#Cud)"/><path d="M1483.5,425.4l1.6 6.7 7.5-10.5-.5-2-1-4.4z" fill="url(#Ca)"/><path d="M1531.1,440.9l.4-.7 6.7-45.6-.4 2z" fill="url(#Cib)"/><path d="M1583.3,432.6l.5 1.4 1.4 3.7 .5 1.1 1.4 3.1 1.4 2.5 2.4 3.3 .4 .5 1 .9 1.3 1 7.1-37.3-.9 2.7-.9 2.3-.5 1-.9 1.9-1.4 2.1-.4 .6-1.4 1.3-.9 .5-.9 .3-1.4 0-.5-.1z" fill="url(#Cic)"/><path d="M1506.1,393.7l1.5 5.6 7.4-11.9-1.4-5z" fill="url(#CRb)"/><path d="M1498.1,402.5l1.6 6.3 .5 1.9 7.4-11.4-1.5-5.6-.5-2z" fill="url(#Cfb)"/><path d="M1536.2,466.2l2.2-1.4 6.4-67.4-.4 2.3-.8 4.4-.9 4.1z" fill="url(#CF)"/><path d="M1490.6,412.9l.5 2.3 1 4.4 7.6-10.8-1.6-6.3z" fill="url(#CB)"/><path d="M1530.2,403.1l1.3-1.9 7-29.9-.9 3.2-.4 1.4z" fill="url(#CIc)"/><path d="M1584.7,435.1l1.9 7.5 7.5 7.8-.5-.3-1.3-1z" fill="url(#Cvb)"/><path d="M1606.5,468.2l1.5 3.6 1.4 3.3 7.3-7.4-.4 .4-1.4 1.1-1 .7z" fill="#6e90f2db"/><path d="M1554.9,506.3l2.3 .7 6-105.4-2.1 13.2z" fill="url(#Ce)"/><path d="M1513.6,382.4l1.4 5 7.4-12.4-1.5-4.4z" fill="url(#CGc)"/><path d="M1648.7,503.8l1.9 5.5 2.4 5.8 7.3-14-2.4 3.8-2 2.3z" fill="#5a78e4db"/><path d="M1580.4,422.9l1 3.5 .9 3.3 1 2.9 7.3-7.2-1.4-.7-1.4-1.2z" fill="url(#Chc)"/><path d="M1531.5,385.8l.9-.6 .9-.9 .9-1.2 7-25.8-.4 1.4-1.3 3.7-.8 1.9z" fill="url(#Cvd)"/><path d="M1646.3,495.7l2.4 8.1 7.2 3.4-1.9 1.8-.4 .4z" fill="#5d7ce6db"/><path d="M1609.4,475.1l1.9 4 2.4 4.5 .5 .8 1.9 3.2 1.9 3 1.9 2.7 1.9 2.6 .4 .6 7.2-51.1-2.8 7.3-2.9 5.7-.9 1.6-1.9 2.9-1.4 1.8-1.4 1.6-1.4 1.4z" fill="url(#CS)"/><path d="M1600.8,469.8l1 .6 1.4 .7 1.4 .5 7-47.6-1.4 5.4-.9 3.2-.4 1.5-.9 2.7z" fill="url(#Cyb)"/><path d="M1602.2,455.3l3.4 10.4 .9 2.5 7.4 1.7-.4 .3-1.5 .7-.9 .4-1.4 .4z" fill="#7295f4db"/><path d="M1530.6,419.5l.8-1.6 6.9-39.3-.9 4.2z" fill="url(#CUb)"/><path d="M1531.5,440.2l.4-.6 1.4-2.2 6.6-52.1-.4 2.5-.8 4.6-.5 2.2z" fill="url(#Cjb)"/><path d="M1531.5,401.2l.4-.8 7-30.9-.4 1.8z" fill="#a2c1ffdb"/><path d="M1583.7,430.8l1 4.3 7.6 14-1-.9z" fill="#81a4fbdb"/><path d="M1529.7,361.9l1.8 3.4 .9 1.2 .9 .8 .9 .4 .9 .1 .9-.3 .9-.6 7.1-21.3-.8 1.9-.9 1.4-1.3 1.3-.5 .2-.9 .1-1.3-.7-1.4-1.6z" fill="url(#Cke)"/><path d="M1653,515.1l3.4 6.7 3.8 6 7.3-45.7-.4 1.7-3 8.9-1.4 3.5-1.9 4.1-.5 .8z" fill="url(#Cv)"/><path d="M1520,367.2l.9 3.4 1.5 4.4 7.3-13.1-2.4-6.4z" fill="url(#Ctd)"/><path d="M1644.4,487.9l1.9 7.8 7.3 13.7-1.5 1-.5 .2z" fill="url(#Cu)"/><path d="M1482,417.9l1.5 7.5 7.6-10.2-.5-2.3-1-4.9z" fill="url(#Ca)"/><path d="M1583.2,428.5l.5 2.3 7.6 17.4-.4-.5z" fill="#8badfddb"/><path d="M1504.1,385.1l1.5 6.6 .5 2 7.5-11.3-2-7.9z" fill="url(#CRb)"/><path d="M1600.3,448.2l1.4 5.4 .5 1.7 7.5 16.4-.5 .1-1.4 .2z" fill="url(#CR)"/><path d="M1496.6,395.4l1.5 7.1 7.5-10.8-1.5-6.6z" fill="url(#Cfb)"/><path d="M1531.9,400.4l1.3-2.7 6.9-34.2-.8 4.1-.4 1.9z" fill="url(#CJc)"/><path d="M1593.6,450.1l.5 .3 1.4 .5 1.4 .1 7-50.8-.5 2.1-.9 4-.9 3.4-.9 3.1z" fill="url(#Cjc)"/><path d="M1511.6,374.5l2 7.9 7.3-11.8-.9-3.4-1-3.7z" fill="url(#CGc)"/><path d="M1557.2,507l.9 .3 6-111.7-.9 6z" fill="url(#Ce)"/><path d="M1489.1,405.5l.5 2.5 1 4.9 7.5-10.4-1.5-7.1z" fill="url(#CB)"/><path d="M1538.4,464.8l1.8-1.4 6.3-76-.4 2.6-.8 5-.5 2.4z" fill="url(#CF)"/><path d="M1531.4,417.9l1.3-3 6.8-43.4-.4 2.5-.8 4.6z" fill="url(#CVb)"/><path d="M1577.5,410.3l.5 2.3 1 4.4 .9 4 .5 1.9 7.4 .6-1.4-1.8-.9-1.4-.5-.8z" fill="url(#Chc)"/><path d="M1534.2,383.1l1.3-2.5 7-28.5-.4 1.8-.9 3.4z" fill="#b1cbfcdb"/><path d="M1526.3,352.2l1 3.3 2.4 6.4 7.2-13.7-1.9-3.8-1.4-3.9z" fill="url(#Cje)"/><path d="M1641.5,473.8l2.9 14.1 7.2 22.7-1.4 .7-1.4 .5z" fill="url(#Ct)"/><path d="M1536.9,366.9l.9-1.1 7.1-22.7-.5 1.3-.4 1.2z" fill="#b9d0f9db"/><path d="M1580.7,415.5l2.5 13 7.7 19.2-2.4-3.3z" fill="#8badfddb"/><path d="M1622.2,496.5l1.5 1.7 .9 1.2 7.1-61.5-1.4 4.7-.9 2.8z" fill="url(#CS)"/><path d="M1597.3,435.3l3 12.9 7.5 23.8-.4 0-.5 0-1.9-.2z" fill="url(#CQ)"/><path d="M1533.3,437.4l1.3-2.6 6.5-57.5-.4 2.8-.4 2.7-.4 2.5z" fill="url(#Cjb)"/><path d="M1604.6,471.6l.4 .2 1.9 .2 7-58.8-.5 2.4-1.8 8.4z" fill="url(#Cyb)"/><path d="M1536.9,348.2l1.4 1.6 1.3 .7 .9-.1 .5-.2 1.3-1.3 7.1-20.5-.9 2.2-1.3 2.3-.4 .5-.9 .6-.9 .1-.9-.4z" fill="url(#Chf)"/><path d="M1577.4,398l.5 1.8 1 3.6 .9 3.2 1 2.9 1.4 3.9 .5 1.2 1.9 4.1 .4 .8 .5 .8 7.1-25-.4 .5-.9 1-1 .6-1.3 .4-1-.2-.9-.4-.9-.6-1.4-1.5z" fill="url(#CSc)"/><path d="M1518,359.4l1 4.1 1 3.7 7.3-11.7-1-3.3-.9-3.7z" fill="url(#Ctd)"/><path d="M1660.2,527.8l2.9 3.7 7.4-61.5-.5 2.2-2.5 9.9z" fill="url(#Cv)"/><path d="M1585.5,420.3l.9 1.4 1.4 1.8 1.4 1.2 1.4 .7 .5 .1 6.9-44.8-.4 1.8-.9 3.3-.9 2.8-.9 2.4-1.4 2.8-.9 1.5z" fill="url(#CTc)"/><path d="M1641,471.2l.5 2.6 7.3 38-.5 .1z" fill="#6e90f2db"/><path d="M1532.7,337.3l.9 3.2 1.4 3.9 1.9 3.8 7.2-14.5-.9-.9-.9-1.3-1-1.9-1.4-3.8z" fill="url(#Cgf)"/><path d="M1558.1,507.3l1.8 .4 5.8-125.6-1.2 10.3-.4 3.2z" fill="url(#Cf)"/><path d="M1480.4,409.6l1.6 8.3 7.6-9.9-.5-2.5-1.1-5.5z" fill="url(#Ca)"/><path d="M1533.2,397.7l.4-1.1 .9-2.4 6.9-37.9-.9 4.9-.4 2.3z" fill="#b2ccfbdb"/><path d="M1577,407.8l.5 2.5 7.5 9.2-.4-.8z" fill="url(#Cgc)"/><path d="M1537.8,365.8l.9-1.5 .8-1.9 7.1-25.8-1.3 5.1-.4 1.4z" fill="#c3d5f4db"/><path d="M1502.6,377.6l1.5 7.5 7.5-10.6-1.5-7z" fill="url(#CRb)"/><path d="M1596.8,432.9l.5 2.4 7.7 36.5-.4-.2z" fill="#85a8fcdb"/><path d="M1510.1,367.5l1.5 7 7.4-11-1-4.1-.5-2.3z" fill="url(#CGc)"/><path d="M1495.1,387.5l1.5 7.9 7.5-10.3-1.5-7.5z" fill="url(#Cfb)"/><path d="M1535.5,380.6l1.3-3.4 6.9-31.5-.4 2.3-.8 4.1z" fill="#bcd2f7db"/><path d="M1540.2,463.4l1.4-1.2 6.2-83.2-.9 5.6-.4 2.8z" fill="url(#CF)"/><path d="M1596.9,451l1.9-.4 6.9-60.3-.5 2.7-.9 4.9-.4 2.3z" fill="url(#Cjc)"/><path d="M1487.5,397.2l.5 2.8 1.1 5.5 7.5-10.1-1.5-7.9z" fill="url(#CB)"/><path d="M1532.7,414.9l.5-1.1 .8-2.4 6.7-48.2-.4 2.9-.8 5.4z" fill="url(#CWb)"/><path d="M1590.3,488.8l2.3-5.8 1.9-5.5 7.2-23.9-1.4-5.4-3-12.9z" fill="url(#Cj)"/><path d="M1606.9,472l.5 0 7-61.2-.5 2.4z" fill="url(#Cyb)"/><path d="M1624.6,499.4l1.9 2.1 1.4 1.4 7.1-78.6-.9 4.3-2.4 9.3z" fill="url(#CT)"/><path d="M1543.2,332.8l.9 .9 .9 .4 .9-.1 .9-.6 .4-.5 7.1-18.7-.9 2-1.3 1.9-.9 .5-.9 0z" fill="url(#Clg)"/><path d="M1594.5,477.5l1.8-6.5 1.8-7.4 7.5 2.1-3.4-10.4-.5-1.7z" fill="#81a4fbdb"/><path d="M1524.4,344.4l1 4.1 .9 3.7 7.3-11.7-.9-3.2-1-3.6z" fill="url(#Cje)"/><path d="M1579.2,406.3l1.5 9.2 7.8 28.9-1.4-2.5z" fill="#9dbdffdb"/><path d="M1638.1,452.8l2.9 18.4 7.3 40.7-.5 .1-2.3 .2z" fill="url(#Cs)"/><path d="M1534.6,434.8l1.3-2.9 6.4-63.5-.8 6-.4 2.9z" fill="url(#Ckb)"/><path d="M1539,322.7l.9 3.1 1.4 3.8 1 1.9 .9 1.3 7.1-14.2-.9-.6-1.3-2-.9-1.9-1-2.5z" fill="url(#Ckg)"/><path d="M1575,397.1l.5 2.8 1 5.4 .5 2.5 7.6 10.9-1.9-4.1z" fill="url(#Cgc)"/><path d="M1534.5,394.2l.4-1.4 6.9-39.1-.4 2.6z" fill="#b2ccfbdb"/><path d="M1593.9,416.3l2.9 16.6 7.8 38.7-1.4-.5-1.4-.7z" fill="url(#CP)"/><path d="M1663.1,531.5l2.4 2.7 7.5-76.9-.5 2.8-2 9.9z" fill="url(#Cw)"/><path d="M1516.5,352.4l1 4.7 .5 2.3 7.4-10.9-1-4.1-.5-2.3z" fill="url(#Ctd)"/><path d="M1542.3,348.9l.9-1.4 .8-1.9 .4-1.2 7.1-24.2-.4 1.9-1.3 5-.4 1.3z" fill="#cfdaeadb"/><path d="M1598.8,450.6l.4-.2 6.9-62.8-.4 2.7z" fill="url(#Cjc)"/><path d="M1591.1,425.5l1.4 0 6.9-51-.9 4.3-.5 1.9z" fill="url(#CTc)"/><path d="M1607.4,472l.4 0 1.4-.2 7-71.9-1.4 8.3-.4 2.6z" fill="url(#Czb)"/><path d="M1585.8,497.5l2.3-3.9 2.2-4.8 7-53.5-.5-2.4-2.9-16.6-1-6.4-.5-3.4z" fill="url(#Cj)"/><path d="M1536.8,377.2l.4-1.3 .4-1.4 6.9-33.8-.8 5z" fill="#bcd2f7db"/><path d="M1539.5,362.4l1.3-3.7 7-28.6-.8 4.5-.4 2z" fill="#c3d5f4db"/><path d="M1598.1,463.6l2.3-10.9 7.6 19.1-1.5-3.6-.9-2.5z" fill="url(#Ck)"/><path d="M1479.3,403.5l1.1 6.1 7.6-9.6-.5-2.8-.6-3z" fill="url(#Ca)"/><path d="M1559.9,507.7l1.4 .3 5.7-137.1-1.3 11.2z" fill="url(#Cf)"/><path d="M1549.4,318l.9 .6 .9 0 .9-.5 7.1-16.8-1.3 2.1-.4 .3-.9 .3z" fill="#dadce0db"/><path d="M1574.5,385l.5 2.4 1 4.5 .5 2.1 .9 4 7.4-2.9-.5-.6-2.3-4.1z" fill="url(#CSc)"/><path d="M1541.6,462.2l1.3-1.3 6.1-91.1-.8 6.2-.4 3z" fill="url(#CG)"/><path d="M1494,381.8l1.1 5.7 7.5-9.9-1-5.4z" fill="url(#Cfb)"/><path d="M1530.7,329.6l1 4.1 1 3.6 7.2-11.5-.9-3.1-1-3.6z" fill="url(#Cgf)"/><path d="M1508.5,359.6l1.6 7.9 7.4-10.4-1-4.7-.5-2.6z" fill="url(#CGc)"/><path d="M1534,411.4l.9-2.7 6.6-51.6-.4 3.1-.4 3z" fill="#b5cdfadb"/><path d="M1501,369.3l.6 2.9 1 5.4 7.5-10.1-1.6-7.9z" fill="url(#CRb)"/><path d="M1545.3,308.5l.9 3.1 1 2.5 .9 1.9 1.3 2 7.2-14-.9-.3-1.4-1.7-.9-1.9-.9-2.4z" fill="url(#Cvh)"/><path d="M1486.4,391.2l.5 3 .6 3 7.6-9.7-1.1-5.7z" fill="url(#CB)"/><path d="M1574.5,394.2l.5 2.9 7.7 17.5-.5-1.2z" fill="#abc8fddb"/><path d="M1637.1,445.7l1 7.1 7.4 59.4-1 0z" fill="url(#Cr)"/><path d="M1627.9,502.9l1 1 1.4 1.3 7.1-93.3-.5 2.7-1.9 9.7z" fill="url(#CT)"/><path d="M1655.2,447l1.4 5.5 7.1-12.2-1.4 1.8z" fill="#94b6ffdb"/><path d="M1577.7,396l.5 3.5 1 6.8 7.9 35.6-1.4-3.1z" fill="#9dbdffdb"/><path d="M1534.9,392.8l.4-1.4 .9-3.2 6.8-43.3-.4 3-.8 5.8z" fill="#c1d4f4db"/><path d="M1547.2,332.9l1.3-2.3 .9-2.2 7-22.1-.8 3.7-1.3 4.2z" fill="#d9dce1db"/><path d="M1599.2,450.4l1.4-.9 6.8-71.1-.4 3.2-.5 3-.4 3z" fill="url(#Ckc)"/><path d="M1576.3,373.6l1.4 5.2 1 3.1 1.9 5.3 1.4 3.2 2.3 4.1 7.1-26.4-.9 1.4-.9 1-1.3 1-1.4 .3-.9-.3-1-.5-1.4-1.3z" fill="url(#CEd)"/><path d="M1522.9,337.3l1 4.8 .5 2.3 7.3-10.7-1-4.1-.5-2.3z" fill="url(#Cje)"/><path d="M1535.9,431.9l.8-2.2 6.4-67.8-.8 6.5z" fill="url(#Ckb)"/><path d="M1656.6,452.5l1.4 4.7 1.9 5.5 1.4 3.4 1.9 3.7 1.4 2.2 7.4-57.4-1.5 6.8-1.5 5.7-1.4 4.7-1.9 4.9-1.5 2.8-.5 .8z" fill="url(#Cwc)"/><path d="M1592.9,409.9l1 6.4 7.9 54.1-1-.6z" fill="url(#CO)"/><path d="M1555.7,303.7l.9 .3 .9-.3 .4-.3 7.1-15.9-1.3 2.1-.9 .5z" fill="#e4d9d2db"/><path d="M1592.5,425.5l.9-.3 .9-.5 6.9-60.4-.9 5.4-.9 4.8z" fill="url(#CUc)"/><path d="M1584.3,394.5l.5 .6 1.4 1.5 .9 .6 .9 .4 1 .2 6.9-43.1-.4 1.9-.9 3.3-.9 2.9-1.4 3.4-.9 1.9z" fill="url(#CFd)"/><path d="M1665.5,534.2l1.9 1.9 7.6-90.7-2 11.9z" fill="url(#Cw)"/><path d="M1537.1,315l.9 4.1 1 3.6 7.2-11.1-.9-3.1-1-3.6z" fill="url(#Ckg)"/><path d="M1544.4,344.4l.5-1.3 .4-1.4 7-25.9-.4 2.3-.4 2.1z" fill="#cfdaeadb"/><path d="M1652.3,433.6l1.9 9.3 1 4.1 7.1-4.9-1.4 1.2-1.4 .7z" fill="url(#Cvc)"/><path d="M1552.1,318.1l1.3-1.9 .9-2 7.1-19.8-.5 1.7-1.2 4.2-.5 1z" fill="#dfdbd9db"/><path d="M1629.1,229.8l.9 1.5 .5 .3 6.8-10.1-.5 .6-.4 .3-.5 0z" fill="url(#Chq)"/><path d="M1600.4,452.7l3.2-18.7 7.7 45.1-1.9-4-1.4-3.3z" fill="url(#Cl)"/><path d="M1515,344.4l1 5.4 .5 2.6 7.4-10.3-1-4.8-.5-2.5z" fill="url(#Ctd)"/><path d="M1551.1,292.8l1.4 4.9 .9 2.4 .9 1.9 1.4 1.7 7.1-13.6-.9-.1-.9-.9-.9-1.5-.9-2.1-1-2.8z" fill="url(#Cui)"/><path d="M1537.6,374.5l.9-3.2 .4-1.8 6.9-37.4-.8 5.9-.5 2.7z" fill="#ccd9eddb"/><path d="M1584.4,499.4l1.4-1.9 6.6-91-1.6-10.8z" fill="url(#Ci)"/><path d="M1478.2,397.1l1.1 6.4 7.6-9.3-.5-3-.5-3.2z" fill="url(#Ca)"/><path d="M1573,384.7l.5 3.3 1 6.2 7.7 19.2-1.4-3.9z" fill="url(#Cfc)"/><path d="M1534.9,408.7l.8-3.1 6.6-55.1-.4 3.4-.4 3.2z" fill="#bed2f6db"/><path d="M1492.9,375.6l1.1 6.2 7.6-9.6-.6-2.9-.5-3z" fill="url(#Cfb)"/><path d="M1540.8,358.7l.4-1.4 .9-3.4 6.9-31.6-.4 2.8-.8 5z" fill="#d2dbe8db"/><path d="M1609.2,471.8l.5-.1 1.4-.4 6.9-83.8-1.8 12.4z" fill="url(#Czb)"/><path d="M1577.2,392.3l.5 3.7 8 42.8-.5-1.1z" fill="#afcafcdb"/><path d="M1561.3,508l1.4 .2 5.5-149.3-1.2 12z" fill="url(#Cf)"/><path d="M1542.9,460.9l1.4-1.4 5.9-99.6-1.2 9.9z" fill="url(#CG)"/><path d="M1617.6,246.6l.9 2.3 .9 1.4 6.9-9.8-.5 .4-.4 .2-.5-.1-.4-.4z" fill="url(#Cqo)"/><path d="M1672.4,454.2l1.9 8.2 2.4 8.3 7.1-7.9-1.9 4.6-2 3.6-.5 .8z" fill="#8fb1fedb"/><path d="M1573,377.3l.5 2.6 1 5.1 7.5 5.4-1.4-3.2z" fill="url(#CRc)"/><path d="M1507.5,353.9l1 5.7 7.5-9.8-1-5.4z" fill="url(#CGc)"/><path d="M1630.5,231.6l.4 .1 .4-.3 .5-.5 .4-.8 6.8-13.8-.9 3.2-.8 2z" fill="#f7b99edb"/><path d="M1635.2,430.2l1.9 15.5 7.4 66.5-1.9-.2z" fill="url(#Cr)"/><path d="M1529.2,322.5l1 4.8 .5 2.3 7.3-10.5-.9-4.1-.5-2.3z" fill="url(#Cgf)"/><path d="M1561.9,290l.9 .1 .9-.5 7-14.8-.4 .8-.9 1.1-.4 .2z" fill="#ebd3c6db"/><path d="M1485.3,384.7l.6 3.3 .5 3.2 7.6-9.4-1.1-6.2z" fill="url(#CB)"/><path d="M1613.4,258.7l.9 1.2 6.9-10-.5 .5-.4 .2z" fill="#f3c8b2db"/><path d="M1621.3,230.2l1 4.3 1.3 4.4 .9 1.7 .4 .4 6.9-10.1-.5 .5-.4 .3-.4-.1-.5-.3-.9-1.5-.9-2.6z" fill="url(#Cnp)"/><path d="M1619.4,250.3l.5 .2 .4 .1 .4-.2 6.9-12.7-.9 2.2-.4 .6z" fill="#f5c4acdb"/><path d="M1626,367.2l.4 1.8 1 3.4 .9 2.8 1.4 3.3 .9 1.5 1.4 1.6 7.1-27.3-.4 1.9-1 3.3-.4 1.5-1 2.5-.9 1.9-1.4 1.9-.9 .6z" fill="url(#CHf)"/><path d="M1549.4,328.4l.4-1.3 7-22.9-.4 2.1z" fill="#d9dce1db"/><path d="M1624.9,241l.5 .1 .4-.2 .5-.4 .4-.6 6.9-13.9-1.4 4.1-.4 .8z" fill="#f6bea4db"/><path d="M1676.7,470.7l.5 1.5 2.3 6.4 .5 1.1 7.3-27.8-1.5 5.2-2 5.7z" fill="#8fb1fedb"/><path d="M1536.2,388.2l.4-1.7 6.8-44.8-.4 3.2z" fill="#c1d4f4db"/><path d="M1500,363.2l.5 3.1 .5 3 7.5-9.7-1-5.7z" fill="url(#CRb)"/><path d="M1557.9,303.4l1.3-2.1 .5-1 7-18.1-.8 3-.9 2.3z" fill="#e8d6ccdb"/><path d="M1626.4,218.7l.5 2.5 1.3 6 .9 2.6 6.8-7.4-.4-.3-.9-1.5-1.3-4.5z" fill="url(#Chq)"/><path d="M1625.2,351.8l.9 4 .5 1.8 .5 1.6 7.1-8.5-1 .7-.9 .1z" fill="url(#CHg)"/><path d="M1608.7,269l.4 .5 7-9.9-.5 .4z" fill="#f1ccb8db"/><path d="M1536.7,429.7l.5-1.2 .4-1.2 6.3-72.3-.8 6.9z" fill="url(#Clb)"/><path d="M1614.3,259.9l.4 .3 .5 0 .4-.2 6.9-13-.9 2.2-.4 .7z" fill="#f3c7b1db"/><path d="M1543.4,300.7l.9 4.2 1 3.6 7.2-10.8-1.4-4.9-.5-1.9z" fill="url(#Cvh)"/><path d="M1611.6,253.3l.4 1.7 1.4 3.7 6.9-8.1-.4-.1-.5-.2-.9-1.4z" fill="url(#Cpn)"/><path d="M1557.3,279.3l.9 3.4 1 2.8 .9 2.1 .9 1.5 .9 .9 7.1-13.1-.4 .1-.5-.1-.9-.8-1.4-2.5-1.4-4z" fill="url(#Cvj)"/><path d="M1630.3,505.2l1.9 1.5 7.1-106.5-1.9 11.7z" fill="url(#CT)"/><path d="M1627.1,359.2l.4 1.5 1 2.5 .9 2 1.4 2 .5 .4 .9 .4 7-32.1-.9 4.2-.9 3.5-.9 2.8-1 2.2-.9 1.6-.4 .5z" fill="url(#CIg)"/><path d="M1590.8,395.7l1.6 10.8 .5 3.4 7.9 59.9-1.8-1.6z" fill="url(#CO)"/><path d="M1600.6,449.5l1.4-1.3 6.8-80.2-1.4 10.4z" fill="url(#Ckc)"/><path d="M1650.9,425.6l1.4 8 7.2 10.4-1.5 .1z" fill="#a6c4fedb"/><path d="M1565.8,273.6l1.4 2.5 .9 .8 .5 .1 7-12.9-.9 .4-.9-.4-.9-1.2z" fill="url(#Cvk)"/><path d="M1670.5,444.5l1.9 9.7 7 17.6-.9 1.4-1 1.1z" fill="url(#CLb)"/><path d="M1602.1,275l.9 2.4 .4 .9 1 1.2 6.9-10.5-.4 .5-.9 .5-.9-.5z" fill="#f0cdbbdb"/><path d="M1609.1,269.5l.9 .5 .9-.5 6.9-14.1-.9 2.6-.4 .9-.4 .7z" fill="url(#Ctm)"/><path d="M1521.4,329.3l1 5.5 .5 2.5 7.3-10-1-4.8-.5-2.6z" fill="url(#Cje)"/><path d="M1568.6,277l.4-.1 .4-.2 7.1-13.7-.9 1.1z" fill="#f1cdbadb"/><path d="M1620.7,250.4l.5-.5 .4-.7 6.9-14.6-.4 1.7-.5 1.4z" fill="#f5c0a7db"/><path d="M1624.7,349.6l.5 2.2 7.1-.3-.4-.2z" fill="url(#CGg)"/><path d="M1563.7,289.6l1.3-2.1 7-16.3-1.3 3.6z" fill="#eed0c0db"/><path d="M1623.6,355.6l.9 5.1 .5 2.3 1 4.2 7.1 .7-.9 .1-.9-.4-.5-.4z" fill="url(#CGf)"/><path d="M1545.3,341.7l1.3-5.1 6.9-28.6-.8 5.4-.4 2.4z" fill="url(#Cif)"/><path d="M1594.3,424.7l1.4-1.3 6.8-68.2-.4 3.2-.9 5.9z" fill="url(#CUc)"/><path d="M1573.4,361.2l.5 2.3 .5 2.2 .9 4.1 1 3.8 7.3-3.9-1.3-1.9-1.5-2.6z" fill="url(#CEd)"/><path d="M1626.8,339.7l.4 1.8 .5 1.6 1.4 4.1 .4 1 .5 1 7-20.4-.9 2.1-1.4 2-.9 .5z" fill="#d8dce2db"/><path d="M1605,256.4l.5 2.4 1.3 5.7 .9 2.7 1 1.8 6.9-9-.4 .2-.5 0-.4-.3-.9-1.2-1.4-3.7z" fill="url(#Csm)"/><path d="M1538.9,369.5l.4-1.9 6.9-38.6-.4 3.1z" fill="#ccd9eddb"/><path d="M1615.3,236.3l1.4 6.9 .9 3.4 6.9-6-.9-1.7-1.3-4.4z" fill="url(#Cqo)"/><path d="M1615.6,260l.5-.4 .4-.7 6.9-15.1-.4 1.7-.5 1.5z" fill="#f5c4acdb"/><path d="M1604.4,279.5l.9 .3 .9-.4 6.9-14.8-.9 2.6-.4 1-.5 .8z" fill="url(#CBl)"/><path d="M1589,397.8l1.3-.4 7-49-.9 4.4-.5 1.9z" fill="url(#CFd)"/><path d="M1572,377.8l1 6.9 7.8 24.8-1-2.9z" fill="url(#Cec)"/><path d="M1542.1,353.9l.4-1.8 6.9-32.7-.4 2.9z" fill="#d8dce2db"/><path d="M1575.7,380.4l.5 4.1 1 7.8 8 45.4-1.4-3.7z" fill="#afcafcdb"/><path d="M1535.6,307.8l1 4.9 .5 2.3 7.2-10.1-.9-4.2-.5-2.3z" fill="url(#Ckg)"/><path d="M1596.4,281.6l.4 1.7 .5 1.5 .9 2.4 .5 .9 .9 1.2 7-10.5-.4 .6-.9 .4-.9-.3-1-1.2z" fill="url(#CBk)"/><path d="M1667.4,536.1l1.9 1.7 7.7-106.1-1.5 10.4-.5 3.3z" fill="url(#Cw)"/><path d="M1582.1,502.1l2.3-2.7 6.4-103.7-1.5-11.8-1-8.3z" fill="url(#Ci)"/><path d="M1626.7,372.5l.9 4.2 .5 1.8 .9 3.4 .5 1.5 1 2.7 .9 2.2 .9 1.8 1 1.5 .9 1.1 7.1-26.4-.4 1.8-1 3.4-.4 1.5-1 2.6-.4 1.1-1 2-1.3 2.1-1.4 1.1-.5 .1z" fill="url(#CGe)"/><path d="M1667.1,483.8l.4-1.7 2.5-9.9 7.2 0-.5-1.5-2.4-8.3z" fill="#8fb1fedb"/><path d="M1575.2,347.9l.4 1.9 1.5 5.2 1.4 4.4 1.9 4.8 .4 1 1.5 2.6 1.3 1.9 1.4 1.3 7.1-27.4-.9 2.1-.4 .9-.9 1.6-1 1.1-.9 .9-1.3 .5-.9 0-1-.4-1.3-1.1-1-1.2z" fill="url(#Cve)"/><path d="M1554.3,314.2l1.3-4.2 7-21.9-.4 2.3-.8 4z" fill="url(#Cwh)"/><path d="M1513.9,338.5l1.1 5.9 7.4-9.6-1-5.5z" fill="url(#Ctd)"/><path d="M1660.8,500.3l1.9-4.1 1.4-3.5 3-8.9 7.2-21.4-1.9-8.2-1.9-9.7-2.3-14.6z" fill="url(#CX)"/><path d="M1634.7,426l.5 4.2 7.4 81.8-.5-.1z" fill="url(#Cq)"/><path d="M1535.7,405.6l.9-3.3 6.5-58.8-.4 3.5-.4 3.5z" fill="#c6d6f1db"/><path d="M1599.6,289.3l.9 .5 .9-.3 7-14.8-.5 1.3-.4 1.1-.9 1.7z" fill="url(#CCk)"/><path d="M1477.1,390.2l1.1 6.9 7.7-9.1-.6-3.3-.5-3.3z" fill="url(#Ca)"/><path d="M1574.7,264.5l.9-.4 7-13-.9 1.2z" fill="#f4c6afdb"/><path d="M1549.8,327.1l1.3-5 7-25.1-.8 5-.5 2.2z" fill="url(#Cmg)"/><path d="M1536.6,386.5l.8-3.7 6.8-48-.4 3.5-.4 3.4z" fill="#d2dbe8db"/><path d="M1491.9,369l1 6.6 7.6-9.3-.5-3.1-.5-3.2z" fill="url(#Cfb)"/><path d="M1569.4,276.7l.9-1.1 .4-.8 7.1-15.1-1.3 3.3z" fill="#f2cab5db"/><path d="M1611.1,471.3l.9-.4 6.9-90.2-.9 6.8z" fill="url(#Czb)"/><path d="M1664.6,472l1 1.3 1.4 1.5 7.4-74.3-1 6.1-1.4 8z" fill="url(#Cxc)"/><path d="M1570.6,256.8l1.4 4.2 .9 1.9 .9 1.2 .9 .4 7-12.2-.4 .2-.4 .1-.5-.1-.9-.9-.9-1.7-.9-2.4z" fill="url(#Cwl)"/><path d="M1603.6,434l2.2-15.8 7.9 65.4-2.4-4.5z" fill="url(#Cl)"/><path d="M1632.2,230.1l1.4-4.1 6.8-16.5-1.4 6.8z" fill="url(#Ciq)"/><path d="M1506.5,347.7l1 6.2 7.5-9.5-1.1-5.9z" fill="url(#CGc)"/><path d="M1680,479.7l2.4 4.9 1.4 2.5 7.5-52.8-3 13.8-1 3.8z" fill="url(#CMb)"/><path d="M1626.7,239.9l.9-2.2 .5-1.4 6.8-16.7-.5 2.4-.8 4z" fill="url(#Cop)"/><path d="M1610.9,269.5l.4-.5 .5-.8 6.9-16.2-.4 1.8-.5 1.6z" fill="#f3c7b1db"/><path d="M1616.5,258.9l.4-.9 6.9-16.1-.4 1.9z" fill="#f5c1a9db"/><path d="M1668.2,429.9l2.3 14.6 7 29.8-1 .9-1.4 1.1z" fill="url(#CKb)"/><path d="M1571,365.8l.5 3 .5 2.9 1 5.6 7.6 9.9-1.9-5.3z" fill="url(#CRc)"/><path d="M1609.7,244.1l.9 5.1 1 4.1 6.9-4.4-.9-2.3-.9-3.4z" fill="url(#Cpn)"/><path d="M1599.8,265.2l1.4 6.5 .9 3.3 7-5.5-.4-.5-1-1.8-.9-2.7z" fill="url(#CAl)"/><path d="M1632.2,506.7l.5 .4 .4 .4 7.1-113.8-.9 6.5z" fill="url(#CT)"/><path d="M1562.7,508.2l1.4 .2 5.4-162.1-1.3 12.6z" fill="url(#Cf)"/><path d="M1602,448.2l.4-.5 6.8-83.4-.4 3.7z" fill="url(#Ckc)"/><path d="M1484.2,377.9l.6 3.5 .5 3.3 7.6-9.1-1-6.6z" fill="url(#CB)"/><path d="M1544.3,459.5l.4-.5 .9-1.1 5.8-108.5-.8 7.1-.4 3.4z" fill="url(#CG)"/><path d="M1595.2,299.5l.9 .5 .5 0 .9-.5 7-16.6-.9 2.8-.4 1.1-.9 1.8z" fill="url(#CDj)"/><path d="M1575.6,264.1l.9-1.1 7-13.9-.9 2z" fill="#f5c4acdb"/><path d="M1549.1,284.4l1.5 6.5 .5 1.9 7.1-10.1-.9-3.4-1-4.1z" fill="url(#Cui)"/><path d="M1624.9,330.8l.9 4.8 .5 2.1 .5 2 7-6.3-.9-.2-.9-.9z" fill="url(#CNh)"/><path d="M1563,264l1.4 5.6 1.4 4 7.1-10.7-.9-1.9-1.4-4.2-.4-1.8z" fill="url(#Cvk)"/><path d="M1559.7,300.3l1.2-4.2 7.1-19.8-1.3 5.9z" fill="url(#Cvi)"/><path d="M1537.6,427.3l.9-2.6 6.2-76.9-.8 7.2z" fill="url(#Clb)"/><path d="M1498.9,356.7l.6 3.3 .5 3.2 7.5-9.3-1-6.2z" fill="url(#CRb)"/><path d="M1625.7,367.9l1 4.6 7.2 9.5-.9 0z" fill="#c7d7f0db"/><path d="M1581.3,252.5l.4-.2 7-12.4-.4 .7z" fill="#f6bea4db"/><path d="M1590.1,284.2l1.4 6.3 .5 1.8 .9 2.9 .9 2.3 1.4 2 7.1-10.9-.9 .9-.9 .3-.9-.5-.9-1.2-.5-.9-.9-2.4z" fill="url(#CCj)"/><path d="M1630,349.2l.9 1.3 1 .8 .4 .2 .9-.1 7.1-35.8-1 4.7-.4 2.1-.9 3.5-1 2.9z" fill="url(#COh)"/><path d="M1595.9,279.7l.5 1.9 7-3.3-.4-.9z" fill="url(#CAk)"/><path d="M1632,381.6l1 .4 .9 0 .5-.1 7-39.4-.4 2.7-1 4.9-.9 4.2z" fill="url(#CIf)"/><path d="M1527.7,314.3l1 5.6 .5 2.6 7.4-9.8-1-4.9-.5-2.6z" fill="url(#Cgf)"/><path d="M1622.4,336.1l.4 3 .5 2.9 1 5.2 .4 2.4 7.2 1.7-1-.8-.9-1.3-.5-1z" fill="url(#CGg)"/><path d="M1648.5,410l1.9 12.7 .5 2.9 7.1 18.5-1.4-.4-.9-.5z" fill="#a6c4fedb"/><path d="M1621.6,249.2l.9-2.2 .5-1.5 6.8-17.5-.9 4.6-.4 2z" fill="url(#Cro)"/><path d="M1586.6,298.2l.5 1.9 1.9 6 .9 2.1 1.4 1.9 7.1-11.7-.9 1.1-.9 .5-.5 0-.9-.5-1.4-2z" fill="url(#CBi)"/><path d="M1579.3,341l.4 1.3 1 2.2 1.4 2.8 .4 .7 1 1.2 1.3 1.1 7.1-21.3-1.3 2.8-1.4 1.9-1.3 .9-.9 .2-.5-.1z" fill="url(#Crf)"/><path d="M1576.8,244.3l.9 3.2 .9 2.4 .9 1.7 .9 .9 .5 .1 .4-.1 7-11.9-.4 .4-.5 .2-.4 0-.5-.2-.4-.4-.9-1.5-1.4-3.7z" fill="url(#Com)"/><path d="M1585.2,239.1l.9 1.5 .4 .4 .5 .2 .4 0 .5-.2 6.9-11.7-.9 1-.4 .1-.4-.1-.9-.8z" fill="url(#Cmn)"/><path d="M1595.7,423.4l.4-.6 6.8-70.9-.4 3.3z" fill="url(#CUc)"/><path d="M1670,472.2l.5-2.2 2-9.9 7 18.5-2.3-6.4z" fill="url(#CY)"/><path d="M1620,222l.9 5.7 .4 2.5 6.9-3-1.3-6z" fill="url(#Cnp)"/><path d="M1606.2,279.4l.4-.6 .9-1.7 6.9-18-.8 3.9-.5 1.6z" fill="#f2c9b4db"/><path d="M1591.3,310.1l.9 .5 .4 0 .9-.4 7.1-17.5-.9 2.7-.4 1.2-.9 1.8z" fill="url(#CCi)"/><path d="M1541.9,293.4l1 5 .5 2.3 7.2-9.8-1.5-6.5z" fill="url(#Cvh)"/><path d="M1581.4,326.9l1.4 3.5 1.4 2.4 .9 1.1 1 .6 7.1-17-.5 .9-.9 1.6-.9 1.1-.9 .7-.4 .1-.9-.1z" fill="url(#Cug)"/><path d="M1585,371l1 .5 .9 .3 1.4-.3 6.9-38.7-.9 3.7-.4 1.6-.9 3-.4 1.3-.5 1.2z" fill="url(#Cwe)"/><path d="M1581.7,252.3l.9-1.2 7-13.2-.9 2z" fill="#f7bca1db"/><path d="M1611.8,268.2l.4-1 7-17.2-.5 2z" fill="#f5c4acdb"/><path d="M1539.3,367.6l.8-4.1 6.9-41.3-.4 3.5-.4 3.3z" fill="#dadce0db"/><path d="M1589.3,383.9l1.5 11.8 8.2 72.5-1.4-1.5z" fill="url(#CN)"/><path d="M1572.9,358.8l.5 2.4 7.4 4-.4-1z" fill="url(#CDd)"/><path d="M1542.5,352.1l.8-4.1 6.9-35-.4 3.3-.4 3.1z" fill="url(#Cle)"/><path d="M1622.2,346.8l.9 6 .5 2.8 7.2 11.6-1.4-2z" fill="url(#CFf)"/><path d="M1565,287.5l.9-2.3 .8-3 7-18.5-1.2 5.9-.5 1.6z" fill="url(#Cwj)"/><path d="M1546.6,336.6l.4-2 6.9-29.6-.4 3z" fill="url(#Cif)"/><path d="M1633.2,412.8l1.5 13.2 7.4 85.9-.9-.3-.5-.1z" fill="url(#Cq)"/><path d="M1571,370.5l1 7.3 7.8 28.8-.9-3.2z" fill="url(#Cdc)"/><path d="M1624.8,362.7l.9 5.2 7.3 14.1-1-.4z" fill="#cbd8eedb"/><path d="M1632.2,368l.9-.1 .9-.6 7.1-41.9-.5 2.9-.9 5.2-.5 2.4z" fill="url(#CJg)"/><path d="M1587.9,241l.4-.4 .4-.7 7-12.4-.9 1.8z" fill="#f7b599db"/><path d="M1581.7,304l.9 4.3 1.4 5.2 1.9 5 .9 1.6 1 1.1 7.1-12.6-1.4 1.6-.9 .4-.4 0-.9-.5-1.4-1.9-.9-2.1z" fill="url(#CDh)"/><path d="M1589.9,223.6l1.4 4.1 .9 1.8 .9 .8 .4 .1 .4-.1 7-11-.5 .4-.4 .3-.5 0-.8-.7-.9-1.6-.9-2.5z" fill="url(#Cno)"/><path d="M1520.3,323.3l1.1 6 7.3-9.4-1-5.6z" fill="url(#Cje)"/><path d="M1575.1,376.3l.6 4.1 8.1 53.6-.5-1.4z" fill="#bfd3f6db"/><path d="M1601.4,289.5l.9-.9 .9-1.8 6.9-19.3-.8 4-.9 3.2z" fill="#f1ccb8db"/><path d="M1627.4,318.7l.4 2.1 1.4 5.3 .9 2.7 1 2.1 .9 1.4 7-23.8-.5 1.4-.9 2.3-.4 .8-1 1.2-.9 .4-.9-.3z" fill="url(#CLi)"/><path d="M1625.1,209.6l.9 6.3 .4 2.8 6.9-2.6-1.4-7z" fill="url(#Chq)"/><path d="M1593.9,230.3l.9-1 6.9-11.7-.8 1.7z" fill="#f7af91db"/><path d="M1590.3,397.4l1-.6 .9-1 6.8-57.7-.9 5.5-.8 4.8z" fill="url(#CGd)"/><path d="M1667.7,426.6l.5 3.3 6.9 46.4-.5 .2z" fill="#a1c0ffdb"/><path d="M1641,407.1l1.9 7.9 .5 1.8 7.1-10.4-1.4 1.7-.9 .8z" fill="url(#Cgd)"/><path d="M1602.9,204l1.3 3.9 .9 1.5 .9 .6 .4-.1 .5-.3 6.8-10.3-.8 1-.5 .1-.4-.1-.9-1-1.4-3.3z" fill="url(#Cfq)"/><path d="M1643.4,416.8l.9 3.4 1.4 4.7 1.5 4.1 1.4 3.5 .9 2.1 1.4 2.8 .5 .8 1 1.5 7.2-60.6-1.4 6.7-1.5 5.7-1.9 6.1-1.4 3.6-1.4 3-1.5 2.2z" fill="url(#Chd)"/><path d="M1600.4,219.7l.5-.4 6.9-11-.5 .8z" fill="#f7a889db"/><path d="M1605.8,418.2l.5-3.5 7.9 69.7-.5-.8z" fill="url(#Cl)"/><path d="M1555.4,270.6l.9 4.6 1 4.1 7.1-9.7-1.4-5.6-.4-2.1z" fill="url(#Cvj)"/><path d="M1587.8,321.2l.9 .6 .9 .1 .4-.1 .9-.7 7.1-21.1-1.3 4.5-.9 2.3-.9 1.8z" fill="url(#CEh)"/><path d="M1616.9,258l.9-2.6 .5-1.6 6.9-19.1-.5 2.6-.9 4.6z" fill="url(#Cqn)"/><path d="M1570.7,274.8l1.3-3.6 .5-1.6 7-17.1-1.3 5.7-.4 1.5z" fill="url(#Cwk)"/><path d="M1512.9,332.2l1 6.3 7.5-9.2-1.1-6z" fill="url(#Ctd)"/><path d="M1574.7,345.9l.5 2 7.3 .1-.4-.7z" fill="url(#Cue)"/><path d="M1633.1,389.9l.5 1.6 1.4 4.5 .9 2.6 1.5 3.3 .4 .9 1 1.7 7.1-26.7-.5 1.6-.4 1.5-1 2.8-.9 2.4-.9 2.1-1 1.7-.9 1.5z" fill="url(#CQd)"/><path d="M1606.9,209.6l.4-.5 6.9-10.7-.5 .9z" fill="#f5a081db"/><path d="M1634.2,392.7l.5 .4 .9 .5 1 .2 7.1-38.7-.5 2.5-.9 4.6-.5 2.1-.5 2z" fill="url(#CHe)"/><path d="M1595.5,210l1.4 5.2 .9 2.5 .9 1.6 .8 .7 .5 0 .4-.3 6.9-10.6-.4 .5-.5 .3-.4 .1-.9-.6-.9-1.5-1.3-3.9-.5-1.7z" fill="url(#Clp)"/><path d="M1612,470.9l1.5-.7 6.8-100.5-1.4 11z" fill="url(#CAb)"/><path d="M1536.6,402.3l.8-3.7 6.5-62.7-.4 3.8-.4 3.8z" fill="#cedaebdb"/><path d="M1669.3,537.8l1.5 1.3 7.7-118.7-.5 3.9-.5 3.7-.5 3.7z" fill="url(#Cx)"/><path d="M1594,270.2l.5 2.6 .9 4.8 .5 2.1 7.1-2.3-.9-2.4-.9-3.3z" fill="url(#CAk)"/><path d="M1576.5,263l1.3-3.3 .4-1.5 7-15.7-.9 3.7-.8 2.9z" fill="url(#Cxl)"/><path d="M1582.4,230l1.4 5.4 1.4 3.7 7-9.6-.9-1.8-1.4-4.1-.5-1.8z" fill="url(#Cmn)"/><path d="M1538.5,424.7l.4-1.4 6.2-79.3-.4 3.8z" fill="url(#Clb)"/><path d="M1575.4,326.9l1.5 6.1 .9 3.5 1.5 4.5 7.2-6.3-.4-.2-1-.6-.9-1.1-1.4-2.4z" fill="url(#Crf)"/><path d="M1578.6,316.6l.9 4 1.5 4.9 .4 1.4 7.3-5.1-.9-.6-1-1.1-.9-1.6z" fill="url(#Ctg)"/><path d="M1534.1,299.5l1 5.7 .5 2.6 7.3-9.4-1-5-.5-2.7z" fill="url(#Ckg)"/><path d="M1537.4,382.8l.9-4.2 6.6-51.1-.3 3.7-.4 3.6z" fill="#d2dbe8db"/><path d="M1545.6,457.9l.5-.6 5.7-111.6-.4 3.7z" fill="url(#CG)"/><path d="M1628.1,236.3l.4-1.7 .4-2 6.9-18.5-.5 2.9-.4 2.6z" fill="url(#Cop)"/><path d="M1551.1,322.1l.4-1.9 .4-2.1 7-26.9-.8 5.8z" fill="url(#Cmg)"/><path d="M1607.5,277.1l.4-1.1 7-19.1-.5 2.2z" fill="#f5c4acdb"/><path d="M1490.8,362l1.1 7 7.6-9-.6-3.3-.5-3.4z" fill="url(#Cfb)"/><path d="M1555.6,310l.8-3.7 .4-2.1 7.1-23.9-.5 2.8-.4 2.6-.4 2.4z" fill="url(#Cwh)"/><path d="M1657.9,504.9l2.4-3.8 .5-.8 7.4-70.4-.5-3.3-2.4-18.3z" fill="url(#CX)"/><path d="M1633.6,226l.8-4 6.8-18.2-.8 5.7z" fill="url(#Ciq)"/><path d="M1505.4,341l1.1 6.7 7.4-9.2-1-6.3z" fill="url(#CGc)"/><path d="M1602.4,447.7l1.4-2 6.8-93.2-1.4 11.8z" fill="url(#Clc)"/><path d="M1630.2,377.8l.5 2.3 1.4 6.1 1 3.7 7.2 1.5-.5 .6-.4 .5-1 .7-.9 .5z" fill="#cbd8eedb"/><path d="M1613.9,227.2l.5 3.3 .9 5.8 7-1.8-1-4.3-.4-2.5z" fill="url(#Cqo)"/><path d="M1476,383l1.1 7.2 7.7-8.8-.6-3.5-.5-3.6z" fill="url(#Ca)"/><path d="M1580.2,503.8l1.9-1.7 6.2-126.5-.5-4.4-.6-4.3-1-9z" fill="url(#Ci)"/><path d="M1603.6,248l.9 5.8 .5 2.6 7-1.4-.4-1.7-1-4.1z" fill="url(#Csm)"/><path d="M1633.1,507.5l1.4 .9 .5 .4 7.2-129.3-1 7.3-1 6.9z" fill="url(#CU)"/><path d="M1621.9,332.9l.5 3.2 7.1 12.1-.4-1z" fill="url(#CFg)"/><path d="M1584.8,350.3l1 .4 .9 0 1.3-.5 7.1-31.4-.5 1.8-.9 3.2-.4 1.5-1.4 3.7z" fill="url(#Csf)"/><path d="M1597.5,299.5l.9-1.1 .9-1.8 6.9-21.3-.8 4.2-.5 1.8-.4 1.6z" fill="#f1ccb8db"/><path d="M1668.1,281.4l.5 2.3 .9 3.8 1.3 4 .5 .9 .4 .7 1 .6 6.9-24.2-.5 2.2-.9 3.9-.5 1.5-1.4 3.2-.5 .6-.4 .3-.5 .1z" fill="url(#CIm)"/><path d="M1683.8,487.1l.5 .7 .5 .7 .9 1.4 7.6-66.7-.5 2.9-1.5 8.2z" fill="url(#CMb)"/><path d="M1623,319.4l.5 3.1 .9 5.7 .5 2.6 7.1 1.5-.9-1.4-1-2.1z" fill="url(#CNh)"/><path d="M1568.7,248.7l1.5 6.3 .4 1.8 7.1-9.3-.9-3.2-1-3.9z" fill="url(#Cwl)"/><path d="M1570,359.5l.5 3.2 .5 3.1 7.7 16.1-1-3.1z" fill="url(#CQc)"/><path d="M1612.2,267.2l.9-2.6 .5-1.6 6.9-20.4-.9 5.1-.4 2.3z" fill="url(#Cum)"/><path d="M1582.6,251.1l.9-2 .8-2.9 7-14.9-.8 3.7-.9 2.9z" fill="url(#Cpm)"/><path d="M1623.3,353.7l1.5 9 7.2 18.9-1.4-1.6z" fill="#d1dae9db"/><path d="M1570.9,348.4l.5 2.7 1 5.2 .5 2.5 7.5 5.4-1.9-4.8z" fill="url(#CDd)"/><path d="M1596.1,422.8l1.4-2.1 6.8-79.6-.9 7.3-.5 3.5z" fill="url(#CVc)"/><path d="M1671.3,273.3l1.3 4.8 1 2 .9 1 .4 .2 6.9-24.2-.9 4.2-1 3.2-.4 1.2-.5 .9-.9 1.2z" fill="url(#CEn)"/><path d="M1586.1,334.5l.4 .2 .5 .1 .9-.2 1.3-.9 7.1-26.4-.9 3.5-1.3 4.4-.9 2.3z" fill="url(#Cvg)"/><path d="M1667,474.8l1.4 1.2 .5 .3 7.5-89.5-1 7.2-1 6.5z" fill="url(#Cxc)"/><path d="M1639.1,397.9l1.9 9.2 7.2 1.8-.5 .3-.5 .2-.9 .4z" fill="url(#Cfd)"/><path d="M1623,245.5l.4-1.7 .4-1.9 6.9-19.5-.9 5.6z" fill="url(#Cro)"/><path d="M1621.2,340.1l1 6.7 7.2 18.4-.9-2z" fill="url(#CEf)"/><path d="M1543.3,348l.4-2.3 6.9-36.1-.4 3.4z" fill="url(#Cle)"/><path d="M1540.1,363.5l.4-2.3 6.8-42.5-.3 3.5z" fill="#dadce0db"/><path d="M1666.7,294.9l.5 2 1.3 4.6 1.4 2.6 .9 .7 7-24-.5 2.3-.5 2.1-.9 3.5-.5 1.4-1.4 2.8-.4 .5z" fill="url(#CSl)"/><path d="M1547,334.6l.8-4.5 6.9-31.4-.4 3.2-.4 3.1z" fill="url(#Cjf)"/><path d="M1600.9,219.3l.8-1.7 .9-2.6 6.9-12.3-.4 1.7-1.3 3.9z" fill="url(#Cmp)"/><path d="M1680.9,394.2l1 5 .9 4.4 1.4 5.7 1.4 4.7 .4 1.3 7.2-32.6-1.9 7.2-1.5 4-1.4 2.7-.5 .7z" fill="url(#CTe)"/><path d="M1497.8,349.7l.6 3.6 .5 3.4 7.6-9-1.1-6.7z" fill="url(#CRb)"/><path d="M1574.1,367.6l1 8.7 8.2 56.3-1-2.9z" fill="#bfd3f6db"/><path d="M1483.1,370.7l.6 3.6 .5 3.6 7.7-8.9-1.1-7z" fill="url(#CB)"/><path d="M1632,332.3l.9 .9 .9 .2 .9-.5 7-36.8-.4 2.6-.5 2.3-.9 4.2-.4 1.7-.5 1.6z" fill="url(#CMi)"/><path d="M1589.6,281.7l.5 2.5 7.2 .6-.5-1.5z" fill="url(#CBj)"/><path d="M1588.7,239.9l.9-2 .9-2.9 6.9-13.9-.9 3.6-.8 2.8z" fill="url(#Cnn)"/><path d="M1598.3,256.8l.5 3 1 5.4 7-.7-1.3-5.7z" fill="url(#CAl)"/><path d="M1594.8,229.3l.9-1.8 .8-2.8 7-13.1-.9 3.4-.9 2.6z" fill="url(#Coo)"/><path d="M1564.1,508.4l1.4 .1 5.2-174.7-.8 8.3-.4 4.2z" fill="url(#Cg)"/><path d="M1647.1,399.4l1.4 10.6 7.2 33.2-1-.8-.5-.4z" fill="#b5cdfadb"/><path d="M1560.9,296.1l.5-1.7 .8-4 7-21.8-.4 2.7-.8 5z" fill="url(#Cvi)"/><path d="M1667.7,278.9l.4 2.5 6.8-.1-.4-.2z" fill="url(#CHm)"/><path d="M1603.2,286.8l.4-1.1 7-20.5-.5 2.3z" fill="#f3c7b1db"/><path d="M1526.7,308.2l1 6.1 7.4-9.1-1-5.7z" fill="url(#Cgf)"/><path d="M1634.4,381.9l1.4-1.1 7-47.1-.4 3.1-1 5.7z" fill="url(#CJf)"/><path d="M1672.5,460.1l.5-2.8 2-11.9 .5-3.3 6.9 42.5-2.4-4.9-.5-1.1z" fill="url(#CZ)"/><path d="M1584.7,288.8l.5 2.6 .9 4.7 .5 2.1 7.2-.7-.9-2.3-.9-2.9z" fill="url(#CBi)"/><path d="M1608.3,234.8l.5 3.3 .9 6 7-.9-1.4-6.9z" fill="url(#Cpn)"/><path d="M1607.3,209.1l.5-.8 1.3-3.9 6.8-11.9-.9 3.4-.8 2.5z" fill="url(#Cgq)"/><path d="M1633.2,351.4l1-.7 .4-.5 7-43-.9 5.8-.4 2.6z" fill="url(#CPh)"/><path d="M1593.5,310.2l1.4-1.6 .9-1.8 7-23.6-.9 4.3-.4 1.9-.9 3.3z" fill="#f0cdbbdb"/><path d="M1665.3,408.3l2.4 18.3 6.9 49.9-.9 .4-1.5 .3z" fill="url(#CJb)"/><path d="M1606.3,414.7l1.8-14.4 8 87.3-1.9-3.2z" fill="url(#Cm)"/><path d="M1547.7,276.5l1.4 7.9 7.2-9.2-.9-4.6-.5-2.6z" fill="url(#Cui)"/><path d="M1570,362.8l1 7.7 7.9 32.9-1-3.6z" fill="#cbd8eedb"/><path d="M1561.6,257.1l1 4.8 .4 2.1 7.2-9-1.5-6.3z" fill="url(#Cvk)"/><path d="M1669.5,263.6l.9 5.3 .9 4.4 6.8-5.5-.5 .2-.4-.1-.9-.9z" fill="url(#CDn)"/><path d="M1674.5,262.2l.4 1.6 1.4 3.2 .9 .9 .4 .1 6.9-24.1-.5 2.2-.9 3.6-.9 2.5-1 1.6z" fill="url(#CEo)"/><path d="M1588.3,371.5l1.3-1 7-44-.5 2.2-.9 4.1z" fill="url(#Cwe)"/><path d="M1619.1,215.4l.9 6.6 6.9-.8-.5-2.5-.4-2.8z" fill="url(#Cnp)"/><path d="M1673.1,256l.5 2.3 .9 3.9 6.7-8.4-.4 .3-.5 .1-.4-.2z" fill="url(#CDo)"/><path d="M1572.2,334.4l.5 2.5 1 4.7 .5 2.2 .5 2.1 7.4 1.4-1.4-2.8-1-2.2z" fill="url(#Cue)"/><path d="M1636.6,393.8l.4 0 7.1-41.3-.4 2.6z" fill="url(#CHe)"/><path d="M1587.8,371.2l.5 4.4 1 8.3 8.3 82.8-1.5-1.8z" fill="url(#CN)"/><path d="M1574.9,235.8l.9 4.6 1 3.9 7-8.9-1.4-5.4-.4-2.2z" fill="url(#Com)"/><path d="M1519.3,316.9l1 6.4 7.4-9-1-6.1z" fill="url(#Cje)"/><path d="M1625,305.9l.5 2.9 .9 5.2 1 4.7 7-4.4-.4-.3-1-1.3-.9-1.9z" fill="url(#CKi)"/><path d="M1631.7,398.7l1.5 14.1 7.5 98.7-1.4-.5z" fill="url(#Cq)"/><path d="M1540.4,285l1 5.7 .5 2.7 7.2-9-1.4-7.9z" fill="url(#Cvh)"/><path d="M1664.5,281.9l.4 3 .9 5.4 .9 4.6 6.9-1.5-.5 .3-.4 0-1-.6-.4-.7z" fill="url(#CRl)"/><path d="M1538.9,423.3l.9-2.9 6.1-84.1-.4 3.9-.4 3.8z" fill="url(#Cmb)"/><path d="M1677.2,247.7l.4 1.6 6.8-9.4-.5 .4z" fill="#f7b497db"/><path d="M1638.8,404.5l1.4 2.1 .9 1.1 1 .9 7.1-44.7-.4 2.2-1.5 6.3-.9 3.7-.5 1.7z" fill="url(#CRd)"/><path d="M1588,215.4l1.4 6.4 .5 1.8 7-8.4-1.4-5.2-.5-2.1z" fill="url(#Cno)"/><path d="M1634,367.3l1.4-1.9 7.1-49.6-1 6.6-.4 3z" fill="url(#CKg)"/><path d="M1607.9,276l.5-1.3 .9-3.2 6.9-22.4-.9 5.4-.4 2.4z" fill="url(#CCl)"/><path d="M1664.9,302l.9 4.1 .5 1.7 .4 1.6 .5 1.3 .9 2 .9 1.3 .5 .3 6.9-22.9-.9 4.3-.9 3.5-1 2.6-.4 1.1-1 1.4-.4 .4z" fill="url(#CUk)"/><path d="M1601,195.9l1.4 6.4 .5 1.7 6.8-8-1.8-7.2z" fill="url(#Cfq)"/><path d="M1705.3,245.6l1.4 4.6 .4 1 .9 1.1 6.8-17.9-1.5 5.8-.9 2.5-.5 .8z" fill="url(#Czq)"/><path d="M1679.6,385.8l1.3 8.4 7 3.1-1 1-.4 .3z" fill="url(#CSe)"/><path d="M1546.1,457.3l1.3-1.8 5.7-121-.4 3.8-.5 3.7-.4 3.7z" fill="url(#CH)"/><path d="M1618.3,253.8l.4-1.8 .5-2 6.8-21.1-.4 3-.4 2.8z" fill="url(#Cqn)"/><path d="M1637,393.8l.5-.1 7.1-43.9-.5 2.7z" fill="#d3dbe7db"/><path d="M1627.9,294l1 4.9 .9 4.2 .9 3.5 1.4 4.2 .9 1.9 1 1.3 6.9-23.7-1.3 3.6-.9 1.5-.5 .5-.9 .4-.5-.1-.9-.7-.9-1.4z" fill="url(#CLj)"/><path d="M1689.6,405.7l1.9 9.4 1.9 7.4 2.3 6.9 .5 1.1 7.3-34.7-1.1 4.9-.5 2.2-2.4 9.2-1.5 4.2-1.5 3.1z" fill="url(#Cce)"/><path d="M1620.4,322.5l.5 3.6 .5 3.5 .5 3.3 7.2 14.3-1.4-4.1z" fill="url(#CFg)"/><path d="M1599.3,296.6l.4-1.2 7-22.4-.5 2.3z" fill="#f1ccb8db"/><path d="M1592.2,395.8l.4-.5 .9-1.5 6.8-64.8-.4 3.2-.9 5.9z" fill="url(#CGd)"/><path d="M1566.7,282.2l1.3-5.9 7-20.3-.4 2.8-.9 4.9z" fill="url(#Cwj)"/><path d="M1511.8,325.5l1.1 6.7 7.4-8.9-1-6.4z" fill="url(#Ctd)"/><path d="M1677.6,249.3l.5 1.5 .9 2.1 .9 1.1 .4 .2 .5-.1 6.8-24.2-.4 2.2-1 3.6-.4 1.5-1 2.1-.4 .6z" fill="url(#Czp)"/><path d="M1624.1,202.6l1 7 6.8-.5-.9-5.9z" fill="url(#Chq)"/><path d="M1590.9,321.1l.9-1.1 .9-1.6 7-26.3-.8 4.2-.9 3.7z" fill="#efcebddb"/><path d="M1622.4,347l.5 3.5 .4 3.2 7.3 26.3-.9-1.5z" fill="#dadce0db"/><path d="M1670.8,539.1l1.4 1.2 7.9-132-1.6 12.1z" fill="url(#Cx)"/><path d="M1556.8,304.2l.5-2.2 7-24.7-.4 3z" fill="url(#Cwh)"/><path d="M1686,415.3l1 2.3 .4 1 1.5 2.4 7.3-53.8-1.5 8.4-1.5 7.1z" fill="url(#CUe)"/><path d="M1628.9,232.6l.9-4.6 6.9-20.1-.5 3.2-.4 3z" fill="url(#Cop)"/><path d="M1627.4,361.7l1.9 11.2 .9 4.9 7.3 15.9-.5 .1-.4 0-1-.2-.9-.5z" fill="#cbd8eedb"/><path d="M1551.9,318.1l.4-2.3 .4-2.4 7-28.5-.8 6.3z" fill="url(#Cng)"/><path d="M1537.4,398.6l.4-2 .4-2 6.5-66.6-.8 7.9z" fill="#d7dce3db"/><path d="M1620.2,332.9l.5 3.7 .5 3.5 7.3 23.1-1-2.5z" fill="url(#CDf)"/><path d="M1588,350.2l.9-.9 7-34.4-.4 2-.4 1.9z" fill="url(#Csf)"/><path d="M1668.9,476.3l.5 .2 7.5-93.5-.5 3.8z" fill="url(#Cxc)"/><path d="M1665.9,266.8l.9 6.5 .9 5.6 6.8 2.2-.9-1-1-2z" fill="url(#CHm)"/><path d="M1588.2,273.1l.9 5.9 .5 2.7 7.2 1.6-.4-1.7-.5-1.9-.5-2.1z" fill="url(#CBj)"/><path d="M1672.7,293.7l.4 0 .5-.3 .4-.5 7-31.6-.5 2.9-.9 5.3z" fill="#f4c5addb"/><path d="M1634.4,222l.5-2.4 .4-2.6 6.8-19.6-.9 6.4z" fill="url(#Ciq)"/><path d="M1576.6,307l.5 2.6 1 4.8 .5 2.2 7.3 1.9-1.9-5z" fill="url(#Ctg)"/><path d="M1553.9,262.5l1 5.5 .5 2.6 7.2-8.7-1-4.8-.5-2.7z" fill="url(#Cvj)"/><path d="M1613.5,470.2l.4-.3 1-.7 6.8-111.1-1.4 11.6z" fill="url(#CAb)"/><path d="M1670.8,304.8l.5 0 .5-.1 6.9-29.1-.4 2.7-.5 2.5z" fill="#f2cab5db"/><path d="M1636.2,381.6l2.9 16.3 7.2 11.9-.9 .1-1-.1-.9-.3z" fill="#c6d6f1db"/><path d="M1688.3,397.3l1.3 8.4 6.9 13.7-1.4 2.2z" fill="#c0d4f5db"/><path d="M1572.5,269.6l1.2-5.9 7-18.7-.4 2.7-.8 4.8z" fill="url(#Cwk)"/><path d="M1674.9,281.3l.5-.1 .4-.3 .5-.6 6.9-31.2-.4 2.9-1 5.1z" fill="#f6bea4db"/><path d="M1538.3,378.6l.8-4.6 6.6-54.3-.4 3.9-.4 3.9z" fill="#e0dbd8db"/><path d="M1703.2,232.6l.8 6 .9 4.9 .4 2.1 6.6-2.1-.4 .6-.5 .2-.4-.1-1-1z" fill="url(#Cyq)"/><path d="M1533.1,293.4l1 6.1 7.3-8.8-1-5.7z" fill="url(#Ckg)"/><path d="M1622,312.8l1 6.6 7.1 9.4-.9-2.7z" fill="url(#CMh)"/><path d="M1685.7,489.9l1 1.2 1 1.2 7.7-81.9-2.1 12.8z" fill="url(#CNb)"/><path d="M1543.7,345.7l.8-5 6.9-38.3-.4 3.7-.4 3.5z" fill="url(#Cme)"/><path d="M1603.6,285.7l.9-2.8 .4-1.6 7-23.9-.9 5.4-.4 2.4z" fill="url(#CDk)"/><path d="M1504.3,334l1.1 7 7.5-8.8-1.1-6.7z" fill="url(#CGc)"/><path d="M1578.2,258.2l1.3-5.7 7-17.1-.9 4.9-.4 2.2z" fill="url(#Cxl)"/><path d="M1679.9,232l.4 1.9 .9 3.1 6.8-10.9-.5 .5-.5 .3-.4-.1z" fill="url(#Crq)"/><path d="M1540.5,361.2l.9-4.9 6.7-45.2-.4 3.8-.4 3.8z" fill="#e6d7cfdb"/><path d="M1602.6,241.4l1 6.6 7 1.2-.9-5.1z" fill="url(#Csm)"/><path d="M1568.5,349.3l1 6.9 .5 3.3 7.7 19.3-1.4-5.2z" fill="url(#CQc)"/><path d="M1569.4,358.8l.6 4 7.9 37-.5-1.8z" fill="#d5dbe5db"/><path d="M1646.1,391.7l1 7.7 7.1 42.6-.9-1.1z" fill="#bcd2f7db"/><path d="M1679.1,382.7l.5 3.1 6.9 12.8-.5 .2z" fill="#cbd8eedb"/><path d="M1592.6,260.9l.9 6.4 .5 2.9 7.2 1.5-1.4-6.5z" fill="url(#CAk)"/><path d="M1581,223l1 4.8 .4 2.2 7-8.2-1.4-6.4z" fill="url(#Cmn)"/><path d="M1663.1,291.5l.4 2.9 .5 2.8 .9 4.8 6.9 2.7-.5 .1-.5 0-.9-.7z" fill="url(#CTk)"/><path d="M1489.7,354.6l1.1 7.4 7.6-8.7-.6-3.6-.5-3.6z" fill="url(#Cfb)"/><path d="M1579.7,293.6l1 5.6 1 4.8 7.3 2.1-1.9-6z" fill="url(#CDh)"/><path d="M1584.2,286l.5 2.8 7.3 3.5-.5-1.8z" fill="url(#CAi)"/><path d="M1603.8,445.7l.9-1.5 6.8-100.1-.9 8.4z" fill="url(#Clc)"/><path d="M1655.9,507.2l2-2.3 7.4-96.6-1.4-12.5-.4-4.4z" fill="url(#CW)"/><path d="M1675,235.8l.4 2.8 .9 5 .4 2.1 .5 2 6.7-7.4-.4 .1-.5-.2-.4-.4-.9-1.6z" fill="url(#Cyp)"/><path d="M1623.8,241.9l.9-4.6 6.9-21.1-.9 6.2z" fill="url(#Cro)"/><path d="M1613.6,263l.8-3.9 6.9-22.4-.8 5.9z" fill="url(#Cum)"/><path d="M1613,220.2l.5 3.6 .4 3.4 7 .5-.9-5.7z" fill="url(#Cqo)"/><path d="M1634,314l.4 .3 .9 .3 .9-.4 7-33.8-.4 2.3-.9 4.2-1 3.4z" fill="url(#CMj)"/><path d="M1652.4,439.7l.9 1.2 .9 1.1 .5 .4 7.3-76.8-2.4 13.5z" fill="url(#Cid)"/><path d="M1635,508.8l1.4 .8 7.2-141.6-.5 3.9-.9 7.6z" fill="url(#CU)"/><path d="M1573.5,317.1l.5 2.6 .5 2.6 .9 4.6 7.4 3.5-1.4-3.5-.4-1.4z" fill="url(#Cqf)"/><path d="M1671.4,244.7l.8 6.1 .9 5.2 6.8-2-.9-1.1-.9-2.1z" fill="url(#CCo)"/><path d="M1681.2,237l.5 1.2 .9 1.6 .4 .4 .5 .2 .4-.1 6.8-22.7-1.4 5.4-.9 2.3-.4 .8z" fill="url(#Csq)"/><path d="M1594.1,203.1l.9 4.8 .5 2.1 6.9-7.7-1.4-6.4z" fill="url(#Clp)"/><path d="M1474.9,375.3l1.1 7.7 7.7-8.7-.6-3.6-.5-3.8z" fill="url(#Ca)"/><path d="M1573.1,358.5l1 9.1 8.2 62.1-.9-3.3z" fill="#cad8efdb"/><path d="M1597.5,420.7l.9-1.9 6.7-85.5-.8 7.8z" fill="url(#CVc)"/><path d="M1578.4,505.2l1.8-1.4 6-145.9-.5-4.5-1.6-13.5z" fill="url(#Ci)"/><path d="M1589.2,333.7l1.4-1.9 7-30.6-.4 2.2-.9 3.9z" fill="url(#Cwg)"/><path d="M1569.4,339.7l.5 3 1 5.7 7.6 11-1.4-4.4z" fill="url(#CDd)"/><path d="M1634.6,350.2l.9-1.6 7.1-47.9-1 6.5z" fill="#e9d5cbdb"/><path d="M1587.2,366.9l.6 4.3 8.3 93.7-.4-.6z" fill="url(#CM)"/><path d="M1567.3,241l1.4 7.7 7.1-8.3-.9-4.6-.5-2.6z" fill="url(#Cwl)"/><path d="M1547.8,330.1l.8-5 6.9-33.4-.4 3.6-.4 3.4z" fill="url(#Cjf)"/><path d="M1597.4,250.2l.5 3.4 .4 3.2 7.2 2-.5-2.4-.5-2.6z" fill="url(#CAl)"/><path d="M1525.7,301.7l1 6.5 7.4-8.7-1-6.1z" fill="url(#Cgf)"/><path d="M1678.6,379.4l.5 3.3 6.9 16.1-.5 .1z" fill="#cdd9ecdb"/><path d="M1695.3,556.3l1.5 .9 8.3-132.9-1.3-13.3z" fill="url(#CA)"/><path d="M1668.2,254.1l.4 3.3 .9 6.2 6.8 3.4-1.4-3.2z" fill="url(#CCn)"/><path d="M1599.7,295.4l.9-2.7 7-24.8-.5 2.6-.4 2.5z" fill="#f5c4acdb"/><path d="M1602.6,215l.9-3.4 .4-2.1 6.9-13.3-.5 2.4-.8 4.1z" fill="url(#Cmp)"/><path d="M1584.3,246.2l.9-3.7 .4-2.2 7-16.1-.9 4.9-.4 2.2z" fill="url(#Cpm)"/><path d="M1664,278.6l.5 3.3 6.8 10.5-.5-.9z" fill="url(#CQl)"/><path d="M1496.8,342.4l.5 3.7 .5 3.6 7.6-8.7-1.1-7z" fill="url(#CRb)"/><path d="M1635.8,380.8l1.3-2.1 7.1-55.2-.9 6.9-.5 3.3z" fill="url(#CKf)"/><path d="M1589.6,370.5l.9-1 .9-1.4 6.9-51.8-.4 2.7-.9 5.1-.4 2.4z" fill="url(#Cxe)"/><path d="M1595.8,306.8l.9-2.3 7-26.1-.9 4.8z" fill="#f0cdbbdb"/><path d="M1687.3,390.9l1 6.4 6.8 24.3-1 .9z" fill="#c5d6f2db"/><path d="M1632.2,286l.5 1.8 1.4 4.3 .9 2 .9 1.4 7-20.9-.5 1.2-1.3 2.5-1 .7-.9 .1z" fill="url(#CLk)"/><path d="M1565.5,508.5l1.4 0 5.1-186.4-1.3 11.7z" fill="url(#Cg)"/><path d="M1482,363l.6 3.9 .5 3.8 7.7-8.7-1.1-7.4z" fill="url(#CB)"/><path d="M1562.2,290.4l.4-2.3 .4-2.4 7-23.1-.4 3.1-.4 2.9z" fill="url(#Cvi)"/><path d="M1596.5,224.7l.9-3.6 .4-2.2 6.9-14.2-.8 4.8-.4 2.1z" fill="url(#Coo)"/><path d="M1546.7,270.6l1 5.9 7.2-8.5-1-5.5z" fill="url(#Cui)"/><path d="M1669.5,314.3l.4 .1 .5 0 7-28.1-.5 2.6-.5 2.5z" fill="#f1ccb8db"/><path d="M1590.5,235l.8-3.7 .4-2.2 7-15.1-.9 4.9-.4 2.2z" fill="url(#Cnn)"/><path d="M1634.7,332.9l1.4-2 7-43.5-.9 6-.5 2.7z" fill="url(#CNi)"/><path d="M1618.1,208.1l1 7.3 6.9 .5-.9-6.3z" fill="url(#Cnp)"/><path d="M1619.2,250l.4-2.3 6.9-21.9-.5 3.1z" fill="url(#Cqn)"/><path d="M1677.6,268l.5-.2 .9-1.2 .5-.9 6.9-32.8-.5 3-.9 5.6-.5 2.4z" fill="#f7b194db"/><path d="M1696.2,430.5l.9 1.9 7.4-42-1 5.4z" fill="#c3d5f4db"/><path d="M1609.1,204.4l.4-1.7 .8-4.1 6.9-12.8-1.3 6.7z" fill="url(#Cgq)"/><path d="M1664.9,312.7l.9 3.4 .5 1.4 1.3 3.3 .5 .7 .5 .5 7-20.4-1 3.9-.5 1.8-.9 2.9-1.4 2.9z" fill="url(#CUj)"/><path d="M1663.9,395.8l1.4 12.5 6.9 68.9-1.4-.1z" fill="url(#CIb)"/><path d="M1607.4,227.7l.4 3.7 .5 3.4 7 1.5-.9-5.8z" fill="url(#Cpn)"/><path d="M1637.5,393.7l.9-.5 1-.7 7.1-54.8-.5 3.2-.9 6.1-.5 2.8z" fill="url(#CIe)"/><path d="M1675.5,442.1l1.5-10.4 .5-3.7 6.8 59.8-.5-.7-1.4-2.5z" fill="url(#CZ)"/><path d="M1701.5,243.7l.9 5.1 .8 4.2 .5 1.8 1.3 3.6 .9 1.1 6.8-17.8-.9 4.2-1 3.2-.9 2.2-1 1-.4 .2-.5-.2z" fill="url(#CGp)"/><path d="M1620,318.7l.4 3.8 7.3 20.6-.5-1.6z" fill="url(#CEg)"/><path d="M1560.1,248.8l1 5.6 .5 2.7 7.1-8.4-1.4-7.7z" fill="url(#Cvk)"/><path d="M1608.1,400.3l1.8-15.6 8.1 105.9-1.9-3z" fill="url(#Cm)"/><path d="M1518.3,310l1 6.9 7.4-8.7-1-6.5z" fill="url(#Cje)"/><path d="M1642.1,408.6l1.4 .9 7.1-53.1-.4 2.6-1 4.9z" fill="url(#CRd)"/><path d="M1708,252.3l.5 .2 .4-.2 1-1 6.8-27.9-1.9 11z" fill="#f7a889db"/><path d="M1539.8,420.4l.4-1.6 .4-1.6 6.1-88.8-.4 4-.4 3.9z" fill="url(#Cmb)"/><path d="M1663.1,303.6l.4 2.6 .9 4.5 .5 2 6.9 .4-.9 1.1-.5 .2-.5 0z" fill="url(#CTj)"/><path d="M1557.3,302l.8-5 7-26.1-.8 6.4z" fill="url(#Cxh)"/><path d="M1669.4,476.5l1.4 .6 7.6-106.1-1.5 12z" fill="url(#Cyc)"/><path d="M1635.4,365.4l.9-1.9 7.1-54.8-.9 7.1z" fill="url(#CLg)"/><path d="M1677.7,372.5l.9 6.9 6.9 19.5-.5 0-.4-.1z" fill="#d6dce4db"/><path d="M1630.2,384.2l1.5 14.5 7.6 112.3-1.4-.6z" fill="url(#Cp)"/><path d="M1620.9,335.9l1.5 11.1 7.3 31.5-1.4-3.3z" fill="#dadce0db"/><path d="M1570.3,323.4l.9 5.7 .5 2.7 .5 2.6 7.5 7.9-.4-1.3-1.5-4.5z" fill="url(#Cue)"/><path d="M1688.9,421l.4 .6 .5 .5 7.5-61.4-1.1 6.5z" fill="url(#CUe)"/><path d="M1539.4,278.7l1 6.3 7.3-8.5-1-5.9z" fill="url(#Cvh)"/><path d="M1623.6,296.4l.9 6.5 .5 3 7.1 4.9-1.4-4.2z" fill="url(#CKi)"/><path d="M1619.3,325l.5 4 .4 3.9 7.3 27.8-.4-1.5-.5-1.6z" fill="url(#CCf)"/><path d="M1588.9,349.3l1-1.1 .9-1.6 6.9-40.9-.4 2.4-.9 4.6-.5 2.2z" fill="url(#Ctf)"/><path d="M1702.7,229.4l.5 3.2 6.4 10.6-.4-1z" fill="url(#Cxq)"/><path d="M1645.2,383.7l.9 8 7.2 49.2-.9-1.2z" fill="url(#Cuc)"/><path d="M1609.3,271.5l.8-4 7-24.4-.9 6z" fill="url(#CCl)"/><path d="M1653.7,216.3l.9 2 6.8-7.2-.5 .4-.4 .1z" fill="#f4987adb"/><path d="M1538.2,394.6l.5-2.2 6.4-68.4-.4 4z" fill="#dddcdcdb"/><path d="M1680.8,254.1l.4-.3 1-1.6 6.9-30.2-.5 2.8-1 5.1z" fill="#f6a586db"/><path d="M1573.5,227.8l.9 5.4 .5 2.6 7.1-8-1-4.8-.5-2.7z" fill="url(#Com)"/><path d="M1677.7,219.3l.4 2.9 .9 5.3 .9 4.5 6.7-5.2-.9-.8-1.4-3.2z" fill="url(#Crq)"/><path d="M1568.4,350.6l.5 4.2 .5 4 8 39.2-.9-4z" fill="#d5dbe5db"/><path d="M1631.3,282l.9 4 7-6.9-.9-.7z" fill="url(#CKk)"/><path d="M1671.8,304.7l.4-.4 1-1.4 7-36.6-.5 3.3-1 6z" fill="#f5c2aadb"/><path d="M1604.7,444.2l.5-.9 6.7-103.5-.4 4.3z" fill="url(#Clc)"/><path d="M1686.4,384l.5 3.5 .4 3.4 6.8 31.6-1 .6z" fill="url(#Cbe)"/><path d="M1653.3,215l.4 1.3 6.8-4.7-.5-.1z" fill="url(#Clq)"/><path d="M1673.8,365.2l1.4 7.9 1 4.6 .9 4.2 .4 1.9 7.1-20.5-1.4 3.2-1 1.5-1.4 1.2z" fill="url(#CWf)"/><path d="M1627,288.6l.9 5.4 7.1 .1-.9-2z" fill="url(#CKj)"/><path d="M1604.9,281.3l.5-1.8 6.9-25-.4 2.9z" fill="url(#CDk)"/><path d="M1510.8,318.3l1 7.2 7.5-8.6-1-6.9z" fill="url(#Ctd)"/><path d="M1592.7,318.4l.5-.9 .9-2.3 7-30.3-.5 2.5-.9 4.7z" fill="#efcebddb"/><path d="M1582.8,276.7l.5 3.3 .9 6 7.3 4.5-1.4-6.3z" fill="url(#CAi)"/><path d="M1586.6,207.6l1.4 7.8 7-7.5-.9-4.8-.5-2.6z" fill="url(#Cno)"/><path d="M1598.4,418.8l.5-1 6.7-88.5-.5 4z" fill="url(#CVc)"/><path d="M1544.5,340.7l.5-2.7 6.8-39.3-.4 3.7z" fill="url(#Cme)"/><path d="M1539.1,374l.4-2.5 6.6-55.9-.4 4.1z" fill="#e0dbd8db"/><path d="M1654.6,218.3l.5 .7 .4 .5 .5 .2 .4 .1 .5-.2 6.7-13.4-1.3 3.6-.9 1.3z" fill="url(#Cmq)"/><path d="M1625.9,352l1.5 9.7 7.3 31.4-.5-.4-.9-1.1z" fill="#d8dce2db"/><path d="M1599.7,188.2l1.3 7.7 6.9-7.1-1.3-7.4z" fill="url(#Cfq)"/><path d="M1623.2,195.1l.9 7.5 6.9 .6-.9-6.8z" fill="url(#Chq)"/><path d="M1672.2,540.3l1.4 1.1 8-145.7-1.5 12.6z" fill="url(#Cx)"/><path d="M1593.5,393.8l1.4-2.8 6.8-72.2-.5 3.5-.9 6.7z" fill="url(#CHd)"/><path d="M1568,276.3l.8-5 7-21.3-.4 3.1-.4 2.9z" fill="url(#Cwj)"/><path d="M1541.4,356.3l.4-2.6 6.7-46.5-.4 3.9z" fill="#e6d7cfdb"/><path d="M1629.8,228l.9-5.6 6.8-21.3-.4 3.4-.4 3.4z" fill="url(#Cpp)"/><path d="M1587.2,266.5l1 6.6 7.2 4.5-.9-4.8z" fill="url(#CBj)"/><path d="M1547.4,455.5l1.3-2.1 5.6-130.2-1.2 11.3z" fill="url(#CH)"/><path d="M1677.5,383.8l.5 1.8 .9 3.2 .5 1.4 .9 2.6 1 2.1 1.4 2.3 7.3-56.9-.5 2.8-1.5 7.7-1.9 8.1-1.5 4.4z" fill="url(#CXf)"/><path d="M1552.7,313.4l.8-5.4 7-30.1-.4 3.6-.4 3.4z" fill="url(#Cng)"/><path d="M1634.8,372.3l1.4 9.3 7.3 27.9-1.4-.9z" fill="#cfdaeadb"/><path d="M1661.7,281.5l.9 6.8 .5 3.2 6.8 12.6-1.4-2.6z" fill="url(#CSk)"/><path d="M1674,292.9l1.4-2.8 7-38.7-.9 6.8-.5 3.1z" fill="#f7b99edb"/><path d="M1635.9,295.5l.9 .7 .5 .1 .9-.4 .5-.5 6.9-32-.4 2.3-.9 4.1-.5 1.8-.9 3z" fill="url(#CMk)"/><path d="M1532,286.8l1.1 6.6 7.3-8.4-1-6.3z" fill="url(#Ckg)"/><path d="M1620.6,301.8l.5 3.8 .9 7.2 7.2 13.3-1.4-5.3z" fill="url(#CMh)"/><path d="M1585.7,353.4l.5 4.5 1 9 8.5 97.4-1.4-2.3z" fill="url(#CM)"/><path d="M1635.5,348.6l1-2.2 7-52.8-.5 3.6-.4 3.5z" fill="#edd1c2db"/><path d="M1662.7,267.8l.4 3.8 .9 7 6.8 12.9-1.3-4z" fill="url(#CQl)"/><path d="M1601.7,234.2l.9 7.2 7.1 2.7-.9-6z" fill="url(#Csm)"/><path d="M1575.2,298.3l1 5.9 .4 2.8 7.4 6.5-1.4-5.2z" fill="url(#Ctg)"/><path d="M1552.9,256.5l1 6 7.2-8.1-1-5.6z" fill="url(#Cvj)"/><path d="M1635.3,217l.5-2.9 .4-3 6.8-20.7-.9 7z" fill="url(#Ciq)"/><path d="M1676.3,280.3l1.4-3.2 7-37.8-.5 3.4-1 6.4z" fill="#f7b194db"/><path d="M1590.6,331.8l1.3-2.8 7-34.9-.9 4.9-.4 2.2z" fill="#f0cdbbdb"/><path d="M1567.5,342.1l.5 3.6 .5 3.6 7.8 24.3-1-3.8z" fill="url(#CPc)"/><path d="M1614.4,259.1l.5-2.2 .4-2.4 6.9-24.2-.9 6.4z" fill="url(#Cvm)"/><path d="M1600.6,292.7l.9-3.3 6.9-27.1-.8 5.6z" fill="url(#CEj)"/><path d="M1668.6,322l.4 .4 .5 .2 7-25.7-.9 4.7z" fill="#f1cdbadb"/><path d="M1708.3,353.9l.4 2.8 1.4 7.3 .4 2.1 1.4 5.2 1.4 3.8 7.2-36.1-2 10.1-1.5 5.6-1.5 3.9-.5 1z" fill="url(#Chi)"/><path d="M1662.1,298l.5 2.9 .5 2.7 6.8 10.8-.4-.1-.5-.3z" fill="url(#CSj)"/><path d="M1548.6,325.1l.4-2.8 6.9-34.3-.4 3.7z" fill="url(#Cjf)"/><path d="M1578.8,287.5l.9 6.1 7.4 6.5-.5-1.9-.5-2.1z" fill="url(#CCh)"/><path d="M1664.5,255.8l.5 3.8 .9 7.2 6.7 11.3-1.3-4.8z" fill="url(#CGm)"/><path d="M1579.5,252.5l.8-4.8 7-18-.8 5.7z" fill="url(#Cxl)"/><path d="M1573.7,263.7l.9-4.9 7-19.6-.4 3-.5 2.8z" fill="url(#Cwk)"/><path d="M1687.7,492.3l.4 .5 1.5 1.4 7.9-98.1-.6 3.7-1.5 10.6z" fill="url(#CNb)"/><path d="M1572,349.2l1.1 9.3 8.3 67.9-1-3.5z" fill="#d2dbe8db"/><path d="M1670.4,314.4l.5-.2 .9-1.1 7-35.8-.4 3.1-.5 3-.5 2.9z" fill="#f3c7b1db"/><path d="M1636.2,314.2l1-1.2 .4-.8 7-40-.4 2.9-1 5.3z" fill="url(#CNj)"/><path d="M1624.7,237.3l.5-2.6 .4-2.8 6.9-22.5-.9 6.8z" fill="url(#Cso)"/><path d="M1503.2,326.5l1.1 7.5 7.5-8.5-1-7.2z" fill="url(#CGc)"/><path d="M1614.9,469.2l1.4-1.1 6.8-121.9-1.4 11.9z" fill="url(#CAb)"/><path d="M1636.4,509.6l1.5 .8 7.2-154.2-1.5 11.8z" fill="url(#CU)"/><path d="M1563,285.7l.4-2.6 7-23.7-.4 3.2z" fill="url(#Cvi)"/><path d="M1591.6,254l1 6.9 7.2 4.3-1-5.4z" fill="url(#CAk)"/><path d="M1673.6,226.4l.9 6.4 .5 3 6.7 2.4-.5-1.2-.9-3.1z" fill="url(#Cyp)"/><path d="M1648.7,222.2l.9 2.8 .9 2.1 6.8-7.9-.4 .4-.5 .2-.4-.1-.5-.2z" fill="#f49a7bdb"/><path d="M1683.9,240.3l.5-.4 .4-.6 1-2.1 6.8-29.9-1.9 10.3z" fill="#f49a7bdb"/><path d="M1619,310.7l.5 4 .5 4 7.2 22.8-.4-1.8-.5-2z" fill="url(#CEg)"/><path d="M1677.5,428l.5-3.7 6.8 64.2-.5-.7z" fill="url(#CZ)"/><path d="M1612.1,212.7l.4 3.8 .5 3.7 7 1.8-.9-6.6z" fill="url(#Cqo)"/><path d="M1619.6,247.7l.9-5.1 6.9-23.5-.9 6.7z" fill="url(#Crn)"/><path d="M1633.3,262.7l.4 2.2 .9 3.9 1.4 4.8 1.4 3.4 .9 1.4 7-18.3-1 2-.9 1.2-.4 .3-.9 .1-.5-.2-.9-.9-.5-.7z" fill="url(#CHl)"/><path d="M1654,509l1.9-1.8 7.6-115.8-1-9.1-.9-9.3z" fill="url(#CW)"/><path d="M1579.6,214.7l.9 5.6 .5 2.7 7-7.6-1.4-7.8z" fill="url(#Cmn)"/><path d="M1572,308.5l1 5.8 .5 2.8 7.5 8.4-1.5-4.9z" fill="url(#Cqf)"/><path d="M1596.4,243l.5 3.7 .5 3.5 7.1 3.6-.9-5.8z" fill="url(#CAl)"/><path d="M1697.1,432.4l1.4 2.3 1 1.1 7.5-61.2-2.5 15.8z" fill="url(#Cde)"/><path d="M1488.6,346.8l1.1 7.8 7.6-8.5-.5-3.7-.6-3.8z" fill="url(#Cfb)"/><path d="M1567.9,330.1l1 6.4 .5 3.2 7.7 15.3-1.5-5.2z" fill="url(#CCd)"/><path d="M1654.7,442.4l1 .8 .9 .5 7.4-91-.5 3.4-1.5 9.5z" fill="url(#Cid)"/><path d="M1566.3,235.2l1 5.8 7.1-7.8-.9-5.4z" fill="url(#Cwl)"/><path d="M1592.7,194.9l.9 5.6 .5 2.6 6.9-7.2-1.3-7.7z" fill="url(#Clp)"/><path d="M1685.5,376.5l.9 7.5 6.7 39.1-.4 .1-.5 .1z" fill="url(#Cae)"/><path d="M1700.2,234.3l.4 3.3 .9 6.1 6.5 8.6-.9-1.1-.4-1z" fill="url(#CFp)"/><path d="M1524.6,294.8l1.1 6.9 7.4-8.3-1.1-6.6z" fill="url(#Cgf)"/><path d="M1596.7,304.5l1.3-4.5 7-29.8-.5 2.9-.8 5.3z" fill="#f5c1a9db"/><path d="M1670,234.4l.5 3.6 .9 6.7 6.7 6.1-.5-1.5-.4-1.6-.5-2z" fill="url(#CCo)"/><path d="M1707.4,347.9l.9 6 6.7 5.7-1 1.4z" fill="#e2dad5db"/><path d="M1679.5,265.7l.4-1.2 7-34.8-.5 3.2z" fill="#f7b194db"/><path d="M1603.9,209.5l.8-4.8 6.9-13.7-.4 2.7-.4 2.5z" fill="url(#Cmp)"/><path d="M1639.4,392.5l.4-.5 7.2-57.6-.5 3.3z" fill="url(#CIe)"/><path d="M1650.5,227.1l.4 .7 .9 .8 .5 .1 .9-.4 6.8-15.5-.9 2.9-.9 2.1-.9 1.4z" fill="url(#Ctp)"/><path d="M1705.9,259.5l.5 .2 .5-.1 .9-.9 6.9-27.9-.5 3-.5 2.8-1 5.1z" fill="#f7a688db"/><path d="M1636.1,330.9l.9-2.1 7.1-48-1 6.6z" fill="#f2cab5db"/><path d="M1618.8,320.9l.5 4.1 7.3 32.6-.5-1.8z" fill="#e9d5cbdb"/><path d="M1693.9,555.4l1.4 .9 8.5-145.3-1.4-13.8z" fill="url(#CA)"/><path d="M1545.7,264.3l1 6.3 7.2-8.1-1-6z" fill="url(#Cui)"/><path d="M1591.4,368.1l.9-1.9 6.9-55.7-.4 3-.5 2.8z" fill="url(#Cxe)"/><path d="M1540.6,417.2l.4-1.7 6.1-91.1-.4 4z" fill="url(#Cmb)"/><path d="M1576.6,506.3l1.8-1.1 5.7-165.3-1-8.7-1.1-8.1z" fill="url(#Ci)"/><path d="M1637.1,378.7l1-2 7.1-60.6-.5 3.7-.5 3.7z" fill="url(#CLf)"/><path d="M1473.7,367.3l1.2 8 7.7-8.4-.6-3.9-.5-4z" fill="url(#Ca)"/><path d="M1650.6,202.9l.9 4.7 1.3 5.8 .5 1.6 6.7-3.5-.9-.9-.4-.8-1.3-3.8z" fill="url(#Clq)"/><path d="M1585.6,240.3l.9-4.9 6.9-16.8-.8 5.6z" fill="url(#Cpm)"/><path d="M1666.8,243.1l.9 7.4 .5 3.6 6.7 9.7-.4-1.6-.9-3.9z" fill="url(#CCn)"/><path d="M1648.2,220.5l.5 1.7 6.8-2.7-.4-.5z" fill="url(#Csp)"/><path d="M1643.5,409.5l.9 .3 1 .1 7.2-64.7-1.5 8.6-.5 2.6z" fill="url(#CSd)"/><path d="M1689.8,422.1l1 .8 .4 .2 7.6-73.2-1.5 10.8z" fill="url(#CVe)"/><path d="M1645,232.6l.9 2.6 .4 1.1 .5 .8 6.9-9.2-.5 .4-.9 .4-.5-.1z" fill="#f59f80db"/><path d="M1644.2,375.2l1 8.5 7.2 56-1-1.5z" fill="url(#Ctc)"/><path d="M1699.8,250.9l1.3 7 .9 3.4 .9 2.6 .9 1.6 .5 .5 6.8-18-.5 2.2-.9 3.7-1 2.9-.9 1.9-.9 .9-.5 .1z" fill="url(#CKo)"/><path d="M1701.5,218.6l.8 7.3 .4 3.5 6.5 12.8-1.3-4.6z" fill="url(#Cxq)"/><path d="M1590.8,346.6l.4-.9 6.9-42.6-.4 2.6z" fill="url(#Ctf)"/><path d="M1662.5,382.3l1 9.1 .4 4.4 6.9 81.3-1.4-.6z" fill="url(#CIb)"/><path d="M1567.9,346.4l.5 4.2 8.1 43.4-.5-2.1z" fill="#e0dbd8db"/><path d="M1597.8,218.9l.9-4.9 6.9-14.7-.9 5.4z" fill="url(#Coo)"/><path d="M1605.2,443.3l.9-1.9 6.7-110.3-.9 8.7z" fill="url(#Cmc)"/><path d="M1495.7,334.7l.5 3.9 .6 3.8 7.5-8.4-1.1-7.5z" fill="url(#CRb)"/><path d="M1673.2,302.9l.4-1.1 7.1-39-.5 3.5z" fill="#f5c2aadb"/><path d="M1629,269.5l.5 2.8 .9 5.1 .9 4.6 7-3.6-.9-1.4-1.4-3.4z" fill="url(#CKk)"/><path d="M1656.9,219.6l.4-.4 .9-1.4 6.8-16.8-1.4 5.2z" fill="#f18f71db"/><path d="M1675.9,357l1.4 11.8 .4 3.7 6.9 26.3-1.5-1-.4-.6z" fill="#d6dce4db"/><path d="M1591.7,229.1l.9-4.9 6.9-15.7-.8 5.5z" fill="url(#Cnn)"/><path d="M1605.4,279.5l.8-4.2 7-27-.4 3.2-.5 3z" fill="url(#CEk)"/><path d="M1636.3,363.5l1-2.5 7-60-.9 7.7z" fill="url(#CMg)"/><path d="M1610.3,198.6l.5-2.4 .4-2.5 6.9-13.1-.9 5.2z" fill="url(#Cgq)"/><path d="M1669.5,322.6l.5 .1 .4-.1 7.1-31-1 5.3z" fill="#f2c9b4db"/><path d="M1638.3,278.4l.9 .7 .9-.1 1-.7 6.9-28.4-.5 2.2-1.3 5.4-.9 2.6z" fill="url(#CIl)"/><path d="M1617.2,200.4l.9 7.7 7 1.5-1-7z" fill="url(#Cnp)"/><path d="M1705.2,341.3l.5 2.6 .9 4.6 .9 3.9 .4 1.7 1 2.9 1.3 3 7.3-44.2-2 10.6-1.5 5.8-1 3-.9 2.2z" fill="url(#Chj)"/><path d="M1566.9,508.5l1.8 0 5.1-199.3-1.8 12.9z" fill="url(#Cg)"/><path d="M1598.9,417.8l.9-2.3 6.7-94.5-.9 8.3z" fill="url(#CWc)"/><path d="M1606.4,220.1l.5 3.9 .5 3.7 7 2.8-.5-3.3-.4-3.4z" fill="url(#Cpn)"/><path d="M1538.7,392.4l.8-4.6 6.3-72.1-.7 8.3z" fill="#e4d9d2db"/><path d="M1661.2,291.6l.5 3.3 .4 3.1 6.9 16-.9-1.3z" fill="url(#CRj)"/><path d="M1672.5,356.2l1.3 9 7 4-.5 .2-.9 0z" fill="url(#CVf)"/><path d="M1709.9,251.3l.9-2.2 6.9-32.3-1 6.6z" fill="#f7a889db"/><path d="M1677.2,216.2l.5 3.1 6.6 3.5-.4-1.5z" fill="url(#Cqq)"/><path d="M1633.8,365.6l.5 3.4 .5 3.3 7.3 36.3-1-.9z" fill="#d5dbe5db"/><path d="M1625.6,279.4l.5 3.2 .9 6 7.1 3.5-1.4-4.3z" fill="url(#CKj)"/><path d="M1625,344.9l.4 3.6 .5 3.5 7.4 39.6-1-1.5z" fill="#dddcdcdb"/><path d="M1682.2,252.2l.9-2.5 6.9-33.9-.9 6.2z" fill="#f6a586db"/><path d="M1664,314l.4 2.3 1.4 5.7 .5 1.5 1.4 3.9 .9 1.8 .9 1.2 7.1-23.7-1 4.1-.9 3.5-.5 1.6-1 2.6-.9 2-.9 1.3-.5 .5z" fill="url(#CTi)"/><path d="M1559.2,242.6l.9 6.2 7.2-7.8-1-5.8z" fill="url(#Cvk)"/><path d="M1480.9,355l.6 4 .5 4 7.7-8.4-1.1-7.8z" fill="url(#CB)"/><path d="M1517.2,302.8l1.1 7.2 7.4-8.3-1.1-6.9z" fill="url(#Cje)"/><path d="M1622.6,289.4l1 7 7.1 10.2-.9-3.5z" fill="url(#CJi)"/><path d="M1646.8,237.1l.9 1.2 .5 .3 .4 .2 .9-.3 6.9-17.4-.5 1.6-.9 2.6-1.3 2.6z" fill="url(#Cxo)"/><path d="M1620,327.9l.4 4.1 .5 3.9 7.4 39.3-.9-2.8z" fill="#e8d6ccdb"/><path d="M1706.5,341.1l.9 6.8 6.6 13.1-.9 .8z" fill="#e5d8d1db"/><path d="M1538.4,272l1 6.7 7.3-8.1-1-6.3z" fill="url(#Cvh)"/><path d="M1610.1,267.5l.5-2.3 .4-2.4 6.9-26.3-.8 6.6z" fill="url(#CDl)"/><path d="M1558.1,297l.8-5.8 7-27.3-.4 3.5-.4 3.5z" fill="url(#Cxh)"/><path d="M1644.1,229.2l.9 3.4 6.8-4-.9-.8z" fill="url(#Cwo)"/><path d="M1569.3,317.2l1 6.2 7.5 13.1-.9-3.5z" fill="url(#Cte)"/><path d="M1635.7,245.6l1.3 6.5 1.4 5.2 .9 2.6 .9 2 .5 .7 6.9-14.4-.9 1.4-.4 .4-.5 .3-.9 0-.5-.3-.9-1.1-.9-1.8z" fill="url(#CAm)"/><path d="M1601.5,289.4l.4-1.9 7-28.3-.5 3.1z" fill="url(#CEj)"/><path d="M1670.8,477.1l1.4 .1 7.8-119-1.6 12.8z" fill="url(#Cyc)"/><path d="M1609.9,384.7l1.9-16 8.1 124.6-1.9-2.7z" fill="url(#Cm)"/><path d="M1640.7,262.6l.9 .9 .5 .2 .9-.1 .4-.3 7-23.7-1.4 5.1-.9 2.5-.5 1z" fill="url(#CBm)"/><path d="M1639.4,235.5l1.4 5.9 .9 3.2 .9 2.5 .9 1.8 6.9-11.5-.9 1.1-.9 .3-.4-.2-.5-.3-.9-1.2-.5-.8z" fill="url(#Cwn)"/><path d="M1545,338l.8-5.9 6.8-41.3-.4 4-.4 3.9z" fill="url(#Cne)"/><path d="M1539.5,371.5l.8-5.4 6.6-58.8-.4 4.2-.4 4.1z" fill="#ecd3c5db"/><path d="M1643.5,248.9l.9 1.1 .5 .3 .9 0 .5-.3 6.9-20-1 3.2-.9 2.5-.9 1.7z" fill="url(#Cxn)"/><path d="M1628.7,369.6l1.5 14.6 7.7 126.2-1.5-.8z" fill="url(#Cp)"/><path d="M1675.4,290.1l.5-1.4 7-40.9-.5 3.6z" fill="#f7b99edb"/><path d="M1572.5,221.8l1 6 7-7.5-.9-5.6z" fill="url(#Com)"/><path d="M1703.5,329.5l.4 3.2 .9 5.9 .4 2.7 6.9-3.9-.5 .8-.5 .6-.9 .7z" fill="url(#Cgj)"/><path d="M1541.8,353.7l.8-5.8 6.7-48.9-.4 4.1-.4 4.1z" fill="#f0cdbbdb"/><path d="M1663.1,309.1l.9 4.9 6.9 8.3-.5 .3-.4 .1z" fill="#f2cbb7db"/><path d="M1620.1,297.9l.5 3.9 7.2 19-.4-2.1z" fill="url(#CLh)"/><path d="M1586.2,259.3l1 7.2 7.3 6.3-.5-2.6-.5-2.9z" fill="url(#CBj)"/><path d="M1618.5,306.5l.5 4.2 7.3 27-.5-2.1z" fill="url(#CDg)"/><path d="M1682.7,397.2l.4 .6 7.4-60.6-.5 3.1z" fill="url(#CXf)"/><path d="M1677.7,277.1l.5-1.5 7-39.9-.5 3.6z" fill="#f7b194db"/><path d="M1571.5,344.5l.5 4.7 8.4 73.7-.5-1.9z" fill="#d8dce2db"/><path d="M1585.7,201.7l.9 5.9 7-7.1-.9-5.6z" fill="url(#Cno)"/><path d="M1732.1,305l.4 3.1 1.3 7.8 .9 4.2 .4 1.7 .9 2.9 .5 1.1 7.1-33.8-1 5.6-1.6 6.7-1.4 4.6-1 1.9z" fill="url(#Ccm)"/><path d="M1636.5,346.4l.9-2.8 7-57.6-.4 3.9-.5 3.7z" fill="#f2cbb7db"/><path d="M1598.7,182.5l1 5.7 6.9-6.8-.9-5.4z" fill="url(#Cfq)"/><path d="M1673.2,222.9l.4 3.5 6.7 7.5-.4-1.9z" fill="url(#Cxp)"/><path d="M1594.1,315.2l1.3-4.4 7-34.2-.5 2.9-.8 5.4z" fill="#f6bea4db"/><path d="M1566.5,334.6l.5 3.8 .5 3.7 7.8 27.7-.9-4.1z" fill="url(#CPc)"/><path d="M1581.8,269.7l.5 3.6 .5 3.4 7.3 7.5-.5-2.5-.5-2.7z" fill="url(#CAi)"/><path d="M1577.8,280.8l1 6.7 7.3 8.6-.9-4.7z" fill="url(#CCh)"/><path d="M1757.1,261.5l.4 3.2 1.3 8.5 .8 4.4 .9 3.4 .9 2.2 7-31-1 5.6-1.6 6.6-1 3-1 1.9-.4 .6z" fill="url(#CQp)"/><path d="M1568.8,271.3l.4-2.7 .4-2.9 7-22.2-.4 3.3-.4 3.2z" fill="url(#Cxj)"/><path d="M1638.7,295.4l.9-1.5 6.9-35.7-.4 2.7-.5 2.5z" fill="#f7b89cdb"/><path d="M1594.9,391l.9-2.4 6.7-77.2-.8 7.4z" fill="url(#CHd)"/><path d="M1678,424.3l.5-3.9 1.6-12.1 6.6 82.8-1-1.2-.9-1.4z" fill="url(#Cab)"/><path d="M1616.3,468.1l.4-.4 6.8-125.6-.4 4.1z" fill="url(#CAb)"/><path d="M1673.6,541.4l1.5 1.1 8.1-159.7-1.6 12.9z" fill="url(#Cx)"/><path d="M1509.7,310.7l1.1 7.6 7.5-8.3-1.1-7.2z" fill="url(#Ctd)"/><path d="M1574.2,291.9l1 6.4 7.4 10-.9-4.3z" fill="url(#Csg)"/><path d="M1679.9,264.5l1-3.2 7-38.4-.5 3.4-.5 3.4z" fill="#f59d7edb"/><path d="M1551.9,250l1 6.5 7.2-7.7-.9-6.2z" fill="url(#Cvj)"/><path d="M1563.4,283.1l.5-2.8 .4-3 7-24.7-.9 6.8z" fill="url(#Cwi)"/><path d="M1549,322.3l.4-2.9 .4-3.1 6.9-35.9-.4 3.8-.4 3.8z" fill="url(#Ckf)"/><path d="M1713.3,375.1l1.4 2.4 .4 .6 7.5-52-1.6 10-.5 2.9z" fill="url(#Cii)"/><path d="M1643.7,370.9l.5 4.3 7.2 63-.5-.8z" fill="#cfdaeadb"/><path d="M1713.3,360.4l1.8 10.3 .9 4.2 1.4 5.2 .9 2.7 7.2-28.8-1.6 7.6-1.5 6.2-1.5 4.8-1 2.4z" fill="url(#Cmh)"/><path d="M1684.2,364.2l1.3 12.3 6.7 46.8-1-.2-.4-.2z" fill="url(#CZd)"/><path d="M1576.1,506.5l.5-.2 5.4-183.2-.5-3.8z" fill="url(#Ch)"/><path d="M1699.5,435.8l.5 .4 7.6-65.2-.6 3.6z" fill="url(#Cde)"/><path d="M1531,279.7l1 7.1 7.4-8.1-1-6.7z" fill="url(#Ckg)"/><path d="M1638.1,376.7l.4-1.1 7.1-63.3-.4 3.8z" fill="url(#CLf)"/><path d="M1637.6,312.2l.9-2.3 7-43.9-.4 3.2-.5 3z" fill="#f6bea4db"/><path d="M1646,209.5l1.3 7.1 .9 3.9 6.9-1.5-.5-.7-.9-2-.4-1.3-.5-1.6z" fill="url(#Csp)"/><path d="M1698.5,242.2l1.3 8.7 6.6 8.8-.5-.2-.9-1.1z" fill="url(#CJo)"/><path d="M1660.3,270.2l1 7.7 .4 3.6 6.8 20-1.3-4.6z" fill="url(#CRk)"/><path d="M1661.8,259.9l.4 4 .5 3.9 6.8 19.7-.9-3.8z" fill="url(#CPl)"/><path d="M1617.8,312.4l.5 4.3 .5 4.2 7.3 34.9-.9-4z" fill="#edd1c2db"/><path d="M1630.7,222.4l.9-6.2 6.8-22.2-.4 3.5-.5 3.6z" fill="url(#Cpp)"/><path d="M1685.8,237.2l.4-1.5 6.9-31.4-.5 3z" fill="#f49a7bdb"/><path d="M1622.3,187.4l.9 7.7 6.9 1.3-.9-7.3z" fill="url(#Chq)"/><path d="M1591.9,329l1.4-3.7 6.9-39.2-.4 2.7-.4 2.7-.5 2.6z" fill="#f4c5addb"/><path d="M1639.8,392l.5-.6 .9-1.5 7.2-65.9-1.4 10.4z" fill="url(#CJe)"/><path d="M1758.3,277.6l.9 5.6 1.3 6.5 .4 1.7 .9 2.6 7-28.2-1.1 5.7-1.5 6.7-1 3.2-.5 1.2z" fill="url(#CXo)"/><path d="M1553.5,308l.4-3 .4-3.1 7-31.4-.4 3.7-.4 3.7z" fill="url(#Cng)"/><path d="M1615.3,254.5l.9-5.4 6.9-25.7-.9 6.9z" fill="url(#Cvm)"/><path d="M1600.7,226.4l1 7.8 7.1 3.9-.5-3.3-.5-3.4z" fill="url(#Csm)"/><path d="M1670.4,322.6l.5-.3 .5-.5 7-36.1-.9 5.9z" fill="#f4c5addb"/><path d="M1580.3,247.7l.4-2.7 .5-2.8 6.9-18.7-.8 6.2z" fill="url(#Cxl)"/><path d="M1541,415.5l.9-3.5 6-95.6-.8 8z" fill="url(#Cnb)"/><path d="M1669.6,230.7l.4 3.7 6.7 11.3-.4-2.1z" fill="url(#CBo)"/><path d="M1673.6,301.8l1-2.6 7-43.6-.5 3.7-.4 3.5z" fill="#f7b396db"/><path d="M1574.6,258.8l.4-2.8 .4-2.9 7-20.4-.4 3.3-.4 3.2z" fill="url(#Cwk)"/><path d="M1671.5,349.6l1 6.6 6.9 13.2-.5-.1-.4-.3z" fill="url(#CUf)"/><path d="M1591.2,345.7l.9-2.1 .5-1.2 6.9-47.6-.5 2.9-.9 5.4z" fill="url(#Cuf)"/><path d="M1632.9,358.6l.9 7 7.3 42.1-.9-1.1z" fill="#dadce0db"/><path d="M1658.2,217.8l.9-2.1 6.8-19-.9 4.3z" fill="#ee8669db"/><path d="M1548.7,453.4l1.4-2.3 5.4-139-1.2 11.1z" fill="url(#CH)"/><path d="M1565.4,228.9l.9 6.3 7.2-7.4-1-6z" fill="url(#Cwl)"/><path d="M1590.6,246.4l1 7.6 7.2 5.8-.5-3-.4-3.2z" fill="url(#CAk)"/><path d="M1757.2,248.8l.8 6 .9 5.2 .8 4.1 .9 3.1 .4 1.1 .5 .9 7-31.9-1.5 7.6-1.1 3.9-1.4 3.8-1 1.2z" fill="url(#COq)"/><path d="M1584.1,339.9l1.6 13.5 8.6 108.6-1.5-2.6z" fill="url(#CM)"/><path d="M1637.9,510.4l1.4 .6 7.2-166.6-1.4 11.8z" fill="url(#CU)"/><path d="M1637,328.8l1-2.9 7-52.2-.9 7.1z" fill="#f5c2aadb"/><path d="M1689.6,494.2l1.4 1.3 8-110.9-1.5 11.5z" fill="url(#CNb)"/><path d="M1662.1,303.5l1 5.6 6.9 13.6-.5-.1-.5-.2z" fill="#f3c8b2db"/><path d="M1660.3,284.6l.9 7 6.9 21.1-.9-2z" fill="url(#CQj)"/><path d="M1663.6,247.8l.5 4.1 .4 3.9 6.8 17.5-.9-4.4z" fill="url(#CGm)"/><path d="M1566.8,337.7l1.1 8.7 8.1 45.5-1-4.5z" fill="#e0dbd8db"/><path d="M1653.2,228.3l.5-.4 1.3-2.6 6.9-20.2-1.4 6-.5 1.7z" fill="#f18f71db"/><path d="M1636.2,211.1l.5-3.2 .4-3.4 6.8-21.1-.9 7z" fill="url(#Cjq)"/><path d="M1637.3,361l.4-1.5 7.1-62.5-.5 4z" fill="#efcebddb"/><path d="M1671.8,313.1l1.4-2.9 7.1-43.2-.5 3.5-.5 3.5-.5 3.3z" fill="#f6bda2db"/><path d="M1734.7,318.8l.9 5.4 1.3 6.5 .9 3.4 .9 2.5 7.1-30.9-1.5 8.3-1.6 6.4-1 3.2-.5 1.3z" fill="url(#Ckl)"/><path d="M1731.2,298.4l.9 6.6 6.5 5.8-1 1z" fill="url(#Cbm)"/><path d="M1704.3,266l.5 .2 .4 0 1-.7 6.9-28-.5 2.8-1 5.3-.5 2.4z" fill="#f6a586db"/><path d="M1624,337.5l1 7.4 7.3 45.2-.9-1.8z" fill="#e3d9d3db"/><path d="M1669.1,340.5l.5 2.5 1.4 6.7 .9 4 .5 1.8 .9 3.2 .5 1.5 7.1-24.9-1 2.9-.9 2.3-1.5 2.6-1.4 1.5z" fill="url(#Cah)"/><path d="M1604.7,204.7l.9-5.4 6.9-14-.4 2.9-.5 2.8z" fill="url(#Cmp)"/><path d="M1704.4,411.1l1.4 7.5 2.7 12.6 1.9 6.8 7.3-33.4-3 12.1-1.5 4.9-2 5.5z" fill="url(#Cqd)"/><path d="M1757.5,271.1l.4 3.4 .4 3.1 6.4 5-1 1.5z" fill="#f7b599db"/><path d="M1625.6,231.9l.4-3 .5-3.1 6.8-23.5-.8 7.1z" fill="url(#Cso)"/><path d="M1666.4,239.2l.4 3.9 6.8 15.2-.5-2.3z" fill="url(#CBn)"/><path d="M1592.3,366.2l1.4-3.4 6.8-61.8-.4 3.3-.5 3.1-.4 3.1z" fill="url(#Cye)"/><path d="M1712,351l1.3 9.4 6.6 14.6-.4 1-1 1.5z" fill="#e3d9d3db"/><path d="M1705.2,329.7l.8 7.8 .5 3.6 6.6 20.7-.5 .1-.5 0-.4-.3z" fill="#edd2c3db"/><path d="M1595.5,235.3l.4 3.9 .5 3.8 7.2 5-1-6.6z" fill="url(#CAl)"/><path d="M1698.9,223.7l.4 3.6 .5 3.6 .4 3.4 6.5 15.9-1.4-4.6z" fill="url(#CEp)"/><path d="M1707.8,258.7l.9-1.9 7-32.4-.5 3.3-.5 3.1z" fill="#f7a688db"/><path d="M1656.6,443.7l1.4 .4 7.5-102.1-1.5 10.7z" fill="url(#Cid)"/><path d="M1620.5,242.6l.8-5.9 6.9-24.7-.8 7.1z" fill="url(#Crn)"/><path d="M1578.6,208.6l1 6.1 7-7.1-.9-5.9z" fill="url(#Cmn)"/><path d="M1570.5,298.8l.5 3.3 1 6.4 7.5 12.1-.9-4-.5-2.2z" fill="url(#Cqf)"/><path d="M1473.1,363.1l.6 4.2 7.8-8.3-.6-4z" fill="url(#Ca)"/><path d="M1502.1,318.7l1.1 7.8 7.6-8.2-1.1-7.6z" fill="url(#CGc)"/><path d="M1598,300l.9-3.7 6.9-32.1-.4 3.1-.4 2.9z" fill="#f7b89cdb"/><path d="M1661.6,373l.9 9.3 6.9 94.2-.5-.2-.5-.3z" fill="url(#CHb)"/><path d="M1733.8,312.6l.9 6.2 6.5 6.1-.5 1-.5 .9z" fill="#f4c6afdb"/><path d="M1544.7,257.5l1 6.8 7.2-7.8-1-6.5z" fill="url(#Cui)"/><path d="M1732.2,298.8l.8 4.4 .9 3.5 1.4 3.6 .4 .8 7.2-39.4-1.5 8.3-1.5 6.4-1 3z" fill="url(#CWm)"/><path d="M1611.1,204.8l.5 4 .5 3.9 7 2.7-1-7.3z" fill="url(#Cqo)"/><path d="M1591.8,189l.9 5.9 7-6.7-1-5.7z" fill="url(#Clp)"/><path d="M1675.9,206.4l.5 3.3 .8 6.5 6.7 5.1-1.3-6z" fill="url(#Cqq)"/><path d="M1631.4,252.5l.5 2.7 .9 5.1 .5 2.4 6.9-.8-.9-2-.9-2.6z" fill="url(#CHl)"/><path d="M1523.6,287.4l1 7.4 7.4-8-1-7.1z" fill="url(#Cgf)"/><path d="M1641.8,218l.9 4.9 1.4 6.3 6.8-1.4-.4-.7-.9-2.1-.9-2.8z" fill="url(#Cwo)"/><path d="M1586.5,235.4l.8-5.7 7-17.3-.9 6.2z" fill="url(#Cpm)"/><path d="M1669.5,330.4l.5 .4 .9 .4 7.1-31.8-.5 2.6-.9 4.7z" fill="url(#CUi)"/><path d="M1702.6,322.5l.9 7 6.7 10-1 .1z" fill="url(#Cfj)"/><path d="M1601.9,287.5l.9-4.3 6.9-30.3-.4 3.2-.4 3.1z" fill="url(#CFj)"/><path d="M1691.2,423.1l1 .2 .5-.1 7.7-85.2-1.6 11.9z" fill="url(#CVe)"/><path d="M1692.4,554.5l1.5 .9 8.5-158.2-1.3-13.9z" fill="url(#CA)"/><path d="M1566.4,319.8l.5 3.5 1 6.8 7.7 19.7-.4-1.9-.5-2-.5-2.1z" fill="url(#CCd)"/><path d="M1652.1,510.4l1.5-1 .4-.4 7.6-136-1.5-14-.4-4.7z" fill="url(#CW)"/><path d="M1606.1,441.4l.9-2.2 6.7-116.8-.9 8.7z" fill="url(#Cmc)"/><path d="M1699.5,262l1.3 5.4 .9 2.6 1 1.8 .4 .6 6.9-18.1-.5 2.1-1 3.6-.5 1.5-1.4 3.3-.4 .7z" fill="url(#CLn)"/><path d="M1710.8,249.1l1-3.2 6.9-36-1 6.9z" fill="#f18f71db"/><path d="M1730,284.3l.4 3.3 .9 6 .9 5.2 6.7-9.4-.5 1.2-1 1.7-.9 .7z" fill="url(#CVm)"/><path d="M1598.7,214l.8-5.5 6.9-15.1-.8 5.9z" fill="url(#Coo)"/><path d="M1683.1,249.7l.9-3.6 7-36.8-1 6.5z" fill="#f18f71db"/><path d="M1621.7,282l.9 7.4 7.2 13.7-.9-4.2z" fill="url(#CJi)"/><path d="M1611.2,193.7l.4-2.7 .5-2.8 6.8-13.3-.8 5.7z" fill="url(#Cgq)"/><path d="M1487.4,338.7l.6 4.1 .6 4 7.6-8.2-.5-3.9-.6-4z" fill="url(#Cfb)"/><path d="M1756.3,254.4l.8 7.1 6.3 8.4-.5 .2-.5 0z" fill="url(#CPp)"/><path d="M1619,319.5l1 8.4 7.4 44.5-1-3.4z" fill="#e8d6ccdb"/><path d="M1606.2,275.3l.5-2.3 .4-2.5 7-28.8-.5 3.3-.4 3.3z" fill="url(#CEk)"/><path d="M1639,233.2l.4 2.3 6.9 .8-.4-1.1z" fill="url(#Cvn)"/><path d="M1592.6,224.2l.8-5.6 7-16.2-.9 6.1z" fill="url(#Cnn)"/><path d="M1675.9,288.7l.9-3.5 7.1-44.8-1 7.4z" fill="#f7a98bdb"/><path d="M1703,402.8l.9 5.7 .5 2.6 6.8 16-1 2.2-.5 1z" fill="#cdd9ecdb"/><path d="M1649.5,238.5l.9-1.1 .9-1.7 6.9-22.3-.9 4.1-.9 3.6z" fill="#f18f71db"/><path d="M1700.6,211.1l.9 7.5 6.4 19-.9-4.5z" fill="url(#Cwq)"/><path d="M1599.8,415.5l.9-2.7 6.7-100.2-.9 8.4z" fill="url(#CWc)"/><path d="M1645.4,409.9l.9-.1 .9-.4 7.3-76.8-.5 3.3-1.4 9.3z" fill="url(#CSd)"/><path d="M1480.3,350.8l.6 4.2 7.7-8.2-.6-4z" fill="url(#CB)"/><path d="M1672.3,215.8l.5 3.6 .4 3.5 6.7 9.1-.9-4.5z" fill="url(#Cxp)"/><path d="M1683.1,397.8l1.5 1 .4 .1 7.6-75.1-.6 3.6-1.5 9.8z" fill="url(#CYf)"/><path d="M1665.4,321.9l.5 2.3 1.3 6.2 .5 1.8 1.4 4.7 1.4 3.6 .9 1.8 1 1.4 7.1-32.4-1 4.2-1.4 5.5-1.5 4.3-.4 1.2-1.5 2.7-1.4 1.6z" fill="url(#CXh)"/><path d="M1757.1,267.6l.4 3.5 6.2 13-.5 .4z" fill="#f7b396db"/><path d="M1568.7,508.5l1.9-.2 5-206.7-.9 3-.9 4.6z" fill="url(#Cg)"/><path d="M1619.2,289.8l.9 8.1 7.3 20.8-1-4.7z" fill="url(#CLh)"/><path d="M1730.8,294.8l.4 3.6 6.4 13.4-.5 .2z" fill="#f5c1a9db"/><path d="M1558.2,236l1 6.6 7.1-7.4-.9-6.3z" fill="url(#Cvk)"/><path d="M1565.9,330.7l.6 3.9 7.9 31.1-.5-2.2z" fill="url(#COc)"/><path d="M1641.1,278.3l1.3-2.5 7-33.2-.9 5-.5 2.3z" fill="#f7a98bdb"/><path d="M1678.2,275.6l.9-3.9 7-43.3-.4 3.7-.5 3.6z" fill="#f5a081db"/><path d="M1698.2,254.8l1.3 7.2 6.7 3.5-1 .7-.4 0z" fill="url(#CKn)"/><path d="M1649.2,194.7l.9 5.5 .5 2.7 6.8 3.1-1.4-5.8z" fill="url(#Clq)"/><path d="M1617.5,297.9l1 8.6 7.3 29.1-.9-4.8z" fill="url(#CDg)"/><path d="M1700,436.2l.4 .4 1 .5 7.7-77.4-1 7.7-.5 3.6z" fill="url(#Cee)"/><path d="M1761.4,283.2l.4 .8 .5 .4 .5 .2 7.2-42.3-.5 3.4-.6 3.3-.5 3.2z" fill="url(#CRp)"/><path d="M1567.7,307.3l.6 3.4 1 6.5 7.6 15.8-1.5-6.1z" fill="url(#Cte)"/><path d="M1661.2,297.4l.5 3.1 .4 3 6.9 18.9-.4-.4-.5-.5z" fill="#f4c5addb"/><path d="M1570.4,335l1.1 9.5 8.4 76.5-.9-4z" fill="#dfdbd9db"/><path d="M1710.2,360l.5 .7 1 .9 .4 .3 7.5-59.3-.5 3.5-1.6 9.7z" fill="url(#Cij)"/><path d="M1627.6,260.4l.9 6.2 .5 2.9 7 4.1-1.4-4.8z" fill="url(#CKk)"/><path d="M1675.1,542.5l.5 .4 8.1-164.3-.5 4.2z" fill="url(#Cx)"/><path d="M1673.8,360.2l.9 2.6 .5 1.2 1.4 2.8 .9 1.3 .5 .5 7.3-52.6-.5 2.7-2 9.4-1.4 5.6-.5 1.6z" fill="url(#Cbh)"/><path d="M1540.3,366.1l.4-2.9 6.6-60.1-.4 4.2z" fill="#ecd3c5db"/><path d="M1686.2,235.7l1-3.6 6.9-33.9-1 6.1z" fill="#ee8669db"/><path d="M1545.8,332.1l.4-3.1 6.8-42.3-.4 4.1z" fill="url(#Cne)"/><path d="M1670.6,342.5l.9 7.1 7 19.4-.5-.4-.5-.5z" fill="#e8d6ccdb"/><path d="M1674.5,344.2l.9 8.6 .5 4.2 6.8 40.2-1.4-2.3z" fill="#e2dad5db"/><path d="M1494.5,326.6l.6 4.1 .6 4 7.5-8.2-1.1-7.8z" fill="url(#CRb)"/><path d="M1624.2,269.3l.9 6.8 .5 3.3 7.1 8.4-.5-1.8-.9-4z" fill="url(#CKj)"/><path d="M1638.5,375.6l1-2.6 7.1-68.6-.5 3.9-.5 4z" fill="url(#CMf)"/><path d="M1701,309.4l.5 3 .8 5.6 .9 5.1 .9 4.3 .9 3.7 1 3.1 .9 2.4 7.2-36.9-1 4.5-1.5 5.5-1.5 3.7-.5 .9-.9 1.2-1 .5z" fill="url(#Cck)"/><path d="M1646.3,250l.4-.4 .9-1.4 .5-1 6.9-25.4-.5 2.3-1.3 5.9z" fill="#f39475db"/><path d="M1605.5,212.2l.4 4 .5 3.9 7.1 3.7-.5-3.6-.5-3.7z" fill="url(#Cpn)"/><path d="M1537.3,264.9l1.1 7.1 7.3-7.7-1-6.8z" fill="url(#Cvh)"/><path d="M1659.9,281l.4 3.6 6.9 26.1-.5-1.3z" fill="#f6bda2db"/><path d="M1611,262.8l.9-5.4 6.9-27.7-.9 6.8z" fill="url(#CDl)"/><path d="M1571.5,215.4l1 6.4 7.1-7.1-1-6.1z" fill="url(#Com)"/><path d="M1616.3,192.6l.9 7.8 6.9 2.2-.9-7.5z" fill="url(#Cnp)"/><path d="M1539.5,387.8l.4-2.5 .4-2.5 6.3-75.5-.4 4.2-.4 4.2z" fill="url(#CXb)"/><path d="M1711.1,343.9l.9 7.1 6.5 26.5-1 .9z" fill="#e6d7cfdb"/><path d="M1542.6,347.9l.4-3 6.7-50.1-.4 4.2z" fill="#f0cdbbdb"/><path d="M1516.1,295.2l1.1 7.6 7.4-8-1-7.4z" fill="url(#Cje)"/><path d="M1616.7,467.7l1.4-1.4 6.8-136-1.4 11.8z" fill="url(#CBb)"/><path d="M1736.5,325.8l.9 1.5 .5 .5 .4 .2 7.4-49.3-1 7-1.1 6.3z" fill="url(#Cdm)"/><path d="M1642.3,357.6l1.4 13.3 7.2 66.5-1.4-2.8z" fill="url(#Csc)"/><path d="M1671.4,321.8l.9-1.3 7.1-41.3-.5 3.3-.5 3.2z" fill="#f6bfa6db"/><path d="M1702.1,318.9l.5 3.6 6.6 17.1-.5-.3z" fill="#f1ccb8db"/><path d="M1597.8,176.5l.9 6 7-6.5-1-5.8z" fill="url(#Cfq)"/><path d="M1718.3,382.8l.9 2.1 1 1.6 7.4-44.8-2.1 12.3z" fill="url(#Cnh)"/><path d="M1584.7,195.6l1 6.1 7-6.8-.9-5.9z" fill="url(#Cno)"/><path d="M1643.4,263.3l.9-1.2 1-2 6.9-29.4-.9 4.7-.9 4.2z" fill="#f59c7ddb"/><path d="M1639.6,293.9l1.3-3.6 7-40.9-.4 3.1-1 5.7z" fill="#f7af91db"/><path d="M1756.7,263.9l.4 3.7 6.1 16.9-.4 .1z" fill="#f7b093db"/><path d="M1593.3,325.3l.4-1.5 7-40.6-.5 2.9z" fill="#f4c5addb"/><path d="M1761.8,294l.5 .9 .9 1 7.2-40.1-.5 3.5-.6 3.3-.5 3.2z" fill="url(#CYo)"/><path d="M1573.2,284.9l1 7 7.5 12.1-1-4.8z" fill="url(#Csg)"/><path d="M1730.4,291.1l.4 3.7 6.3 17.2-.4-.1z" fill="#f6bfa6db"/><path d="M1668.7,223.1l.9 7.6 6.7 12.9-.9-5z" fill="url(#CBo)"/><path d="M1576.8,273.6l1 7.2 7.4 10.6-.5-2.6-.5-2.8z" fill="url(#CCh)"/><path d="M1638.5,309.9l.5-1.4 .5-1.6 7-47.6-.5 3.4-.5 3.3z" fill="#f7b497db"/><path d="M1595.8,388.6l.9-2.8 6.7-82-.9 7.6z" fill="url(#CId)"/><path d="M1558.9,291.2l.8-6.3 7-28.5-.4 3.8-.4 3.7z" fill="url(#Cxh)"/><path d="M1756,238.6l.4 3.5 .8 6.7 6.3 5-.5 .1-.4-.1-.5-.4z" fill="url(#CNq)"/><path d="M1659.9,266.1l.4 4.1 6.9 26.7-.5-2z" fill="url(#CQk)"/><path d="M1664.5,316.8l.9 5.1 6.9 8.9-.9 .4z" fill="#f2cab5db"/><path d="M1637.4,343.6l.9-3.5 7-62-.4 4-.5 3.9z" fill="#f5c4acdb"/><path d="M1755.9,250.6l.4 3.8 6.1 15.7-.4-.3z" fill="#f7a688db"/><path d="M1570.6,508.3l2.7-.7 2.8-1.1 5.4-187.2-1.5-9.7-1.5-6.6-1-2.3-.5-.4-.5-.1-.5 .5-.4 .9z" fill="url(#Ch)"/><path d="M1627.2,355.7l1.5 13.9 7.7 140-1.4-.8z" fill="url(#Cp)"/><path d="M1592.6,342.4l.4-1.3 6.9-49.3-.4 3z" fill="url(#Cuf)"/><path d="M1667.8,332.5l.4 2.8 .9 5.2 7 4.1-.9 .4-.5 .1z" fill="url(#CZg)"/><path d="M1761.5,269.2l.5 .6 .4 .3 .5 0 7.2-42-1.6 9.2z" fill="url(#CPq)"/><path d="M1585.3,251.7l.9 7.6 7.3 8-.9-6.4z" fill="url(#CBj)"/><path d="M1580.8,262.3l.5 3.8 .5 3.6 7.3 9.3-.9-5.9z" fill="url(#CAi)"/><path d="M1697.2,232.1l.4 3.5 .9 6.6 6.5 16.2-1.3-3.6z" fill="url(#CIo)"/><path d="M1549.8,316.3l.4-3.3 6.9-36.6-.4 4z" fill="url(#Ckf)"/><path d="M1680.9,261.3l.9-4.2 7-41.2-.5 3.5-.4 3.5z" fill="#f59d7edb"/><path d="M1672.2,477.2l1.5-.3 7.8-131.8-1.5 13.1z" fill="url(#Cyc)"/><path d="M1595.4,310.8l.9-3.5 6.9-36.6-.4 3-.4 2.9z" fill="#f6bea4db"/><path d="M1631.4,347.6l1.5 11 7.3 48-1.4-2.1z" fill="url(#Ced)"/><path d="M1759.3,282.6l1.7 10.8 1.3 5.6 .9 2.5 7-26.7-1.6 8.4-1.5 6.4-1 3.1-.5 1.2z" fill="url(#Cdo)"/><path d="M1637.7,359.5l1-3.3 7-67.3-.4 4.1-.5 4z" fill="url(#CNg)"/><path d="M1472.6,358.9l.5 4.2 7.8-8.1-.6-4.2z" fill="url(#Ca)"/><path d="M1566.3,333.3l.5 4.4 8.2 49.7-.5-2.4z" fill="#ecd3c5db"/><path d="M1703.1,272.4l.5 .4 .4 .1 7-23.2-1 4.6z" fill="#f7a688db"/><path d="M1623,329.6l1 7.9 7.4 50.8-.9-2.2z" fill="#e9d5cbdb"/><path d="M1550.9,243.2l1 6.8 7.3-7.4-1-6.6z" fill="url(#Cvj)"/><path d="M1611.8,368.7l1.8-15.8 8.2 143-1.9-2.6z" fill="url(#Cm)"/><path d="M1715.1,378.1l.5 .3 1 .3 7.6-63.8-.6 3.9-1 7.3z" fill="url(#Cji)"/><path d="M1706.2,265.5l.4-.7 7-30.3-.5 3z" fill="#f6a586db"/><path d="M1682.8,351l1.4 13.2 6.6 58.7-1-.8-.5-.5z" fill="url(#CYd)"/><path d="M1659.1,215.7l.9-2.9 .5-1.7 6.8-21.5-1.4 7.1z" fill="url(#Cnq)"/><path d="M1660.9,251.7l.4 4.1 .5 4.1 6.8 23.8-.5-2.3-.4-2.5z" fill="url(#CPl)"/><path d="M1554.3,301.9l.4-3.2 7-32.1-.4 3.9z" fill="url(#Cng)"/><path d="M1738.7,336.6l.5 .9 .9 1.3 7.3-43.1-1.1 6.8-.5 3.2z" fill="url(#Cll)"/><path d="M1700.7,386.8l2.3 16 6.7 27.5-2 3.4-.5 .7z" fill="url(#Cpd)"/><path d="M1665.5,231.2l.4 4 .5 4 6.7 16.8-.9-5.2z" fill="url(#CBn)"/><path d="M1616.8,303.5l.5 4.5 .5 4.4 7.4 39.4-.5-2.2-.4-2.4z" fill="#f2cab5db"/><path d="M1641.2,389.9l1-1.7 7.1-71.5-.5 3.7-.4 3.6z" fill="url(#CJe)"/><path d="M1660.8,294.1l.4 3.3 6.9 24.1-.5-.7z" fill="#f7bca1db"/><path d="M1731.7,294.1l.4 4 1.3 11.1 .4 3.4 6.4 14.2-.4 .6-1 .6-.5 0-.4-.2z" fill="#f4c6afdb"/><path d="M1710.4,438l.9 3 2.9 7.7 7.7-65.4-2.1 11.4-2.1 9.9z" fill="url(#Crd)"/><path d="M1569.6,265.7l.4-3.1 .4-3.2 7-22.9-.4 3.5-.4 3.5z" fill="url(#Cxj)"/><path d="M1697.3,249.2l.4 2.9 .5 2.7 6.6 11.4-.5-.2-.5-.5z" fill="url(#CJn)"/><path d="M1633.8,235.1l1 5.5 .9 5 6.9 1.5-.9-2.5-.9-3.2z" fill="url(#Czm)"/><path d="M1674.6,299.2l.9-3.5 7.1-47.6-.5 3.7-.5 3.8z" fill="#f7b396db"/><path d="M1655,225.3l.9-2.6 6.9-22.2-.9 4.6z" fill="#ed8366db"/><path d="M1680.1,408.3l1.5-12.6 6.5 97.1-.4-.5-1-1.2z" fill="url(#Cab)"/><path d="M1701.7,315.1l.4 3.8 6.6 20.4-.4-.4z" fill="#f2cab5db"/><path d="M1708.7,256.8l1-2.9 7-36.2-.5 3.4-.5 3.3z" fill="#f18f71db"/><path d="M1698.5,220l.4 3.7 6.4 21.9-.4-2.1z" fill="url(#CDp)"/><path d="M1530,272.4l1 7.3 7.4-7.7-1.1-7.1z" fill="url(#Ckg)"/><path d="M1659.4,277.2l.5 3.8 6.8 28.4-.4-1.6z" fill="#f7b99edb"/><path d="M1729.2,277.3l.8 7 6.5 8.7-.5 0-.4-.2z" fill="url(#CUm)"/><path d="M1729.8,270.1l.4 2.9 .9 5.4 .8 4.5 .9 3.8 .5 1.5 .9 2.5 .4 .9 .5 .7 7.1-37.4-2 9.6-1.5 5.1-1 2.2-.4 .8-1 .8z" fill="url(#CVn)"/><path d="M1664,314.1l.5 2.7 6.9 14.4-.5 0z" fill="#f5c2aadb"/><path d="M1670.9,331.2l.5 0 .9-.4 7.2-39.8-1 5.7-.5 2.7z" fill="url(#CVi)"/><path d="M1638,325.9l.9-3.5 7-56.2-.9 7.5z" fill="#f7ba9fdb"/><path d="M1508.6,302.9l1.1 7.8 7.5-7.9-1.1-7.6z" fill="url(#Ctd)"/><path d="M1564.3,277.3l.8-6.4 7-25.6-.8 7.3z" fill="url(#Cwi)"/><path d="M1541.9,412l.8-3.8 6-99.8-.4 4-.4 4z" fill="url(#Cnb)"/><path d="M1564.4,222.3l1 6.6 7.1-7.1-1-6.4z" fill="url(#Cwl)"/><path d="M1618.5,315.1l.5 4.4 7.4 49.5-.4-1.8z" fill="#f1ccb8db"/><path d="M1691,495.5l.5 .4 1 .7 8.1-124-1.6 12z" fill="url(#COb)"/><path d="M1583.1,331.2l1 8.7 8.7 119.5-.9-1.9z" fill="url(#CL)"/><path d="M1644.6,201.3l1.4 8.2 6.8 3.9-1.3-5.8z" fill="url(#Csp)"/><path d="M1479.7,346.6l.6 4.2 7.7-8-.6-4.1z" fill="url(#CB)"/><path d="M1581.2,242.2l.4-3 .4-3.2 7-19.1-.9 6.6z" fill="url(#Cyl)"/><path d="M1755.5,246.8l.4 3.8 6.1 19.2-.5-.6z" fill="#f6a385db"/><path d="M1637.1,222.9l1 5.4 .9 4.9 6.9 2-.9-2.6-.9-3.4z" fill="url(#Cvn)"/><path d="M1662.7,239.6l.5 4.2 .4 4 6.8 21.1-.9-5.3z" fill="url(#CFm)"/><path d="M1710.2,336.2l.9 7.7 6.4 34.5-.5 .2-.4 .1z" fill="url(#Clh)"/><path d="M1616.2,249.1l.9-6 6.9-26.7-.9 7z" fill="url(#Cvm)"/><path d="M1703.9,317.2l.4 4.3 .9 8.2 6.5 31.9-1-.9-.5-.7z" fill="#edd2c3db"/><path d="M1598.9,296.3l.8-4.2 7-34.2-.4 3.2-.5 3.1z" fill="#f7af91db"/><path d="M1621.4,179.9l.9 7.5 6.9 1.7-.9-7.7z" fill="url(#Chq)"/><path d="M1631.6,216.2l.9-6.8 6.8-22.4-.4 3.4-.5 3.6z" fill="url(#Cpp)"/><path d="M1755.9,256.1l.4 3.9 .4 3.9 6.1 20.7-.5-.2-.5-.4z" fill="#f6a586db"/><path d="M1660.1,359l1.5 14 6.8 103-1.4-1.2z" fill="url(#CHb)"/><path d="M1577.7,202.2l.9 6.4 7.1-6.9-1-6.1z" fill="url(#Cmn)"/><path d="M1676.8,285.2l.5-2.1 7.1-46.5-.5 3.8z" fill="#f7a98bdb"/><path d="M1575.4,253.1l.4-3.1 .4-3.2 7-20.9-.4 3.5-.4 3.3z" fill="url(#Cxk)"/><path d="M1607.1,270.5l.5-2.6 6.9-29.6-.4 3.4z" fill="url(#CEk)"/><path d="M1565.9,316.2l.5 3.6 7.8 24-.5-2.2z" fill="url(#CBd)"/><path d="M1590.8,182.9l1 6.1 6.9-6.5-.9-6z" fill="url(#Clp)"/><path d="M1703.8,411l1.3 13.3 6.3 73.4-1.5 1z" fill="url(#Ceb)"/><path d="M1599.8,218.5l.9 7.9 7.1 5-.4-3.7-.5-3.7z" fill="url(#Csm)"/><path d="M1758.1,272.5l1.2 10.1 6.3 11.3-1 1.6-.5 .4z" fill="#f7ad90db"/><path d="M1735.7,311.1l1 .8 .4 .1 7.4-50.1-.5 3.4-.5 3.3-.6 3.1z" fill="url(#CXm)"/><path d="M1605.6,199.3l.8-5.9 6.9-14-.4 2.9-.4 3z" fill="url(#Cmp)"/><path d="M1729.5,283.1l.4 4.1 .5 3.9 6.3 20.8-1-.8z" fill="#f7ba9fdb"/><path d="M1589.7,238.6l.9 7.8 7.3 7.2-.5-3.4-.5-3.5z" fill="url(#CAk)"/><path d="M1669.7,335.1l.5 3.8 .4 3.6 6.9 25.6-.9-1.3z" fill="#efcebddb"/><path d="M1673.2,310.2l.9-2.9 7.2-47.6-.5 3.7-.5 3.6z" fill="#f7b093db"/><path d="M1564.9,322.9l.5 3.9 .5 3.9 8 32.8-.5-2.3-.5-2.4z" fill="url(#COc)"/><path d="M1672.4,343.7l.9 .9 7.1-38-.4 2.4-.5 2.3z" fill="#f3c8b2db"/><path d="M1540.7,363.2l.4-3 6.6-61.4-.4 4.3z" fill="#f4c5addb"/><path d="M1658,444.1l1.5-.1 7.4-113.2-1.4 11.2z" fill="url(#Cjd)"/><path d="M1593.7,362.8l.9-2.9 6.8-65.6-.4 3.4-.5 3.3z" fill="url(#Cye)"/><path d="M1546.2,329l.4-3.3 6.8-43.1-.4 4.1z" fill="url(#Cne)"/><path d="M1647.2,409.4l.5-.2 7.3-79.9-.5 3.3z" fill="url(#CSd)"/><path d="M1639.3,511l1.4 .5 .5 .1 7.3-181.4-1.5 10.4-.5 3.8z" fill="url(#CU)"/><path d="M1785.2,263.6l.4 1.9 .9 3 6.7-19.6-1.6 7.6z" fill="#f6a283db"/><path d="M1550.1,451.1l1.3-2.6 5.4-146.6-1.3 10.2z" fill="url(#CH)"/><path d="M1782.3,244l.4 3.3 1.2 9.1 1.3 7.2 6.4-7.1-1 4-1 2.8-1 1.8-.5 .4z" fill="#f59c7ddb"/><path d="M1687.2,232.1l.4-2.2 7-34.8-.5 3.1z" fill="#ee8669db"/><path d="M1679.1,271.7l.5-2.2 7-44.7-.5 3.6z" fill="#f5a081db"/><path d="M1651.3,235.7l.9-2.5 6.9-24.4-.4 2.3-.5 2.3z" fill="#f18f71db"/><path d="M1666.8,326.6l.5 3 .5 2.9 6.9 12.6-.9-.3z" fill="url(#CYg)"/><path d="M1675.6,542.9l1.4 1.1 8.3-177.8-.5 4-1.1 8.4z" fill="url(#Cy)"/><path d="M1569.5,291.8l.5 3.5 .5 3.5 7.6 15.6-1-4.8z" fill="url(#Cpf)"/><path d="M1602.8,283.2l.9-4.8 6.9-32.1-.4 3.3-.5 3.3z" fill="url(#CFj)"/><path d="M1543,344.9l.4-3.2 6.7-51.1-.4 4.2z" fill="#f6bea4db"/><path d="M1706.9,336.6l1.4 2.3 .4 .4 .5 .3 7.4-54.1-1 6.1-.5 2.9-1 5.2z" fill="url(#Cdk)"/><path d="M1711.8,245.9l.9-4.2 7.1-38.7-1.1 6.9z" fill="#f18f71db"/><path d="M1620.7,274.2l1 7.8 7.2 16.9-1-4.9z" fill="url(#CJi)"/><path d="M1543.6,250.3l1.1 7.2 7.2-7.5-1-6.8z" fill="url(#Cui)"/><path d="M1607,439.2l1-2.4 6.6-122.8-.4 4.2-.5 4.2z" fill="url(#Cmc)"/><path d="M1712.1,361.9l.5 0 7.5-63-.5 3.7z" fill="url(#Cij)"/><path d="M1617.1,293.6l.4 4.3 7.4 32.9-.5-2.6z" fill="url(#CCg)"/><path d="M1684,246.1l.5-2.2 .5-2.4 7-38.8-1 6.6z" fill="#f18f71db"/><path d="M1762.8,284.6l.4-.1 .5-.4 7.4-48.9-1.1 7.1z" fill="url(#CSp)"/><path d="M1675.1,199.7l.4 3.3 .4 3.4 6.7 8.9-.9-4.9z" fill="url(#Cqq)"/><path d="M1637.1,204.5l.4-3.4 .5-3.6 6.8-20.8-.9 6.7z" fill="url(#Cjq)"/><path d="M1593.7,323.8l.9-3.2 6.9-43.4-.8 6z" fill="#f7b79bdb"/><path d="M1486.9,334.5l.5 4.2 7.7-8-.6-4.1z" fill="url(#Cfb)"/><path d="M1639.5,373l.4-1.5 7.1-71.2-.4 4.1z" fill="url(#CMf)"/><path d="M1704,272.9l.5 0 .5-.2 6.9-28.2-.9 5.2z" fill="#f6a283db"/><path d="M1630,243.7l1 5.9 .4 2.9 7 4.8-1.4-5.2z" fill="url(#CGl)"/><path d="M1594.5,227.3l.5 4 .5 4 7.1 6.1-.9-7.2z" fill="url(#CAl)"/><path d="M1691,553.5l1.4 1 8.7-171.2-1.4-13.3z" fill="url(#CA)"/><path d="M1626.5,225.8l.9-6.7 6.8-23.8-.9 7z" fill="url(#Cso)"/><path d="M1621.3,236.7l.9-6.4 6.9-25.3-.9 7z" fill="url(#Crn)"/><path d="M1762.9,270.1l.5-.2 7.3-45.1-.6 3.3z" fill="#f4987adb"/><path d="M1612.1,188.2l.4-2.9 .4-3 6.9-13-.9 5.6z" fill="url(#Cgq)"/><path d="M1587.3,229.7l.8-6.2 7-17.6-.8 6.5z" fill="url(#Cpm)"/><path d="M1699.8,203.7l.8 7.4 6.4 22-.8-5.6z" fill="url(#Cwq)"/><path d="M1671.4,208.7l.5 3.5 .4 3.6 6.7 11.7-.9-5.3z" fill="url(#Cxp)"/><path d="M1697.9,263.6l.4 2.4 1.4 6.3 .9 3.3 1.3 3.6 .9 1.6 .5 .5 6.9-23.1-.4 2.2-1.5 5.5-1 2.8-.9 2.2-1 1.4-.4 .4-.5 .2z" fill="url(#CMm)"/><path d="M1593,341.1l.9-3 6.9-52.4-.5 3.1-.4 3z" fill="url(#Cvf)"/><path d="M1599.5,208.5l.9-6.1 6.9-15-.9 6z" fill="url(#Coo)"/><path d="M1738.3,328l.5 0 7.5-53-.6 3.7z" fill="#f7ba9fdb"/><path d="M1522.5,279.8l1.1 7.6 7.4-7.7-1-7.3z" fill="url(#Cgf)"/><path d="M1639.5,306.9l.4-1.7 7-49.4-.4 3.5z" fill="#f7b497db"/><path d="M1720.2,386.5l.9 1.1 7.5-52.9-1 7z" fill="url(#Coh)"/><path d="M1600.7,412.8l.9-3.1 6.6-105.4-.8 8.3z" fill="url(#CWc)"/><path d="M1658.9,273.3l.5 3.9 6.9 30.6-.5-1.7z" fill="#f7b497db"/><path d="M1672.3,320.5l.9-2 7.2-46.1-.5 3.5-.5 3.3z" fill="#f7b89cdb"/><path d="M1755.1,242.8l.4 4 6 22.4-.5-.9z" fill="#f59f80db"/><path d="M1739.7,333.3l.5 2 1.3 5.1 7-21.8-1 5.2-1 4.5z" fill="#f3c8b2db"/><path d="M1501,310.6l.6 4 .5 4.1 7.6-8-1.1-7.8z" fill="url(#CGc)"/><path d="M1550.2,313l.4-3.4 6.9-37.3-.4 4.1z" fill="url(#Ckf)"/><path d="M1640.4,209.8l1 5.5 .4 2.7 6.9 4.2-.5-1.7-.9-3.9z" fill="url(#Cwo)"/><path d="M1736.7,313.9l.4 3.3 1.3 8.9 1.3 7.2 6.8-5-.6 1.9-1.5 4.8-1 2.2-.4 .8z" fill="#f3c8b2db"/><path d="M1610.2,197l.5 3.9 .4 3.9 7 3.3-.9-7.7z" fill="url(#Cqo)"/><path d="M1692.7,423.2l.4-.1 1-.6 7.8-97-1.5 12.5z" fill="url(#CWe)"/><path d="M1593.4,218.6l.9-6.2 6.9-16.3-.8 6.3z" fill="url(#Cnn)"/><path d="M1696.4,243l.9 6.2 6.5 16.3-.9-1.6z" fill="url(#CIn)"/><path d="M1618.2,281.4l1 8.4 7.2 24.2-.9-5.2z" fill="url(#CLh)"/><path d="M1626.7,351.3l.5 4.4 7.8 153.1-.5-.4z" fill="url(#Co)"/><path d="M1659,258l.9 8.1 6.8 28.8-.9-4.6z" fill="url(#CQk)"/><path d="M1755.2,231.2l.8 7.4 6.1 14.8-.9-1.7z" fill="url(#CMq)"/><path d="M1626.6,254l1 6.4 7 8.4-.9-3.9z" fill="url(#CJk)"/><path d="M1557.2,229.2l1 6.8 7.2-7.1-1-6.6z" fill="url(#Cvk)"/><path d="M1763.2,301.5l.5 .9 .5 .7 7.1-34.8-.5 3.3-.6 3.2z" fill="url(#Ceo)"/><path d="M1648.1,247.2l.9-2.5 6.9-27.7-.9 4.8z" fill="#f39475db"/><path d="M1650.2,511.3l1.4-.7 .5-.2 7.6-156.1-1-8.9-1-8.3z" fill="url(#CW)"/><path d="M1472,354.5l.6 4.4 7.7-8.1-.6-4.2z" fill="url(#Ca)"/><path d="M1696.8,228.6l.4 3.5 6.5 22.7-.5-1.8z" fill="#f39475db"/><path d="M1540.3,382.8l.4-2.7 6.3-77-.4 4.2z" fill="url(#CXb)"/><path d="M1699.8,379.7l.4 3.6 .5 3.5 6.5 47.6-1 1.1z" fill="url(#Cod)"/><path d="M1642.4,275.8l.5-1.2 .9-3 7-37.4-.5 2.9-.9 5.5z" fill="#f59c7ddb"/><path d="M1494,322.4l.5 4.2 7.6-7.9-.5-4.1z" fill="url(#CRb)"/><path d="M1554.7,298.7l.4-3.4 7-32.6-.4 3.9z" fill="url(#Cng)"/><path d="M1699.7,299.6l.4 3.4 .9 6.4 6.7 6.6-.4 0-1-.5z" fill="url(#Cbk)"/><path d="M1678,368.6l.5 .4 .4 .3 7.4-59-.5 2.9-.5 2.8z" fill="url(#Cbh)"/><path d="M1701.4,437.1l1 .2 .4 0 7.9-89.6-1.6 12z" fill="url(#Cee)"/><path d="M1716.6,378.7l.4-.1 7.7-67.7-.5 4z" fill="url(#Cji)"/><path d="M1685,398.9l.5 0 .5-.1 .5-.2 7.6-85.9-1.5 11.1z" fill="url(#CYf)"/><path d="M1673.6,335.3l.9 8.9 6.8 50.7-1-2.1z" fill="#e9d5cbdb"/><path d="M1569.3,325.6l1.1 9.4 8.6 82-1-4.4z" fill="url(#Cub)"/><path d="M1596.9,170.6l.9 5.9 6.9-6.3-.9-5.8z" fill="url(#Cfq)"/><path d="M1659.4,283.6l.4 3.6 1 6.9 6.8 26.7-1.3-3.3z" fill="#f7bca1db"/><path d="M1728.3,269.8l.9 7.5 6.4 15.5-.5-.5-.5-.7z" fill="url(#CTm)"/><path d="M1666.4,323.5l.4 3.1 7 18.2-.5-.2z" fill="#f4c5addb"/><path d="M1566.7,300.2l.5 3.6 .5 3.5 7.7 19.6-.9-4.6z" fill="url(#Cte)"/><path d="M1570.6,208.8l.9 6.6 7.1-6.8-.9-6.4z" fill="url(#Com)"/><path d="M1682.3,346.5l.5 4.5 6.5 70.6-.4-.6z" fill="url(#CXd)"/><path d="M1786.5,268.5l.4 1.1 .5 .8 6.9-27.6-1.1 6.1z" fill="#f59d7edb"/><path d="M1706.6,264.8l1.4-3.3 7.1-36.5-.5 3.2-1 6.3z" fill="#f39475db"/><path d="M1763.2,295.9l.5 .1 .4-.1 .5-.4 7.5-50.7-1.7 11z" fill="url(#CZo)"/><path d="M1638.7,356.2l.4-1.9 7.1-69.5-.5 4.1z" fill="url(#CNg)"/><path d="M1583.8,189.3l.9 6.3 7.1-6.6-1-6.1z" fill="url(#Cno)"/><path d="M1630.4,339.9l1 7.7 7.4 56.9-1-1.7z" fill="url(#Cdd)"/><path d="M1565.2,324.5l1.1 8.8 8.2 51.7-1-5.1z" fill="#ecd3c5db"/><path d="M1645.3,260.1l.9-2.6 6.9-32-.4 2.6-.5 2.6z" fill="#f59c7ddb"/><path d="M1622,321.5l1 8.1 7.5 56.5-1-2.7z" fill="#edd1c2db"/><path d="M1700.4,303l.4 4.1 .9 8 6.6 23.8-1.4-2.3z" fill="#f5c4acdb"/><path d="M1572.2,277.6l1 7.3 7.5 14.3-1-5.6z" fill="url(#Csg)"/><path d="M1647.9,186l.9 5.8 .4 2.9 6.8 5.5-1.3-7.5z" fill="url(#Clq)"/><path d="M1623.2,262.1l1 7.2 7.1 12.7-.9-4.6z" fill="url(#CJj)"/><path d="M1699.1,288.3l1.3 8 1.4 6.7 .4 2 1.4 4.9 .4 1.3 .9 2.2 .5 .9 7.1-35.1-1 4.4-1.4 5.3-1.5 3.8-.9 1.7-1 1-.9 .4z" fill="url(#Ccl)"/><path d="M1559.7,284.9l.4-3.4 7-28.9-.4 3.8z" fill="url(#Cxh)"/><path d="M1709.3,328.1l.9 8.1 6.4 42.5-1-.3z" fill="url(#Ckh)"/><path d="M1728.5,260.5l.4 3.4 .9 6.2 6.5 3.3-.5 .1-.9-.5z" fill="url(#CUn)"/><path d="M1641.3,348.7l1 8.9 7.2 77-.9-2.1z" fill="url(#Crc)"/><path d="M1697.6,212.7l.4 3.6 .5 3.7 6.4 23.5-.9-4.9z" fill="url(#CDp)"/><path d="M1596.7,385.8l.9-3.3 6.7-86.3-.9 7.6z" fill="url(#CId)"/><path d="M1729.1,279l.4 4.1 6.2 28-.4-.8z" fill="#f7af91db"/><path d="M1730,255.7l.9 4.8 .4 2.2 .9 3.7 .9 3.1 .9 2.2 .9 1.3 7.1-33.4-2 8.5-1.5 4.5-1 2-.9 1.1z" fill="url(#CSo)"/><path d="M1596.3,307.3l.9-3.9 6.9-39-.4 3.2-.5 3.1z" fill="#f7aa8cdb"/><path d="M1661.7,298.8l.9 6.5 1.4 8.8 6.9 17.1-.9-.4-.5-.4-.9-1.2z" fill="#f5c2aadb"/><path d="M1735.1,292.3l.5 .5 .4 .2 7.3-43.8-.5 2.9-.6 2.8z" fill="url(#CWn)"/><path d="M1640.9,290.3l1-3.4 7-43.8-.5 3.2-.5 3.1z" fill="#f59f80db"/><path d="M1536.3,257.5l1 7.4 7.4-7.4-1.1-7.2z" fill="url(#Cvh)"/><path d="M1611.9,257.4l.4-2.9 .5-3 6.9-28.8-.9 7z" fill="url(#CDl)"/><path d="M1667.8,215.5l.4 3.8 .5 3.8 6.7 15.5-.4-2.8-.5-3z" fill="url(#CBo)"/><path d="M1575.8,266.1l1 7.5 7.4 12.4-.9-6z" fill="url(#CCh)"/><path d="M1479.2,342.3l.5 4.3 7.7-7.9-.5-4.2z" fill="url(#CB)"/><path d="M1638.9,322.4l.4-2.1 7.1-57.9-.5 3.8z" fill="#f7b396db"/><path d="M1642.2,388.2l.9-2.1 7.2-76.9-.5 3.8-.5 3.7z" fill="url(#CKe)"/><path d="M1740.1,338.8l.9 .5 .5 0 7.5-54.7-1 7.5-.6 3.6z" fill="url(#Cml)"/><path d="M1730.1,225.1l1.3 6.7 1.3 5.1 1.3 3.4 .9 1.4 .5 .3 6.8-23.7-1.4 5.9-1.5 4.4-1.4 2.7-1 .8-.4 .1z" fill="url(#CFq)"/><path d="M1617.5,306.4l1 8.7 7.5 52.1-1-4.2z" fill="#f1ccb8db"/><path d="M1697,258.4l.9 5.2 6.6 9.3-.5 0-.4-.1z" fill="url(#CLm)"/><path d="M1731.3,290l.4 4.1 6.2 33.7-.5-.5z" fill="#f7b79bdb"/><path d="M1754.7,238.9l.4 3.9 5.9 25.5-.4-1.1z" fill="#f49a7bdb"/><path d="M1615.3,185.2l1 7.4 6.9 2.5-.9-7.7z" fill="url(#Cnp)"/><path d="M1638.3,340.1l.9-4.2 7.1-65.7-.5 3.9-.5 4z" fill="url(#CQh)"/><path d="M1604.5,204.4l.5 3.9 .5 3.9 7 4.3-.4-3.8-.5-3.9z" fill="url(#Cpn)"/><path d="M1515.1,287.3l1 7.9 7.5-7.8-1.1-7.6z" fill="url(#Cje)"/><path d="M1681.8,257.1l1-5.1 7-42.9-1 6.8z" fill="#ee8669db"/><path d="M1618.1,466.3l1.4-1.6 6.8-145.6-.9 7.3-.5 3.9z" fill="url(#CBb)"/><path d="M1564.9,308.8l.5 3.7 .5 3.7 7.8 25.4-1-4.7z" fill="url(#CBd)"/><path d="M1541.1,360.2l.4-3.1 6.6-62.5-.4 4.2z" fill="#f4c5addb"/><path d="M1579.8,254.5l.5 3.9 .5 3.9 7.4 10.8-1-6.6z" fill="url(#CAi)"/><path d="M1673.3,344.6l.5 .2 .9 .3 .5-.1 7.2-49.2-1 5.6-1 5.2z" fill="url(#CYh)"/><path d="M1655.9,222.7l.5-1.6 .9-3.6 6.9-24.3-1 4.9-.4 2.4z" fill="url(#Cup)"/><path d="M1546.6,325.7l.4-3.5 6.8-43.8-.4 4.2z" fill="url(#Coe)"/><path d="M1674.1,307.3l.5-1.8 7.2-49.5-.5 3.7z" fill="#f7b093db"/><path d="M1709.7,253.9l.9-3.7 7.1-39.2-1 6.7z" fill="#f18f71db"/><path d="M1647.7,409.2l.5-.3 .9-.8 7.3-89-1 6.8-.4 3.4z" fill="url(#CTd)"/><path d="M1584.3,243.8l1 7.9 7.3 9.2-1-6.9z" fill="url(#CBj)"/><path d="M1564.4,318.9l.5 4 8 35.9-.5-2.5z" fill="url(#CNc)"/><path d="M1741.5,340.4l.5 1.3 .5 1.1 .4 .9 7.2-34.1-1 6.2-.6 2.8z" fill="url(#Cmk)"/><path d="M1659.9,243.4l.5 4.2 .5 4.1 6.8 27.2-.9-5.6z" fill="url(#COl)"/><path d="M1543.4,341.7l.4-3.4 6.7-51.9-.4 4.2z" fill="#f6bea4db"/><path d="M1549.9,236.1l1 7.1 7.3-7.2-1-6.8z" fill="url(#Cvj)"/><path d="M1698.5,275.8l.4 2.4 1.4 6.2 .9 3.5 1.3 4 .9 1.9 1 1.3 7-30.6-1 4.3-1.4 5.4-1 2.9-1.4 3-.5 .7-.9 .8z" fill="url(#CVl)"/><path d="M1677.3,283.1l.5-2.3 .5-2.5 7.1-49.1-.5 3.6-.5 3.8z" fill="#f39778db"/><path d="M1672.3,330.8l1.4-1.6 7.2-47.4-.5 3.2-.4 3.1-.5 2.9z" fill="url(#CWi)"/><path d="M1565.1,270.9l.4-3.5 7-25.8-.4 3.7z" fill="url(#Cwi)"/><path d="M1652.2,233.2l1-3.2 6.8-26.2-.9 5z" fill="#eb7d62db"/><path d="M1486.3,330.2l.6 4.3 7.6-7.9-.5-4.2z" fill="url(#Cfb)"/><path d="M1664.6,223.3l.9 7.9 6.7 19.6-.8-6.1z" fill="url(#CBn)"/><path d="M1687.6,229.9l1-5.1 6.9-35.5-.9 5.8z" fill="#e67259db"/><path d="M1607.6,267.9l.8-5.6 7-30.9-.9 6.9z" fill="url(#CFk)"/><path d="M1675.5,295.7l.9-4.3 7.2-50.9-.5 3.8-.5 3.8z" fill="#f59f80db"/><path d="M1615.9,294.5l.4 4.5 .5 4.5 7.5 43.7-1-5.2z" fill="#f5c1a9db"/><path d="M1681.6,395.7l1.6-12.9 6.4 111.4-1.5-1.4z" fill="url(#Cab)"/><path d="M1754.7,244l1.2 12.1 5.9 27.9-.4-.8-.9-2.2z" fill="#f6a586db"/><path d="M1673.7,476.9l.9-.4 .5-.2 8-143.7-1.6 12.5z" fill="url(#Czc)"/><path d="M1735.8,306.8l.9 7.1 6.3 24.1-1 1z" fill="#f5c2aadb"/><path d="M1712.6,361.9l.5-.1 .9-.8 7.7-73.5-1.6 11.4z" fill="url(#Cjj)"/><path d="M1593.9,338.1l.4-1.6 6.9-54-.4 3.2z" fill="url(#Cvf)"/><path d="M1660.5,211.1l1.4-6 6.8-22.9-1.4 7.4z" fill="url(#Cnq)"/><path d="M1581.5,319.3l.5 3.8 1.1 8.1 8.8 126.3-1.4-3.4z" fill="url(#CL)"/><path d="M1720.9,360.6l.5 2.9 2.2 12.7 6.9-2.2-1 3.5-1.6 4.2-.5 1.2z" fill="#e9d5cbdb"/><path d="M1756.5,257.2l1.6 15.3 6 23.4-.4 .1-.5-.1-.9-1z" fill="#f7ad90db"/><path d="M1668.3,323.4l1.4 11.7 6.9 31.7-1.4-2.8z" fill="#efcebddb"/><path d="M1613.6,352.9l1.9-14.1 8.2 159.4-1.5-1.7-.4-.6z" fill="url(#Cn)"/><path d="M1729,233.5l.4 2.6 1.3 7.1 1.3 5.7 1.3 4.1 1 1.8 .4 .6 6.9-26.7-.9 4-1.5 4.9-1.5 3.1-.4 .7-1 .7-.5 .1-.4-.2z" fill="url(#CLp)"/><path d="M1679.6,269.5l.9-5.3 7.1-46.5-.5 3.5-.5 3.6z" fill="#f18d6fdb"/><path d="M1705,272.7l.4-.4 1-1.4 7-35-1 5.8-.5 2.8z" fill="#f4987adb"/><path d="M1563.4,215.5l1 6.8 7.1-6.9-.9-6.6z" fill="url(#Cwl)"/><path d="M1639.9,371.5l1-3.4 7.1-75.8-.5 4-.5 4z" fill="url(#CNf)"/><path d="M1702.4,397.2l1.4 13.8 6.1 87.7-1.5 .7z" fill="url(#Cdb)"/><path d="M1692.5,496.6l.9 .6 .5 .3 8.3-136.9-1.6 12z" fill="url(#COb)"/><path d="M1763.4,269.9l.4-.6 1-1.9 7.5-52.3-1.6 9.7z" fill="url(#CQq)"/><path d="M1698.4,368.4l1.4 11.3 6.4 55.8-1.4 1.2z" fill="url(#Cnd)"/><path d="M1658,265.4l.9 7.9 6.9 32.8-.9-4.1z" fill="#f7ad90db"/><path d="M1589.9,176.8l.9 6.1 7-6.4-.9-5.9z" fill="url(#Clp)"/><path d="M1787.4,270.4l.4 .6 .5 .3 7.1-35-1.1 6.5z" fill="url(#CWq)"/><path d="M1542.7,408.2l.9-4.1 5.9-103.4-.8 7.7z" fill="url(#Cnb)"/><path d="M1599.7,292.1l.9-4.7 7-36-.5 3.2-.4 3.3z" fill="url(#CDi)"/><path d="M1550.6,309.6l.4-3.5 6.9-37.8-.4 4z" fill="url(#Ckf)"/><path d="M1695.5,236.4l.9 6.6 6.5 20.9-.9-2.6z" fill="url(#CHn)"/><path d="M1727.9,265.9l.4 3.9 6.3 21.8-.4-.9z" fill="#f7a98bdb"/><path d="M1594.6,359.9l.9-3.3 6.8-69.2-.9 6.9z" fill="url(#Cze)"/><path d="M1641.2,511.6l.9 .3 7.3-187.6-.9 5.9z" fill="url(#CU)"/><path d="M1703.3,281.3l.5 .3 .9 .2 7-30.7-.5 2.5-1 4.6z" fill="url(#CNm)"/><path d="M1576.7,195.7l1 6.5 7-6.6-.9-6.3z" fill="url(#Cmn)"/><path d="M1738.8,328l1-.6 .4-.6 7.7-63.2-1.6 11.4z" fill="url(#Cem)"/><path d="M1616.1,284.7l.5 4.4 .5 4.5 7.3 34.6-.9-5.7z" fill="url(#CCg)"/><path d="M1632.4,226.3l.5 3 .9 5.8 7 6.3-1.4-5.9z" fill="url(#Czm)"/><path d="M1737.1,312l.5-.2 1-1 7.5-59.4-1.6 10.5z" fill="url(#CYm)"/><path d="M1639.9,305.2l.9-4.2 7-52.2-.9 7z" fill="#f6a586db"/><path d="M1714.2,448.7l.9 2.1 1.4 2.8 8.1-86.5-2.7 16.2z" fill="url(#Crd)"/><path d="M1695.9,221.6l.4 3.5 .5 3.5 6.4 24.4-.8-4.2z" fill="url(#CHo)"/><path d="M1528.9,264.7l1.1 7.7 7.3-7.5-1-7.4z" fill="url(#Ckg)"/><path d="M1570.4,259.4l.9-6.8 7-23.3-.4 3.6-.5 3.6z" fill="url(#Cxj)"/><path d="M1661.8,231.6l.9 8 6.8 24-.9-6.2z" fill="url(#CFm)"/><path d="M1629.9,336l.5 3.9 7.4 62.9-.4-.9z" fill="url(#Ccd)"/><path d="M1594.6,320.6l.5-1.8 .4-1.9 6.9-45.9-.9 6.2z" fill="#f7b79bdb"/><path d="M1493.4,318.2l.6 4.2 7.6-7.8-.6-4z" fill="url(#CRb)"/><path d="M1721.1,387.6l1 .6 .5 .1 7.7-64.8-.6 3.8-1.1 7.4z" fill="url(#Cph)"/><path d="M1709.2,339.6l1-.1 7.4-60.6-.5 3.3-.5 3.3z" fill="url(#Cdk)"/><path d="M1555.1,295.3l.4-3.6 7-33-.4 4z" fill="url(#Cog)"/><path d="M1764.2,303.1l.4 .4 .5 .2 .5 0 7.4-46.1-1.1 7.2-.6 3.5z" fill="url(#Cfo)"/><path d="M1471.4,350.1l.6 4.4 7.7-7.9-.5-4.3z" fill="url(#Ca)"/><path d="M1568.5,284.5l.5 3.6 .5 3.7 7.6 17.8-.5-2.6-.4-2.8z" fill="url(#Cpf)"/><path d="M1754.4,223.8l.4 3.7 .4 3.7 6 20.5-.9-2.7z" fill="url(#CLq)"/><path d="M1696.1,252.6l.9 5.8 6.6 14.4-.5-.4-.4-.6z" fill="url(#CKm)"/><path d="M1728.3,244.4l.9 5.8 .4 2.8 .4 2.7 6.6 0-.5 .3-.5 0-.9-.6z" fill="url(#CRo)"/><path d="M1698.8,292.5l.4 3.6 .5 3.5 6.6 15.9-.9-1.2z" fill="url(#Cak)"/><path d="M1674.2,193.1l.4 3.3 .5 3.3 6.6 10.7-.9-5.6z" fill="url(#Cqq)"/><path d="M1780.7,229.9l1.6 14.1 5.8 21.5-.5 .2-.4-.1-1-1.2z" fill="#f59c7ddb"/><path d="M1606.4,193.4l.9-6 6.9-13.7-.4 2.8-.5 2.9z" fill="url(#Cmp)"/><path d="M1643.3,192.7l1.3 8.6 6.9 6.3-.9-4.7-.5-2.7z" fill="url(#Csp)"/><path d="M1723.6,376.2l1.8 8 2.4 7.4 7.3-39-1 5.6-2.1 9.7-1.5 6.1z" fill="url(#Cgg)"/><path d="M1582,236l.4-3.3 .4-3.3 7-19.2-.8 6.7z" fill="url(#Cyl)"/><path d="M1763.7,284.1l1-1.5 .5-1.2 7.6-56.6-1.1 6.9-.6 3.5z" fill="url(#CTp)"/><path d="M1702.5,304l1.4 13.2 6.3 42.8-1.3-3z" fill="#f4c6afdb"/><path d="M1608,436.8l.9-2.7 6.6-128-.9 7.9z" fill="url(#Cmc)"/><path d="M1658.7,345.4l1 8.9 .4 4.7 6.9 115.8-1.4-1.5z" fill="url(#CHb)"/><path d="M1673.2,318.5l1-2.6 7.2-50.5-1 7z" fill="#f7b093db"/><path d="M1507.5,294.7l.6 4.1 .5 4.1 7.5-7.7-1-7.9z" fill="url(#Ctd)"/><path d="M1664.5,310.3l.5 3.4 .4 3.4 1 6.4 6.9 21.1-.9-.9-1-1.4z" fill="#f4c5addb"/><path d="M1624.7,335.9l2 15.4 7.8 157.1-1.4-.9-.4-.4z" fill="url(#Co)"/><path d="M1659.5,444l1.4-.7 7.5-123.7-1.5 11.2z" fill="url(#Cjd)"/><path d="M1621.5,317.4l.5 4.1 7.5 61.9-.5-1.5z" fill="url(#CPd)"/><path d="M1620.5,173.2l.9 6.7 6.9 1.5-.9-7.4z" fill="url(#Chq)"/><path d="M1619.8,266.3l.5 4 .4 3.9 7.2 19.8-.9-5.4z" fill="url(#CIi)"/><path d="M1635.8,214.2l.4 2.9 .9 5.8 7 6.3-1.4-6.3z" fill="url(#Cvn)"/><path d="M1566.2,296.6l.5 3.6 7.8 22.1-.5-2.6z" fill="url(#Cse)"/><path d="M1712.7,241.7l1-5.1 7.1-40-1 6.4z" fill="#ea7b60db"/><path d="M1686.5,398.6l.4-.3 7.7-89.4-.5 3.8z" fill="url(#CYf)"/><path d="M1617.1,243.1l.8-6.6 7-27.1-.9 7z" fill="url(#Cvm)"/><path d="M1702.8,437.3l.5 0 8-93.7-.6 4.1z" fill="url(#Cee)"/><path d="M1658.9,279.9l.5 3.7 6.9 33.9-.5-1.4z" fill="#f7ac8edb"/><path d="M1560.1,281.5l.4-3.6 7-29.1-.4 3.8z" fill="url(#Cxh)"/><path d="M1625.7,247.2l.9 6.8 7.1 10.9-.4-2.2-.5-2.4z" fill="url(#CJk)"/><path d="M1603.7,278.4l.8-5.3 7-33.5-.5 3.4-.4 3.3z" fill="url(#CGj)"/><path d="M1685,241.5l.9-5.6 7-39.3-.9 6.1z" fill="#e9785ddb"/><path d="M1708.5,319.6l.8 8.5 6.3 50.3-.5-.3-.4-.6z" fill="url(#Cjh)"/><path d="M1643.8,271.6l.5-1.8 6.9-38.5-.4 2.9z" fill="#f59c7ddb"/><path d="M1728.8,217.4l.8 5.3 .5 2.4 6.4 7.1-1-.5-.4-.6z" fill="url(#CEq)"/><path d="M1632.5,209.4l.8-7.1 6.9-21.7-.4 3.1-.5 3.3z" fill="url(#Cpp)"/><path d="M1576.2,246.8l.4-3.3 .4-3.5 7-21-.4 3.4-.4 3.5z" fill="url(#Cxk)"/><path d="M1689.5,552.6l1.5 .9 8.7-183.5-.5-4.2-.9-8z" fill="url(#CA)"/><path d="M1717,378.6l.5-.2 1-.9 7.8-78.7-1.6 12.1z" fill="url(#Cki)"/><path d="M1727.7,253.6l.4 3.5 .4 3.4 6.4 12.5-.9-1.3z" fill="url(#CTn)"/><path d="M1760.5,278.9l.9 6.4 .4 2.9 1.3 7.8 .8 4.2 6.7-9.3-.5 2.2-1.6 5.5-1 2.6-1 1.7z" fill="#f7b093db"/><path d="M1734.9,273l.9 .5 7.2-39.1-.5 2.7-.5 2.5z" fill="url(#CTo)"/><path d="M1670.6,201.7l.4 3.4 .4 3.6 6.7 13.5-.4-2.9-.5-3.1z" fill="url(#Cxp)"/><path d="M1588.7,230.6l1 8 7.2 8.1-.5-3.7-.5-3.8z" fill="url(#CAk)"/><path d="M1678.9,369.3l.5 .1 .9 0 .5-.2 7.4-71.4-.5 3.2-1.4 9.3z" fill="url(#Cch)"/><path d="M1551.4,448.5l1.4-3 5.3-152.4-1.3 8.8z" fill="url(#CH)"/><path d="M1598.8,210.6l1 7.9 7.1 5.5-.5-3.9-.5-3.9z" fill="url(#Crm)"/><path d="M1612.9,182.3l.4-2.9 .5-2.9 6.9-12.5-.9 5.3z" fill="url(#Cgq)"/><path d="M1500.5,306.4l.5 4.2 7.6-7.7-.5-4.1z" fill="url(#CGc)"/><path d="M1697.1,267.9l1.4 7.9 6.7 5.8-.5 .2-.9-.2z" fill="url(#CUl)"/><path d="M1698.9,197l.9 6.7 6.4 23.8-.9-6.5z" fill="url(#Cwq)"/><path d="M1542.6,243l1 7.3 7.3-7.1-1-7.1z" fill="url(#Cui)"/><path d="M1681,332.8l1.3 13.7 6.6 74.5-1.5-2.4z" fill="url(#CXd)"/><path d="M1677,544l1.9 1.3 8.5-193.9-2.1 14.8z" fill="url(#Cy)"/><path d="M1753.9,231.1l.8 7.8 5.9 28.3-.9-3.1z" fill="#f29274db"/><path d="M1736,293l.5 0 .9-.7 7.4-52.4-1.5 9.3z" fill="url(#CXn)"/><path d="M1649,244.7l1.4-5.1 6.9-30.3-.9 5.2-.5 2.5z" fill="#ec8165db"/><path d="M1478.6,338l.6 4.3 7.7-7.8-.6-4.3z" fill="url(#CB)"/><path d="M1708,261.5l.5-1.5 7.1-38.2-.5 3.2z" fill="#f39475db"/><path d="M1672.7,326.3l.9 9 6.7 57.5-.9-2.6z" fill="#eed0c0db"/><path d="M1601.6,409.7l.9-3.4 6.6-109.8-.9 7.8z" fill="url(#CXc)"/><path d="M1540.7,380.1l.4-2.8 .4-2.9 6.3-79.6-.4 4.1-.4 4.2z" fill="url(#CYb)"/><path d="M1763.9,300.2l.5 1.8 .9 2.9 6.9-21.8-.5 2.8-1.1 5z" fill="#f7af91db"/><path d="M1639.1,354.3l.9-4.2 7.1-73.4-.9 8.1z" fill="url(#COg)"/><path d="M1719.6,351.1l1.3 9.5 6.5 22.3-.9 2-.5 .9z" fill="url(#Cfg)"/><path d="M1564.7,320.1l.5 4.4 8.3 55.4-.5-2.6z" fill="#f3c8b2db"/><path d="M1705.4,314.3l.9 1.2 1 .5 .4 0 7.3-50-1 5.6-.5 2.7-1 4.9z" fill="url(#Cdl)"/><path d="M1628.6,234.3l.5 3.2 .9 6.2 7 8.4-1.3-6.5z" fill="url(#CGl)"/><path d="M1600.4,202.4l.8-6.3 7-14.6-.9 5.9z" fill="url(#Coo)"/><path d="M1694.1,422.5l1-.9 7.9-104.5-1.1 8.4z" fill="url(#CWe)"/><path d="M1727.9,266.5l1.2 12.5 6.2 31.3-1.4-3.6z" fill="#f7af91db"/><path d="M1595.9,165l1 5.6 6.9-6.2-.9-5.5z" fill="url(#Cfq)"/><path d="M1735,299.3l.8 7.5 6.2 32.2-.5 .3-.5 0z" fill="#f6bea4db"/><path d="M1541.5,357.1l.4-3.2 6.5-63.5-.3 4.2z" fill="#f4c5addb"/><path d="M1638,197.5l.4-3.5 .5-3.6 6.8-19.6-.9 5.9z" fill="url(#Cjq)"/><path d="M1658.1,249.8l.4 4.1 .5 4.1 6.8 32.3-.9-5.4z" fill="url(#CPk)"/><path d="M1588.1,223.5l.9-6.6 6.9-17.4-.8 6.4z" fill="url(#Cqm)"/><path d="M1697.7,279.4l1.4 8.9 6.7 7.5-.5-.1-.9-.6z" fill="url(#Cbl)"/><path d="M1730,277.4l1.3 12.6 6.1 37.3-.9-1.5-.5-1.1z" fill="#f7b79bdb"/><path d="M1617,302l.5 4.4 7.5 56.6-.5-2.3z" fill="#f6bfa6db"/><path d="M1593.5,219.5l.5 3.9 .5 3.9 7.2 6.9-1-7.8z" fill="url(#CAl)"/><path d="M1556.2,222.2l1 7 7.2-6.9-1-6.8z" fill="url(#Cvk)"/><path d="M1547,322.2l.3-3.5 6.9-44.4-.4 4.1z" fill="url(#Coe)"/><path d="M1734.2,385.9l.4 3 1.8 11.3 1.8 9.6 7.3-32.7-2.1 7.9-1 3.3-1.5 4.1z" fill="url(#Cff)"/><path d="M1617.2,272.9l.5 4.3 .5 4.2 7.3 27.4-.5-2.9-.5-3z" fill="url(#CKh)"/><path d="M1622.2,230.3l.9-6.9 6.9-25.2-.9 6.8z" fill="url(#Crn)"/><path d="M1627.4,219.1l.8-7.1 6.9-23.3-.9 6.6z" fill="url(#Cso)"/><path d="M1639.1,201.1l.9 5.8 .4 2.9 6.9 6.8-1.3-7.1z" fill="url(#Cwo)"/><path d="M1594.3,212.4l.8-6.5 7-15.9-.9 6.1z" fill="url(#Cnn)"/><path d="M1639.3,320.3l1-4.7 7-60.7-.5 3.7-.4 3.8z" fill="url(#COi)"/><path d="M1565.5,267.4l.4-3.5 7-26-.4 3.7z" fill="url(#Cwi)"/><path d="M1622.3,254.7l.9 7.4 7.2 15.3-.9-5.1z" fill="url(#CJj)"/><path d="M1582.8,183.1l1 6.2 7-6.4-.9-6.1z" fill="url(#Cno)"/><path d="M1521.5,272l1 7.8 7.5-7.4-1.1-7.7z" fill="url(#Cgf)"/><path d="M1543.8,338.3l.4-3.5 6.7-52.6-.4 4.2z" fill="#f6bea4db"/><path d="M1699.5,294.7l.9 8.3 6.5 33.6-.9-2.4z" fill="#f7b79bdb"/><path d="M1742.9,343.7l.5 .8 .9 1.1 7.5-46.2-1.7 10.2z" fill="url(#Cnk)"/><path d="M1569.6,202.2l1 6.6 7.1-6.6-1-6.5z" fill="url(#Com)"/><path d="M1646.2,257.5l1.3-5.4 7-34.8-.5 2.8-.9 5.4z" fill="#ee8468db"/><path d="M1641.9,286.9l.9-4.2 7-46-.9 6.4z" fill="#f59f80db"/><path d="M1738.2,409.8l1.8 8 7.6-50.7-2.1 10z" fill="#e4d9d2db"/><path d="M1485.7,325.9l.6 4.3 7.7-7.8-.6-4.2z" fill="url(#Cfb)"/><path d="M1682.8,252l.4-2.9 7.1-43.2-.5 3.2z" fill="#ee8669db"/><path d="M1597.2,303.4l.4-2.2 .4-2.2 7-40.9-.9 6.3z" fill="#f7aa8cdb"/><path d="M1674.6,305.5l1-3.9 7.1-53-.4 3.7-.5 3.7z" fill="#f6a385db"/><path d="M1639.2,335.9l.5-2.4 7-67.3-.4 4z" fill="url(#CQh)"/><path d="M1647.8,512l.5-.1 .5-.1 1.4-.5 7.5-174.2-1.4-10.7-1-5.4z" fill="url(#CW)"/><path d="M1609.2,189.8l.5 3.5 .5 3.7 7 3.4-.9-7.8z" fill="url(#Cqo)"/><path d="M1568.3,316.6l1 9 8.7 87-.5-2.3-.5-2.5z" fill="url(#Cub)"/><path d="M1696.7,206l.9 6.7 6.4 25.9-.8-6z" fill="url(#CDp)"/><path d="M1643.1,386.1l.9-2.4 7.2-82-.9 7.5z" fill="url(#CKe)"/><path d="M1660.8,292l.4 3.5 .5 3.3 6.9 30.4-.9-1.8z" fill="#f7b396db"/><path d="M1735.4,242l.4 .2 .5-.1 1-.7 7-32.3-2.1 9.2z" fill="url(#CGq)"/><path d="M1727.1,258l.4 3.9 .4 4 6.3 24.8-.9-2.5z" fill="#f6a283db"/><path d="M1563.3,310.9l1.1 8 8 37.4-1-5.2z" fill="url(#CNc)"/><path d="M1675.2,345l.9-.4 7.3-54.6-1 5.8z" fill="url(#CYh)"/><path d="M1784.3,253.1l1.2 8.3 1.3 6.6 6.5-7.5-.5 2.1-1.6 5.1-1 2.2z" fill="#f4987adb"/><path d="M1571.2,270l1 7.6 7.5 16-.9-6.1z" fill="url(#Csg)"/><path d="M1597.6,382.5l.4-1.8 .5-1.9 6.7-90.1-.9 7.5z" fill="url(#CId)"/><path d="M1594.3,336.5l.9-3.7 6.9-56.8-.4 3.3-.5 3.2z" fill="url(#Cwf)"/><path d="M1698.4,288.8l.4 3.7 6.6 21.8-.5-.9z" fill="#f7b194db"/><path d="M1688.6,224.8l.5-2.8 6.9-35.4-.5 2.7z" fill="#e67259db"/><path d="M1647,180.5l.4 2.7 .5 2.8 6.8 6.7-.9-5.6z" fill="url(#Clq)"/><path d="M1639.8,335.4l1.5 13.3 7.3 83.8-1.4-3.5z" fill="url(#Crc)"/><path d="M1704.4,295.1l.9 .6 .5 .1 7.1-38.6-1 5-.5 2.3z" fill="url(#CWl)"/><path d="M1734.7,255.4l.9 .6 .5 0 .5-.3 7.1-36.4-.5 2.5-.5 2.4-1.1 4.5z" fill="url(#CMp)"/><path d="M1695.2,246.5l.9 6.1 6.6 19.2-1-1.8z" fill="#f39778db"/><path d="M1764.6,295.5l1-1.6 .5-1.2 7.6-58.7-1.1 7.1-.5 3.7z" fill="url(#Cap)"/><path d="M1678.3,278.3l.4-2.7 7.2-50-.5 3.6z" fill="#f39778db"/><path d="M1551,306.1l.4-3.7 6.9-38.2-.4 4.1z" fill="url(#Ckf)"/><path d="M1667.8,319.4l.5 4 6.9 40.6-.5-1.2z" fill="#f5c1a9db"/><path d="M1563.8,301.3l1.1 7.5 7.8 28.1-.5-2.5-.5-2.6z" fill="url(#CBd)"/><path d="M1666.9,208.3l.9 7.2 6.7 17.3-.9-6.4z" fill="url(#CBo)"/><path d="M1676.4,291.4l.5-2.5 7.2-52.1-.5 3.7z" fill="#f59f80db"/><path d="M1786.8,268l1.3 4.7 6.8-19.7-1.6 7.5z" fill="#f4987adb"/><path d="M1694.7,229.8l.8 6.6 6.5 24.9-.9-3.4z" fill="url(#CGn)"/><path d="M1574.8,258.3l1 7.8 7.5 13.9-.5-3.3-.5-3.4z" fill="url(#CCh)"/><path d="M1615.4,290.1l.5 4.4 7.4 47.5-.5-2.9z" fill="#f7b497db"/><path d="M1492.9,314l.5 4.2 7.6-7.6-.5-4.2z" fill="url(#CRb)"/><path d="M1555.5,291.7l.4-3.7 7-33.2-.4 3.9z" fill="url(#Cog)"/><path d="M1710.6,250.2l.5-2.2 .5-2.4 7.1-40.8-.5 3-.5 3.2z" fill="#eb7d62db"/><path d="M1788.3,271.3l.5 0 .4-.2 .5-.5 7.4-44.4-1.7 10.1z" fill="url(#CXq)"/><path d="M1765.6,303.7l.5-.3 7.4-49.4-.5 3.6z" fill="#f6a385db"/><path d="M1535.3,250l1 7.5 7.3-7.2-1-7.3z" fill="url(#Cvh)"/><path d="M1600.6,287.4l.5-2.5 6.9-36.8-.4 3.3z" fill="url(#CDi)"/><path d="M1727.8,391.6l.4 1.2 7.5-43.1-.6 2.9z" fill="#edd2c3db"/><path d="M1741.5,339.3l.5-.3 1-1 7.7-65.1-1.7 11.7z" fill="url(#Cnl)"/><path d="M1704.7,281.8l.5-.2 .9-.8 7.1-37.7-1 5.4-.5 2.6z" fill="url(#COm)"/><path d="M1470.8,345.7l.6 4.4 7.8-7.8-.6-4.3z" fill="url(#Ca)"/><path d="M1680.5,264.2l.5-2.9 7.1-46.9-.5 3.3z" fill="#f18d6fdb"/><path d="M1612.8,251.5l.4-3.2 .4-3.3 7-29.1-.9 6.8z" fill="url(#CDl)"/><path d="M1640.8,301l.5-2.3 7-53.3-.5 3.4z" fill="#f6a586db"/><path d="M1696.2,262.1l.9 5.8 6.7 13.7-.5-.3-.5-.5z" fill="url(#CTl)"/><path d="M1628.5,324.2l1.4 11.8 7.5 65.9-1.5-3.3z" fill="url(#Ccd)"/><path d="M1620.6,309.2l.9 8.2 7.5 64.5-.9-3.4z" fill="url(#CPd)"/><path d="M1727.7,225.2l.8 5.6 .5 2.7 6.4 8.5-.5-.3-.9-1.4z" fill="url(#CKp)"/><path d="M1740.2,326.8l.5-.9 7.7-66.1-.5 3.8z" fill="url(#Cem)"/><path d="M1674.2,315.9l.5-1.6 7.2-52.4-.5 3.5z" fill="#f7a98bdb"/><path d="M1706.4,270.9l.9-2.2 7.1-38.7-1 5.9z" fill="#f18f71db"/><path d="M1653.2,230l1.3-5.9 6.9-27.7-.9 4.9-.5 2.5z" fill="url(#Cyo)"/><path d="M1765.3,304.9l.9 2.1 .4 .8 7.2-33.8-.5 3.1-1.1 6z" fill="url(#Cfn)"/><path d="M1759.7,272l.8 6.9 6 24-.4 .5-.5 .3z" fill="#f7a98bdb"/><path d="M1619.5,464.7l1.4-1.8 6.8-153.7-.9 6.4-.5 3.5z" fill="url(#CBb)"/><path d="M1608.9,434.1l.4-1.5 6.7-130.2-.5 3.7z" fill="url(#Cmc)"/><path d="M1560.5,277.9l.4-3.7 7-29.2-.4 3.8z" fill="url(#Cxh)"/><path d="M1614.4,178.7l.9 6.5 7 2.2-.9-7.5z" fill="url(#Cnp)"/><path d="M1696.6,352.4l1.8 16 6.4 68.3-1.5 .6-.5 0z" fill="url(#Cnd)"/><path d="M1649.1,408.1l1.4-1.7 7.4-97.7-1.5 10.4z" fill="url(#CTd)"/><path d="M1615.6,280.3l.5 4.4 7.4 37.8-.5-3.1z" fill="url(#CBg)"/><path d="M1644.3,269.8l.9-4.1 7-40.4-1 6z" fill="#ee8468db"/><path d="M1588.9,171.1l1 5.7 7-6.2-1-5.6z" fill="url(#Clp)"/><path d="M1753.9,236.4l.8 7.6 5.8 37-.9-3.4z" fill="#f18f71db"/><path d="M1753.6,216.7l.8 7.1 5.9 25.2-.8-3.7z" fill="url(#CKq)"/><path d="M1726.8,246.6l.9 7 6.3 18.1-.9-2.2z" fill="url(#CSn)"/><path d="M1565.2,289.2l.5 3.7 .5 3.7 7.8 23.1-.5-2.6-.5-2.8z" fill="url(#Cse)"/><path d="M1578.8,246.7l.5 3.9 .5 3.9 7.4 12-1-7.2z" fill="url(#CAi)"/><path d="M1710.2,339.5l.9-.7 .5-.6 7.6-69.5-1.6 10.2z" fill="url(#Cek)"/><path d="M1673.7,329.2l1.5-2.7 7.2-54.4-.5 3.3-1 6.4z" fill="url(#CXi)"/><path d="M1701.1,383.3l1.3 13.9 6 102.2-.4 .2-1 .3z" fill="url(#Cdb)"/><path d="M1659,235.5l.5 3.9 .4 4 6.9 29.9-.9-6.5z" fill="url(#COl)"/><path d="M1499.9,302.2l.6 4.2 7.6-7.6-.6-4.1z" fill="url(#CGc)"/><path d="M1603.6,197.1l.4 3.5 .5 3.8 7.1 4.4-.5-4-.4-3.9z" fill="url(#Cpn)"/><path d="M1695,215l.9 6.6 6.5 27.2-.9-5.1z" fill="url(#CHo)"/><path d="M1548.9,228.9l1 7.2 7.3-6.9-1-7z" fill="url(#Cvj)"/><path d="M1657.1,257.5l.5 3.9 .4 4 6.9 36.6-.9-4.8z" fill="#f6a283db"/><path d="M1764.8,267.4l1-3 7.5-55-1 5.7z" fill="url(#CQq)"/><path d="M1722.6,388.3l.9-.1 7.8-72.5-1 7.8z" fill="url(#Cph)"/><path d="M1595.5,356.6l.4-1.9 .5-1.9 6.8-72.4-.9 7z" fill="url(#Cze)"/><path d="M1683.2,382.8l.5-4.2 1.1-8.4 6.2 125.3-1.4-1.3z" fill="url(#Cab)"/><path d="M1734.1,291.5l.9 7.8 6 40-.9-.5z" fill="url(#Clk)"/><path d="M1713.7,236.6l.5-2.8 7.1-40.1-.5 2.9z" fill="#e57058db"/><path d="M1514,279.2l.5 4.1 .6 4 7.4-7.5-1-7.8z" fill="url(#Cje)"/><path d="M1727.5,209.2l.4 2.8 .9 5.4 6.3 13.7-1.4-3z" fill="url(#CDq)"/><path d="M1686.9,398.3l1-1 .5-.7 7.7-99-1.5 11.3z" fill="url(#CZf)"/><path d="M1717.8,336.9l1.3 10.8 .5 3.4 6.4 34.7-1 1.3-1 .8z" fill="url(#Ceg)"/><path d="M1663.7,215.9l.9 7.4 6.8 21.4-.9-6.7z" fill="url(#CBn)"/><path d="M1657.3,217.5l.9-4.1 .5-2.3 6.8-25.2-.9 4.8-.4 2.5z" fill="url(#Cup)"/><path d="M1703.3,437.3l1.5-.6 8.1-105.4-.6 4.1-1 8.2z" fill="url(#Cfe)"/><path d="M1708.5,260l1-3.6 7.1-40.8-.5 3.1-.5 3.1z" fill="#ec8165db"/><path d="M1727,235.1l1.3 9.3 6.4 11-.4-.6-1-1.8z" fill="url(#CQo)"/><path d="M1709.9,498.7l1.5-1 8.4-119.6-.8-9.1-.5-4.5z" fill="url(#CQb)"/><path d="M1693.9,497.5l1.4 .8 8.5-149.2-1.6 11.5z" fill="url(#COb)"/><path d="M1738.6,310.8l1-1.9 7.6-64.4-1.1 6.9z" fill="url(#CYm)"/><path d="M1672.2,321.8l.5 4.5 6.7 63.9-.5-1.4z" fill="url(#CRe)"/><path d="M1478,333.5l.6 4.5 7.7-7.8-.6-4.3z" fill="url(#CB)"/><path d="M1580,309.6l1.5 9.7 9 134.8-1-2.5-.5-1.3z" fill="url(#CL)"/><path d="M1595.5,316.9l.4-2 .5-2.2 6.9-48-.9 6.3z" fill="#f6a385db"/><path d="M1685.9,235.9l.5-3 7-39-.5 2.7z" fill="#e9785ddb"/><path d="M1583.3,235.9l1 7.9 7.3 10.2-1-7.6z" fill="url(#CBj)"/><path d="M1608.4,262.3l.5-3.1 .4-3.1 6.9-31.5-.8 6.8z" fill="url(#CFk)"/><path d="M1640.9,368.1l.4-1.8 .5-2 7.1-79.8-.9 7.8z" fill="url(#CNf)"/><path d="M1575.8,189.4l.9 6.3 7.1-6.4-1-6.2z" fill="url(#Cmn)"/><path d="M1642.1,511.9l.5 .1 1.9 .2 1 0 2.3-.2 7.5-191-1-3.9-.4-1.2-.5-.8-.5-.4-.5 .1-.5 .6-.5 1-1 3.2-1 4.7z" fill="url(#CV)"/><path d="M1562.4,208.7l1 6.8 7.2-6.7-1-6.6z" fill="url(#Cwl)"/><path d="M1732.4,372.6l1.8 13.3 6.7 6.5-1 2.2-1 1.8z" fill="#e9d5cbdb"/><path d="M1657.5,268.7l.5 3.7 .9 7.5 6.9 36.2-.9-3.4-.5-2z" fill="#f7ac8edb"/><path d="M1543.6,404.1l.8-4.4 5.9-106.3-.8 7.3z" fill="url(#Cnb)"/><path d="M1783.1,243.7l1.2 9.4 5.9 16.8-.5 .7-.5 .5-.4 .2z" fill="#f29274db"/><path d="M1541.9,353.9l.4-3.4 6.5-64.3-.4 4.2z" fill="#f7b79bdb"/><path d="M1696.8,273l.9 6.4 6.7 15.7-1-1.3z" fill="url(#Cal)"/><path d="M1657.7,337.1l1 8.3 6.9 127.9-1-1.3z" fill="url(#CGb)"/><path d="M1663.6,303.3l.9 7 6.9 32-.9-1.8z" fill="#f7b79bdb"/><path d="M1675.1,476.3l1.4-1.1 8.1-153.8-1.5 11.2z" fill="url(#Czc)"/><path d="M1673.3,187.1l.9 6 6.6 11.7-.8-6.1z" fill="url(#Cqq)"/><path d="M1735.8,273.5l.5-.1 1-.8 .4-.8 7.4-48.3-2.1 10.9z" fill="url(#CUo)"/><path d="M1744.3,345.6l.5 .2 7.5-49.9-.5 3.5z" fill="#f7ba9fdb"/><path d="M1624.8,240.4l.9 6.8 7.1 13.1-.9-5.1z" fill="url(#CJk)"/><path d="M1680.5,328.4l.5 4.4 6.4 85.8-.4-1z" fill="url(#CWd)"/><path d="M1507,290.6l.5 4.1 7.6-7.4-.6-4z" fill="url(#Ctd)"/><path d="M1714,361l1-1.4 .5-1 7.8-82.4-1.6 11.3z" fill="url(#Cjj)"/><path d="M1755.3,245.9l.8 7.4 .4 3.9 5.8 37.7-.5-.9-.9-2.6z" fill="#f59c7ddb"/><path d="M1567.5,277l.5 3.7 .5 3.8 7.7 19.7-1-5.9z" fill="url(#Cpf)"/><path d="M1688.1,551.6l1.4 1 8.8-194.8-.9-7.2-.5-3.3z" fill="url(#Cz)"/><path d="M1615.5,338.8l1.4-8.7 1.4-6.2 8.2 177.6-1.9-2.1-.9-1.2z" fill="url(#Cn)"/><path d="M1697.5,281.3l.9 7.5 6.5 24.6-.9-2.2z" fill="#f7ac8edb"/><path d="M1547.3,318.7l.4-3.8 6.9-44.8-.4 4.2z" fill="url(#Coe)"/><path d="M1565.9,263.9l.4-3.7 7-26-.4 3.7z" fill="url(#Cwi)"/><path d="M1716.5,453.6l1.9 3.1 8.4-103.6-2.2 14z" fill="url(#Csd)"/><path d="M1707.1,306.8l1.4 12.8 6.2 57.9-1.4-2.4z" fill="url(#Cih)"/><path d="M1607.3,187.4l.9-5.9 6.9-12.8-.9 5z" fill="url(#Cmp)"/><path d="M1737.4,292.3l1-1.7 7.5-56.9-1.1 6.2z" fill="url(#CXn)"/><path d="M1753.1,223.9l.8 7.2 5.8 33-.8-4.1z" fill="#ec8165db"/><path d="M1726.7,254.1l.4 3.9 6.2 30.2-.5-1.5z" fill="#f39577db"/><path d="M1765.2,281.4l1-3.2 7.6-59.5-1 6.1z" fill="url(#CTp)"/><path d="M1563.7,311.4l1 8.7 8.3 57.2-1-5.6z" fill="#f3c8b2db"/><path d="M1661.9,205.1l.9-4.6 .4-2.4 6.9-22.8-1.4 6.9z" fill="url(#Coq)"/><path d="M1544.2,334.8l.4-3.6 6.6-53.2-.3 4.2z" fill="#f7ad90db"/><path d="M1788.1,272.7l.4 1.1 1 1.5 7.1-31-1.7 8.7z" fill="url(#CYp)"/><path d="M1636.9,414.6l.5-2.7 1.9-11.7 .9-6.5 1-6.9 7.3 23.2-1.4-10.6-1-7.7-.9-8-1-8.5z" fill="url(#CEb)"/><path d="M1660.9,224l.9 7.6 6.8 25.8-.4-3.3-.5-3.6z" fill="url(#CFm)"/><path d="M1485.2,321.5l.5 4.4 7.7-7.7-.5-4.2z" fill="url(#Cfb)"/><path d="M1619.5,167.7l1 5.5 6.9 .8-.9-6.8z" fill="url(#Chq)"/><path d="M1737.3,241.4l.4-.7 7.1-34-.5 2.4z" fill="#e8765cdb"/><path d="M1779.5,220.1l1.2 9.8 5.5 34.5-1.3-3.9z" fill="#ee8468db"/><path d="M1701.7,295.2l.8 8.8 6.4 53-1-2.9z" fill="#f6bda2db"/><path d="M1631.1,217.3l.9 6 .4 3 7 9.2-.4-2.3-.9-4.9z" fill="url(#Czm)"/><path d="M1616,293.4l1 8.6 7.5 58.7-.9-5.1z" fill="#f6bfa6db"/><path d="M1618.8,258.5l.5 3.9 .5 3.9 7.2 22.3-.9-6z" fill="url(#CIi)"/><path d="M1527.9,257l1 7.7 7.4-7.2-1-7.5z" fill="url(#Ckg)"/><path d="M1660.9,443.3l1.4-1.2 7.6-132.9-1.5 10.4z" fill="url(#Cjd)"/><path d="M1642.8,282.7l.4-2.3 7-46.9-.4 3.2z" fill="#f29072db"/><path d="M1707.7,316l1-.5 7.4-55.4-1.1 5.9z" fill="url(#Cdl)"/><path d="M1669.7,195.3l.9 6.4 6.6 14.5-.8-6.5z" fill="url(#Cxp)"/><path d="M1694.3,240.2l.9 6.3 6.5 23.5-.9-2.6z" fill="#f18f71db"/><path d="M1718.5,377.5l1-1.5 7.9-85.2-1.1 8z" fill="url(#Cki)"/><path d="M1698,191.6l.9 5.4 6.4 24-.8-7.2z" fill="url(#Cwq)"/><path d="M1640.3,315.6l.4-2.6 7.1-61.6-.5 3.5z" fill="url(#COi)"/><path d="M1604.5,273.1l.5-2.9 .4-2.9 7-34.3-.5 3.2-.4 3.4z" fill="url(#CGj)"/><path d="M1571.3,252.6l.8-7.3 7-23.1-.4 3.5-.4 3.6z" fill="url(#Cxj)"/><path d="M1695.3,256l.9 6.1 6.6 18.7-.9-1.6z" fill="#f39778db"/><path d="M1641.2,386.8l1-7.3 .9-7.6 7.3 50.8-1.9-12.7z" fill="#e6d7cfdb"/><path d="M1650.4,239.6l.9-4.2 6.9-31.2-.4 2.5-.5 2.6z" fill="url(#Cyn)"/><path d="M1758.9,264.9l.8 7.1 5.9 31.7-.5 0-.5-.2z" fill="#f6a385db"/><path d="M1582.8,229.4l.4-3.5 .4-3.5 7-18.7-.8 6.5z" fill="url(#Cyl)"/><path d="M1602.5,406.3l.9-4 6.6-113-.9 7.2z" fill="url(#CXc)"/><path d="M1743.2,327.3l2.3 12.1 .9 3.8 1.3 4.6 7.2-29.5-1.1 5.4-1.5 7-2.1 7.4-.5 1.5z" fill="url(#Crj)"/><path d="M1689.1,222l.9-6.2 7-33.6-1 4.4z" fill="#d95847db"/><path d="M1567.8,312.2l.5 4.4 8.7 91.2-.5-2.5z" fill="url(#Ctb)"/><path d="M1683.2,249.1l1-6.4 7-42.4-.9 5.6z" fill="#e57058db"/><path d="M1681,261.3l.5-3.1 7.1-46.9-.5 3.1z" fill="#eb7d62db"/><path d="M1562.8,306.8l.5 4.1 8.1 40.2-.5-2.7z" fill="url(#CMc)"/><path d="M1698.6,286.3l.9 8.4 6.5 39.5-1-3.1z" fill="#f7b79bdb"/><path d="M1551.4,302.4l.4-3.7 6.9-38.5-.4 4z" fill="url(#Ckf)"/><path d="M1647.5,252.1l.5-2.2 7-35.3-.5 2.7z" fill="#ee8468db"/><path d="M1676.1,344.6l1.4-1.5 7.4-62.3-.5 3.1-1 6.1z" fill="url(#CZh)"/><path d="M1594.5,157.7l1.4 7.3 7-6.1-1.4-7.2z" fill="url(#Cfq)"/><path d="M1706.1,280.8l.5-.7 7.1-39.8-.5 2.8z" fill="#f29072db"/><path d="M1634.4,205.5l1.4 8.7 6.9 8.7-.9-4.9-.4-2.7z" fill="url(#Cvn)"/><path d="M1617.9,236.5l.9-6.8 6.9-26.8-.4 3.2-.4 3.3z" fill="url(#Cvm)"/><path d="M1639.7,333.5l.9-5.2 7.1-69.5-1 7.4z" fill="url(#CRh)"/><path d="M1680.8,369.2l1.4-1.2 7.6-80.1-1.6 9.9z" fill="url(#Cch)"/><path d="M1633.3,202.3l.9-7 6.9-20.1-.4 2.5-.5 2.9z" fill="url(#Cpp)"/><path d="M1641.9,184.7l1.4 8 6.8 7.5-.9-5.5-.4-2.9z" fill="url(#Csp)"/><path d="M1728.2,392.8l1 2.1 1.4 2.4 7.8-63.5-.6 3.3-2.1 12.6z" fill="url(#Chg)"/><path d="M1492.3,309.7l.6 4.3 7.6-7.6-.6-4.2z" fill="url(#CRb)"/><path d="M1627.7,227.9l.5 3.2 .4 3.2 7.1 11.3-.9-5z" fill="url(#CGl)"/><path d="M1659.4,281.5l.4 3.5 1 7 6.9 35.4-1.4-3.9z" fill="#f7b396db"/><path d="M1581.9,177.3l.9 5.8 7.1-6.3-1-5.7z" fill="url(#Cno)"/><path d="M1563.3,297.5l.5 3.8 7.9 30.5-.5-2.7z" fill="url(#CAd)"/><path d="M1552.8,445.5l1.7-4.5 5.3-155.9-.9 3.4-.8 4.6z" fill="url(#CI)"/><path d="M1555.9,288l.4-3.8 7-33.3-.4 3.9z" fill="url(#Cog)"/><path d="M1613.8,176.5l.4-2.8 .9-5 6.9-10.7-1.3 6z" fill="url(#Cgq)"/><path d="M1541.6,235.7l1 7.3 7.3-6.9-1-7.2z" fill="url(#Cui)"/><path d="M1729.2,269.2l.8 8.2 6 47.3-.9-2.9z" fill="#f7aa8cdb"/><path d="M1601.2,196.1l.9-6.1 6.9-13.8-.8 5.3z" fill="url(#Coo)"/><path d="M1695.1,421.6l1.4-2.2 8-114.1-1.5 11.8z" fill="url(#CWe)"/><path d="M1741.9,318.4l.9 6.1 .4 2.8 6.5 12.3-1 2.5-.5 1z" fill="#f6bda2db"/><path d="M1727,258.4l.9 8.1 6 40.2-.9-3.5z" fill="#f49a7bdb"/><path d="M1640,350.1l1-4.9 7.1-76.1-1 7.6z" fill="url(#COg)"/><path d="M1577,240l.4-3.5 .5-3.6 7-20.7-.4 3.3-.5 3.5z" fill="url(#Cxk)"/><path d="M1740.7,325.9l.5-1 .5-1.3 7.8-71-1.1 7.2z" fill="url(#Cfm)"/><path d="M1644,383.7l1-2.8 7.2-86.5-1 7.3z" fill="url(#CKe)"/><path d="M1620.7,320.6l.5 .6 .5 .9 1 3.1 1 4.7 1 6 8 171.2-.5-.4-1.9-1.5-1.4-1.3z" fill="url(#Co)"/><path d="M1657.1,242.2l.5 3.7 .5 3.9 6.8 35.1-.4-3-.5-3.3z" fill="url(#CPk)"/><path d="M1638.9,190.4l.4-3.4 .5-3.3 6.8-17.5-.9 4.6z" fill="url(#Cjq)"/><path d="M1666.5,307.4l1.3 12 6.9 43.4-.9-2.6-.5-1.5z" fill="#f5c1a9db"/><path d="M1470.2,341.2l.6 4.5 7.8-7.7-.6-4.5z" fill="url(#Ca)"/><path d="M1621.3,247.5l.5 3.6 .5 3.6 7.2 17.6-.5-2.8-.5-2.9z" fill="url(#CJj)"/><path d="M1620.1,305.2l.5 4 7.5 69.3-.5-1.8z" fill="url(#COd)"/><path d="M1587.7,222.9l1 7.7 7.2 8.6-.4-3.9-.5-4z" fill="url(#CAk)"/><path d="M1597.8,203.4l1 7.2 7.1 5.6-.4-4-.5-3.9z" fill="url(#Crm)"/><path d="M1678.7,275.6l1-6 7.1-50.4-.9 6.4z" fill="#ec8165db"/><path d="M1676.9,288.9l.5-2.6 .5-2.9 7.1-53.4-.9 6.8z" fill="#f08b6edb"/><path d="M1766.1,303.4l.4-.5 1-1.7 7.7-57.8-.5 3.4-1.2 7.2z" fill="url(#Cgo)"/><path d="M1555.2,215.3l1 6.9 7.2-6.7-1-6.8z" fill="url(#Cvk)"/><path d="M1568.6,195.8l1 6.4 7.1-6.5-.9-6.3z" fill="url(#Com)"/><path d="M1674.7,314.3l.9-3.5 7.2-55.8-.4 3.4-.5 3.5z" fill="url(#CVj)"/><path d="M1695.9,200.3l.8 5.7 6.5 26.6-.5-3.2-.4-3.5z" fill="url(#CDp)"/><path d="M1595.2,332.8l.9-4.1 6.9-59.1-.5 3.2-.4 3.2z" fill="url(#Cwf)"/><path d="M1678.9,545.3l2.4 1.7 8.7-208.9-1.1 4.5-1.5 8.8z" fill="url(#Cy)"/><path d="M1598,299l.9-4.9 7-42.4-.9 6.4z" fill="#f39778db"/><path d="M1560.9,274.2l.4-3.7 7-29.3-.4 3.8z" fill="url(#Cxh)"/><path d="M1753.2,213.4l.4 3.3 5.9 28.6-.4-2.3z" fill="url(#CJq)"/><path d="M1731.5,365.5l.9 7.1 6.5 23.8-.5 .7-.5 .7z" fill="#ecd3c5db"/><path d="M1727.1,206.5l.4 2.7 6.2 18.9-.4-1.5z" fill="url(#CCq)"/><path d="M1705.8,295.8l.9-.4 1-1 7.2-48-1 5.5-1 5.3z" fill="url(#CXl)"/><path d="M1609.3,432.6l.9-3.2 6.7-133.6-.9 6.6z" fill="url(#Cnc)"/><path d="M1601.1,284.9l.8-5.4 7-37.9-.9 6.5z" fill="url(#CEi)"/><path d="M1589,216.9l.8-6.7 7-16.8-.9 6.1z" fill="url(#Cqm)"/><path d="M1541.5,374.4l.8-6 6.3-81.4-.4 3.9-.4 3.9z" fill="url(#CYb)"/><path d="M1675.6,301.6l.9-4.7 7.2-55.3-.5 3.4-.5 3.6z" fill="url(#CVk)"/><path d="M1782.3,237.3l.8 6.4 5.7 27.6-.5 0-.5-.3z" fill="#f08b6edb"/><path d="M1595.1,205.9l.8-6.4 7-15.1-.8 5.6z" fill="url(#Con)"/><path d="M1696.2,348.3l.4 4.1 6.2 84.9-.4 0z" fill="url(#Cmd)"/><path d="M1743,338l.4-.8 7.8-68-.5 3.7z" fill="url(#Cnl)"/><path d="M1499.4,298l.5 4.2 7.6-7.5-.5-4.1z" fill="url(#CGc)"/><path d="M1766.6,307.8l1 .9 .5 .1 7.4-44.8-1.1 6.7-.6 3.3z" fill="url(#Cgn)"/><path d="M1641.3,298.7l.4-2.6 .5-2.7 7-54.6-.4 3.2-.5 3.4z" fill="url(#COj)"/><path d="M1614.4,281.5l1 8.6 7.4 49-.4-3-.5-3.2z" fill="#f7b497db"/><path d="M1616.3,264.7l.5 4.1 .4 4.1 7.3 30-.9-6.5z" fill="url(#CKh)"/><path d="M1598.5,378.8l.9-4.3 6.7-92.9-.9 7.1z" fill="url(#CJd)"/><path d="M1733.3,283.6l.8 7.9 6 47.3-.9-1.3z" fill="url(#Ckk)"/><path d="M1707.3,268.7l1-2.8 7.1-41.8-1 5.9z" fill="#ee8468db"/><path d="M1726.4,216.7l.8 5.7 .5 2.8 6.3 15.1-1.3-3.4z" fill="url(#CJp)"/><path d="M1628.2,212l.9-7 6.9-22-.4 2.7-.5 3z" fill="url(#Cso)"/><path d="M1726,239.5l.8 7.1 6.3 22.9-.9-3.1z" fill="url(#CRn)"/><path d="M1684.8,370.2l.5-4 6.2 129.7-.5-.4z" fill="url(#Cab)"/><path d="M1696,266.4l.4 3.3 .4 3.3 6.6 20.8-.9-1.9z" fill="#f59d7edb"/><path d="M1623.1,223.4l.9-7 6.9-24.3-.5 3-.4 3.1z" fill="url(#Crn)"/><path d="M1709.5,256.4l.5-2.1 7.1-41.6-.5 2.9z" fill="#ec8165db"/><path d="M1645.6,173.5l1.4 7 6.8 6.6-1.4-8.8z" fill="url(#Clq)"/><path d="M1592.5,212.1l.5 3.6 .5 3.8 7.2 6.9-.9-7.9z" fill="url(#Czl)"/><path d="M1608.3,183.6l.5 3 .4 3.2 7.1 2.8-1-7.4z" fill="url(#Cqo)"/><path d="M1671.3,312.9l.9 8.9 6.7 67-.9-3.2z" fill="url(#CRe)"/><path d="M1570.2,262.4l1 7.6 7.6 17.5-1-6.7z" fill="url(#Csg)"/><path d="M1656.6,253.8l.5 3.7 6.9 39.7-.5-2.8z" fill="url(#CPj)"/><path d="M1697,277.6l.5 3.7 6.5 29.9-.4-1.3z" fill="#f59f80db"/><path d="M1477.4,329.1l.6 4.4 7.7-7.6-.5-4.4z" fill="url(#CB)"/><path d="M1675.2,326.5l.4-1.2 7.3-56.4-.5 3.2z" fill="url(#CXi)"/><path d="M1714.2,233.8l.5-3 .5-3.1 7-38.8-.9 4.8z" fill="#dd5f4bdb"/><path d="M1637.7,192.9l.9 5.4 .5 2.8 6.9 8.4-1.4-8.2z" fill="url(#Cvo)"/><path d="M1542.3,350.5l.4-3.5 6.5-64.9-.4 4.1z" fill="#f7b79bdb"/><path d="M1766.1,292.7l1-3.1 7.7-61.9-1.1 6.3z" fill="url(#Cap)"/><path d="M1736.6,255.7l.9-1.1 1-2 7.2-43.1-2 9.8z" fill="url(#CNp)"/><path d="M1520.4,264l1.1 8 7.4-7.3-1-7.7z" fill="url(#Cgf)"/><path d="M1711.6,245.6l1-5.3 7.1-41-.5 2.6-.5 2.9z" fill="#e46e56db"/><path d="M1693.3,220.4l1.4 9.4 6.4 28.1-1.3-7z" fill="url(#CFn)"/><path d="M1666,201.9l.5 3.1 .4 3.3 6.7 18.1-.4-3.5-.4-3.5z" fill="url(#CBo)"/><path d="M1744.8,345.8l.5 .1 .9-.3 7.8-60.7-1.7 11z" fill="url(#Cok)"/><path d="M1686.4,232.9l.5-3.2 .5-3.4 7-36.8-1 4.4z" fill="#dc5d4adb"/><path d="M1506.4,286.5l.6 4.1 7.5-7.3-.5-4.1z" fill="url(#Ctd)"/><path d="M1753.1,229.6l.8 6.8 5.7 41.2-.8-4.4z" fill="#f18f71db"/><path d="M1634.1,428.6l.9-4.3 1.9-9.7 7.3-39.4-.5-4.3-1.4-13.3-1-8.9z" fill="url(#CDb)"/><path d="M1627.5,316.5l1 7.7 7.4 74.4-.9-2.6z" fill="url(#Cbd)"/><path d="M1614.6,271.8l1 8.5 7.4 39.1-1-6.6z" fill="url(#CBg)"/><path d="M1566.3,260.2l.4-3.8 7-25.8-.4 3.6z" fill="url(#Cwi)"/><path d="M1641.8,364.3l.5-2.1 7.1-81.5-.5 3.8z" fill="url(#CNf)"/><path d="M1725.8,246.5l.9 7.6 6.1 32.6-.9-3.8z" fill="#f39577db"/><path d="M1648,249.9l.5-2.3 6.9-35.7-.4 2.7z" fill="#e8765cdb"/><path d="M1789.7,270.6l.5-.7 1-2.2 7.6-50.6-1.7 9.1z" fill="url(#CYq)"/><path d="M1645.2,265.7l.4-2.3 .5-2.5 7-41.2-.9 5.6z" fill="#ee8468db"/><path d="M1547.7,314.9l.4-3.8 6.8-45-.3 4z" fill="url(#Coe)"/><path d="M1737.7,240.7l1.5-3.1 7.1-37.9-1.5 7z" fill="url(#CHq)"/><path d="M1618.3,323.9l1-2.5 .5-.6 .5-.3 .4 .1 8.2 183.3-1-1-1.4-1.4z" fill="url(#Cn)"/><path d="M1694.2,209.2l.4 2.8 .4 3 6.5 28.7-.9-6.1z" fill="url(#CHo)"/><path d="M1740.6,308.5l1.3 9.9 6.3 24.7-1 1.6-.5 .6z" fill="url(#Cqj)"/><path d="M1544.6,331.2l.3-3.7 6.7-53.6-.4 4.1z" fill="#f7ad90db"/><path d="M1754.9,242.4l.4 3.5 5.6 45.5-.4-1.7z" fill="url(#Cco)"/><path d="M1573.8,250.6l1 7.7 7.5 15-.5-3.6-.5-3.6z" fill="url(#CCh)"/><path d="M1638.4,322.9l1.4 12.5 7.4 93.6-1.5-4.1z" fill="url(#Cqc)"/><path d="M1613.5,173.5l.9 5.2 7 1.2-.9-6.7z" fill="url(#Cnp)"/><path d="M1484.6,317.1l.6 4.4 7.7-7.5-.6-4.3z" fill="url(#Cfb)"/><path d="M1656.3,326.4l1.4 10.7 6.9 134.9-1.4-2.2z" fill="url(#CGb)"/><path d="M1701.2,291l.5 4.2 6.2 58.9-.4-1.7z" fill="#f7b599db"/><path d="M1723.5,388.2l.5-.3 1-.8 8-83.1-1.7 11.7z" fill="url(#Cqh)"/><path d="M1758.1,257.8l.8 7.1 5.7 38.6-.4-.4-.5-.7z" fill="url(#Cen)"/><path d="M1789.5,275.3l.4 .4 .5 .2 .5 0 7.3-40.7-1.6 9.1z" fill="url(#CZp)"/><path d="M1587.5,163.8l1.4 7.3 7-6.1-1.4-7.3z" fill="url(#Clp)"/><path d="M1779.1,217.4l.4 2.7 5.4 40.4-.4-1.9z" fill="url(#CVq)"/><path d="M1725.7,225.7l.9 6.2 .4 3.2 6.3 17.9-1.3-4.1z" fill="url(#CPo)"/><path d="M1716,321.6l1.8 15.3 6.2 51-.5 .3-.9 .1-.5-.1z" fill="url(#Cdg)"/><path d="M1662.2,292.6l.9 7.1 .5 3.6 6.9 37.2-1.4-3.6z" fill="#f7b79bdb"/><path d="M1534.2,242.5l1.1 7.5 7.3-7-1-7.3z" fill="url(#Cvh)"/><path d="M1765.8,264.4l1.6-6.6 7.5-54.4-1.6 6z" fill="url(#CRq)"/><path d="M1564.2,281.7l.5 3.7 .5 3.8 7.8 25.1-1-5.8z" fill="url(#Cse)"/><path d="M1596.4,352.8l.9-4.4 6.7-74.7-.4 3.3-.4 3.4z" fill="url(#Cze)"/><path d="M1679.1,315.6l1.4 12.8 6.5 89.2-1-2.3-.4-1.3z" fill="url(#CWd)"/><path d="M1719.5,376l.4-1 8-88.1-.5 3.9z" fill="url(#Cki)"/><path d="M1574.8,183.6l1 5.8 7-6.3-.9-5.8z" fill="url(#Cmn)"/><path d="M1730.7,358.1l.8 7.4 6.4 32.3-1 1z" fill="url(#Cef)"/><path d="M1564.5,392.4l1.2-10.3 1.3-11.2 1.2-12 8 25.6-.5-4.1-.6-4.1-1-8.7-1-9.1-1.1-9.3-.5-4.7z" fill="#f1ccb8db"/><path d="M1596.4,312.7l.9-4.6 6.9-49.7-.5 3.1-.4 3.2z" fill="#f6a385db"/><path d="M1719,369l.8 9.1 5.9 84-.5-.1-.5 0z" fill="url(#CFc)"/><path d="M1613.6,245l.5-3.3 .4-3.4 6.9-28.8-.4 3.1-.4 3.3z" fill="url(#CDl)"/><path d="M1672.4,181.9l.4 2.5 .5 2.7 6.7 11.6-.9-6.2z" fill="url(#Cqq)"/><path d="M1650.5,406.4l1.5-2.2 7.3-105.4-1.4 9.9z" fill="url(#CTd)"/><path d="M1643.2,280.4l1-5.3 7-47.6-1 6z" fill="#ec7f63db"/><path d="M1563.1,307.2l.6 4.2 8.3 60.3-.5-2.9z" fill="#f7b89cdb"/><path d="M1620.9,462.9l1.9-2.9 6.8-160.6-.9 4.3-1 5.5z" fill="url(#CBb)"/><path d="M1739.6,308.9l1.4-4.6 7.8-68.7-1.6 8.9z" fill="url(#CZm)"/><path d="M1708,499.6l.4-.2 1.5-.7 8.6-134.2-.9-8.8-.9-8.2z" fill="url(#CQb)"/><path d="M1615.5,289.3l.5 4.1 7.6 62.2-.5-2.8z" fill="#f7b497db"/><path d="M1699.2,365.8l.5 4.2 1.4 13.3 5.9 116.6-1.5 .3-.5 .1z" fill="url(#Cdb)"/><path d="M1737.7,271.8l1-2.2 7.4-51.3-1 5.2z" fill="url(#CUo)"/><path d="M1547.9,221.8l1 7.1 7.3-6.7-1-6.9z" fill="url(#Cvj)"/><path d="M1623.8,233.7l1 6.7 7.1 14.8-.5-2.7-.4-2.9z" fill="url(#CJk)"/><path d="M1551.8,298.7l.4-3.9 6.9-38.5-.4 3.9z" fill="url(#Ckf)"/><path d="M1711.6,338.2l.5-.8 .9-2.2 7.7-76.2-1.5 9.7z" fill="url(#Cek)"/><path d="M1752.2,217.6l.9 6.3 5.8 36.1-.9-5.2z" fill="#ec8165db"/><path d="M1561.4,202.2l1 6.5 7.2-6.5-1-6.4z" fill="url(#Cwl)"/><path d="M1658.1,228.4l.9 7.1 6.9 31.3-.9-7.2z" fill="url(#COl)"/><path d="M1706.6,280.1l1.4-3 7.2-45.1-.5 2.7-1 5.6z" fill="url(#CPm)"/><path d="M1764.8,289.5l.9 5.6 1.7 9.3 1.3 5.3 .9 2.7 7.2-29.1-1.7 7.8-2.1 8.5-1.5 4.7-.5 1.2z" fill="url(#Ckm)"/><path d="M1728.8,265.3l.4 3.9 5.9 52.6-.4-1.7z" fill="#f6a283db"/><path d="M1662.8,209.4l.9 6.5 6.8 22.1-.5-3.6-.4-3.7z" fill="url(#CBn)"/><path d="M1643.1,371.9l.5-3.9 1.5-11.8 1.4-11.8 .5-3.8 7.2 102.3-1.9-9.3-1.4-8-.5-2.9z" fill="url(#CFb)"/><path d="M1708.7,315.5l.9-1.2 .5-.9 7.5-62.2-1.5 8.9z" fill="url(#Cel)"/><path d="M1491.7,305.3l.6 4.4 7.6-7.5-.5-4.2z" fill="url(#CRb)"/><path d="M1544.4,399.7l.4-2.3 .5-2.4 5.8-108.2-.8 6.6z" fill="url(#Cob)"/><path d="M1602.6,190.8l.5 3 .5 3.3 7.1 3.8-.5-3.9-.5-3.7z" fill="url(#Cpn)"/><path d="M1568.2,358.9l1.3-12.6 .4-4.2 8.3 57.4-.5-3.5-.5-3.7-1-7.8z" fill="#f1ccb8db"/><path d="M1694,246.7l1.3 9.3 6.6 23.2-1.3-3.6z" fill="#f18d6fdb"/><path d="M1738.4,290.6l.5-1.2 1-3 7.6-60.9-1.6 8.2z" fill="url(#CYn)"/><path d="M1654.5,224.1l.5-2.3 .9-4.8 6.9-27.5-1.4 6.9z" fill="url(#Cyo)"/><path d="M1781.4,231.1l.9 6.2 5.5 33.7-.4-.6-.5-.8z" fill="#ee8468db"/><path d="M1695.3,498.3l.5 .2 1.5 .7 8.6-163.8-.5 3.1-1.6 10.6z" fill="url(#COb)"/><path d="M1556.3,284.2l.4-3.8 7-33.3-.4 3.8z" fill="url(#Cog)"/><path d="M1577.8,239l.5 3.8 .5 3.9 7.4 12.6-.9-7.6z" fill="url(#CAi)"/><path d="M1747.7,347.8l.9 2.4 1 1.9 7.5-45.7-2.2 11.9z" fill="url(#Csj)"/><path d="M1577.5,300.7l1 2.3 1.5 6.6 9 140.7-2.4-7.7z" fill="url(#CL)"/><path d="M1566.7,304.2l1.1 8 8.7 93.1-1-5.4z" fill="url(#Ctb)"/><path d="M1656.6,261.4l.9 7.3 6.9 42-.9-4.5z" fill="#f39778db"/><path d="M1684.2,242.7l.5-3.4 7-41.2-.5 2.2z" fill="#e57058db"/><path d="M1640.7,313l.9-5.8 7.1-62.5-.9 6.7z" fill="url(#CPi)"/><path d="M1561.8,298.9l.5 3.9 .5 4 8.1 41.6-1-5.7z" fill="url(#CMc)"/><path d="M1645,380.9l.4-1.5 7.3-88.5-.5 3.5z" fill="url(#CKe)"/><path d="M1609.3,256.1l.4-3.2 .5-3.3 6.9-31.3-.4 3.1-.5 3.2z" fill="url(#CFk)"/><path d="M1688.4,396.6l1.4-2.7 7.9-106.4-1.6 10.1z" fill="url(#CZf)"/><path d="M1692.8,426.1l.5-2.9 2.1-12.8 1.5-10.6 7 8.7-.9-5.7-2.3-16-.5-3.5z" fill="#e8d6ccdb"/><path d="M1681.5,258.2l.9-6.8 7.1-45.2-.9 5.1z" fill="#e46e56db"/><path d="M1704.8,436.7l1.4-1.2 8.3-115.9-1.6 11.7z" fill="url(#Cfe)"/><path d="M1658.9,277.9l.5 3.6 6.9 42-.5-1.5z" fill="#f59f80db"/><path d="M1751.3,343.8l2.2 13.3 1.8 8.4 7.3-36.2-2.1 9.2-1.6 5.5-1 3z" fill="url(#Csi)"/><path d="M1619.1,297.4l1 7.8 7.5 71.5-.9-4.2z" fill="url(#COd)"/><path d="M1693,231l.9 6 .4 3.2 6.5 27.2-1.3-5.4z" fill="#ec8165db"/><path d="M1566.5,269.4l.5 3.8 .5 3.8 7.7 21.3-1-6.4z" fill="url(#Cpf)"/><path d="M1725.8,199.1l1.3 7.4 6.2 20.1-1.3-5.5z" fill="url(#CCq)"/><path d="M1469.6,336.6l.6 4.6 7.8-7.7-.6-4.4z" fill="url(#Ca)"/><path d="M1562.3,289.9l1 7.6 7.9 31.6-.9-5.7z" fill="url(#CAd)"/><path d="M1768.1,308.8l.4-.1 7.5-48.1-.5 3.4z" fill="#f59c7ddb"/><path d="M1651.3,235.4l.9-4.7 6.9-31.3-.9 4.8z" fill="url(#Cyn)"/><path d="M1561.3,270.5l.4-3.9 7-29.1-.4 3.7z" fill="url(#Cxh)"/><path d="M1639.8,183.7l.4-3.1 6.9-16.1-.5 1.7z" fill="url(#Cjq)"/><path d="M1786,254.3l1.2 8.4 .9 5.1 .8 4.4 6.5-6-.5 1.8-1 3.2-1.1 2.4-.9 1.6z" fill="#f18f71db"/><path d="M1766.2,278.2l1.5-6.7 7.7-59.3-.5 1.8-1.1 4.7z" fill="url(#CUp)"/><path d="M1582.3,228.4l.5 3.7 .5 3.8 7.3 10.5-.9-7.8z" fill="url(#CBj)"/><path d="M1512.9,271.1l.5 4 .6 4.1 7.5-7.2-1.1-8z" fill="url(#Cje)"/><path d="M1743.4,337.2l1-2.2 7.9-73.1-1.1 7.3z" fill="url(#Col)"/><path d="M1658.7,211.1l.4-2.3 .9-5 6.9-24.1-1.4 6.2z" fill="url(#Cvp)"/><path d="M1718.4,456.7l1.5 1.9 .5 .5 8.5-120.2-.5 3.5-1.6 10.7z" fill="url(#Csd)"/><path d="M1697.7,278.2l.9 8.1 6.4 44.8-.9-3.7z" fill="#f6a385db"/><path d="M1682.8,548l5.3 3.6 8.8-204.3-1-5.6-.9-4.3-1-2.9-.5-.9-.5-.5-.5-.2-.5 .3-.5 .7z" fill="url(#Cz)"/><path d="M1690,215.8l1-6.5 6.9-29.9-.9 2.8z" fill="#d95847db"/><path d="M1498.8,293.7l.6 4.3 7.6-7.4-.6-4.1z" fill="url(#CGc)"/><path d="M1764,283.5l.8 6 6.2 16-1 1.9z" fill="#f6a385db"/><path d="M1668.8,189.9l.9 5.4 6.7 14.4-.5-3.3-.4-3.4z" fill="url(#Cxp)"/><path d="M1608.2,181.5l.8-5.3 .4-2.3 7-10.5-.5 1.4-.8 3.9z" fill="url(#Cmp)"/><path d="M1676.5,475.2l1-.9 1-1.1 8.1-162.5-1 4.7-1 6z" fill="url(#Czc)"/><path d="M1813.8,262.8l1.1 9.1 6.5-8-.5 1.5-1.1 2.5z" fill="#f18d6fdb"/><path d="M1681.3,547l1.5 1 8.7-214.1-.5 1-1 3.2z" fill="url(#Cy)"/><path d="M1682.2,368l1-1.5 7.6-85-1 6.4z" fill="url(#Cch)"/><path d="M1688.3,448.1l3-13.8 1.5-8.2 7.4-42.8-.4-3.6-1.4-11.3-1.8-16-.4-4.1z" fill="url(#CBc)"/><path d="M1630.1,211.5l.5 2.8 .5 3 7 11-1-5.4z" fill="url(#Czm)"/><path d="M1641,345.2l.4-2.7 7.1-77-.4 3.6z" fill="url(#COg)"/><path d="M1598.9,294.1l.5-2.6 6.9-42.9-.4 3.1z" fill="#f39778db"/><path d="M1626.8,221.7l.4 3.1 .5 3.1 7.1 12.7-1-5.5z" fill="url(#CGl)"/><path d="M1603.4,402.3l.5-2.1 .4-2.3 6.6-114.7-.9 6.1z" fill="url(#CXc)"/><path d="M1705.8,294.7l.5 3.9 .8 8.2 6.2 68.3-1.4-3.8z" fill="url(#Chh)"/><path d="M1788.9,272.2l1.8 6.9 .9 2.3 7-29.3-1 5.2-2.2 8.9z" fill="url(#Chp)"/><path d="M1660,217.3l.9 6.7 6.8 26.5-.9-7.4z" fill="url(#CFm)"/><path d="M1694.3,332.5l1.9 15.8 6.2 89-1-.2-1-.5z" fill="url(#Cmd)"/><path d="M1617.9,250.9l.9 7.6 7.3 24.1-.5-3.2-.5-3.3z" fill="url(#CIi)"/><path d="M1615.1,168.7l.8-3.9 6.9-8.9-.8 2.1z" fill="url(#Cgq)"/><path d="M1741.7,323.6l1-3.2 7.9-74-1.1 6.2z" fill="url(#Cfm)"/><path d="M1710,254.3l1-4.6 7.1-42.3-1 5.3z" fill="url(#CLo)"/><path d="M1679.7,269.6l.5-3.3 7.1-49.9-.5 2.8z" fill="#ec8165db"/><path d="M1677.9,283.4l.5-3 7.1-53.5-.5 3.1z" fill="#f08b6edb"/><path d="M1726.2,250.9l.8 7.5 6 44.8-.8-4.4z" fill="#f49a7bdb"/><path d="M1751.9,205.2l1.3 8.2 5.9 29.6-1.3-7.9z" fill="url(#CJq)"/><path d="M1715.5,358.6l1.5-3.9 7.9-88.5-1.6 10z" fill="url(#Ckj)"/><path d="M1542.7,347l.4-3.5 6.5-65.3-.4 3.9z" fill="#f6a586db"/><path d="M1476.8,324.6l.6 4.5 7.8-7.6-.6-4.4z" fill="url(#CB)"/><path d="M1505.9,282.3l.5 4.2 7.6-7.3-.6-4.1z" fill="url(#Ctd)"/><path d="M1730.6,397.3l1.4 1.6 8-75.4-1.6 10.3z" fill="url(#Chg)"/><path d="M1663.2,198.1l1-4.9 .4-2.5 6.9-20.7-1.4 5.3z" fill="url(#Coq)"/><path d="M1605.4,267.3l.4-3.1 .5-3.1 6.9-34.5-.8 6.4z" fill="url(#CGj)"/><path d="M1725.1,232.8l.9 6.7 6.2 26.9-.9-3.7z" fill="#ec7f63db"/><path d="M1634.2,195.3l.9-6.6 6.9-17.4-.4 1.7-.5 2.2z" fill="url(#Cpp)"/><path d="M1677.5,343.1l1.5-2.6 7.4-68.9-1.5 9.2z" fill="url(#CZh)"/><path d="M1662.3,442.1l1.4-1.8 .5-.8 7.7-141.1-1.5 7.7-.5 3.1z" fill="url(#Cjd)"/><path d="M1696.7,186.8l.4 1.1 .9 3.7 6.5 22.2-1.3-11.4z" fill="url(#Cvq)"/><path d="M1526.8,249.3l1.1 7.7 7.4-7-1.1-7.5z" fill="url(#Ckg)"/><path d="M1655.7,246.7l.9 7.1 6.9 40.6-.4-2.9-.5-3.2z" fill="url(#CPj)"/><path d="M1580.5,169.9l1.4 7.4 7-6.2-1.4-7.3z" fill="url(#Cno)"/><path d="M1685.3,366.2l2.1-14.8 6 145.8-.9-.6-1-.7z" fill="url(#Cbb)"/><path d="M1695,196.2l.9 4.1 6.4 25.6-.8-7.3z" fill="url(#CDp)"/><path d="M1613.9,277.3l.5 4.2 7.5 51.4-.5-3.3z" fill="#f7a688db"/><path d="M1707.7,294.4l.9-1.7 7.3-51.8-1 5.5z" fill="url(#CXl)"/><path d="M1675.6,310.8l1-4.1 7.2-58.3-.5 3.3-.5 3.3z" fill="url(#CVj)"/><path d="M1616.8,162.5l.5-.4 .4 .1 .5 .6 .4 1.2 .9 3.7 7-.5-1.4-7.8-.9-2.9-.5-.7z" fill="url(#Chq)"/><path d="M1739.4,297.9l.8 7.1 .4 3.5 6.1 36.8-.5 .3-.9 .3z" fill="url(#Cpj)"/><path d="M1695.7,266.5l1.3 11.1 6.6 32.3-1.4-4.9z" fill="#f59f80db"/><path d="M1567.6,189.8l1 6 7.2-6.4-1-5.8z" fill="url(#Com)"/><path d="M1694.6,256.5l.5 3.2 .9 6.7 6.5 25.5-1.3-4z" fill="#f29274db"/><path d="M1732,272.4l1.3 11.2 5.9 53.9-.5-.9-.9-2.5z" fill="url(#Cjk)"/><path d="M1648.5,247.6l.9-5 7-35.6-1 4.9z" fill="#e36b54db"/><path d="M1596.1,328.7l.5-2.2 .4-2.4 6.9-60.8-.5 3.1-.4 3.2z" fill="url(#Cxf)"/><path d="M1583.6,222.4l.4-3.4 .5-3.5 7-17.6-.9 5.8z" fill="url(#Cyl)"/><path d="M1620.4,240.4l.9 7.1 7.2 19.1-.9-6.2z" fill="url(#CJj)"/><path d="M1640.6,328.3l.5-2.9 .4-3 7.1-70.2-.9 6.6z" fill="url(#CRh)"/><path d="M1749.6,331.3l1.3 9.5 .4 3 6.6 3.2-1 2.6-1 1.9z" fill="#f6bda2db"/><path d="M1548.1,311.1l.4-3.9 6.8-45-.4 3.9z" fill="url(#Coe)"/><path d="M1665.5,299.5l1 7.9 6.8 51.3-.9-3.2z" fill="#f7b599db"/><path d="M1767.5,301.2l1-2.6 7.8-61.6-1.1 6.4z" fill="url(#Cgo)"/><path d="M1811.3,248.7l1.2 7.4 1.3 6.2 .8 3.1 .5 1.3 7.1-31.7-2.7 10.8-1.1 3.3-1 2.6z" fill="url(#Cdr)"/><path d="M1591.8,150.7l.5 .4 .9 1.7 1.3 4.9 7-6-1.4-4.9-.9-1.7-.4-.4z" fill="url(#Cfq)"/><path d="M1675.6,325.3l1.5-4.3 7.3-61.6-.5 3.1-1 6.4z" fill="url(#CYi)"/><path d="M1646.1,260.9l.4-2.7 7-41.2-.4 2.7z" fill="#e7745bdb"/><path d="M1618.8,229.7l.9-7 6.9-25.5-.9 5.7z" fill="url(#Cvm)"/><path d="M1729.3,346.5l1.4 11.6 6.2 40.7-1 .7-.5 .3z" fill="url(#Cdf)"/><path d="M1544.9,327.5l.4-3.9 6.7-53.6-.4 3.9z" fill="#f59d7edb"/><path d="M1540.6,228.5l1 7.2 7.3-6.8-1-7.1z" fill="url(#Cui)"/><path d="M1763.1,277.2l.9 6.3 6 23.9-1 1.1z" fill="#f59f80db"/><path d="M1656.2,235.3l.9 6.9 6.9 36.4-.9-7z" fill="url(#CPk)"/><path d="M1572.1,245.3l.4-3.7 .4-3.7 7-22.2-.4 3.2-.4 3.3z" fill="url(#Cxj)"/><path d="M1725.1,208.8l1.3 7.9 6.3 20.2-1.3-5.1z" fill="url(#CIp)"/><path d="M1642.3,362.2l.9-4.6 7.2-83.9-1 7z" fill="url(#COf)"/><path d="M1484,312.7l.6 4.4 7.7-7.4-.6-4.4z" fill="url(#Cfb)"/><path d="M1554.2,208.6l1 6.7 7.2-6.6-1-6.5z" fill="url(#Cvk)"/><path d="M1700.3,282.9l.9 8.1 6.3 61.4-.9-3.9z" fill="url(#Cgi)"/><path d="M1813,256.3l.4 3.3 .4 3.2 6 5.1-1 1.5z" fill="#ec8165db"/><path d="M1777.8,211.6l.4 1.5 .9 4.3 5.4 41.2-1.2-7.3z" fill="url(#CVq)"/><path d="M1719.9,375l1-2.4 8.1-92.8-.6 3.4-.5 3.7z" fill="url(#Cli)"/><path d="M1602.1,190l.8-5.6 .5-2.5 6.9-11.4-.4 1.5-.5 1.9-.4 2.3z" fill="url(#Cpo)"/><path d="M1670.4,304.6l.4 4.1 .5 4.2 6.7 72.7-.5-1.8-.4-1.9z" fill="url(#CQe)"/><path d="M1610.2,429.4l1.4-5.4 6.7-135.9-.5 2.2-.9 5.5z" fill="url(#Cnc)"/><path d="M1595.9,199.5l.9-6.1 7-13.6-.4 2.1-.5 2.5z" fill="url(#Con)"/><path d="M1640.2,180.6l.5-2.9 6.8-14.4-.4 1.2z" fill="#c53334db"/><path d="M1599.4,374.5l.9-4.8 6.7-94.4-.9 6.3z" fill="url(#CJd)"/><path d="M1640.5,178.4l.5 1.8 .9 4.5 6.9 7.1-.9-5.8-.5-2.8z" fill="url(#Csp)"/><path d="M1794.5,289.8l.8 6.6 6.4 0-1.1 2.2z" fill="#f59f80db"/><path d="M1676.5,296.9l1-5.3 7.2-56.3-.5 3-.5 3.3z" fill="url(#CVk)"/><path d="M1601.9,279.5l.5-2.9 .4-2.9 7-38.3-.9 6.2z" fill="url(#CEi)"/><path d="M1708.3,265.9l1.5-5.5 7.1-44.2-1.5 7.9z" fill="url(#CMn)"/><path d="M1596.9,197.2l.9 6.2 7.2 4.9-.5-3.9-.5-3.8z" fill="url(#Crm)"/><path d="M1633,197.6l1.4 7.9 7 9.8-1-5.5-.4-2.9z" fill="url(#Cvn)"/><path d="M1607.4,178.9l.9 4.7 7 1.6-.9-6.5z" fill="url(#Cqo)"/><path d="M1715.2,227.7l.5-3.3 .5-3.3 7-35.5-1 3.3z" fill="#dd5f4bdb"/><path d="M1746.2,345.6l.5-.3 .5-.6 7.9-67-1.1 7.2z" fill="url(#Cok)"/><path d="M1753.6,233.7l1.3 8.7 5.6 47.3-1.3-6.5z" fill="url(#Cco)"/><path d="M1589.8,210.2l.8-6.5 7.1-15.4-.9 5.1z" fill="url(#Cqm)"/><path d="M1642.2,293.4l.9-6 7.1-54.5-1 5.9z" fill="url(#COj)"/><path d="M1577.9,232.9l.4-3.6 .4-3.6 7-19.6-.4 3-.4 3.1z" fill="url(#Cxk)"/><path d="M1696.5,419.4l1.5-3.1 8.1-121-.5 3-1.1 7z" fill="url(#CXe)"/><path d="M1712.6,240.3l.5-2.8 .5-3 7.1-39.5-1 4.3z" fill="#da5a49db"/><path d="M1687.4,226.3l.5-3.4 .4-3.5 7-32.6-.9 2.7z" fill="#dc5d4adb"/><path d="M1586.7,215.9l1 7 7.3 8.4-.5-4-.5-3.9z" fill="url(#Czk)"/><path d="M1725,239.6l.8 6.9 6.1 36.4-.8-4.5z" fill="#ec7f63db"/><path d="M1756.8,248l1.3 9.8 5.6 44.6-.5-.9-.9-2.5z" fill="url(#Cdn)"/><path d="M1629.1,205l.9-6.8 6.9-19.5-.4 2-.5 2.3z" fill="url(#Cso)"/><path d="M1727.9,258.2l.9 7.1 5.9 54.8-.9-4.2z" fill="url(#Cjl)"/><path d="M1696.9,399.8l.6-3.7 1.5-11.5 6.8 34-1.4-7.5-.5-2.6z" fill="url(#CCc)"/><path d="M1785.2,248.4l.8 5.9 5.9 20.9-1 .7z" fill="#ee8669db"/><path d="M1626,305.5l1.5 11 7.5 79.5-1.4-4.5z" fill="url(#Cbd)"/><path d="M1552.2,294.8l.4-4 6.9-38.3-.4 3.8z" fill="url(#Ckf)"/><path d="M1693.3,204.7l.9 4.5 6.4 28.4-.4-3.3-.4-3.4z" fill="url(#CHo)"/><path d="M1566.7,256.4l.4-3.8 .4-3.8 7-25-.8 6.8z" fill="url(#Cwi)"/><path d="M1491.2,301l.5 4.3 7.7-7.3-.6-4.3z" fill="url(#CRb)"/><path d="M1615.9,164.8l.5-1.4 .4-.9 6.9-6.7-.4-.2-.5 .3z" fill="#bd1f2ddb"/><path d="M1615.3,256.8l.5 3.9 .5 4 7.3 31.7-1-7z" fill="url(#CKh)"/><path d="M1767.1,289.6l1.5-6.4 7.8-62.4-1.6 6.9z" fill="url(#Cbp)"/><path d="M1665.1,196.5l.9 5.4 6.8 17.5-.5-3.6-.4-3.6z" fill="url(#CBo)"/><path d="M1769.6,312.4l1.4 2.8 7.4-40.5-.6 2.9-1 5.7z" fill="url(#Clm)"/><path d="M1624,216.4l.9-7 6.9-22.2-.5 2.3-.4 2.6z" fill="url(#Crn)"/><path d="M1554.5,441l.9-2.6 1.8-5.9 1.3-5.2 5.6-138.4-1-3.7-.9-2.1-.5-.4-.5 0-.5 .4-.4 .8-.5 1.2z" fill="url(#CI)"/><path d="M1558.5,427.3l2.6-12.5 2.1-13.2 .9-6 .4-3.2 7-47.9-1.1-9.5-1.1-9.4-1-9-.5-4.4-1.1-8-1-7.1-1.1-5.8-.5-2.4z" fill="url(#CJ)"/><path d="M1715.2,313.9l.4 3.8 .4 3.9 6.1 66.6-1-.6z" fill="url(#Ccg)"/><path d="M1556.7,280.4l.4-4 7-33-.4 3.7z" fill="url(#Cog)"/><path d="M1755.3,365.5l.4 1.9 .9 3.2 1.9 5.1 7.9-66.6-2.2 12-1.6 8.2z" fill="url(#Cti)"/><path d="M1542.3,368.4l.8-6.5 6.3-82.1-.4 3.5-.4 3.7z" fill="url(#CYb)"/><path d="M1569.9,342.1l.8-8.3 1.3-11.7 1.8-12.9 .9-4.6 .9-3 .4-.9 .5-.5 .5 .1 .5 .4 9.1 141.9-1.9-7.5-1-4.3-.5-2.3-2.5-13-1.5-9.2-1-6.8z" fill="url(#CK)"/><path d="M1717.6,355.7l.9 8.8 .5 4.5 5.7 93-1.4-.6z" fill="url(#CFc)"/><path d="M1599.4,291.5l.4-2.7 6.9-43.3-.4 3.1z" fill="#f08a6cdb"/><path d="M1751.8,222l1.3 7.6 5.7 43.6-1.3-8.5z" fill="#e97a5fdb"/><path d="M1630.3,442.6l1.4-4.7 2.4-9.3 7.2-79.9-1.5-13.3-1.4-12.5-1-7.5z" fill="url(#CDb)"/><path d="M1739.2,237.6l1.5-4.9 7.1-38.7-1.5 5.7z" fill="url(#CHq)"/><path d="M1569.1,254.9l.6 3.7 .5 3.8 7.6 18.4-1-7.2z" fill="url(#Csg)"/><path d="M1780.2,223.4l1.2 7.7 5.5 38.5-.4-1.1-.9-3z" fill="url(#CXp)"/><path d="M1614.6,281.6l.9 7.7 7.6 63.5-.9-6z" fill="url(#CFe)"/><path d="M1671.5,177.9l.9 4 6.7 10.6-.9-6.2z" fill="url(#Cpq)"/><path d="M1622.8,460l.9-1.6 6.9-162.1-1 3.1z" fill="url(#CBb)"/><path d="M1738.5,252.6l1.5-4.5 7.2-44.7-1.5 6.1z" fill="url(#CNp)"/><path d="M1645.4,379.4l.5-1.6 .5-1.7 7.2-91.9-.9 6.7z" fill="url(#CLe)"/><path d="M1652.2,230.7l.5-2.6 6.9-30.9-.5 2.2z" fill="url(#Cyn)"/><path d="M1591.6,205.6l.5 3.1 .4 3.4 7.3 6.4-1-7.9z" fill="url(#Czl)"/><path d="M1562.1,299.1l1 8.1 8.4 61.6-.5-3-.5-3.1z" fill="#f7b89cdb"/><path d="M1561.7,266.6l.4-3.9 7-28.7-.4 3.5z" fill="url(#Cxh)"/><path d="M1684.7,239.3l.5-3.6 .5-3.6 7-37.2-1 3.2z" fill="#d75445db"/><path d="M1768.5,308.7l.5-.2 1-1.1 7.7-56.5-1.7 9.7z" fill="url(#Chn)"/><path d="M1770.9,308.4l1.7 10.3 1.3 6.3 .9 3.4 7.4-36.4-2.2 9.6-2.1 7.4-.5 1.4z" fill="url(#Cul)"/><path d="M1791.6,281.4l.9 1.6 7.2-36.3-.5 2.8-.6 2.6z" fill="#ef886bdb"/><path d="M1751.4,212.9l.8 4.7 5.8 37.2-.8-6z" fill="#e36c55db"/><path d="M1469,332.1l.6 4.5 7.8-7.5-.6-4.5z" fill="url(#Ca)"/><path d="M1738.7,269.6l1.5-5.1 7.4-52.4-1.5 6.2z" fill="url(#CVo)"/><path d="M1498.3,289.5l.5 4.2 7.6-7.2-.5-4.2z" fill="url(#CGc)"/><path d="M1790.7,274l.4 2.8 .4 2.7 1.3 7.2 1.2 6 .9 3.1 7.3-34.2-1.7 7.2-1.6 6-1.5 4.6-.5 1.2z" fill="url(#Clo)"/><path d="M1597.3,348.4l.8-4.8 6.8-76.1-.9 6.2z" fill="url(#CAe)"/><path d="M1693.1,240.7l.9 6 6.6 28.9-.9-3.3z" fill="#e97a5fdb"/><path d="M1655.9,217l.5-2.5 6.9-26.9-.5 1.9z" fill="url(#Cyo)"/><path d="M1682.4,251.4l.5-3.6 7.1-43.6-.5 2z" fill="#e46e56db"/><path d="M1791.2,267.7l1.6-5.1 7.6-52.4-1.6 6.9z" fill="url(#CYq)"/><path d="M1636.3,186.2l1.4 6.7 6.9 8.4-1.3-8.6z" fill="url(#Cvo)"/><path d="M1609.4,173.9l.5-1.9 6.9-9.5-.4 .9z" fill="url(#Cmp)"/><path d="M1597.3,308.1l.4-2.4 .4-2.6 7-50.8-.5 3-.4 3.1z" fill="url(#Cxg)"/><path d="M1519.3,256.2l1.1 7.8 7.5-7-1.1-7.7z" fill="url(#Cgf)"/><path d="M1790.9,275.9l1-.7 .9-1.6 7.6-49.6-1.1 5.3-1.1 5.9z" fill="url(#Caq)"/><path d="M1748.7,324.5l.9 6.8 6.3 20.2-.5 .8-.5 .7z" fill="#f7b89cdb"/><path d="M1657.5,267.7l1.4 10.2 6.9 44.1-1.4-5.7z" fill="#f59f80db"/><path d="M1613.6,263.9l1 7.9 7.4 41-.9-7.2z" fill="url(#CBg)"/><path d="M1708,277.1l1-2.9 7.2-47.4-1 5.2z" fill="url(#CPm)"/><path d="M1724.4,217.3l1.3 8.4 6.3 23.2-1.3-5.7z" fill="url(#COo)"/><path d="M1563.2,274.3l.5 3.7 .5 3.7 7.8 26.8-1-6.4z" fill="url(#Cse)"/><path d="M1643.4,168.7l.4 .1 .5 .5 .4 1 .9 3.2 6.8 4.8-1.3-8-.9-4.2z" fill="url(#Clq)"/><path d="M1573.4,176.1l1.4 7.5 7.1-6.3-1.4-7.4z" fill="url(#Cmn)"/><path d="M1692,213l1.3 7.4 6.5 30.5-1.3-8.7z" fill="url(#CFn)"/><path d="M1622.9,227.4l.9 6.3 7.2 15.9-1-5.9z" fill="url(#CJk)"/><path d="M1767.4,257.8l1-5.6 .5-3.2 7.4-47.2-.4 0-.5 .5-.5 1.1z" fill="url(#CRq)"/><path d="M1644.2,275.1l.4-2.9 .5-3 7-46.9-.9 5.2z" fill="#ec7f63db"/><path d="M1611.2,168.8l.5-.1 .4 .4 .5 1 .9 3.4 7-.3-1-5.5-.9-3.7-.4-1.2z" fill="url(#Cnp)"/><path d="M1713,335.2l1-3 7.8-78.7-1.1 5.5z" fill="url(#Cek)"/><path d="M1560.4,196.1l1 6.1 7.2-6.4-1-6z" fill="url(#Cwl)"/><path d="M1724.7,229.7l.4 3.1 6.2 29.9-.4-2.2z" fill="url(#CQn)"/><path d="M1660,203.8l.5-2.5 6.9-23.3-.5 1.7z" fill="url(#Cvp)"/><path d="M1749.6,352.1l.9 1.3 1 .8 7.8-60.6-1.7 9.7-.5 3.1z" fill="url(#Ctj)"/><path d="M1655.7,254.7l.9 6.7 6.9 44.8-.4-2.6-.5-2.7z" fill="#f39778db"/><path d="M1660.8,282.1l1.4 10.5 6.9 44.3-1.4-4.7z" fill="#f7a688db"/><path d="M1543.1,343.5l.4-3.8 6.5-65.3-.4 3.8z" fill="#f6a586db"/><path d="M1613.4,273.4l.5 3.9 7.5 52.3-.5-3.5z" fill="#f4987adb"/><path d="M1505.3,278.1l.6 4.2 7.5-7.2-.5-4z" fill="url(#Ctd)"/><path d="M1572.8,243.3l.5 3.6 .5 3.7 7.5 15.5-.5-3.8-.5-3.9z" fill="url(#CCh)"/><path d="M1618.1,290.3l1 7.1 7.6 75.1-1-4.6z" fill="url(#COd)"/><path d="M1761.9,267.4l.4 3.3 .8 6.5 5.9 31.3-.5 .2-.4 .1-.5-.1z" fill="url(#Cjm)"/><path d="M1640.7,177.7l.4-2.5 .5-2.2 6.8-10.7-.4 .3-.5 .7z" fill="url(#Ckq)"/><path d="M1584.8,156.8l.5 .3 .9 1.7 1.3 5 7-6.1-1.3-4.9-.9-1.7-.5-.4z" fill="url(#Clp)"/><path d="M1601.7,186l.9 4.8 7.1 2.5-.5-3.5-.4-3.2z" fill="url(#Cpn)"/><path d="M1545.3,395l.8-5 5.9-109-.4 2.8-.5 3z" fill="url(#Cob)"/><path d="M1808.4,229.2l2.9 19.5 6.1 3-1 1.9-1 1-.5 .2-.4 0-.5-.3z" fill="#e8765cdb"/><path d="M1635.1,188.7l.5-3 6.9-15.8-.5 1.4z" fill="#c73635db"/><path d="M1533.2,235.1l1 7.4 7.4-6.8-1-7.2z" fill="url(#Cvh)"/><path d="M1725,387.1l1-1.3 .5-.9 8.1-91.9-1.1 7.2-.5 3.8z" fill="url(#Cqh)"/><path d="M1476.3,320.1l.5 4.5 7.8-7.5-.6-4.4z" fill="url(#CB)"/><path d="M1652.9,314.7l.5 .4 .5 .8 .4 1.2 1 3.9 1 5.4 6.9 143.4-1.9-3.7-1.4-3.4z" fill="url(#CGb)"/><path d="M1636.9,311.9l.5 3.5 1 7.5 7.3 102-1.4-4.7z" fill="url(#Cqc)"/><path d="M1614.5,238.3l.9-6.9 6.9-27.4-.4 2.6-.5 2.9z" fill="url(#CDl)"/><path d="M1652,404.2l1.4-3 7.4-111.2-1.5 8.8z" fill="url(#CTd)"/><path d="M1738.5,290.8l.9 7.1 5.9 48-.5-.1-.5-.2z" fill="url(#Coj)"/><path d="M1641.4,342.5l1-5.7 7.1-77.7-1 6.4z" fill="url(#CPg)"/><path d="M1546.9,215.1l1 6.7 7.3-6.5-1-6.7z" fill="url(#Cvj)"/><path d="M1661.9,204l.9 5.4 6.8 21.3-.9-7.6z" fill="url(#CBn)"/><path d="M1680.2,266.3l.5-3.5 .4-3.5 7.2-47.4-.5 2-.5 2.5z" fill="#e26952db"/><path d="M1677.7,304.9l1.4 10.7 6.5 98.4-1.4-4.7z" fill="url(#CWd)"/><path d="M1565.7,297.1l1 7.1 8.8 95.7-.5-2.8-.5-2.9z" fill="url(#Ctb)"/><path d="M1710.1,313.4l1.5-3.7 7.5-66.4-1.5 7.9z" fill="url(#Cel)"/><path d="M1678.4,280.4l.4-3.1 .5-3.3 7.2-52.3-1 5.2z" fill="#e8765cdb"/><path d="M1667.9,185.7l.9 4.2 6.7 13.1-.4-3.3-.5-3.3z" fill="url(#Cwp)"/><path d="M1629.2,206.1l.9 5.4 7 11.4-.9-5.8z" fill="url(#Czm)"/><path d="M1657.2,222.5l.9 5.9 6.9 31.2-.5-3.8-.4-3.9z" fill="url(#CNl)"/><path d="M1696.9,270.6l.8 7.6 6.4 49.2-.9-4.3z" fill="#f6a385db"/><path d="M1678.5,473.2l.9-1.4 .5-.8 8.2-164.1-1 2.1-.5 1.7z" fill="url(#Czc)"/><path d="M1724.4,193.5l1.4 5.6 6.2 22-1.3-7.1z" fill="url(#CCq)"/><path d="M1792.9,275.8l1.2 10.6 .4 3.4 6.1 8.8-.5 .9-.5 .6-.9 .7z" fill="#f4987adb"/><path d="M1665.1,295.7l.4 3.8 6.9 56-.5-1.8z" fill="#f7af91db"/><path d="M1774.1,304.9l1.3 11.4 6.1 18.8-1 1.1-.5 .2z" fill="#f7ad90db"/><path d="M1705.5,500.2l1.5-.3 1-.3 8.7-152.1-.9-7.6-1.3-9.6z" fill="url(#CQb)"/><path d="M1697.3,499.2l1.4 .5 .5 .1 8.8-174.6-1 4.6-1.1 5.6z" fill="url(#COb)"/><path d="M1697.4,350.6l.9 7.2 .9 8 5.8 134.5-1.9 .1z" fill="url(#Ccb)"/><path d="M1768.8,293.2l1.3 9.4 .8 5.8 6.5 2-1 2.5-1 1.9-.5 .7z" fill="#f6a283db"/><path d="M1683.2,366.5l1.4-3.2 7.7-90.5-1.5 8.7z" fill="url(#Cdh)"/><path d="M1560.7,291.2l1.1 7.7 8.1 43.8-.5-3-.5-3.2z" fill="url(#CLc)"/><path d="M1625.8,216l1 5.7 7 13.4-.9-5.8z" fill="url(#CGl)"/><path d="M1548.5,307.2l.4-4.1 6.8-44.7-.4 3.8z" fill="url(#Coe)"/><path d="M1739.9,286.4l1.5-6.4 7.6-59.9-1.5 5.4z" fill="url(#CYn)"/><path d="M1741,304.3l1.6-6.7 7.7-67.9-.5 1.5-1 4.4z" fill="url(#CZm)"/><path d="M1711,249.7l.9-5.2 7.2-41.5-1 4.4z" fill="url(#CLo)"/><path d="M1783.9,239.7l.4 2.8 .9 5.9 5.7 27.5-.5 0-.5-.2-.4-.4z" fill="url(#Cgp)"/><path d="M1604.3,397.9l.9-4.9 6.7-114.5-1 4.7z" fill="url(#CXc)"/><path d="M1641.6,307.2l1-6.5 7-61.5-.9 5.5z" fill="url(#CPi)"/><path d="M1561.3,282.5l1 7.4 8 33.5-1-6.2z" fill="url(#CAd)"/><path d="M1789.4,265.2l1.3 8.8 6.2 6.6-1.5 2.5z" fill="#f08b6edb"/><path d="M1545.3,323.6l.4-3.9 6.7-53.5-.4 3.8z" fill="#f59d7edb"/><path d="M1725.3,244.5l.9 6.4 6 47.9-.9-5.2z" fill="url(#Cam)"/><path d="M1646.5,258.2l1-5.7 7-40.2-1 4.7z" fill="#e0654fdb"/><path d="M1483.4,308.3l.6 4.4 7.7-7.4-.5-4.3z" fill="url(#Cfb)"/><path d="M1694.1,194.1l.4 .8 .5 1.3 6.5 22.4-.9-7.5z" fill="url(#CCp)"/><path d="M1610.2,249.6l.4-3.3 .4-3.3 7-30.4-.4 2.7-.5 3z" fill="url(#CFk)"/><path d="M1744.4,335l1.5-4.8 8-77.3-1.6 9z" fill="url(#Col)"/><path d="M1565.4,262.1l1.1 7.3 7.7 22.5-1-7z" fill="url(#Cpf)"/><path d="M1609.9,172l.4-1.5 .5-1.1 .4-.6 7-6-.5-.6-.4-.1-.5 .4z" fill="#bd1f2ddb"/><path d="M1691.6,223l1.4 8 6.5 31-1.3-7.2z" fill="#e57058db"/><path d="M1689.8,393.9l1.5-4 7.9-110.3-1.5 7.9z" fill="url(#CZf)"/><path d="M1576.8,231.9l.5 3.5 .5 3.6 7.5 12.7-1-7.9z" fill="url(#CAi)"/><path d="M1691,209.3l1-6.6 .9-6.1 6.8-16.8-.4-.9-.5-.4-.4 .2-.5 .7z" fill="#cb3e38db"/><path d="M1695.3,263l.4 3.5 6.5 38.5-.4-2z" fill="#f08a6cdb"/><path d="M1706.2,435.5l1-1.1 .5-.7 8.4-124.3-1.1 6.6-.5 3.6z" fill="url(#Cfe)"/><path d="M1815.1,266.7l.4 1.1 .9 1.6 1 .7 .5 0 7.6-49-3.3 13.9z" fill="url(#Cer)"/><path d="M1664.6,190.7l.9-4.8 6.9-18.1-.9 2.2z" fill="#c43032db"/><path d="M1811,240.2l2 16.1 5.8 13.1-.9 .7-.5 0-1-.7z" fill="#ec8165db"/><path d="M1767.7,271.5l1.1-5.7 .5-3.2 7.6-52.4-.5 .1-.5 .7-.5 1.2z" fill="url(#CUp)"/><path d="M1708.6,292.7l1.5-3.8 7.3-55.5-.5 2.4-1 5.1z" fill="url(#CYl)"/><path d="M1720.4,459.1l.9 1 1 .7 8.8-134.9-2.2 13z" fill="url(#Csd)"/><path d="M1747.8,317.5l.9 7 6.2 28.5-1 1z" fill="url(#Cri)"/><path d="M1695.8,186.3l.4 0 .5 .5 6.5 15.6-.8-7.4z" fill="url(#Cuq)"/><path d="M1728,334.8l1.3 11.7 6.1 53.3-1.5 .1z" fill="url(#Ccf)"/><path d="M1679,340.5l.9-2.3 7.4-72.4-.9 5.8z" fill="url(#CZh)"/><path d="M1603.4,181.9l.4-2.1 7-10.4-.5 1.1z" fill="url(#Cpo)"/><path d="M1776.9,210.2l.4 .4 .5 1 5.5 39.7-.8-6.1z" fill="url(#CUq)"/><path d="M1692.8,203.1l.5 1.6 6.5 26.2-.5-3.6z" fill="#d95847db"/><path d="M1742.7,320.4l1.6-6.4 7.8-74.4-1.5 6.8z" fill="url(#Cfm)"/><path d="M1693.7,250.1l.9 6.4 6.6 31.4-.9-3.5z" fill="#eb7d62db"/><path d="M1659.1,212l.9 5.3 6.8 25.8-.4-3.9-.5-4z" fill="url(#CFm)"/><path d="M1647,340.6l1.5-10.4 .9-5.9 1-4.7 1-3.2 .5-1 .5-.6 .5-.1 7 148-1.9-5.5-1.4-4.7-1.4-5.5-1-4.1z" fill="url(#CFb)"/><path d="M1649.4,242.6l.9-5.5 7-34.3-.5 2-.4 2.2z" fill="#d85646db"/><path d="M1581.3,221.7l.5 3.2 .5 3.5 7.4 10.2-1-8z" fill="url(#CBj)"/><path d="M1731.1,266l.9 6.4 5.8 61.7-.9-3.4z" fill="url(#Cik)"/><path d="M1732,398.9l.5 .4 1.4 .6 8.3-89.9-2.2 13.5z" fill="url(#Cig)"/><path d="M1552.6,290.8l.4-4.1 6.9-37.8-.4 3.6z" fill="url(#Ckf)"/><path d="M1664.2,439.5l1.5-2.8 7.7-142.7-.5 1-1 3.4z" fill="url(#Cjd)"/><path d="M1630,198.2l.4-3.1 7-18-.5 1.6z" fill="url(#Cto)"/><path d="M1616.9,243.8l1 7.1 7.2 25.2-.9-6.8z" fill="url(#CIi)"/><path d="M1490.6,296.7l.6 4.3 7.6-7.3-.5-4.2z" fill="url(#CRb)"/><path d="M1676.6,306.7l.9-4.7 7.3-59.4-1 5.8z" fill="url(#CWj)"/><path d="M1557.1,276.4l.4-4.1 7-32.4-.4 3.5z" fill="url(#Cog)"/><path d="M1679.9,471l2-3.6 1.9-4.6 2-5.7 1.5-5.2 1-3.8 7.9-99.8-1.9-15.8-1.8-13.7-1.4-7.5-1-3.2-.5-1-.5-.5-.5-.1-.5 .4z" fill="url(#CAc)"/><path d="M1654.8,240.7l.9 6 6.9 41.6-.9-6.8z" fill="url(#CPj)"/><path d="M1511.8,263.1l1.1 8 7.5-7.1-1.1-7.8z" fill="url(#Cje)"/><path d="M1597,324.1l.9-5.1 6.8-61.6-.4 2.9-.4 3z" fill="url(#Cxf)"/><path d="M1692.5,318.8l1.8 13.7 6.1 104.1-.4-.4-.5-.4-1-1.1z" fill="url(#Cmd)"/><path d="M1699.4,275.7l.9 7.2 6.3 65.6-.9-4.6z" fill="url(#Cgi)"/><path d="M1704.5,284.5l1.3 10.2 6.1 76.6-1.4-5.2z" fill="url(#Chh)"/><path d="M1641.6,173l.4-1.7 .5-1.4 .4-.8 .5-.4 6.8-2.6-.9-2.8-.4-.7-.5-.3z" fill="#bd1f2ddb"/><path d="M1675.4,394l1-7.2 .5-3.8 1.5-12 1.6-12.8 6.9 29.3-.5-3.5-.9-7.5-1.3-12.3-1.4-13.2z" fill="#f4c5addb"/><path d="M1669.4,296.9l1 7.7 6.7 77.3-.9-4.2z" fill="url(#CQe)"/><path d="M1606.3,261.1l.4-3.2 .4-3.3 7-33.7-.9 5.7z" fill="url(#CGj)"/><path d="M1619.4,233.8l1 6.6 7.2 20-1-6.4z" fill="url(#CJj)"/><path d="M1768.5,298.6l1.6-5.5 7.8-63.4-1.6 7.3z" fill="url(#Cho)"/><path d="M1566.2,182.3l1.4 7.5 7.2-6.2-1.4-7.5z" fill="url(#Com)"/><path d="M1624.9,209.4l.4-3.3 6.9-20.9-.4 2z" fill="url(#Crn)"/><path d="M1750.6,200.3l.4 1.2 .9 3.7 5.9 29.9-1.2-9.4z" fill="#d85646db"/><path d="M1713.6,234.5l1-6.3 7.1-36.1-1 2.9z" fill="#da5a49db"/><path d="M1771,315.2l.5 .6 .9 .7 .5 .1 7.7-53.7-2.2 11.8z" fill="url(#Cmm)"/><path d="M1553.2,202.5l1 6.1 7.2-6.4-1-6.1z" fill="url(#Cvk)"/><path d="M1584.5,215.5l.4-3.3 .4-3.1 7-15.9-.4 2.2-.4 2.5z" fill="url(#Cyl)"/><path d="M1497.7,285.2l.6 4.3 7.6-7.2-.6-4.2z" fill="url(#CGc)"/><path d="M1660.5,201.3l.9-4.9 6.9-20.9-.4 1.1-.5 1.4z" fill="#c83836db"/><path d="M1724.1,233.6l.9 6 6.1 38.8-.9-5.4z" fill="#ec7f63db"/><path d="M1599.8,288.8l.4-2.7 .5-2.9 6.9-43.5-.4 2.9-.5 2.9z" fill="#ec7f63db"/><path d="M1699,384.6l1.6-12 1.6-12 6.3 70.6-2.7-12.6z" fill="url(#CDc)"/><path d="M1600.3,369.7l.9-5.4 6.7-94.1-.9 5.1z" fill="url(#CJd)"/><path d="M1635.6,185.7l.4-2.7 .5-2.3 6.9-12-.5 .4-.4 .8z" fill="url(#Cqp)"/><path d="M1717,354.7l1.5-5.6 7.9-90-.5 2-1 5.1z" fill="url(#Ckj)"/><path d="M1673.4,406.6l1-6.1 1-6.5 7.4-43-.5-4.5-1.3-13.7z" fill="#f5c4acdb"/><path d="M1643.2,357.6l.5-2.5 .4-2.6 7.2-85-.9 6.2z" fill="url(#COf)"/><path d="M1747.2,344.7l1-1.6 .5-1 8-74.3-1.1 6.4-.5 3.5z" fill="url(#Cpk)"/><path d="M1641.5,322.4l1-6.6 7.1-69-1 5.4z" fill="url(#CRh)"/><path d="M1768.9,249l.6-3.3 7.3-43.3-.5-.6z" fill="#dd5f4bdb"/><path d="M1623.7,458.4l2.9-5.7 2.8-7.3 .9-2.8 7.1-127.2-.5-3.5-1.5-8.8-.9-4.3-1-2.9-.5-.9-.5-.5-.5-.1-.4 .2-1 1.7z" fill="url(#CCb)"/><path d="M1468.4,327.5l.6 4.6 7.8-7.5-.5-4.5z" fill="url(#Ca)"/><path d="M1655.3,229.8l.5 2.6 .4 2.9 6.9 36.3-.4-3.8-.5-3.9z" fill="url(#CPk)"/><path d="M1525.8,241.8l1 7.5 7.4-6.8-1-7.4z" fill="url(#Ckg)"/><path d="M1619.7,222.7l.9-6.8 6.9-23.2-.9 4.5z" fill="url(#Cvm)"/><path d="M1577.7,162.9l.5 .3 .9 1.7 1.4 5 7-6.1-1.3-5-.9-1.7-.5-.3z" fill="url(#Cno)"/><path d="M1596.8,193.4l.9-5.1 .4-2.1 7-10.5-.4 .9-.9 3.2z" fill="url(#Con)"/><path d="M1595.9,192.5l1 4.7 7.1 3.4-.4-3.5-.5-3.3z" fill="url(#Crm)"/><path d="M1682.9,247.8l1-7.4 7.1-38.6-1 2.4z" fill="#d85646db"/><path d="M1720.9,372.6l1.5-4.8 8.2-96.6-1.6 8.6z" fill="url(#Cli)"/><path d="M1677.5,291.6l.9-5.9 7.3-55.7-1 5.3z" fill="url(#CVk)"/><path d="M1716.2,221.1l.5-3.4 1-6.7 6.9-26.9-.4 .1-.5 .5-.5 .9z" fill="#cd423bdb"/><path d="M1539.6,221.6l1 6.9 7.3-6.7-1-6.7z" fill="url(#Cui)"/><path d="M1605.1,175.7l.5-.4 .4 .1 .5 .7 .9 2.8 7-.2-.9-5.2-.9-3.4-.5-1z" fill="url(#Cqo)"/><path d="M1561.6,295.2l.5 3.9 8.4 63.6-.5-3.2z" fill="#f7ad90db"/><path d="M1652.7,228.1l.4-2.6 .9-5.4 7-28.1-.5 1.5-.9 3.7z" fill="#d1493fdb"/><path d="M1792.5,283l.5 .5 .9 .4 1-.4 7.6-49.8-2.8 13z" fill="url(#Cip)"/><path d="M1755.5,240.7l1.3 7.3 5.5 51-1.3-5.6z" fill="url(#Cdn)"/><path d="M1664.2,192.6l.9 3.9 6.8 15.7-.5-3.5-.4-3.6z" fill="url(#CAo)"/><path d="M1750.5,209.8l.9 3.1 5.8 35.9-.8-6.7z" fill="#d85646db"/><path d="M1602.8,273.7l.4-3 .5-3.1 7-37.9-.5 2.8-.4 2.9z" fill="url(#CEi)"/><path d="M1794.9,295.8l.9 2.3 .5 1 .9 1.2 .5 .4 7.8-54.5-3.3 15.4z" fill="url(#Cmo)"/><path d="M1713.4,299.9l1.8 14 5.9 73.7-.9-1.1-1-1.6z" fill="url(#Ccg)"/><path d="M1687.4,351.4l1.5-8.8 1.1-4.5 5.8 160.4-.5-.2-1.4-.8-.5-.3z" fill="url(#Cbb)"/><path d="M1774.8,328.4l.9 2.9 .5 1.2 .9 1.9 1 1.3 7.9-63.3-3.3 17-.5 2.6z" fill="url(#Cvl)"/><path d="M1638.7,175l.5 .2 .9 1.8 .4 1.4 6.9 4.8-.4-2.7-1.4-7z" fill="url(#Csp)"/><path d="M1543.5,339.7l.4-3.8 6.5-65-.4 3.5z" fill="#f6a586db"/><path d="M1643.1,287.4l1-6.6 7-52.6-.9 4.7z" fill="url(#COj)"/><path d="M1656.4,214.5l.9-5.2 .5-2.6 6.9-23.5-.5 1.2-.9 3.2z" fill="#cd423bdb"/><path d="M1723.3,200.9l.5 1.6 1.3 6.3 6.3 23-1.3-6.7-.5-2.4z" fill="url(#CIp)"/><path d="M1603.8,179.8l.9-3.2 7-7.9-.5 .1-.4 .6z" fill="#be242edb"/><path d="M1655.2,251.7l.5 3 6.9 46.2-.5-2.9z" fill="#ef886bdb"/><path d="M1646.4,376.1l.9-3.7 7.3-94.1-1 5.9z" fill="url(#CLe)"/><path d="M1788.2,256.1l1.2 9.1 6 17.9-.5 .4-1 .4z" fill="#ee8468db"/><path d="M1768,286.7l.8 6.5 6.1 22.3-1 .9z" fill="#f59c7ddb"/><path d="M1752.2,228.8l.9 2.8 .5 2.1 5.6 49.5-.9-5.6-.4-3.1z" fill="url(#Cco)"/><path d="M1726.6,250.1l.4 2.3 .9 5.8 5.9 57.7-1.3-7.8z" fill="url(#Cjl)"/><path d="M1572.9,237.9l.4-3.7 .4-3.6 7.1-20.5-.5 2.6-.4 3z" fill="url(#Cxj)"/><path d="M1688.3,219.4l.5-3.5 1-6.8 .5-3.2 6.8-18-.4-1.1-.5-.5-.4 0-.5 .5z" fill="#cf453cdb"/><path d="M1724,192.3l.4 1.2 6.3 20.5-.4-2.7z" fill="#d0473ddb"/><path d="M1628.7,203.7l.5 2.4 7 11-.4-2.9z" fill="url(#Cym)"/><path d="M1475.7,315.6l.6 4.5 7.7-7.4-.6-4.4z" fill="url(#CB)"/><path d="M1578.7,225.7l.4-3.5 .4-3.3 7.1-17.8-.5 2.3-.4 2.7z" fill="url(#Cxk)"/><path d="M1778.4,218.2l.5 .6 .4 1.1 .9 3.5 5.4 42.1-.4-1.9-1.3-7.2z" fill="url(#CXp)"/><path d="M1698,416.3l1.5-4.2 8.1-123.7-1.5 6.9z" fill="url(#CXe)"/><path d="M1664.1,288.3l1 7.4 6.8 58-.9-4z" fill="url(#CTf)"/><path d="M1677.1,321l1.4-5.5 7.4-64.5-1.5 8.4z" fill="url(#CYi)"/><path d="M1760.6,258.3l1.3 9.1 5.7 41.3-1-.9-.4-.8z" fill="url(#Cim)"/><path d="M1660.3,278.7l.5 3.4 6.9 50.1-.5-1.8z" fill="url(#CXg)"/><path d="M1585.7,210l1 5.9 7.3 7.5-.5-3.9-.5-3.8z" fill="url(#Czk)"/><path d="M1590.6,203.7l.9-5.8 .4-2.5 7.1-12.2-.9 3-.4 2.1z" fill="url(#Cqm)"/><path d="M1773.3,297.2l.8 7.7 5.9 31.5-1 0z" fill="#f6a586db"/><path d="M1723.4,221.7l.4 2.4 .9 5.6 6.2 30.8-.9-4.8-.4-2.7z" fill="url(#CQn)"/><path d="M1562.1,262.7l.4-4 .4-3.9 7-27.2-.8 6.4z" fill="url(#Cxh)"/><path d="M1691.8,232.5l.9 5.3 .4 2.9 6.6 31.6-1.4-6.3z" fill="#e97a5fdb"/><path d="M1631.6,191.5l.9 3.8 .5 2.3 7 9.3-.9-5.8-.5-2.8z" fill="url(#Cun)"/><path d="M1709.8,260.4l.4-2.2 1-4.6 7.2-43.6-1.5 6.2z" fill="url(#CMn)"/><path d="M1611.6,424l1.8-8.4 6.8-132.3-.5 .6-.5 1-.9 3.2z" fill="url(#Cnc)"/><path d="M1661.4,201.9l.5 2.1 6.8 19.1-.5-3.8z" fill="url(#CAn)"/><path d="M1775.9,211l.5-.7 .5-.1 5.6 35-.8-6.9z" fill="url(#CTq)"/><path d="M1711.9,244.5l.5-2.8 7.2-40.4-.5 1.7z" fill="url(#CLo)"/><path d="M1613.6,275l1 6.6 7.6 65.2-1-6.7z" fill="url(#CFe)"/><path d="M1624.6,295.9l1.4 9.6 7.6 86-.5-1.6-1-3.7z" fill="url(#Cbd)"/><path d="M1590.6,200.5l1 5.1 7.2 5-1-7.2z" fill="url(#Czl)"/><path d="M1709,274.2l1.4-5.4 7.3-48.6-1.5 6.6z" fill="url(#CQm)"/><path d="M1548.9,303.1l.4-4.1 6.8-44.1-.4 3.5z" fill="url(#Coe)"/><path d="M1685.7,232.1l.4-3.7 .5-3.6 .5-3.6 7-27.1-.5-.3-.5 .3-.4 .8z" fill="#d75445db"/><path d="M1669.2,174.3l.5 0 .4 .3 1 1.9 .4 1.4 6.7 8.4-1.3-8.5-.9-4.6z" fill="url(#Cpq)"/><path d="M1692.9,196.6l.5-2.7 6.8-12.6-.5-1.5z" fill="#cb3e38db"/><path d="M1768.6,283.2l1.6-8.4 7.7-56.7-.5 .4-.5 .9-.5 1.4z" fill="url(#Cbp)"/><path d="M1612.4,266.4l1 7 7.5 52.7-.5-3.6-.4-3.8z" fill="#f4987adb"/><path d="M1614.3,249.7l1 7.1 7.3 32.6-.9-7.4z" fill="url(#CKh)"/><path d="M1679.3,274l.5-3.5 7.2-50.9-.5 2.1z" fill="#e8765cdb"/><path d="M1746.6,306.9l1.2 10.6 6.1 36.5-.5 .3-1 .2z" fill="url(#Cqi)"/><path d="M1740.7,232.7l.9-4 1.1-4.5 7-34-.5 .4-.4 .8-1 2.6z" fill="url(#CHq)"/><path d="M1693.1,194.1l.5-.3 .5 .3 6.5 17-.8-7.4z" fill="url(#CBp)"/><path d="M1693.4,193.9l1-4.4 .9-2.7 .5-.5 6.6 8.7-1.3-9.4-.9-4.3z" fill="url(#Ctq)"/><path d="M1545.7,319.7l.4-4.1 6.7-52.9-.4 3.5z" fill="#f18d6fdb"/><path d="M1691.9,201.4l.4 .6 .5 1.1 6.5 24.2-.4-3.6-.4-3.7z" fill="url(#CGo)"/><path d="M1770,307.4l1-1.9 .5-1.2 7.8-61.8-1.6 8.4z" fill="url(#Chn)"/><path d="M1598.1,343.6l.9-5.5 6.8-76.1-.9 5.5z" fill="url(#CAe)"/><path d="M1807.6,224.2l.8 5 5.6 25.3-.9-1z" fill="#e26952db"/><path d="M1782.7,232.2l1.2 7.5 5.6 35.6-1-1.5-.4-1.1z" fill="url(#Cfp)"/><path d="M1604.7,176.6l.4-.9 7-6.6-.4-.4z" fill="#bb1b2cdb"/><path d="M1715.8,339.9l.9 7.6 .9 8.2 5.7 105.7-1-.6-1-.7z" fill="url(#CFc)"/><path d="M1621.9,221.6l.5 2.8 .5 3 7.1 16.3-.9-6.2z" fill="url(#CJk)"/><path d="M1750.4,218.7l.5 .6 .4 1.1 .5 1.6 5.7 42.7-.4-3.2-.8-7.1z" fill="#e26952db"/><path d="M1598.1,303.1l.9-5.4 6.9-51-.4 2.8-.4 2.8z" fill="url(#Cxg)"/><path d="M1740,248.1l2-8.5 7.2-40.4-.5 .5-.5 .9-1 2.8z" fill="url(#CNp)"/><path d="M1680,358.2l1.5-13.1 6.8 52.2-1-6.4-.4-3.4z" fill="#f5c2aadb"/><path d="M1617.1,284.1l.5 2.9 .5 3.3 7.6 77.6-.9-5.2z" fill="url(#COd)"/><path d="M1482.9,303.9l.5 4.4 7.8-7.3-.6-4.3z" fill="url(#Cfb)"/><path d="M1736.8,277.7l.4 3 1.3 10.1 5.8 54.8-.9-1.1-.5-.8-.4-.9z" fill="url(#Coj)"/><path d="M1568.1,247.9l1 7 7.7 18.7-1-7.5z" fill="url(#Csg)"/><path d="M1714,332.2l1.5-5.8 7.8-78.8-.5 1.5-1 4.4z" fill="url(#Cfk)"/><path d="M1758.5,375.7l1.4 2.5 .9 1 8.4-85.5-2.8 15.4z" fill="url(#Cti)"/><path d="M1769.3,262.6l.6-3.3 7.4-48.7-.4-.4z" fill="url(#CUp)"/><path d="M1691.1,209.9l.9 3.1 6.5 29.2-.9-6.6z" fill="#da5a49db"/><path d="M1791.7,265.3l1.2 10.5 5.8 25-1-.1-.5-.4z" fill="#f18d6fdb"/><path d="M1630.4,195.1l.5-3 .4-2.6 7-14.2-.9 1.8z" fill="url(#Cuo)"/><path d="M1567.5,248.8l.4-3.8 .4-3.8 7.1-23.2-.9 5.8z" fill="url(#Cwi)"/><path d="M1625.3,206.1l.4-3.2 7-19.3-.5 1.6z" fill="url(#Csn)"/><path d="M1543.1,361.9l.8-6.9 6.3-81.6-.4 3.1-.4 3.3z" fill="url(#CYb)"/><path d="M1645.1,269.2l.4-3.2 .5-3.3 7-44.4-.9 4z" fill="#e0654fdb"/><path d="M1504.2,270l.6 4 .5 4.1 7.6-7-1.1-8z" fill="url(#Ctd)"/><path d="M1642.6,300.7l.4-3.5 7.1-60.3-.5 2.3z" fill="url(#CPi)"/><path d="M1546.1,390l.4-2.6 .4-2.8 5.9-108.4-.8 4.8z" fill="url(#Cob)"/><path d="M1723.1,210.7l1.3 6.6 6.3 25.9-1.3-7.1z" fill="url(#COo)"/><path d="M1699.2,499.8l1.9 .4 2 .2 1.9-.1 .5-.1 9-169.9-1.5-6.7-.9-2.8-.5-.8-.5-.4-.5 0-.5 .4-.5 .8-.5 1.1-1.1 3.3z" fill="url(#CPb)"/><path d="M1562.1,267.2l.5 3.5 .6 3.6 7.8 27.8-.5-3.3-.5-3.5z" fill="url(#Cse)"/><path d="M1740.2,264.5l2-9.6 7.4-46.1-.5 .2-.5 .6-1 2.5z" fill="url(#CVo)"/><path d="M1696,263.8l.9 6.8 6.3 52.5-.9-5.1z" fill="url(#Cej)"/><path d="M1691.2,220.9l.4 2.1 6.6 31.8-.5-2.7z" fill="#dc5d4adb"/><path d="M1624.9,210.8l.4 2.5 .5 2.7 7.1 13.3-.5-3-.4-3z" fill="url(#CGl)"/><path d="M1559,188.5l1.4 7.6 7.2-6.3-1.4-7.5z" fill="url(#Cwl)"/><path d="M1553,286.7l.4-4.1 6.9-37.1-.4 3.4z" fill="url(#Ckf)"/><path d="M1564.6,291.3l1.1 5.8 8.8 97.1-1-6.2z" fill="url(#Ctb)"/><path d="M1681.1,259.3l.5-3.7 .5-3.8 7.1-42.5-.9 2.6z" fill="#e26952db"/><path d="M1490,292.4l.6 4.3 7.7-7.2-.6-4.3z" fill="url(#CRb)"/><path d="M1545.9,208.9l1 6.2 7.3-6.5-1-6.1z" fill="url(#Cvj)"/><path d="M1724.4,239.5l.9 5 6 49.1-.9-6z" fill="url(#Cam)"/><path d="M1769.5,245.7l.5-3.4 1.1-7.1 .6-3.5 6.8-21.7-.8-4.8-.9-2.8z" fill="url(#CSq)"/><path d="M1636.5,180.7l.4-2 .5-1.6 .9-1.8 .4-.3 6.9-1.5-.9-3.2-.4-1-.5-.5-.4-.1z" fill="url(#Crp)"/><path d="M1612.7,256.9l.9 7 7.5 41.7-.5-3.8-.5-3.9z" fill="url(#CBg)"/><path d="M1792.8,262.6l.5-2.1 1.6-7.5 7.5-46.6-.5 .3-.5 .8-1 2.7z" fill="url(#CYq)"/><path d="M1693.9,253.3l1.4 9.7 6.5 40-1.4-6.7z" fill="#f08a6cdb"/><path d="M1665.7,436.7l1.9-4.9 1.4-4.7 1.5-5.7 1.5-6.8 1.4-8 7.6-73.8-.5-4.4-1.4-12.8-1.4-10.7-1.4-7.7-1-2.9-.4-.8-.5-.3-.5 .1-.5 .7z" fill="url(#Ckd)"/><path d="M1751.5,354.2l.9 .3 1-.2 8-73.2-2.1 12.5z" fill="url(#Ctj)"/><path d="M1653.4,401.2l1.4-3.6 7.4-114.5-.9 4.4-.5 2.5z" fill="url(#CUd)"/><path d="M1599.4,182.3l.5-.3 .4 .2 .5 .8 .9 3 7.1 .6-.5-3-.9-4.7-.9-2.8z" fill="url(#Cpn)"/><path d="M1518.3,248.6l1 7.6 7.5-6.9-1-7.5z" fill="url(#Cgf)"/><path d="M1665.5,185.9l1.4-6.2 .5-1.7 .5-1.4 6.8-8.1-.5-.9-.4-.5-.5-.1-.5 .2-.4 .6z" fill="#bb1b2cdb"/><path d="M1647.5,252.5l.4-3.1 .5-3.1 7-37.5-.9 3.5z" fill="#e0654fdb"/><path d="M1615.4,231.4l.8-6.8 7-25.1-.9 4.5z" fill="url(#CDl)"/><path d="M1570.6,169l.5 .3 .9 1.7 1.4 5.1 7.1-6.2-1.4-5-.9-1.7-.5-.3z" fill="url(#Cmn)"/><path d="M1723.1,191l.4 .5 .5 .8 6.3 19-.9-5.5z" fill="url(#CBq)"/><path d="M1656.3,218.2l.9 4.3 6.9 29.4-.5-4.1-.4-4z" fill="url(#CNl)"/><path d="M1642.4,336.8l.4-3.1 .5-3.3 7.1-76.4-.9 5.1z" fill="url(#CPg)"/><path d="M1654.7,249l.5 2.7 6.9 46.3-.4-3.1z" fill="#e9785ddb"/><path d="M1656.1,258.7l1.4 9 6.9 48.6-.4-2.3-.9-4.9z" fill="url(#CWh)"/><path d="M1810.2,234.5l.8 5.7 5.4 29.2-.9-1.6z" fill="#e57058db"/><path d="M1654.3,238.2l.5 2.5 6.9 40.8-.4-3.6z" fill="#e36c55db"/><path d="M1666,181.9l.5 .3 .9 1.9 .5 1.6 6.7 10.7-.4-3.3-.9-6-.5-2.7z" fill="url(#Cwp)"/><path d="M1726.7,323.5l1.3 11.3 5.9 65.1-1.4-.6z" fill="url(#Cbf)"/><path d="M1532.2,228.2l1 6.9 7.4-6.6-1-6.9z" fill="url(#Cvh)"/><path d="M1676.3,297.2l1.4 7.7 6.5 104.4-1.4-5.7z" fill="url(#CWd)"/><path d="M1635.4,303.1l1.5 8.8 7.4 108.3-.9-3.4-.5-1.8z" fill="url(#Cqc)"/><path d="M1711.6,309.7l1.5-5.5 7.5-66.8-1.5 5.9z" fill="url(#Cel)"/><path d="M1561,291.5l.6 3.7 8.4 64.3-.5-3.3z" fill="#f5a081db"/><path d="M1571.8,236.6l1 6.7 7.5 15.1-.5-3.9-.5-3.9z" fill="url(#CCh)"/><path d="M1497.1,281.1l.6 4.1 7.6-7.1-.5-4.1z" fill="url(#CGc)"/><path d="M1792.8,273.6l1.1-2.4 1-3.2 7.6-51.7-1 3.3-1.1 4.4z" fill="url(#Caq)"/><path d="M1774.9,214l.5-1.8 .5-1.2 5.8 27.3-.8-7.4z" fill="#d85646db"/><path d="M1634,181.5l.5 .1 .5 .6 .9 2.3 .4 1.7 7 6.5-1.4-8-.9-4.5z" fill="url(#Cvo)"/><path d="M1769.9,259.3l.5-3.5 7.4-44.2-.5-1z" fill="#de614ddb"/><path d="M1650.3,237.1l.5-2.9 .4-2.9 7-31.6-.9 3.1z" fill="#d85646db"/><path d="M1605.2,393l.5-2.7 .4-2.7 .4-3 6.8-110-.5 .8-.9 3.1z" fill="url(#CXc)"/><path d="M1807.2,221.9l.4 2.3 5.5 29.3-.5-.9z" fill="url(#Ccr)"/><path d="M1704,281.7l.5 2.8 6 81.6-.4-2.1z" fill="url(#Cgh)"/><path d="M1726.5,384.9l.9-2 .5-1.2 8.3-97.9-1.6 9.2z" fill="url(#Cqh)"/><path d="M1766.7,276.9l1.3 9.8 5.9 29.7-1 .2-.5-.1z" fill="url(#Ctl)"/><path d="M1559.7,283.9l1 7.3 8.2 45.3-1-6.4z" fill="url(#CLc)"/><path d="M1684.6,363.3l1.5-4.4 7.7-92.8-1 4.2-.5 2.5z" fill="url(#Cdh)"/><path d="M1679.9,338.2l1-2.9 .5-1.6 7.4-75.5-1.5 7.6z" fill="url(#Cai)"/><path d="M1560.2,275.4l1.1 7.1 8 34.7-1-6.5z" fill="url(#CAd)"/><path d="M1729.8,258.9l1.3 7.1 5.8 64.7-1.3-6.5z" fill="url(#Cik)"/><path d="M1717.7,211l.5-3.2 6.9-23.2-.5-.5z" fill="#cd423bdb"/><path d="M1692.4,241.7l1.3 8.4 6.6 34.3-1.4-6.2z" fill="#eb7d62db"/><path d="M1467.8,322.9l.6 4.6 7.9-7.4-.6-4.5z" fill="url(#Ca)"/><path d="M1611,243l.5-3.4 .4-3.4 7-28.4-.4 2.3-.5 2.5z" fill="url(#CFk)"/><path d="M1620.6,215.9l.4-3.3 7-21.6-.5 1.7z" fill="url(#Cwm)"/><path d="M1598.1,186.2l.9-3 .4-.9 7.1-6.2-.5-.7-.4-.1-.5 .4z" fill="#be242edb"/><path d="M1786.9,247.5l1.3 8.6 5.7 27.8-.9-.4-.5-.5z" fill="url(#Cko)"/><path d="M1741.4,280l1.5-8.3 .6-3.1 7.4-49.3-.5-.6-.5-.1-.4 .5-.5 1z" fill="url(#CYn)"/><path d="M1698.5,269.8l.9 5.9 6.3 68.2-.5-2.6-.4-2.7z" fill="url(#Cgi)"/><path d="M1677.5,302l.5-2.6 .5-2.7 7.3-59.1-1 5z" fill="url(#CWj)"/><path d="M1678.4,285.7l.5-3.2 7.3-54.7-.5 2.2z" fill="url(#CVk)"/><path d="M1710.1,288.9l1.4-5.3 7.4-56-1.5 5.8z" fill="url(#CYl)"/><path d="M1668.5,290.2l.9 6.7 6.8 80.8-1-4.6z" fill="url(#CQe)"/><path d="M1772.5,289.8l.8 7.4 5.7 39.2-.9-.7z" fill="url(#Cuk)"/><path d="M1691.4,201.3l.5 .1 6.6 18.6-.5-3.7z" fill="#d0473ddb"/><path d="M1564.4,255.2l1 6.9 7.8 22.8-1-7.3z" fill="url(#Cpf)"/><path d="M1690.3,205.9l.9-5.6 .5-2.2 1-3.2 .4-.8 6.7 9.6-.9-6.7-.9-5.4-.9-3.7z" fill="url(#CAp)"/><path d="M1693,333.1l.5 .5 .5 .9 1 2.9 .9 4.3 1 5.6 .5 3.3 5.7 149.8-2-.2-1.9-.4-.5-.1z" fill="url(#Ccb)"/><path d="M1557.5,272.3l.4-4 .4-4.1 7-30.5-.8 6.2z" fill="url(#Cog)"/><path d="M1742.6,297.6l1-5.6 1.1-6.3 7.5-56.9-.4-.6-.5 0-.5 .5-.5 1z" fill="url(#CZm)"/><path d="M1575.8,225.8l1 6.1 7.5 11.9-1-7.9z" fill="url(#CAi)"/><path d="M1712.4,241.7l1-5.8 7.1-37-.9 2.4z" fill="#d55042db"/><path d="M1691.3,389.9l1.9-7.2 8-108.1-.5 .6-1 2.5-.5 1.9z" fill="url(#CZf)"/><path d="M1683.9,240.4l.5-3.8 .5-3.8 7-31.4-.5-.1-.4 .5z" fill="#d85646db"/><path d="M1597.9,319l.4-2.7 .5-2.8 6.8-61.3-.9 5.2z" fill="url(#Cxf)"/><path d="M1603.7,267.6l.4-3.2 7-37.3-.4 2.6z" fill="url(#CEi)"/><path d="M1585.3,209.1l.4-3 .4-2.7 7.1-13.3-.9 3.1z" fill="url(#Cyl)"/><path d="M1714.6,228.2l.5-3.2 .5-3.2 .5-3.1 7-27.7-.5-.1-.5 .4-.4 .8z" fill="#cd423bdb"/><path d="M1745.9,330.2l.6-1.9 1-4.5 8-76.9-1.6 6z" fill="url(#Col)"/><path d="M1475.1,311.1l.6 4.5 7.7-7.3-.5-4.4z" fill="url(#CB)"/><path d="M1771.7,231.7l1.1-6.9 1-6.1 1.1-4.7 6 16.9-1.6-14.7-.8-6.2z" fill="#d65244db"/><path d="M1615.9,237.5l1 6.3 7.3 25.5-1-7.2z" fill="url(#CIi)"/><path d="M1580.3,216.1l1 5.6 7.4 8.9-1-7.7z" fill="url(#CAj)"/><path d="M1744.3,314l1.5-8.3 7.8-68.7-.5 .3-1 2.3z" fill="url(#Cfm)"/><path d="M1754.4,312.1l.9 7.9 5.5 59.2-.9-1z" fill="url(#Cuh)"/><path d="M1601.2,364.3l.9-5.9 6.7-92-.9 3.8z" fill="url(#CJd)"/><path d="M1749.2,199.2l.4 0 .5 .3 .5 .8 6 25.4-1.2-10.1z" fill="#d0473ddb"/><path d="M1667.9,176.6l.4-1.1 .5-.7 .4-.5 6.8-1.1-1.3-4.7z" fill="#b8122adb"/><path d="M1817.9,270.1l.9-.7 1-1.5 1.1-2.5 7.7-51.4-.5 .3-1 1.8-1.6 5z" fill="url(#Cer)"/><path d="M1707.7,433.7l2-3.4 8.5-131-1.1 4.4-1 5.7z" fill="url(#Cfe)"/><path d="M1618.5,228l.9 5.8 7.2 20.2-.9-6.8z" fill="url(#CJj)"/><path d="M1751.3,228.2l.5 0 .4 .6 5.7 45.7-.4-3.4-.4-3.5z" fill="url(#Cbo)"/><path d="M1722.3,460.8l1 .6 1.4 .6 .5 0 9.1-149.6-1.6 5.6-1.6 7.9z" fill="url(#Csd)"/><path d="M1591.9,195.4l.4-2.2 7.1-10.9-.4 .9z" fill="url(#Cqm)"/><path d="M1627.3,197.9l1.4 5.8 7.1 10.5-1.4-8.7z" fill="url(#Cym)"/><path d="M1691.3,230.2l.5 2.3 6.5 33.5-.4-2.4z" fill="#e26952db"/><path d="M1657.7,207.3l.5 1.1 .9 3.6 6.8 23.2-.4-4-.9-7.9z" fill="url(#CEm)"/><path d="M1770.2,274.8l.6-3.2 7.6-53.4-.5-.1z" fill="url(#Cbp)"/><path d="M1549.3,299l.4-4.2 6.9-43.3-.5 3.4z" fill="url(#Coe)"/><path d="M1625.7,202.9l.9-5.7 7-15.4-.5 .7-.4 1.1z" fill="url(#Ctn)"/><path d="M1607.1,254.6l.5-3.2 .4-3.3 7-32-.9 4.8z" fill="url(#CGj)"/><path d="M1546.1,315.6l.4-4.1 6.7-52.2-.4 3.4z" fill="#f18d6fdb"/><path d="M1644.1,352.5l.5-2.7 .5-2.8 7.2-84.5-1 5z" fill="url(#COf)"/><path d="M1776.9,219.4l.5-.9 .5-.4 .5 .1 5.5 38.2-1.2-9.1z" fill="url(#CWp)"/><path d="M1722.9,219.6l.5 2.1 6.2 31.3-.4-2.8z" fill="#dd5f4bdb"/><path d="M1658.9,269.5l.5 2.9 .9 6.3 6.9 51.7-1.3-6.2z" fill="url(#CXg)"/><path d="M1654.4,226l.9 3.8 6.9 34.1-.4-4-.5-4.1z" fill="url(#COk)"/><path d="M1662.8,189.9l.5 .4 .5 1 .4 1.3 6.8 12.5-.4-3.4-.9-6.4z" fill="url(#CAo)"/><path d="M1600.7,283.2l.8-6 7-42.7-.9 5.2z" fill="#e36b54db"/><path d="M1690,338.1l1-3.2 .5-1 .5-.7 .5-.3 .5 .2 5.7 166.6-1.4-.5-1.5-.7z" fill="url(#Cbb)"/><path d="M1661.4,196.4l1.4-6.9 .5-1.9 .9-3.2 6.9-7.9-1-1.9-.4-.3-.5 0-.4 .5-.5 .7z" fill="#be242edb"/><path d="M1722.1,191.3l.5-.4 .5 .1 6.3 14.8-.8-5.5z" fill="#c73635db"/><path d="M1742.7,224.2l.5-2.4 7-31.7-.5 .1z" fill="#cc403adb"/><path d="M1722.7,227.1l1.4 6.5 6.1 39.4-.4-2.9-.9-6.2z" fill="#e36b54db"/><path d="M1733.9,399.9l1.5-.1 .5-.3 8.4-101.6-2.1 12.1z" fill="url(#Cig)"/><path d="M1722.4,198.8l.9 2.1 6.3 21.8-.8-5.3z" fill="#cf453cdb"/><path d="M1679.8,270.5l.5-3.5 .5-3.6 7.1-46.7-.9 2.9z" fill="#e0654fdb"/><path d="M1654,220.1l.5-2.8 .5-2.7 6.9-24.4-.9 1.8z" fill="#d1493fdb"/><path d="M1613.1,272.1l.5 2.9 7.6 65.1-.5-3.5z" fill="url(#CEe)"/><path d="M1770.1,293.1l.5-2.2 1.1-5 7.7-60-1 2.1-.5 1.7z" fill="url(#Cho)"/><path d="M1748.6,209.6l.5-.6 .5-.2 .4 .3 .5 .7 5.9 32.3-.4-3.5-.8-7.4-.4-3.7z" fill="#d85646db"/><path d="M1718.2,207.8l.5-3 .5-2.9 6.8-15.2-.9-2.1z" fill="#c53334db"/><path d="M1642.5,315.8l.9-7.1 7.1-65.8-.9 3.9z" fill="url(#CRh)"/><path d="M1551.7,194.8l1.5 7.7 7.2-6.4-1.4-7.6z" fill="url(#Cvk)"/><path d="M1482.3,299.5l.6 4.4 7.7-7.2-.6-4.3z" fill="url(#Cfb)"/><path d="M1772.9,316.6l1-.2 1-.9 7.9-63.2-2.2 10.6z" fill="url(#Cmm)"/><path d="M1691,201.8l.4-.5 6.6 15-.4-3.6z" fill="#cd423bdb"/><path d="M1687.1,221.2l.5-3.5 .5-3.3 6.9-18.2-.5-1.3-.4-.8z" fill="#cc403adb"/><path d="M1660.1,198.3l.4 .8 .9 2.8 6.8 17.4-.4-3.8-.9-7.2z" fill="url(#CAn)"/><path d="M1543.9,335.9l.8-7.9 6.6-63.5-.5 3-.4 3.4z" fill="#f18d6fdb"/><path d="M1790.9,258.9l.8 6.4 5.5 35-.9-1.2z" fill="url(#Cln)"/><path d="M1690.2,208.6l.4 .4 .5 .9 6.5 25.7-.4-3.5-.4-3.5z" fill="#d44e41db"/><path d="M1742,239.6l.5-2.5 7.1-37.9-.4 0z" fill="url(#CNp)"/><path d="M1538.5,215.3l1.1 6.3 7.3-6.5-1-6.2z" fill="url(#Cui)"/><path d="M1689.6,307.1l.5 1 1 3.2 1.4 7.5 6 115.9-1.4-2.3-.9-1.9-.5-1.1z" fill="url(#Cmd)"/><path d="M1644.1,280.8l.9-7.1 7-48.6-.9 3.1z" fill="#e36b54db"/><path d="M1631.3,189.5l.5-2.3 .4-2 .5-1.6 .4-1.1 7-5.5-.9-1.8-.5-.2-.4 .3z" fill="#bb1b2cdb"/><path d="M1736.3,274.9l.5 2.8 5.7 65.1-.5-1.1z" fill="url(#Cnj)"/><path d="M1510.7,255.3l1.1 7.8 7.5-6.9-1-7.6z" fill="url(#Cje)"/><path d="M1593.7,189.2l.4-.4 .5 .2 .4 .6 .5 1.2 .4 1.7 7.2 1.3-.5-3-.9-4.8-.9-3z" fill="url(#Crm)"/><path d="M1753.6,237l.5 .1 .5 .7 .9 2.9 5.5 52.7-1.7-10.8z" fill="url(#Cdn)"/><path d="M1809.4,229.7l.8 4.8 5.3 33.3-.4-1.1-.5-1.3z" fill="url(#Ceq)"/><path d="M1563.4,175.2l.5 .3 .9 1.7 1.4 5.1 7.2-6.2-1.4-5.1-.9-1.7-.5-.3z" fill="url(#Com)"/><path d="M1770.4,255.8l1.7-11 .5-3.7 6.9-21-.4-2.7-.9-4.3-.4-1.5z" fill="url(#CVp)"/><path d="M1758.8,248.8l.5 1.9 1.3 7.6 5.6 48.7-.9-2.1-.9-2.9z" fill="url(#Cim)"/><path d="M1748.7,342.1l1-2.5 .5-1.5 8.1-78.2-1.6 7.9z" fill="url(#Cpk)"/><path d="M1724,237.6l.4 1.9 6 48.1-.4-3.3z" fill="#e7745bdb"/><path d="M1611.9,263.3l.5 3.1 7.6 52.3-.5-4z" fill="#f08a6cdb"/><path d="M1524.7,234.8l1.1 7 7.4-6.7-1-6.9z" fill="url(#Ckg)"/><path d="M1643,297.2l.5-3.6 .5-3.7 7-56.2-.4 1.4-.5 1.8z" fill="#e8765cdb"/><path d="M1689.8,216.5l.5 1.1 .9 3.3 6.5 31.2-.4-2.9-.9-6.2z" fill="#dc5d4adb"/><path d="M1489.5,288.1l.5 4.3 7.7-7.2-.6-4.1z" fill="url(#CRb)"/><path d="M1579.5,218.9l.4-3.2 .4-3 7.1-15.2-.8 3.6z" fill="url(#Cxk)"/><path d="M1742.2,254.9l.6-2.8 7.2-43-.4-.3z" fill="url(#CVo)"/><path d="M1647.3,372.4l1.5-6.3 7.2-94.9-1.4 7.1z" fill="url(#CLe)"/><path d="M1584.8,205.7l.9 4.3 7.3 5.7-.5-3.6-.4-3.4z" fill="url(#Czk)"/><path d="M1722.4,367.8l1.5-6.2 8.2-95.6-1 3-.5 2.2z" fill="url(#Cli)"/><path d="M1744.8,293.3l.5 3.3 1.3 10.3 5.8 47.6-.9-.3-1-.8z" fill="url(#Cpi)"/><path d="M1711.2,253.6l.5-2.5 .5-2.6 7.2-41.2-1 2.7z" fill="url(#CMn)"/><path d="M1613.4,415.6l.5-2.4 .5-2.4 .4-2.6 6.8-124-.5-.7-.4-.3-.5 .1z" fill="url(#Cnc)"/><path d="M1702.2,360.6l1.6-11.5 1.6-10.6 5.9 102.5-.9-3-1.9-6.8z" fill="url(#CDc)"/><path d="M1797.7,300.7l1 .1 .9-.7 .5-.6 8.1-63.2-.5 1.5-2.2 8.4z" fill="url(#Cmo)"/><path d="M1718.5,349.1l2-10.1 7.9-83.1-.5 .1-.5 .5-1 2.6z" fill="url(#Ckj)"/><path d="M1573.7,230.6l.8-6.8 7.1-18-.8 4.3z" fill="url(#Cxj)"/><path d="M1749,220.1l.5-1 .4-.5 .5 .1 5.9 35.7-.4-3.8-.4-3.8-.4-4z" fill="#da5a49db"/><path d="M1621,216.6l.9 5 7.2 15.9-.5-3.2-.4-3.2z" fill="url(#CJk)"/><path d="M1662.7,278.7l1.4 9.6 6.9 61.4-1.4-6.7z" fill="url(#CTf)"/><path d="M1722.2,207.7l.9 3 6.3 25.4-.4-2.6-.5-2.7z" fill="#d44e41db"/><path d="M1633.1,182.5l.5-.7 .4-.3 7-1.3-.5-1.8-.4-1.4z" fill="#ba162bdb"/><path d="M1765.9,270.8l.8 6.1 5.7 39.6-.9-.7z" fill="url(#Csl)"/><path d="M1655.8,216.7l.5 1.5 6.9 25.6-.5-4.2z" fill="url(#CMl)"/><path d="M1711.5,289.5l1 4.6 .9 5.8 5.8 85-.9-2.1-.9-2.7z" fill="url(#Ccg)"/><path d="M1496.6,276.9l.5 4.2 7.7-7.1-.6-4z" fill="url(#CGc)"/><path d="M1599,338.1l.9-5.9 6.8-74.5-.9 4.3z" fill="url(#CAe)"/><path d="M1681.5,345.1l1.6-12.5 1.5-11.2 1-6 1-4.7 .5-1.7 6.3 113.5-1.9-7.4-1.9-9.4-1.3-8.4z" fill="url(#Cld)"/><path d="M1616.2,224.6l.5-3.2 7-23.6-.5 1.7z" fill="#cd423bdb"/><path d="M1725.2,246l.5 .8 .9 3.3 5.9 58-.4-3.1-.9-6.6z" fill="url(#Cjl)"/><path d="M1646,262.7l.5-3.4 .4-3.5 7.1-40-1 2.5z" fill="#e0654fdb"/><path d="M1742.5,237.1l.5-2.7 7.1-34.9-.5-.3z" fill="#d1493fdb"/><path d="M1592.3,193.2l.9-3.1 .5-.9 7.1-6.2-.5-.8-.4-.2-.5 .3z" fill="#be242edb"/><path d="M1719.2,201.9l.5-2.6 1-4.3 1-2.9 .4-.8 6.5 9-1.3-7.8-1.3-5.8z" fill="url(#CAq)"/><path d="M1702.6,276l.5 1.5 .9 4.2 6.1 82.3-1.4-7.3z" fill="url(#Cgh)"/><path d="M1599,297.7l.5-2.9 .4-3 6.9-50-.4 2.4-.5 2.5z" fill="url(#Cxg)"/><path d="M1623.1,288.5l1.5 7.4 7.5 90.3-1.4-6.1z" fill="url(#Cbd)"/><path d="M1682.1,251.8l.5-3.7 .5-3.8 7.1-35.7-.5 .1-.5 .6z" fill="#d75445db"/><path d="M1794.9,283.5l.5-.4 1.5-2.5 .5-1.2 7.7-54.6-1 2.8-1.6 6.1z" fill="url(#Cip)"/><path d="M1714.5,330.3l1.3 9.6 5.5 120.2-.9-1-.5-.5z" fill="url(#CEc)"/><path d="M1695,258.1l1 5.7 6.3 54.2-.8-5.6z" fill="url(#Cej)"/><path d="M1664.2,184.4l.5-1.2 .4-.8 .5-.4 .4-.1 6.8 2.5-.4-2.5-.9-4-.4-1.4z" fill="#bb1b2cdb"/><path d="M1699.5,412.1l2.4-9.2 8.2-117.3-.5-.4-.5 .1-.5 .6-1 2.5z" fill="url(#CXe)"/><path d="M1771.5,304.3l1.5-4.7 7.9-63.2-1.6 6.1z" fill="url(#Chn)"/><path d="M1675.3,294.3l1 2.9 6.5 106.4-.9-4.4z" fill="url(#CVd)"/><path d="M1779.9,225.6l.5 0 .5 .6 .9 2.3 .9 3.7 5.4 40.5-1.3-4.7-1.3-6.6z" fill="url(#Cfp)"/><path d="M1770.8,271.6l.5-3.3 .6-3.5 7.4-44.9-.4-1.1-.5-.6z" fill="url(#Ccp)"/><path d="M1710.4,268.8l1-4.3 .5-2.3 7.3-46.3-1.5 4.3z" fill="url(#CQm)"/><path d="M1778.1,335.7l.9 .7 1 0 .5-.2 8.3-76-.6 2.1-2.2 10.1z" fill="url(#Cvl)"/><path d="M1621,212.6l.4-3.1 .5-2.9 7-17.9-.9 2.3z" fill="url(#Cxm)"/><path d="M1606.5,384.6l.5-3 6.7-107.4-.4 .4z" fill="url(#CXc)"/><path d="M1688.1,214.4l.5-3.1 .9-5.1 .5-2 1-2.4 6.6 10.9-.9-6.7-.8-5.7-.9-4.1z" fill="url(#CFo)"/><path d="M1804.5,214.2l.5 .5 .5 .8 .8 2.6 .9 3.8 5.4 30.7-1.3-3.8-1.3-5.6z" fill="url(#Ccr)"/><path d="M1657.8,206.7l.4-2.5 .9-4.8 .5-2.2 .9-3.7 6.9-9.4-.9-1.9-.5-.3-.4 .1-.5 .4-.4 .8z" fill="#c0282fdb"/><path d="M1615.7,277.3l.4 1.9 1 4.9 7.7 78.6-1.5-9z" fill="url(#COd)"/><path d="M1742.8,252.1l.5-2.9 7.2-39.4-.5-.7z" fill="#d75445db"/><path d="M1560,284.8l1 6.7 8.5 64.7-1-6.9z" fill="#f5a081db"/><path d="M1613.4,243.6l.9 6.1 7.4 32.3-1-7.8z" fill="url(#CKh)"/><path d="M1586.1,203.4l.5-2.3 7.1-11.9-.5 .9z" fill="#c32e31db"/><path d="M1629.3,188.1l.5-.1 .4 .3 1 1.8 .4 1.4 7 6.8-.9-5.4-1.4-6.7z" fill="url(#Cun)"/><path d="M1562.9,254.8l.4-3.9 .4-3.8 7.1-24.7-.9 5.2z" fill="url(#Cxh)"/><path d="M1743.5,268.6l.5-3.3 7.3-44.9-.4-1.1z" fill="#de614ddb"/><path d="M1750.3,229.7l.5-1 .5-.5 5.8 39.4-.4-3.7-.4-3.9z" fill="url(#Cao)"/><path d="M1653.3,242.8l1 3.7 .4 2.5 7 45.9-.5-3.3-.9-7z" fill="#e9785ddb"/><path d="M1678.5,315.5l1-4.2 .5-2.3 7.3-64.6-1.4 6.6z" fill="url(#CYi)"/><path d="M1467.2,318.4l.6 4.5 7.9-7.3-.6-4.5z" fill="url(#Ca)"/><path d="M1553.4,282.6l.4-4.2 .4-4.1 6.9-34.8-.4 2.8-.4 3.2z" fill="url(#Ckf)"/><path d="M1691.9,239.2l.5 2.5 6.5 36.5-.4-2.4z" fill="#e46e56db"/><path d="M1690.4,226.4l.9 3.8 6.6 33.4-.9-5.2z" fill="#de614ddb"/><path d="M1567.1,241.7l1 6.2 7.7 18.2-1-7.8z" fill="url(#Csg)"/><path d="M1772.6,241.1l1.1-7.1 1.1-6.3 1.6-6.9 .5-1.4 5.8 27.9-.4-3.3-1.6-14.1-1.2-9.8z" fill="#d75445db"/><path d="M1678.9,282.5l.5-3.3 .5-3.3 7.2-51.3-.9 3.2z" fill="url(#CWk)"/><path d="M1652.9,233.3l1 2.8 .4 2.1 7 39.7-1-7.7-.4-4.1z" fill="#e36c55db"/><path d="M1790.5,256l.4 2.9 5.4 40.2-.5-1z" fill="url(#Ckn)"/><path d="M1623.5,204.9l1.4 5.9 7.1 12.5-.9-6-.5-3z" fill="url(#CFl)"/><path d="M1748.2,200.6l.5-.9 .5-.5 6.2 16.4-.9-6.6z" fill="#ca3b37db"/><path d="M1689.7,208.7l.5-.1 6.6 20-.5-3.5z" fill="#d0473ddb"/><path d="M1611.9,236.2l.5-3.2 7-27.1-.5 1.9z" fill="#d1493fdb"/><path d="M1684.9,232.8l.5-3.6 .5-3.6 6.9-22.5-.5-1.1-.4-.6z" fill="#cf453cdb"/><path d="M1794.9,253l1.7-8.7 7.2-36.2-.5-.9-.4-.6-.5-.2z" fill="url(#CZq)"/><path d="M1721.5,198.1l.5 .1 .4 .6 6.4 18.6-.9-5.4z" fill="#ca3b37db"/><path d="M1715.5,326.4l2-10.6 7.7-69.8-.5-.4-.4 .2-.5 .6-.5 1.2z" fill="url(#Cfk)"/><path d="M1546.9,384.6l.9-5.6 .4-3 6-104.6-1.4 4.8z" fill="url(#Cob)"/><path d="M1588.3,195.8l.5-.1 .4 .4 1 2.4 .4 2 7.2 2.9-.9-6.2-1-4.7-.4-1.7z" fill="url(#Czl)"/><path d="M1568.3,241.2l.4-3.7 .4-3.5 7.1-20.6-.8 4.6z" fill="url(#Cwi)"/><path d="M1722,216.4l.9 3.2 6.3 30.6-.9-5.8z" fill="#d24b40db"/><path d="M1561.1,260.7l.5 3.2 .5 3.3 7.9 28.1-.5-3.5-.5-3.7z" fill="url(#Cse)"/><path d="M1745.8,305.7l.5-3.2 7.8-65.4-.5-.1z" fill="url(#Cfm)"/><path d="M1543.9,355l.8-7.2 6.4-79.7-.9 5.3z" fill="url(#CYb)"/><path d="M1713.4,235.9l1-5.9 7.1-31.9-.5 .2-.5 .6z" fill="#cf453cdb"/><path d="M1743.2,221.8l.5-2.5 2-9.8 6.7-14-.8-3.3-.5-1.1-.4-.7-.5-.3z" fill="url(#CIq)"/><path d="M1643.3,330.4l.9-6.9 7.2-73-.5 1.5-.5 2z" fill="url(#CPg)"/><path d="M1820.9,265.4l.5-1.5 7.7-49.8-.5-.1z" fill="url(#Cer)"/><path d="M1648.4,246.3l.5-3.2 .9-6.4 7-30.2-.5 .4-.9 1.9z" fill="#d1493fdb"/><path d="M1563.1,285.2l1 3.7 .5 2.4 8.9 96.7-.5-3.3-1-6.9z" fill="url(#Ctb)"/><path d="M1785.2,238.3l1.7 9.2 5.6 35.5-.9-1.6-.9-2.3z" fill="url(#Cjo)"/><path d="M1725.2,462l.5 .1 9.1-150.9-.5 1.2z" fill="url(#Csd)"/><path d="M1697.6,265.5l.9 4.3 6.3 68.8-.9-5.9z" fill="url(#Cfi)"/><path d="M1724.9,310l.9 6.4 .9 7.1 5.8 75.8-.5-.4-1.4-1.6z" fill="url(#Cbf)"/><path d="M1474.5,306.7l.6 4.4 7.8-7.2-.6-4.4z" fill="url(#CB)"/><path d="M1654.8,397.6l1.9-6.1 7.5-113.2-1 1.7-1 3.1z" fill="url(#CUd)"/><path d="M1544.4,201.2l1.5 7.7 7.3-6.4-1.5-7.7z" fill="url(#Cvj)"/><path d="M1716.1,218.7l.5-3.1 .5-2.9 6.9-20.4-.5-.8-.4-.5z" fill="#c73635db"/><path d="M1549.7,294.8l.4-4.2 6.9-42.1-.4 3z" fill="url(#Coe)"/><path d="M1604.1,264.4l.9-6.3 7-35.5-.9 4.5z" fill="#d85646db"/><path d="M1531.1,221.8l1.1 6.4 7.4-6.6-1.1-6.3z" fill="url(#Cvh)"/><path d="M1575.3,223.2l.5 2.6 7.5 10.1-.5-3.8z" fill="url(#Czi)"/><path d="M1744.7,285.7l1-7 7.4-47.1-.9-2.8z" fill="url(#Can)"/><path d="M1765.4,267.9l.5 2.9 5.6 45-.5-.6z" fill="url(#Crl)"/><path d="M1611.7,251.1l1 5.8 7.4 41-.9-8.1z" fill="url(#CBg)"/><path d="M1709.7,430.3l.5-1 8.5-131.6-.5 1.6z" fill="url(#Cfe)"/><path d="M1653.9,224.8l.5 1.2 6.9 29.8-.4-4.1z" fill="#da5a49db"/><path d="M1503.1,262.1l1.1 7.9 7.6-6.9-1.1-7.8z" fill="url(#Ctd)"/><path d="M1556.2,181.4l.5 .3 .9 1.7 1.4 5.1 7.2-6.2-1.4-5.1-.9-1.7-.5-.3z" fill="url(#Cwl)"/><path d="M1723,235.3l1 2.3 6 46.7-.8-7z" fill="#e36b54db"/><path d="M1633.5,295.9l1 2.9 .9 4.3 7.5 111.9-1.9-7.9z" fill="url(#Cqc)"/><path d="M1770.8,276.5l.9 6.3 .8 7 5.6 45.9-1-1.3-.9-1.9z" fill="url(#Ctk)"/><path d="M1651.2,231.3l1-6 .9-5.6 7-21.4-.5-.3-.5 .2-.4 .6-.5 .9z" fill="#ca3b37db"/><path d="M1517.2,241.4l1.1 7.2 7.5-6.8-1.1-7z" fill="url(#Cgf)"/><path d="M1570.8,231l.5 2.6 .5 3 7.5 14-.5-3.9-.5-3.9z" fill="url(#CCh)"/><path d="M1481.7,295.2l.6 4.3 7.7-7.1-.5-4.3z" fill="url(#Cfb)"/><path d="M1753.1,301.3l1.3 10.8 5.5 66.1-1.4-2.5z" fill="url(#Cuh)"/><path d="M1689.2,209.3l.5-.6 6.6 16.4-.4-3.5z" fill="#cd423bdb"/><path d="M1659.6,198l.5 .3 6.8 10-.4-3.3z" fill="#c53334db"/><path d="M1558.7,277.3l.5 3.2 .5 3.4 8.2 46.2-1-6.8z" fill="url(#CLc)"/><path d="M1753.4,354.3l.5-.3 1-1 .5-.7 8.2-81.5-2.2 10.3z" fill="url(#Cuj)"/><path d="M1559.2,268.9l1 6.5 8.1 35.3-.6-3.4-.5-3.5z" fill="url(#CAd)"/><path d="M1612.1,267.6l.5 2.1 .5 2.4 7.6 64.5-.5-3.7-.4-3.9z" fill="url(#CEe)"/><path d="M1713.1,304.2l1-4.5 1-5.2 7.5-59.7-.5 0-.5 .4-.5 .9-.5 1.3z" fill="url(#Cel)"/><path d="M1626.6,197.2l.9-4.5 .5-1.7 .9-2.3 7-4.2-.9-2.3-.5-.6-.5-.1-.4 .3z" fill="#bb1b2cdb"/><path d="M1774.9,315.5l.5-.7 7.9-64.7-.5 2.2z" fill="url(#Cmm)"/><path d="M1727.9,381.7l1.6-4.2 8.3-100.3-1.1 4-.5 2.6z" fill="url(#Crh)"/><path d="M1558.3,264.2l.4-4 7.1-29.2-.5 2.7z" fill="url(#Cog)"/><path d="M1687.1,309l1-2.1 .5-.4 .5 .1 .5 .5 6.1 122.3-2.3-6.9z" fill="url(#Cld)"/><path d="M1692.5,245.8l1.4 7.5 6.5 43-1.3-8z" fill="#e8765cdb"/><path d="M1681.4,333.7l1.4-5.6 7.5-75.4-1.5 5.5z" fill="url(#Cai)"/><path d="M1734.5,266.7l.9 3.4 .9 4.8 5.7 66.8-.5-1.3-1.3-5.1z" fill="url(#Cnj)"/><path d="M1660.5,193.5l.5-1.5 .9-1.8 .5-.4 .4 .1 6.9 5.4-.9-5.4-.9-4.2-.5-1.6z" fill="url(#Czo)"/><path d="M1580.3,212.7l.5-2.6 7.1-13.7-.5 1.1z" fill="#c53334db"/><path d="M1654.7,252.1l1.4 6.6 7 50.4-1-5.6-.4-3z" fill="url(#CWh)"/><path d="M1686.1,358.9l1.9-8.1 7.7-88.6-.5 .3-.9 2-.5 1.6z" fill="url(#Cdh)"/><path d="M1667.1,282.7l1.4 7.5 6.7 82.9-1.4-7.9z" fill="url(#CQe)"/><path d="M1598.8,313.5l.4-3 .4-3.1 6.9-59.5-.9 4.3z" fill="url(#Cxf)"/><path d="M1488.9,283.9l.6 4.2 7.6-7-.5-4.2z" fill="url(#CRb)"/><path d="M1655,214.6l.4-2.7 1-4.9 .4-2.2 7-13.5-.5-1-.5-.4-.4-.1-.5 .4z" fill="#c32e31db"/><path d="M1743,234.4l2.1-10.9 1-5.2 1.5-6.2 1-2.5 6.2 17.9-.4-3.7-.8-7.1-.4-3.3-1.3-8.2-.9-3.7-.4-1.2-.5-.8z" fill="url(#COp)"/><path d="M1745.7,209.5l1.5-6.1 1-2.8 6.3 8.4-1.2-8.8-.9-4.7z" fill="#c53334db"/><path d="M1579.4,212.1l.5 1.8 .4 2.2 7.4 6.8-1-7z" fill="url(#CAj)"/><path d="M1654.9,215.2l.5 .5 .4 1 6.9 22.9-.9-8z" fill="url(#CLl)"/><path d="M1617.5,223.2l1 4.8 7.2 19.2-.9-6.8z" fill="url(#CJj)"/><path d="M1680.8,263.4l.5-3.7 .5-3.7 7.1-40.3-.5 .3-.5 .7z" fill="#d85646db"/><path d="M1727.4,256.5l.5-.5 .5-.1 .5 .5 .9 2.5 5.8 65.3-.9-5.4-.9-6.2-.4-3.4z" fill="url(#Cik)"/><path d="M1586.6,201.1l.8-3.6 .5-1.1 .4-.6 7.2-5-.5-1.2-.4-.6-.5-.2-.4 .4z" fill="#be242edb"/><path d="M1678.5,296.7l1-5.7 .5-2.9 7.2-55.6-1.4 5.1z" fill="url(#CWj)"/><path d="M1712.2,248.5l1-5.4 7.2-37.2-.5 .5-.5 .9z" fill="url(#CNn)"/><path d="M1563.4,249.1l1 6.1 7.8 22.4-1-7.6z" fill="url(#Cpf)"/><path d="M1794.9,268l.5-1.8 2.2-8.9 7.4-42.6-.5-.5-.5 0-.4 .3-.5 .8-.6 1z" fill="url(#Caq)"/><path d="M1743.3,249.2l1.5-9.3 1.1-6.2 1.6-8.2 1.5-5.4 6.1 22.7-.4-3.9-.8-7.8-.8-7.2-.9-6.3-.8-4.7-.9-3.1z" fill="url(#CWo)"/><path d="M1752.1,239.6l1-2.3 .5-.3 5.7 45.6-1.2-10.1z" fill="url(#Ccn)"/><path d="M1621.9,206.6l.4-2.6 7-15.9-.4 .6z" fill="#c12b30db"/><path d="M1656.8,206.5l.5 .2 .4 .6 6.9 16-.9-7.4z" fill="url(#CDm)"/><path d="M1645.1,347l.9-6.1 7.2-82-.5 1.6-.4 2z" fill="url(#COf)"/><path d="M1615,232.2l.9 5.3 7.3 24.6-.9-7.4z" fill="url(#CIi)"/><path d="M1616.7,221.4l.4-3.1 .5-3 7-19.8-.5 .9-.4 1.4z" fill="url(#CEl)"/><path d="M1611,258.3l.4 2.3 .5 2.7 7.6 51.4-.5-4-.5-4.2z" fill="#e9785ddb"/><path d="M1711.5,283.6l1-4.4 1-4.9 7.4-50.2-.5 .3-1 1.8-.5 1.4z" fill="url(#CYl)"/><path d="M1602.1,358.4l.4-3.2 .4-3.3 .5-3.5 6.8-84.3-.5 .3-.9 2z" fill="url(#CJd)"/><path d="M1747.5,323.8l1-5.2 .6-2.8 7.9-70.8-.5 .2-.5 .6-.5 1.1z" fill="url(#Col)"/><path d="M1628.9,188.7l.4-.6 7-1.9-.4-1.7z" fill="#ba162bdb"/><path d="M1645,273.7l.9-7.5 7.1-42.3-.5 .4-.5 .8z" fill="#dd5f4bdb"/><path d="M1721.8,224.8l.5 .9 .4 1.4 6.2 36.8-.4-3.4-.4-3.4z" fill="#d55042db"/><path d="M1546.5,311.5l.4-4.2 .4-4.2 6.8-49.6-.9 5.8z" fill="#e9785ddb"/><path d="M1744,265.3l.5-3.4 1.6-10.5 1.1-6.9 1.6-8.9 1-4.4 .5-1.5 6 30.3-.4-3.9-1.2-12.1-.8-7.6-.8-6.8-1.3-7.6-.5-1.6z" fill="url(#CZn)"/><path d="M1720.8,205.8l.5 .3 .5 .6 .4 1 6.3 23.1-.8-5.6-.5-2.8z" fill="#cc403adb"/><path d="M1608,248.1l.9-6.5 7-29.3-.9 3.8z" fill="#d44e41db"/><path d="M1807.1,223.3l.5 .6 .4 .9 1.4 4.9 5.2 35.7-.8-3.1-1.3-6.2z" fill="url(#Ceq)"/><path d="M1720.5,339l.5-2.9 7.9-79.7-.5-.5z" fill="url(#Ckj)"/><path d="M1771.7,285.9l.5-2.8 1.1-6 7.6-50.9-.5-.6-.5 0-.5 .3z" fill="url(#Cho)"/><path d="M1601.5,277.2l.9-6.2 7-40.8-.9 4.3z" fill="#e36b54db"/><path d="M1643.4,308.7l.9-7.7 7.2-60.1-.5 .8-.5 1.2z" fill="url(#CSh)"/><path d="M1701.9,402.9l.5-2.2 8.2-114.2-.5-.9z" fill="url(#CXe)"/><path d="M1544.7,328l.4-4 6.6-62.3-.4 2.8z" fill="#f18d6fdb"/><path d="M1685.9,225.6l.9-6.4 .5-2.8 .5-2.5 6.8-1.9-.4-2.8-.9-4.5-.5-1.6z" fill="#cb3e38db"/><path d="M1687.8,213.9l.5-2 .9-2.6 6.7 12.3-.9-6.6-.4-3z" fill="#cb3e38db"/><path d="M1683.1,244.3l.5-3.8 .5-3.7 7-26.9-.5-.9-.4-.4z" fill="#d1493fdb"/><path d="M1625.5,194.7l.5 .2 .9 1.6 .4 1.4 7.1 7.6-1.4-7.9-.5-2.3z" fill="url(#Cym)"/><path d="M1771.9,264.8l1.1-7.2 .5-3.6 1.2-7.2 6.7-15.7-1.2-7.7-.9-3.5z" fill="url(#Cdp)"/><path d="M1717.1,212.7l1-5.3 1-4.4 .5-1.7 .9-2.4 .5-.6 .5-.2 6.4 13.9-.4-2.8-.4-2.7-1.3-7.4-1.4-5.6-.4-1.2z" fill="url(#CHp)"/><path d="M1653.4,224.1l.5 .7 7 26.9-.5-4.1z" fill="#d75445db"/><path d="M1746.3,302.5l1.1-6.8 .6-3.6 7.5-51.4-.9-2.9-.5-.7z" fill="url(#Cgm)"/><path d="M1599.9,291.8l.4-3 7-49.1-.5 2.1z" fill="#e46e56db"/><path d="M1644,289.9l.4-3.9 .5-3.9 7.1-49.6-.5 .4-.5 .8z" fill="url(#CQi)"/><path d="M1620.1,212.7l.9 3.9 7.2 14.5-.5-3.2-.5-3.1z" fill="url(#CIk)"/><path d="M1800.1,299.5l.5-.9 1.1-2.2 8-62.5-.5 .4-1 2z" fill="url(#Cmo)"/><path d="M1646.9,255.8l.9-7 7.1-33.6-.5 .1-.4 .5z" fill="#d55042db"/><path d="M1714.4,230l1-5.9 7-25.3-.4-.6-.5-.1z" fill="url(#CMo)"/><path d="M1689.5,223.9l.9 2.5 6.6 32-.9-5.8z" fill="#d24b40db"/><path d="M1574.5,223.8l.9-5.8 7.1-14.7-.9 2.5z" fill="url(#Cyj)"/><path d="M1679.9,275.9l.5-3.5 7.2-48.8-.5 1z" fill="url(#CWk)"/><path d="M1657.5,262.2l1.4 7.3 7 54.7-.5-2.3-.9-5.1z" fill="url(#CWg)"/><path d="M1723.9,361.6l1.6-7.6 8.1-89-.5-.1-.5 .3-.5 .8z" fill="url(#Cli)"/><path d="M1466.7,313.9l.5 4.5 7.9-7.3-.6-4.4z" fill="url(#Ca)"/><path d="M1612.4,233l.8-6.4 7.1-23.5-.5 1.2-.4 1.6z" fill="url(#CGk)"/><path d="M1690.5,233.5l.5 1.6 .9 4.1 6.6 36.6-1.4-7.9z" fill="#df634edb"/><path d="M1615.2,275.8l.5 1.5 7.6 76.4-.4-3.2z" fill="url(#CNd)"/><path d="M1778.4,228l1-2.1 .5-.3 5.6 35.8-1.2-8.3z" fill="url(#Cep)"/><path d="M1583,202.7l.4 0 .5 .5 .9 2.5 7.3 3-.5-3.1-1-5.1-.4-2z" fill="url(#Czk)"/><path d="M1537.1,207.5l1.4 7.8 7.4-6.4-1.5-7.7z" fill="url(#Cui)"/><path d="M1780.5,336.2l1-1.1 8.3-78.2-1 3.3z" fill="url(#Cvl)"/><path d="M1788.7,246.8l.9 4 .4 2.5 .5 2.7 5.3 42.1-.9-2.3-.9-3.1z" fill="url(#Ckn)"/><path d="M1687.9,216.7l.5-.7 .5-.3 .5 .2 .4 .6 6.6 26.5-.9-6.6-.8-6.6z" fill="#d0473ddb"/><path d="M1803.1,215.3l.5-.8 .4-.3 .5 0 5.5 29-1.2-7z" fill="url(#Cbr)"/><path d="M1711.9,262.2l1-5 7.2-42.6-.4 .4-.5 .9z" fill="url(#CQm)"/><path d="M1614.8,408.2l1.4-8.3 1.8-12.4 .9-6.8 1.4-11 7.2-53.2-1.5-11-1.4-9.6-1.5-7.4-1-3.3-.5-1z" fill="url(#Coc)"/><path d="M1559.5,281.9l.5 2.9 8.5 64.5-.5-3.6z" fill="#f18d6fdb"/><path d="M1656.8,204.8l.5-2 .9-3.1 .5-.9 .4-.6 .5-.2 6.9 7-.5-3.1-.9-5.4-.9-3.9-.4-1.3z" fill="url(#Czn)"/><path d="M1523.7,228.3l1 6.5 7.5-6.6-1.1-6.4z" fill="url(#Ckg)"/><path d="M1607,381.6l.4-3.2 1.4-10.4 .4-3.7 6.9-85.1-.4-1.9-.5-1.5-.5-1-.5-.5-.5-.1z" fill="url(#CYc)"/><path d="M1612.9,241.1l.5 2.5 7.3 30.6-.4-3.9z" fill="url(#CJh)"/><path d="M1693.2,382.7l1.5-7.1 1.5-8.4 1.1-6.5 1.5-10.8 7.5-51.3-.5-3.9-1.3-10.2-.5-2.8-.9-4.2-.5-1.5-.5-.9-.4-.5-.5 0z" fill="url(#Cag)"/><path d="M1796.6,244.3l1.6-9.1 1.1-5.9 6.6-11.6-1.2-6.6-.9-3z" fill="url(#Car)"/><path d="M1580.8,210.1l.8-4.3 7.2-10.1-.5 .1-.4 .6z" fill="url(#Cyk)"/><path d="M1723.8,246.4l.5-.6 .4-.2 .5 .4 6 52.4-.4-3.6-.4-3.7-.5-3.9z" fill="url(#Cil)"/><path d="M1495.5,269l1.1 7.9 7.6-6.9-1.1-7.9z" fill="url(#CGc)"/><path d="M1550.1,290.6l.4-4.2 6.9-40.6-.4 2.7z" fill="#e46e56db"/><path d="M1548.9,187.6l.5 .3 .9 1.8 1.4 5.1 7.3-6.3-1.4-5.1-.9-1.7-.5-.3z" fill="url(#Cvk)"/><path d="M1735.9,399.5l1-.7 1-1 .5-.7 8.6-109.6-1.1 3.3-1 4.5-.6 2.6z" fill="url(#Cig)"/><path d="M1644.2,323.5l.5-3.7 7.2-70.4-.5 1.1z" fill="url(#CPg)"/><path d="M1745.7,278.7l.6-3.7 1.6-11.4 .5-3.8 1.1-7.2 6.6 .7-.8-7.4-.4-3.5-1.3-8.7-.5-2.1z" fill="url(#Cbn)"/><path d="M1649.8,236.7l.4-3.2 7.1-26.8-.5-.2z" fill="#d1493fdb"/><path d="M1743.1,282.1l1.7 11.2 5.7 60.1-.9-1.3-1-1.9z" fill="url(#Cpi)"/><path d="M1621.6,284.2l.5 1 1 3.3 7.6 91.6-.5-2.3-.9-4.9z" fill="url(#Cad)"/><path d="M1509.7,248.1l1 7.2 7.6-6.7-1.1-7.2z" fill="url(#Cje)"/><path d="M1473.9,302.3l.6 4.4 7.8-7.2-.6-4.3z" fill="url(#CB)"/><path d="M1756,245.8l.5-.6 .5-.2 .5 .3 .4 .8 .9 2.7 5.6 53.2-.5-1.8-.8-4.2-1.3-7.8z" fill="url(#Cim)"/><path d="M1574.4,219.2l.9 4 7.5 8.9-.5-3.7-.5-3.5z" fill="url(#Czi)"/><path d="M1750.2,338.1l2.1-7.4 8.1-76.8-.6 .9-.5 1.3-1 3.8z" fill="url(#Cpk)"/><path d="M1648.8,366.1l.4-2.2 1-4.9 7.3-92.2-.5 1.1-1 3.3z" fill="url(#CLe)"/><path d="M1722.1,234.8l.5 0 .4 .5 6.2 42-.9-7.5z" fill="#de614ddb"/><path d="M1749.5,252.6l1.1-6.2 1.5-6.8 6 32.9-1.6-15.3-.4-3.9z" fill="#de614ddb"/><path d="M1693.7,252.3l1.3 5.8 6.5 54.3-.5-3-.9-6.4z" fill="url(#Cej)"/><path d="M1705.4,338.5l.5-3.1 1.1-5.6 1-4.6 1.1-3.3 .5-1.1 5.5 130-.9-2.1-2.9-7.7z" fill="url(#CDc)"/><path d="M1653.1,219.7l.4-2.7 7-17.9-.4-.8z" fill="#ca3b37db"/><path d="M1763.2,256.6l.9 3.7 .9 4.8 .4 2.8 5.6 47.3-1.4-2.8-.9-2.7z" fill="url(#Crl)"/><path d="M1717.5,315.8l1.6-9.7 7.5-56-.9-3.3-.5-.8z" fill="url(#Cfk)"/><path d="M1670.4,306.1l1.5-7.7 1-3.4 .5-1 .5-.7 .5-.1 .5 .3 .4 .8 6.6 104.9-1-5-1.3-8.4-.5-3.1-.5-3.3-.9-6.9-.4-3.7z" fill="url(#CVd)"/><path d="M1599.9,332.2l.4-3.2 .9-6.7 6.9-68.4-.9 2.1-.5 1.7z" fill="url(#CAe)"/><path d="M1653,223.9l.4 .2 7 23.5-.5-4.2z" fill="#d44e41db"/><path d="M1481.1,291l.6 4.2 7.8-7.1-.6-4.2z" fill="url(#Cfb)"/><path d="M1622.3,204l.9-4.5 .5-1.7 .4-1.4 7.1-6.3-1-1.8-.4-.3-.5 .1z" fill="#bb1b2cdb"/><path d="M1681.8,256l.5-3.7 7.1-36.4-.5-.2z" fill="#d44e41db"/><path d="M1652.4,240.9l.5 .7 .4 1.2 7 41.8-.4-3.6-.5-3.8z" fill="#dc5d4adb"/><path d="M1720.1,214.6l.5-.1 .5 .2 .9 1.7 6.3 28-1.3-9.3-.4-3.2z" fill="#d24b40db"/><path d="M1611.6,266l.5 1.6 7.7 61.4-.5-4z" fill="#ee8468db"/><path d="M1773,299.6l2.1-8.5 7.8-57.7-.5 .2-.5 .6-.5 .9-.5 1.3z" fill="url(#Chn)"/><path d="M1715.1,294.5l.5-2.9 7.4-56.3-.4-.5z" fill="url(#Cel)"/><path d="M1774.7,246.8l.5-3.4 1.1-6.4 1.6-7.3 .5-1.7 5.9 25.1-1.2-9.4-.8-6.4-.9-6.2z" fill="#d75445db"/><path d="M1709.6,320.8l.5-.8 .5-.4 .5 0 .5 .4 .5 .8 .9 2.8 1.5 6.7 5.4 128.3-1.5-1.9-1.9-3.1-1.4-2.8z" fill="url(#CEc)"/><path d="M1661.3,271.3l1.4 7.4 6.9 64.3-.5-2.5-.9-5.2z" fill="url(#CTf)"/><path d="M1770.4,273.7l.4 2.8 5.4 56-.5-1.2z" fill="url(#Csk)"/><path d="M1654,215.8l.4-.5 .5-.1 6.9 16.4-.9-7.6z" fill="url(#CKl)"/><path d="M1569.1,234l.8-6.4 7.2-17-.9 2.8z" fill="url(#Cxi)"/><path d="M1702.4,400.7l1.1-4.9 1-5.4 2.5-15.8 .6-3.6 .5-3.6 7.5-49.7-.4-3.8-1.8-14-.9-5.8-1-4.6-.9-3z" fill="url(#CYe)"/><path d="M1548.2,376l.8-6.2 6.1-99.8-.5 .5-.4 .9z" fill="url(#Cob)"/><path d="M1699.7,277.7l1-2.5 .5-.6 .5 0 .4 .5 .5 .9 6.1 80.7-.4-2.8-.9-6-.9-6.8-.5-3.6z" fill="url(#Cgh)"/><path d="M1719.9,206.4l.5-.5 .4-.1 6.4 16.6-.8-5.7z" fill="#c73635db"/><path d="M1684.1,236.8l.9-6.8 7-17-.9-3.1z" fill="#cc403adb"/><path d="M1563.7,247.1l.4-3.7 .4-3.5 7.1-21.2-.8 3.7z" fill="url(#Cyh)"/><path d="M1645.9,266.2l.5-3.8 7-38.3-.4-.2z" fill="#d85646db"/><path d="M1799.3,229.3l1.1-5.3 1.1-4.4 1-3.3 .6-1 5.7 20.9-2.9-18.5z" fill="#cd423bdb"/><path d="M1599.6,307.4l.5-3.1 6.9-58.1-.5 1.7z" fill="url(#Cxf)"/><path d="M1566.2,236.6l.9 5.1 7.7 16.6-1-7.7z" fill="url(#Csg)"/><path d="M1775.4,314.8l1-1.9 1-2.5 .5-1.4 8-65.7-.5 .7-1 2.4-1.1 3.7z" fill="url(#Cnm)"/><path d="M1562.2,283.1l.9 2.1 8.9 92.6-1-7.3z" fill="url(#Csb)"/><path d="M1653.5,217l1-4.7 .9-3.5 .9-1.9 .5-.4 6.9 9.4-.9-6.5-.9-5.4-.5-2.1-.9-2.8z" fill="url(#CCm)"/><path d="M1581.6,205.8l.9-2.5 .5-.6 7.2-4.2-1-2.4-.4-.4z" fill="#be242edb"/><path d="M1721,336.1l1.6-10 1-7.3 7.5-52.8-1.3-7.1-.9-2.5z" fill="url(#Clj)"/><path d="M1605,258.1l.9-6.4 7-32.5-.5 1.5-.4 1.9z" fill="#d85646db"/><path d="M1797.4,279.4l1.5-4.6 1.6-6 7.5-44-.4-.9-.5-.6-.5-.1-.4 .2-.5 .5-.6 .9z" fill="url(#Cip)"/><path d="M1560.1,255l1 5.7 7.9 27.4-.5-3.6-.5-3.8z" fill="url(#Cse)"/><path d="M1713.2,243.1l.5-2.8 1-5.6 7.1-28-.5-.6-.5-.3-.4 .1z" fill="url(#COn)"/><path d="M1773.3,277.1l.5-3.1 .6-3.3 7.4-42.2-.9-2.3z" fill="#da5a49db"/><path d="M1624.1,196.4l.5-.9 .4-.6 .5-.2 7 .6-.9-3.8-.4-1.4z" fill="#ba162bdb"/><path d="M1617.6,215.3l.4-2.7 .5-2.5 7-15.4-.5 .2-.4 .6z" fill="#c0282fdb"/><path d="M1680,309l.4-2.4 1-5.2 7.4-60.9-.5 .9-1 3z" fill="url(#CYi)"/><path d="M1558.7,260.2l.4-3.9 .4-3.8 7.1-25.7-.8 4.2z" fill="url(#Cpg)"/><path d="M1621.6,201.6l.5 .3 .9 1.7 .5 1.3 7.1 9.4-.5-2.8-.9-5.4-.5-2.4z" fill="url(#CFl)"/><path d="M1651.5,232.9l.5-.4 .5 .1 .4 .7 7 32.8-.9-8.1-.5-4.1z" fill="#d85646db"/><path d="M1715.4,224.1l1.5-7.9 6.9-13.7-.5-1.6-.9-2.1z" fill="url(#CNo)"/><path d="M1650.2,233.5l1-6 7-19.1-.5-1.1-.4-.6z" fill="#ca3b37db"/><path d="M1614.5,230l.5 2.2 7.3 22.5-.5-3.6z" fill="url(#CHi)"/><path d="M1721.9,383.3l2.7-16.2 2.2-14 1.6-10.7 6.2 46.5-.4-3-1.8-13.3-.9-7.1-.8-7.4-1.4-11.6z" fill="#f7b093db"/><path d="M1544.7,347.8l.4-3.8 .4-3.8 6.4-76.1-.8 4z" fill="url(#CZb)"/><path d="M1656.7,391.5l1.5-5.7 1.4-6.7 7.5-96.4-1-3.1-.5-1-.4-.5-.5-.1-.5 .3z" fill="url(#CUd)"/><path d="M1695.7,262.2l.5 .1 .5 .6 .4 1 .5 1.6 6.3 67.2-.4-3.2-.9-7-.5-3.6z" fill="url(#Cfi)"/><path d="M1782.4,233.6l.5-.2 .5 .3 .5 .6 .4 1 .9 3 5.5 40.8-1.8-6.9-.8-4.4z" fill="url(#Cjo)"/><path d="M1713.5,274.3l.5-2.7 7.4-47.4-.5-.1z" fill="url(#CYl)"/><path d="M1554.2,274.3l.4-4.2 .3-4 7.1-31.2-.9 4.6z" fill="url(#Clf)"/><path d="M1688,350.8l1.5-7.7 7.6-79.2-.4-1-.5-.6-.5-.1z" fill="url(#Cdh)"/><path d="M1569.8,226.8l1 4.2 7.5 11.8-.5-3.8-.5-3.6z" fill="url(#CBh)"/><path d="M1705.6,298.3l.5-3 1.5-6.9 1-2.5 .5-.6 .5-.1 .5 .4 .5 .9 .9 3 5.9 90.6-1.4-5.2-.9-4.2-1.8-10.3-1.3-9.4z" fill="url(#Cbg)"/><path d="M1652.5,224.3l.5-.4 6.9 19.5-.4-4z" fill="#d1493fdb"/><path d="M1610.7,246.7l1 4.4 7.5 38.7-1-8.4z" fill="url(#CAg)"/><path d="M1680,288.1l.4-3.1 7.3-53.5-.5 1z" fill="url(#CWj)"/><path d="M1653.8,249.4l.9 2.7 7 48.4-.5-3.1-.4-3.3z" fill="#e46e56db"/><path d="M1680.4,272.4l1-7 7.1-42.5-.4 .2-.5 .5z" fill="url(#CXk)"/><path d="M1647.8,248.8l.5-3.4 .5-3.4 7-25.3-.4-1-.5-.5z" fill="#d0473ddb"/><path d="M1725.9,261.1l.5-2 1-2.6 6 52.7-1.3-11.1z" fill="url(#Chk)"/><path d="M1616.6,219.5l.9 3.7 7.3 17.2-1-6.7z" fill="url(#CIj)"/><path d="M1797.6,257.3l1-5.2 .6-2.6 7.1-31.4-.8-2.6-.5-.8z" fill="url(#Cbq)"/><path d="M1710.2,429.3l1-2.2 2-5.5 1.5-4.9 3-12.1 8.1-88.2-.9-6.4-1.3-7.9-1-3.9-.9-2.4-.5-.7-.5-.3-.5 .1-.5 .5-1 2.3z" fill="url(#Cge)"/><path d="M1682.3,252.3l.4-3.7 7.1-32.1-.4-.6z" fill="#d1493fdb"/><path d="M1712.9,257.2l1-5.3 7.2-37.2-.5-.2-.5 .1z" fill="url(#CRm)"/><path d="M1717.7,404.6l2.1-9.9 2.1-11.4 7.4-36.8-1.3-11.7-1.3-11.3-.9-7.1z" fill="url(#Che)"/><path d="M1719.1,306.1l.5-3.5 7.4-50.2-.4-2.3z" fill="#e67259db"/><path d="M1600.3,288.8l.5-3.1 .4-3.2 7-46.3-.9 3.5z" fill="#de614ddb"/><path d="M1529.6,214l1.5 7.8 7.4-6.5-1.4-7.8z" fill="url(#Cvh)"/><path d="M1805.7,223.9l.5-.5 .4-.2 .5 .1 5.4 32.8-1.2-7.4z" fill="url(#Cdq)"/><path d="M1722.6,298.2l1 3.9 1.3 7.9 5.7 87.3-1.4-2.4-1-2.1z" fill="url(#Cbf)"/><path d="M1646,340.9l.5-3.2 .5-3.3 7.2-77.5-1 2z" fill="url(#COf)"/><path d="M1557.7,271.5l1 5.8 8.2 46-.5-3.5-.5-3.6z" fill="url(#CLc)"/><path d="M1558.2,263.1l1 5.8 8 34.9-.5-3.6-.5-3.6z" fill="url(#CAd)"/><path d="M1575.4,218l.8-4.6 7.2-10.7-.4 0-.5 .6z" fill="url(#Czj)"/><path d="M1516.2,234.9l1 6.5 7.5-6.6-1-6.5z" fill="url(#Cgf)"/><path d="M1685,230l.5-3.1 1-5.2 .5-2.1 .9-2.9 6.8 13.1-1.4-9.4-1.3-7.4z" fill="url(#CJm)"/><path d="M1577.5,209.9l.5-.3 .4 .4 1 2.1 7.3 3.8-1-5.9-.9-4.3z" fill="url(#CAj)"/><path d="M1722.8,249.1l.5-1.5 .5-1.2 6.1 40.8-.4-4.1-.4-4.1z" fill="url(#Chl)"/><path d="M1487.8,275.9l1.1 8 7.7-7-1.1-7.9z" fill="url(#CRb)"/><path d="M1748,292.1l1-7.5 1.7-11.7 .5-3.7 6.9-11.4-1.3-9.8-1.3-7.3z" fill="url(#Chm)"/><path d="M1751.4,290.6l.9 4.7 .8 6 5.4 74.4-1.9-5.1z" fill="url(#Cuh)"/><path d="M1644.3,301l.5-4 .5-4 7.1-52.1-.5-.2-.4 .2z" fill="url(#CTh)"/><path d="M1644.9,282.1l.4-4 .5-4 7.1-40.8-.4-.7-.5-.1z" fill="url(#CRi)"/><path d="M1541.6,193.9l.5 .3 .9 1.8 1.4 5.2 7.3-6.4-1.4-5.1-.9-1.8-.5-.3z" fill="url(#Cvj)"/><path d="M1646.4,262.4l.4-3.8 7.1-33.8-.5-.7z" fill="#d55042db"/><path d="M1620.3,369.7l1.4-11.6 1.4-11.9 .4-4.1 1.4-11.8 .5-3.9 7.5 32.2-1.5-11-1-7.7-.5-3.9-1.4-11.8-1-7.7z" fill="#f6a283db"/><path d="M1698.8,349.9l1.6-11.9 1.5-12.5 1.1-8.4 1.5-11.8 1.1-7 6.4 52.7-.9-7.1-.9-7.7-.9-8.1-.8-8.5-1.4-12.8-.8-8.2z" fill="#f39577db"/><path d="M1550.5,286.4l.4-4.2 6.9-38.7-.4 2.3z" fill="#e0654fdb"/><path d="M1715.6,291.6l1-6.1 .5-3.3 7.3-42.7-.4-1.9-1-2.3z" fill="url(#Cfl)"/><path d="M1502,254.8l1.1 7.3 7.6-6.8-1-7.2z" fill="url(#Ctd)"/><path d="M1716.9,216.2l1.5-6.2 1-2.7 .5-.9 6.5 10.3-1.3-7.9-1.3-6.3z" fill="#c32e31db"/><path d="M1466.1,309.5l.6 4.4 7.8-7.2-.6-4.4z" fill="url(#Ca)"/><path d="M1668.4,319.6l1.5-10.4 .5-3.1 6.9 62.7-1.4-11.8-.5-4.2z" fill="#f59d7edb"/><path d="M1547.3,303.1l.4-4.3 6.8-47.6-.4 2.3z" fill="#e9785ddb"/><path d="M1691.2,241l.4 1.3 .9 3.5 6.6 42.5-1.4-8.9z" fill="#e0654fdb"/><path d="M1545.1,324l.7-8.3 6.7-58.5-.8 4.5z" fill="#e8765cdb"/><path d="M1721.1,236.1l.5-.9 .5-.4 6.2 35-.4-3.9-.4-4z" fill="#d95847db"/><path d="M1682.8,328.1l2-9.4 7.4-68.6-.4 .1-.5 .5-.5 .8-.5 1.2z" fill="url(#Cai)"/><path d="M1665.6,278.6l.5 1 1 3.1 6.7 82.5-1.3-9z" fill="url(#CPe)"/><path d="M1755.5,246.9l.5-1.1 5.8 42.4-.4-2.9z" fill="#e16751db"/><path d="M1731.1,269l1-3 .5-.8 .5-.3 .5 .1 .4 .7 .5 1 5.7 68.6-.5-2-1.3-7.2-1.3-8.9z" fill="url(#Cnj)"/><path d="M1610,255l1 3.3 7.5 48.2-1-8.6z" fill="#e9785ddb"/><path d="M1613.2,226.6l.9-5.7 7.1-19.2-.5 .5-.4 .9z" fill="#c43032db"/><path d="M1562.4,244.1l1 5 7.8 20.9-1-7.6z" fill="url(#Cpf)"/><path d="M1651.2,227.5l.9-5.2 .9-4 1-2.5 6.9 8.2-.9-6.7-.9-5.3-.9-3.6z" fill="url(#CJl)"/><path d="M1558.5,276.8l.5 2.4 .5 2.7 8.5 63.8-.5-3.6-.5-3.7z" fill="#f18d6fdb"/><path d="M1719.4,226.2l1-1.8 .5-.3 .5 .1 .4 .6 6.3 32.3-.4-3.5-.9-7-.8-7.1z" fill="#d55042db"/><path d="M1611.9,236.9l1 4.2 7.4 29.2-.5-4-.5-3.9z" fill="url(#CJh)"/><path d="M1729.5,377.5l1-3.5 1.5-6.1 8.3-94.2-.5-.1-.5 .3-.5 .7-1 2.6z" fill="url(#Crh)"/><path d="M1708.1,367.4l1-7.7 1.6-12 .6-4.1 1-8.2 6.8 12.3-1.3-10.8-1.8-15.3-.4-3.9z" fill="#f5a081db"/><path d="M1755.4,352.3l.5-.8 1-1.9 1-2.6 8.3-83.3-1 1.9-1.1 3.1-.5 2.1z" fill="url(#Cuj)"/><path d="M1613.3,274.6l.4-.4 .5 .1 .5 .5 .5 1 7.7 74.7-.5-3.5-1.5-11.1z" fill="url(#CNd)"/><path d="M1689.6,231.4l.9 2.1 6.6 34.4-.9-5.8z" fill="#d0473ddb"/><path d="M1473.3,298l.6 4.3 7.8-7.1-.6-4.2z" fill="url(#CB)"/><path d="M1749.1,315.8l1-6.2 1.7-10.2 7.5-48.7-.5-1.9-.9-2.7-.4-.8-.5-.3z" fill="url(#Cpl)"/><path d="M1714,271.6l1-5.6 7.3-40.3-.5-.9-.4-.6z" fill="#d75445db"/><path d="M1663.5,356.1l.5-3.4 1.5-10.7 1.4-11.2 1.5-11.2 7 33.2-.9-8.6-.9-8.9-.9-9-.5-4.5-.9-8.9-.5-4.2z" fill="#f49a7bdb"/><path d="M1682.7,248.6l.5-3.6 7.1-27.4-.5-1.1z" fill="#cf453cdb"/><path d="M1807.7,237.8l.5-1.5 1-2 .5-.4 5.2 38-1.1-9.1-.4-3.2z" fill="url(#Ckp)"/><path d="M1742.2,277.9l.9 4.2 5.5 68.1-.9-2.4z" fill="url(#Coi)"/><path d="M1608.9,241.6l.9-6.2 .4-2.9 7.1-23.3-.5 .7-.9 2.4z" fill="#ca3b37db"/><path d="M1687.1,224.6l.5-1 .5-.5 .4-.2 .5 .3 .5 .7 6.6 28.7-.9-6.1-.9-6.3-.4-3.2z" fill="#d24b40db"/><path d="M1609.2,364.3l1.4-11.8 7-65.5-.5-2.9-1-4.9z" fill="url(#CYc)"/><path d="M1610.7,264.3l.5 .6 .4 1.1 7.7 59-.5-4.1-.5-4.2z" fill="#ea7b60db"/><path d="M1626.8,315.6l.9-6.4 1-5.5 .9-4.3 1-3.1 1-1.7 .4-.2 .5 .1 .5 .5 .5 .9 7.5 111.2-1.9-9.2-2.9-16.3-1.4-9.3-.5-3.3z" fill="url(#Cpc)"/><path d="M1644.7,319.8l.5-3.7 .4-3.8 .5-4 7.2-59.6-.5-.2-.5 .2-.4 .7z" fill="url(#CQg)"/><path d="M1618.2,208.9l.5 .4 .9 2 .5 1.4 7.1 12.1-.4-3.1-1-5.7-.5-2.7z" fill="url(#CIk)"/><path d="M1719.6,302.6l.5-3.7 1.6-11.4 1.6-11.3 1.6-10 1-5.1 6.2 37-.4-4-.4-4.1-1.3-12.6-.8-8.2-.4-3.9-.9-7.1-.9-5.8z" fill="url(#Cgk)"/><path d="M1603.4,348.4l.9-7.3 .8-7.8 7-65.7-.5-1.6-.4-1.1-.5-.6-.5-.2z" fill="url(#CKd)"/><path d="M1646.8,258.6l.5-3.7 7.1-28.9-.5-1.2z" fill="#d24b40db"/><path d="M1602.4,271l.9-6.3 .4-3.2 7.1-35.6-1.4 4.3z" fill="#d24b40db"/><path d="M1618.5,210.1l.4-2.3 .5-1.9 .4-1.6 7.1-7.8-.9-1.6-.5-.2z" fill="#bb1b2cdb"/><path d="M1576.2,213.4l.9-2.8 .4-.7 7.3-4.2-.9-2.5-.5-.5z" fill="#c0282fdb"/><path d="M1751.2,269.2l1.1-7.3 1.6-9 1.6-6 5.9 38.4-.9-6.4-.8-6.9-.8-7.1-.8-7.1z" fill="#df634edb"/><path d="M1738.4,397.1l.5-.7 1-1.8 8.6-109.5-.5 .4-1 2z" fill="url(#Cig)"/><path d="M1768.6,265.7l.9 3.3 .9 4.7 5.3 57.6-.9-2.9-.9-3.4z" fill="url(#Csk)"/><path d="M1659.6,379.1l2.4-13.5 1.5-9.5 7.3-47.4-.4-4.1-1-7.7-.9-6.7-1.4-7.5z" fill="#f4987adb"/><path d="M1600.1,304.3l.4-3.3 .5-3.3 6.9-53.9-.9 2.4z" fill="url(#Cyf)"/><path d="M1648.8,242l.4-3.2 1-5.9 .9-4.7 .9-3.1 .5-.8 7 15.1-.5-3.9-.9-7.1-.9-5.9-.9-4.3-.5-1.5z" fill="url(#CNk)"/><path d="M1650.2,359l.4-2.6 .5-2.6 7.3-88.1-.4 .4-.5 .7z" fill="url(#CLe)"/><path d="M1799.2,249.5l.5-2.8 2.8-13 1.6-6.1 1-2.8 .6-.9 5.6 24.8-2.9-19.5-.8-5-.4-2.3-.9-3.8z" fill="url(#Ccq)"/><path d="M1569.9,227.6l.9-5.2 7.2-12.8-.5 .3-.4 .7z" fill="url(#Cyi)"/><path d="M1625.4,326.4l.9-7.3 .5-3.5 7.5 53.4-.5-3.4-.9-7z" fill="#f59f80db"/><path d="M1774.4,270.7l1.1-6.7 .5-3.4 1.7-9.7 6.6-8.4-.4-2.8-1.2-7.5-.9-3.7z" fill="url(#Cio)"/><path d="M1565.7,234.6l.5 2 7.6 14-.5-3.7z" fill="url(#Crg)"/><path d="M1619.8,204.3l.5-1.2 .4-.9 .5-.5 .4-.1 7.1 2.1-1.4-5.8-.4-1.4z" fill="#ba162bdb"/><path d="M1800.5,268.8l1.7-7.2 7.2-31.9-1.4-4.9z" fill="#d55042db"/><path d="M1725.5,354l2.1-12.3 1-7 1.1-7.4 7.5-46.6-.4-3-.5-2.8-.9-4.8-.9-3.4-.5-1-.4-.7z" fill="url(#Cmi)"/><path d="M1714.7,234.7l.5-2.7 1-5.2 1.5-6.6 1.5-4.3 .5-.9 .4-.4 6.5 17.3-.9-6.2-1.3-8.4-1.3-6.6-.9-3-.4-1z" fill="url(#CPn)"/><path d="M1689.5,343.1l.5-2.8 .5-3.1 1.5-9.8 7.4-51.7-.9-5.9-.9-4.3-.5-1.6z" fill="url(#Ceh)"/><path d="M1697.7,287.5l1.5-7.9 .5-1.9 6.3 59.8-.8-7.8-.9-8.2z" fill="url(#Cfh)"/><path d="M1650.6,235.1l.4-1.4 .5-.8 7 21-.4-4.1-.5-3.9z" fill="#d24b40db"/><path d="M1723.6,318.8l.6-3.9 .5-4 1.6-12.1 1.1-8 .5-3.9 .5-3.7 6.6 16.1-.9-7.8-.8-7.9-1.3-11.2-.9-6.4z" fill="url(#Cmj)"/><path d="M1781.4,235.1l.5-.9 .5-.6 5.7 34.2-.9-5.1z" fill="#d75445db"/><path d="M1692.7,250.4l.5 .8 .5 1.1 6.4 50.7-.4-3.4-.5-3.5z" fill="url(#Cdj)"/><path d="M1717.1,282.2l.5-3.3 1.6-10.2 1.5-9.7 1.1-5.5 1-4.4 6.3 29.9-1.2-12.5-.9-8.1-.8-7.5-.9-6.4-.9-5z" fill="url(#Cgl)"/><path d="M1572.5,216.9l.5-.2 .4 .4 1 2.1 7.4 5.7-.5-3.2-1-5.6-.4-2.2z" fill="url(#Czi)"/><path d="M1683.2,245l.5-3.4 .5-3.3 7-17.4-.9-3.3z" fill="#cc403adb"/><path d="M1728.4,342.4l.5-3.5 2.2-13 1.6-7.9 1.6-5.6 .5-1.2 5.2 106.6-1.8-8-1.8-9.6-1.8-11.3z" fill="url(#Cie)"/><path d="M1650.5,242.9l.5-1.2 .5-.8 .4-.2 .5 .2 7 36.3-.5-3.9-.9-7.9-.4-4z" fill="#dc5d4adb"/><path d="M1522.2,220.4l1.5 7.9 7.4-6.5-1.5-7.8z" fill="url(#Ckg)"/><path d="M1655.6,256.9l.5 .7 .9 2.7 .5 1.9 7 54.6-.5-2.7-1.4-8.8z" fill="url(#CWg)"/><path d="M1652.8,248.5l.5 .2 .5 .7 7 44.7-1-6.9z" fill="#e0654fdb"/><path d="M1785.9,243.3l.5-.4 .5 0 .5 .4 .4 .8 .9 2.7 5.3 45.9-1.2-6-1.3-7.2z" fill="url(#Ckn)"/><path d="M1752.3,330.7l1.5-7 8-70.2-.5-.3-.4 .1-.5 .6z" fill="url(#Cpk)"/><path d="M1508.6,241.5l1.1 6.6 7.5-6.7-1-6.5z" fill="url(#Cje)"/><path d="M1681.4,265.4l.5-3.5 .5-3.5 7.1-34.5-.5-.7-.5-.3z" fill="url(#CYk)"/><path d="M1660.4,268l.9 3.3 6.9 64-.4-2.8-.5-2.9z" fill="url(#CSf)"/><path d="M1480,282.8l.6 4 .5 4.2 7.8-7.1-1.1-8z" fill="url(#Cfb)"/><path d="M1564.5,239.9l.8-6.2 7.2-16.8-.4 .7-.5 1.1z" fill="url(#Czh)"/><path d="M1601.2,282.5l.5-3.2 7-44.3-.5 1.2z" fill="#de614ddb"/><path d="M1680.4,285l.5-3.2 1-6.4 7.2-44.6-.4-.1-.5 .2-.5 .6z" fill="url(#CXj)"/><path d="M1534.2,200.3l.5 .3 .9 1.7 1.5 5.2 7.3-6.3-1.4-5.2-.9-1.8-.5-.3z" fill="url(#Cui)"/><path d="M1645.8,274.1l.5-3.9 .4-4 7.2-30.1-1-2.8z" fill="url(#CSi)"/><path d="M1610.3,245.2l.4 1.5 7.5 34.7-.5-4.2z" fill="#dd5f4bdb"/><path d="M1617.8,290.3l.5-2.2 .9-3.2 .5-1 .5-.6 .5-.1 .4 .3 .5 .7 7.7 88.7-1.9-11.2-1.5-9.7-.5-3.5z" fill="url(#Cad)"/><path d="M1494.4,261.6l1.1 7.4 7.6-6.9-1.1-7.3z" fill="url(#CGc)"/><path d="M1549,369.8l1.2-9.9 .4-3.4 6.4-84.8-1-1.6-.4-.3-.5 .2z" fill="url(#Cpb)"/><path d="M1613.1,225.6l.5 1.1 .9 3.3 7.3 21.1-.5-3.6-.9-7.1z" fill="url(#CHi)"/><path d="M1728.4,283.2l.6-3.4 1.6-8.6 .5-2.2 6 48.2-.4-3.3-.9-7.1-.8-7.5z" fill="#e9785ddb"/><path d="M1802.2,261.6l3.3-15.4 2.2-8.4 5.7 21.8-.4-3.3-2-16.1-.8-5.7-.8-4.8z" fill="url(#Cjp)"/><path d="M1713.9,251.9l1-5.5 1-5.5 1-5.1 6.9-11.7-.4-2.4-.5-2.1-.9-3.2-.9-1.7z" fill="url(#CSm)"/><path d="M1647.3,254.9l.5-3.5 .9-6.7 7.1-12.3-.5-2.6-.9-3.8z" fill="#d0473ddb"/><path d="M1712.3,335.4l.6-4.1 1.6-11.7 .5-3.6 6.4 47.5-.5-2.9-1.3-9.5-.5-3.4z" fill="url(#CZe)"/><path d="M1775.1,291.1l1.7-7.8 1-5.7 7.4-39.3-.9-3-.4-1-.5-.6-.5-.3z" fill="url(#Cin)"/><path d="M1560.3,283.9l.4-.8 .5-.4 .5 0 .5 .4 8.8 87.4-1-7.7-.6-4-.5-4z" fill="url(#Csb)"/><path d="M1645.3,293l.4-4.1 .5-4.1 7.1-42-.4-1.2-.5-.7z" fill="url(#CUh)"/><path d="M1557.1,269l.6 2.5 8.2 44.7-.5-3.7z" fill="#e8765cdb"/><path d="M1557.7,260.7l.5 2.4 8 33.5-.5-3.7z" fill="url(#Czd)"/><path d="M1715,266l1.1-5.9 1.5-8.9 1.5-7.9 1.5-5.9 .5-1.3 6.4 25.8-.4-3.9-.4-3.9-.9-7.6-.8-6.9-.9-6-1.4-6.5-.4-1.4z" fill="url(#CZl)"/><path d="M1777.7,250.9l1.6-8.4 1.6-6.1 .5-1.3 5.8 27.6-1.2-8.4-.8-5.9-.9-5.9z" fill="#d55042db"/><path d="M1601.2,322.3l.5-3.5 .8-7.4 7-57.4-.4-.5-.5 0-.5 .4z" fill="url(#CBe)"/><path d="M1465.5,305.1l.6 4.4 7.8-7.2-.6-4.3z" fill="url(#Ca)"/><path d="M1559.1,250.4l1 4.6 7.9 25.7-.5-3.7-.5-3.8z" fill="url(#Cse)"/><path d="M1559.5,252.5l.4-3.6 .4-3.4 7.2-21.1-.9 2.4z" fill="url(#Cqg)"/><path d="M1692,327.4l.6-3.6 1.5-11.1 .5-3.8 1.5-11.3 1.6-10.1 6.6 34-.4-4.3-1.4-13.2-.8-8.8-.5-4.2-.9-8.1-.9-7.2z" fill="#ec7f63db"/><path d="M1605.9,251.7l.4-3.1 .4-3.1 .5-2.9 7.1-26-.5 .5-.9 2.1z" fill="#c43032db"/><path d="M1615.2,216.6l.5 .6 .9 2.3 7.2 14.2-.9-6.3-.5-3z" fill="url(#CIj)"/><path d="M1759.8,254.8l.6-.9 .5-.6 .4-.1 .5 .3 .5 .6 .9 2.5 5.5 53.1-1.3-5.3-1.7-9.3z" fill="url(#Crl)"/><path d="M1684.2,238.3l.5-3 1-5.3 .5-2.2 .9-3.2 6.8 12.4-.9-6-1.4-8-.4-2.1z" fill="#cb3e38db"/><path d="M1611.5,235.5l.4 1.4 7.4 25.5-.5-3.9z" fill="url(#CIh)"/><path d="M1750.4,287.2l1 3.4 5.2 80-.9-3.2z" fill="url(#Cth)"/><path d="M1694.3,264.5l.9-2 .5-.3 6.4 56.7-.4-3.8-.9-8z" fill="url(#Cei)"/><path d="M1648.7,244.7l.9-5.5 .5-2.3 .5-1.8 7 10.8-.5-3.7-.9-6.9-.4-2.9z" fill="#cf453cdb"/><path d="M1610.6,352.5l.9-8.4 .4-4.3 .9-8.7 .9-8.7 .5-4.2 7.3-.8-.9-8.2-.5-4-1-7.8-1-7.1-.5-3.3z" fill="url(#CZc)"/><path d="M1561.9,242.1l.5 2 7.8 18.3-.5-3.8z" fill="url(#Cof)"/><path d="M1545.5,340.2l.4-3.9 .4-3.9 6.5-70.8-.4 1.1-.5 1.4z" fill="url(#CZb)"/><path d="M1612.8,275.4l.5-.8 7.6 61.3-.5-3.9z" fill="#ec7f63db"/><path d="M1558,274.7l.5 2.1 8.5 61.6-.5-3.8z" fill="#ec8165db"/><path d="M1472.8,293.8l.5 4.2 7.8-7-.5-4.2z" fill="url(#CB)"/><path d="M1614.1,220.9l.9-4.8 .9-3.8 7.1-8.7-.9-1.7-.5-.3-.4 .1z" fill="#bb1b2cdb"/><path d="M1739.9,394.6l1-2.2 1.5-4.1 1-3.3 2.1-7.9 2.1-10 7.7-47.1-.9-7.9-1.3-10.8-.8-6-.9-4.7-1-3.4-.9-1.8-.5-.4-.5 .1z" fill="url(#Cjg)"/><path d="M1550.9,282.2l.3-4.2 .4-4.1 7.1-33.9-.9 3.5z" fill="#d95847db"/><path d="M1684.8,318.7l.5-2.7 .5-2.8 7.4-62-.5-.8-.5-.3z" fill="url(#Cai)"/><path d="M1716.9,235.8l.5-2.4 1.5-5.8 .5-1.4 6.6 13.3-.9-6.7-.4-3.1-.9-5.6z" fill="#cb3e38db"/><path d="M1570.8,222.4l.8-3.7 .5-1.1 .4-.7 7.4-3-.5-1.8-1-2.1-.4-.4z" fill="#c12b30db"/><path d="M1554.9,266.1l.4-3.9 .4-3.8 7.2-26.4-.5 1.2-.4 1.7z" fill="url(#Cmf)"/><path d="M1681.4,301.4l1-5.6 1-5.8 7.3-49.8-.5-.5-.5-.1-.4 .2-.5 .7z" fill="url(#CZi)"/><path d="M1547.7,298.8l.4-4.2 .3-4.2 7-42.8-.5 1.6-.4 2z" fill="#da5a49db"/><path d="M1545.8,315.7l.4-4.2 6.8-56-.5 1.7z" fill="#e8765cdb"/><path d="M1605.1,333.3l.5-4 7-59.6-.5-2.1z" fill="url(#CKd)"/><path d="M1609.7,264.4l.5-.3 .5 .2 7.6 52.4-.5-4.3-.5-4.4z" fill="#e57058db"/><path d="M1567.9,223.9l.5 0 .5 .5 .9 2.4 7.5 8.6-.5-3.5-1-6.1-.5-2.6z" fill="url(#CBh)"/><path d="M1609.1,253.5l.4 .5 .5 1 7.5 42.9-.4-4.3-.5-4.5z" fill="#da5a49db"/><path d="M1777.9,309l2.1-7.4 2.2-9.6 7.4-41.2-.9-4-.9-2.7-.4-.8-.5-.4-.5 0-.5 .4z" fill="url(#Cnm)"/><path d="M1647,334.4l1.4-10.4 .4-3.6 7.3-62.8-.5-.7-.5-.4-.4 0-.5 .4z" fill="url(#CPf)"/><path d="M1689.7,239.6l.5 .1 .5 .5 .5 .8 6.5 38.4-.9-6.4-.4-3.3z" fill="#d75445db"/><path d="M1609.8,244l.5 1.2 7.4 32-.5-4.3z" fill="#d85646db"/><path d="M1715,316l1.1-6.6 1-5.7 1.1-4.4 .5-1.6 1-2.3 .5-.5 .5-.1 .5 .3 .5 .7 .9 2.4 5.6 94.6-.4-1.2-2.4-7.4-1.8-8-2.2-12.7z" fill="url(#Caf)"/><path d="M1615.9,212.3l.9-2.4 .5-.7 .4-.4 .5 .1 7.1 4.4-.4-2.5-1.4-5.9-.5-1.3z" fill="url(#CHk)"/><path d="M1651.9,249.4l.4-.7 .5-.2 7 38.7-.4-3.6-.5-3.7z" fill="#dc5d4adb"/><path d="M1682.4,258.4l.4-3.4 .5-3.3 7.1-25.3-.9-2.5z" fill="url(#CZk)"/><path d="M1565.3,233.7l.5-2.7 7.2-14.3-.5 .2z" fill="#c43032db"/><path d="M1732,367.9l2.1-9.7 8.1-80.3-1-2.9-.5-.8-.4-.5z" fill="url(#Crh)"/><path d="M1691.8,250.2l.4-.1 .5 .3 6.5 45.7-.4-3.6-.4-3.7z" fill="url(#Ccj)"/><path d="M1514.6,226.9l1.6 8 7.5-6.6-1.5-7.9z" fill="url(#Cgf)"/><path d="M1751.8,299.4l.5-3.5 1.7-11 1.1-7.2 .5-3.5 6.7-3.5-.4-3.3-1.3-9.1-1.3-7.6z" fill="url(#Cql)"/><path d="M1646.7,266.2l1-7.4 .9-6.6 7.1-5.5-.9-6-.5-2.5-.4-2.1z" fill="#d44e41db"/><path d="M1501,248.2l1 6.6 7.7-6.7-1.1-6.6z" fill="url(#Ctd)"/><path d="M1785.4,244l.5-.7 5.6 36.2-.4-2.7z" fill="#d85646db"/><path d="M1757.9,347l1-3 1.6-5.5 8.1-72.8-.9-2-.5-.3-.5-.1-.5 .4z" fill="url(#Cuj)"/><path d="M1556.6,266.7l.5 2.3 8.3 43.5-.5-3.7z" fill="#e16751db"/><path d="M1601.7,279.3l.4-3.3 .4-3.2 7.1-39.2-.5 .5-.4 .9z" fill="#d55042db"/><path d="M1526.8,206.7l.4 .3 1 1.7 1.4 5.3 7.5-6.5-1.5-5.2-.9-1.7-.5-.3z" fill="url(#Cvh)"/><path d="M1614.2,318.2l.4-4.2 .9-7.9 .5-3.7 .9-6.6 .9-5.5 7.6 58.2-.4-3.6-1-7.4-1-7.9-1-8.1-.5-4.1z" fill="#ef886bdb"/><path d="M1648.6,252.2l1-5.4 .9-3.9 7.1 18.5-.5-3.9-.5-3.7-.9-7.1z" fill="#d44e41db"/><path d="M1663.2,280l1-1.7 .5-.3 .5 .1 .4 .5 6.9 77.6-1-6.6-.9-7.1-.4-3.6z" fill="url(#CPe)"/><path d="M1646.2,284.8l.9-8.1 7.2-30.2-1-3.7z" fill="url(#CVh)"/><path d="M1486.7,268.4l1.1 7.5 7.7-6.9-1.1-7.4z" fill="url(#CRb)"/><path d="M1685.8,237.6l1.4-5.1 .5-1 .5-.6 .5-.2 .4 .1 .5 .6 6.6 30.7-.9-6.1-1.3-9.3-.9-6-.4-2.9z" fill="#d0473ddb"/><path d="M1788.2,262.3l.6-2.1 1-3.3 5.5 39.5-.8-6.6-.4-3.4z" fill="#df634edb"/><path d="M1646.1,308.3l.5-3.9 .4-4.1 .5-4 7.2-44.2-.9-2.7-.5-.7z" fill="url(#CRg)"/><path d="M1736.7,281.2l1.1-4 1-2.6 .5-.7 .5-.3 .5 .1 .4 .5 .5 .8 1 2.9 5.5 69.9-1.3-4.6-.9-3.8-2.3-12.1-.4-2.8z" fill="url(#Coi)"/><path d="M1610.9,283.2l1-4.7 .9-3.1 7.6 56.6-.4-4.1-1-8.4-.5-4.4z" fill="url(#CMd)"/><path d="M1603.7,261.5l.5-3.1 .4-3.1 7.1-30.6-.5 .4-.4 .8z" fill="#d24b40db"/><path d="M1601,297.7l.4-3.4 .9-6.9 7-44.1-.5-.2-.4 .2-.5 .5z" fill="url(#Czf)"/><path d="M1729.7,327.3l.6-3.8 1-7.8 1.7-11.7 .5-3.8 6.7 4.8-.8-7.1-.9-7.1-1.3-10.1z" fill="url(#Cni)"/><path d="M1559.8,285.1l.5-1.2 8.6 70.9-.5-4.2z" fill="#ee8669db"/><path d="M1610.2,232.5l.5-2.8 .4-2.6 .9-4.5 .4-1.9 7.2-9.4-.9-2-.5-.4-.5-.1-.4 .4z" fill="#be242edb"/><path d="M1563.8,231l.4 .2 .5 .7 1 2.7 7.6 12.3-.5-3.6-1-6.7-.5-3z" fill="url(#Crg)"/><path d="M1560.3,245.5l.4-3.2 7.2-18.4-.4 .5z" fill="#c83836db"/><path d="M1610.5,233.7l1 1.8 7.3 23-.9-7.6z" fill="url(#CHh)"/><path d="M1692.8,270.3l1-4.2 .5-1.6 6.5 42.6-.4-4.1-.9-8.3z" fill="url(#Cdi)"/><path d="M1651.1,353.8l1.5-8.6 1.4-9.3 7.3-64.6-.9-3.3-1-1.9-.5-.4-.5 0z" fill="url(#CMe)"/><path d="M1556.7,256.6l.5 1.9 .5 2.2 8 32.2-.5-3.7-.5-3.8z" fill="url(#Czd)"/><path d="M1777.8,277.6l.6-2.9 2.2-11.8 2.2-10.6 .5-2.2 1.1-3.7 1-2.4 5.7 32.8-.4-2.8-1.3-8.8-1.2-9.1-1.3-8.6-1.7-9.2z" fill="url(#Cjn)"/><path d="M1685.8,313.2l.5-2.9 1.4-9.3 7.3-42.9-1.3-5.8-.5-1.1z" fill="url(#Cbi)"/><path d="M1464.9,300.9l.6 4.2 7.8-7.1-.5-4.2z" fill="url(#Ca)"/><path d="M1755.6,274.2l1.1-6.4 1.6-7.9 1-3.8 .5-1.3 5.9 40.3-.9-5.6-.8-6-.9-6.3-.8-6.5z" fill="#de614ddb"/><path d="M1609.3,243.3l.5 .7 7.4 28.9-.4-4.1z" fill="#d55042db"/><path d="M1605.6,329.3l.9-8.3 .9-8.4 .8-8.3 7.3-15-.9-7.7-1-6.6-.5-2.9-.5-2.4z" fill="url(#CLd)"/><path d="M1565.8,231l.8-4.2 .9-2.4 .4-.5 7.4-.7-.9-4-1-2.1-.4-.4z" fill="url(#CAh)"/><path d="M1650.9,252l.5-1.5 .5-1.1 7 30.5-.9-7.5z" fill="#d85646db"/><path d="M1658.4,265.7l.5 0 .5 .4 1 1.9 6.9 61.6-.5-3-.4-3.1-1-6.4z" fill="url(#CSf)"/><path d="M1782.2,292l.5-2.6 7.3-36.1-.4-2.5z" fill="#dc5d4adb"/><path d="M1753.8,323.7l1.1-5.4 2.2-11.9 .5-3.1 7.4-38.2-.9-4.8-.9-3.7-.9-2.5-.5-.6z" fill="url(#Cqk)"/><path d="M1557,271.7l1 3 8.5 59.9-.6-3.9-.5-3.9z" fill="#e9785ddb"/><path d="M1472.2,289.8l.6 4 7.8-7-.6-4z" fill="url(#CB)"/><path d="M1765.2,265.6l1-1.9 .5-.4 .5 .1 .5 .3 .9 2 5.3 59.3-1.3-6.3-1.7-10.3z" fill="url(#Csk)"/><path d="M1612.2,224.6l.4 .3 .5 .7 7.3 14.8-1-6.6z" fill="url(#CGi)"/><path d="M1654.2,256.9l.5-.4 .4 0 .5 .4 7 48.4-.9-6.5-.5-3.3z" fill="url(#CVg)"/><path d="M1782.7,289.4l3.3-17 2.2-10.1 5.9 24.1-1.2-10.6-1.2-10.5-.8-6.4-.4-2.9-.5-2.7z" fill="#dd5f4bdb"/><path d="M1608.8,266.4l.9-2 7.6 43.6-.5-4.5-.5-4.5z" fill="#e26952db"/><path d="M1681.9,275.4l.5-3.3 .5-3.2 1-6.4 7.1-27.4-.5-1.6-.9-2.1-.5-.6z" fill="url(#CYj)"/><path d="M1683.3,251.7l.5-3.3 1-5.8 1-5 6.9 .2-.9-5.3-.5-2.3-.9-3.8z" fill="#ca3b37db"/><path d="M1690.8,251.5l.5-.8 .5-.5 6.6 38.6-.9-7.5z" fill="url(#Cbj)"/><path d="M1555.7,258.4l.4-3.5 7.2-23.6-.4 .7z" fill="#cc403adb"/><path d="M1550.6,356.5l.8-7.1 .4-3.7 .4-3.7 6.8-62.8-.5-2.4-.5-2.1-1-3z" fill="url(#Cpb)"/><path d="M1612.4,220.7l.5-1.5 .9-2.1 .5-.5 .4-.2 .5 .2 7.2 7.8-.5-2.8-.9-5-.9-3.9-.5-1.4z" fill="url(#CHj)"/><path d="M1560.5,238.5l.5 .8 .9 2.8 7.8 16.5-.6-3.7-1-7z" fill="url(#Cof)"/><path d="M1733.5,300.2l1.1-7.2 1.6-9.2 .5-2.6 6.1 43.3-.9-6.1-1.3-9.9-.4-3.5z" fill="#e8765cdb"/><path d="M1734.1,358.2l1-5.6 .6-2.9 2.1-12.6 7.5-40.5-.5-3.3-1.7-11.2-.9-4.2z" fill="url(#Csh)"/><path d="M1683.4,290l1-6.1 7.2-41.6-.4-1.3-.5-.8z" fill="url(#CZi)"/><path d="M1546.2,311.5l.4-4.2 .4-4.2 6.9-49.8-.9 2.2z" fill="#de614ddb"/><path d="M1507.1,233.5l1.5 8 7.6-6.6-1.6-8z" fill="url(#Cje)"/><path d="M1647.1,276.7l1-7.6 .4-3.6 1-6.4 7.1 2.3-.9-6.7-.5-3-.5-2.7-.4-2.5z" fill="#d65244db"/><path d="M1608.2,304.3l.9-7.8 .9-7.2 .9-6.1 7.6 31.9-1-8.7-.5-4.4-1-8.6-.5-4.1z" fill="#e67259db"/><path d="M1760.5,338.5l2.1-9.2 1.6-8.2 7.5-38.3-.9-6.3-.4-2.8-.9-4.7-.9-3.3z" fill="#e8765cdb"/><path d="M1688.3,241.4l.5-.9 .5-.7 .4-.2 6.7 30.1-.4-3.3-.9-6.7z" fill="#d1493fdb"/><path d="M1602.5,311.4l.9-7.6 .9-7.6 7.1-35.6-.4-2.3-1-3.3-.5-1z" fill="url(#CCe)"/><path d="M1546.3,332.4l.4-4 .4-4 6.7-63.8-.5 .3-.5 .7z" fill="url(#Cac)"/><path d="M1493.3,254.9l1.1 6.7 7.6-6.8-1-6.6z" fill="url(#CGc)"/><path d="M1764.2,321.1l2.2-12 2.8-15.4 6.2 22.6-1.3-11.4-.8-7.7-.8-7.4-.8-7z" fill="#e8765cdb"/><path d="M1649.5,259.1l.9-5.1 .5-2 7.1 20.4-.5-3.7-.9-7.3z" fill="#d55042db"/><path d="M1519.3,213.1l.5 .3 .9 1.8 1.5 5.2 7.4-6.4-1.4-5.3-1-1.7-.4-.3z" fill="url(#Ckg)"/><path d="M1558.1,293.1l.8-4.6 .9-3.4 8.6 65.5-.5-4.2-1.1-8.7-.5-4.4z" fill="url(#Crb)"/><path d="M1608.8,243.1l.5 .2 7.5 25.5-.5-4.1z" fill="#d1493fdb"/><path d="M1744.9,295.3l1-4.5 1.1-3.3 1-2 .5-.4 .5-.1 .5 .4 .9 1.8 5.3 80.2-.4-1.9-1.8-8.4-2.2-13.3-.4-3z" fill="url(#Cth)"/><path d="M1478.9,275.2l1.1 7.6 7.8-6.9-1.1-7.5z" fill="url(#Cfb)"/><path d="M1687.7,301l.5-3.2 1.6-9.9 1-6.4 1.5-8.7 .5-2.5 6.7 24.4-.9-8.4-.9-8.1-.8-7.6-.9-6.8-1-5.7z" fill="url(#Cci)"/><path d="M1557.7,246.2l.4 1 1 3.2 7.9 22.8-.5-3.8-1.1-7.3z" fill="url(#Cre)"/><path d="M1551.6,273.9l.4-3.9 .4-3.8 7.2-27.9-.5 .6-.4 1.1z" fill="#d1493fdb"/><path d="M1602.5,272.8l.5-3.2 .4-3.2 7.1-32.7-.5-.3-.4 .2z" fill="#cf453cdb"/><path d="M1648.8,320.4l.5-3.7 .5-3.7 7.2-52.7-.9-2.7z" fill="url(#CPf)"/><path d="M1607.2,242.6l.4-2.9 .9-5.2 .9-4.3 7.2-10.7-.9-2.3-.5-.6-.5-.2-.4 .2z" fill="#c43032db"/><path d="M1604.6,255.3l.5-3 .4-2.8 7.1-24.6-.4-.3-.5 .1z" fill="#c73635db"/><path d="M1548.4,290.4l.4-4.2 .4-4.1 7.1-36.4-.9 1.9z" fill="#da5a49db"/><path d="M1560.7,242.3l.4-2.8 .9-4.6 .4-1.7 7.4-6.4-.9-2.4-.5-.5-.5 0z" fill="#c32e31db"/><path d="M1607.2,256l.9-2.1 .5-.4 .5 0 7.5 35.6-.5-4.4-.5-4.4-1-8.5z" fill="#da5a49db"/><path d="M1647.5,296.3l.5-4 .9-7.8 7.2-25.8-1.4-6.6z" fill="url(#CSg)"/><path d="M1607.9,270.2l.9-3.8 7.5 32.6-.4-4.5-.5-4.4z" fill="#de614ddb"/><path d="M1609.6,233.6l.4-.2 .5 .3 7.4 17.2-1-7.1z" fill="url(#CGh)"/><path d="M1661.3,287.5l.9-4.4 1-3.1 7 58.9-.5-3.8-1.4-11.7z" fill="url(#COe)"/><path d="M1552.2,342l.5-3.7 6.8-56.4-.5-2.7z" fill="#e97a5fdb"/><path d="M1555.2,262l1.4 4.7 8.3 42.1-1.1-7.5-.5-3.8z" fill="#e16751db"/><path d="M1764.1,268.7l1.1-3.1 5.7 42.8-.8-5.8z" fill="#e0654fdb"/><path d="M1737.8,337.1l.6-3.3 1.6-10.3 2.2-13.5 2.1-12.1 .6-2.6 6 45.5-1.3-9.5-.9-6.8-.9-7-1.2-10.6-1.3-10.3z" fill="#ec7f63db"/><path d="M1464.3,296.8l.6 4.1 7.9-7.1-.6-4z" fill="url(#Ca)"/><path d="M1608.4,243.3l.4-.2 7.5 21.6-.5-4z" fill="#cf453cdb"/><path d="M1658,266.1l.4-.4 7 51.4-.4-3.4z" fill="#e26952db"/><path d="M1562.4,233.2l.5-1.2 .4-.7 .5-.3 7.5 2.6-.5-2.6-1-4.2z" fill="#c12b30db"/><path d="M1652.7,260.5l.5-1.6 1-2 7 38.6-.4-3.5-1-7z" fill="url(#CUg)"/><path d="M1654,335.9l.5-3.3 .5-3.3 .4-3.4 7.3-47.2-1.4-7.4z" fill="url(#CMe)"/><path d="M1757.6,303.3l1.7-9.7 2.1-12.5 2.2-10.3 .5-2.1 6 33.9-1.3-9.4-.8-6.5-1.3-9.8-.8-6.1-.5-2.9-.4-2.8z" fill="url(#Crk)"/><path d="M1609.4,230.2l1.4-4.3 .4-.8 .5-.4 .5-.1 7.2 9.2-.9-5.8-1-4.8-.9-3.7z" fill="url(#CFi)"/><path d="M1683.9,262.5l.5-3.1 1.5-8.4 1.4-6.6 1-3 6.8 18.3-.5-3.2-.9-6.4-1.3-8.4-.5-2.5-.9-4.1z" fill="url(#CZj)"/><path d="M1602.3,287.4l.9-7 .4-3.4 7.1-30.3-.4-1.5-.5-1.2-.5-.7z" fill="url(#CAf)"/><path d="M1684.4,283.9l.5-3.1 1.5-9.2 .9-5.8 1.5-7.6 1.5-5.5 .5-1.2 6.7 29.8-.5-3.7-1.3-11.1-.4-3.5-1.4-9.7-1.4-7.5-.9-3.5z" fill="url(#Caj)"/><path d="M1555.7,253.9l.5 1.2 .5 1.5 8 28.8-.5-3.7-.5-3.7z" fill="url(#Cyd)"/><path d="M1556,270.1l1 1.6 8.4 55.1-.5-3.9-.5-4z" fill="#e36c55db"/><path d="M1499.4,240.1l1.6 8.1 7.6-6.7-1.5-8z" fill="url(#Ctd)"/><path d="M1552.7,338.3l.4-3.8 1.2-11.3 1.2-11.1 1.3-10.2 1.3-8.8 8.2 40.2-1.1-8.8-.5-4.4-1-8.7-.6-4.2-1-8.1-.5-3.9-.6-3.7-1-6.7-.5-2.9z" fill="url(#Cqb)"/><path d="M1604.3,296.2l.9-7.5 .9-7.1 .9-6.3 .9-5.1 7.5 19.9-1-8.6-.5-4.2-.5-3.9-1-7-.5-3.1-.5-2.7z" fill="url(#CDe)"/><path d="M1485.6,261.7l1.1 6.7 7.7-6.8-1.1-6.7z" fill="url(#CRb)"/><path d="M1607.9,243.8l.5-.5 7.4 17.4-.5-3.9z" fill="#cc403adb"/><path d="M1511.8,219.6l.4 .3 1 1.8 1.4 5.2 7.6-6.5-1.5-5.2-.9-1.8-.5-.3z" fill="url(#Cgf)"/><path d="M1605.5,249.5l.4-2.8 .5-2.5 7.2-17.5-.5-1.1-.5-.7z" fill="#c32e31db"/><path d="M1603.4,266.4l.5-3.1 .4-3 7.2-24.8-1-1.8z" fill="url(#Cyg)"/><path d="M1547,303.1l.4-4.2 6.9-46.1-.4 .5z" fill="#de614ddb"/><path d="M1471,282.1l1.2 7.7 7.8-7-1.1-7.6z" fill="url(#CB)"/><path d="M1648.9,284.5l.5-3.8 1-7 .9-6.2 1-5 .4-2 7.1 24.5-.4-3.5-.5-3.6-1.4-10.2-1.4-9z" fill="url(#CTg)"/><path d="M1655.4,325.9l1-6.8 1.5-10.4 1.4-9.9 1.5-8.8 .5-2.5 7 35.9-.5-4-1.3-12-1-7.9-.4-3.8-1-7.4-1.4-9.6z" fill="url(#CNe)"/><path d="M1556.1,254.9l.5-3.4 .4-3 .4-2.7 .4-2.3 .9-3.5 7.5-3.4-.5-2-1-2.7-.5-.7-.4-.2-.5 .3z" fill="#c43032db"/><path d="M1649.8,313l.5-3.8 .9-7.5 1-7.3 7.2-22-.5-2.9-1.4-7.3-.5-1.9z" fill="url(#CQf)"/><path d="M1656,271.2l1-3.3 .5-1.1 .5-.7 7 47.6-.5-3.4-.9-7-.5-3.6z" fill="url(#CRf)"/><path d="M1558.7,240l.4-1.1 .5-.6 .4-.1 .5 .3 7.6 9.4-1-6.2-.9-5.1z" fill="url(#Cnf)"/><path d="M1606.4,244.2l.4-2.4 .5-2.1 .9-3.5 .5-1.2 .4-.9 .5-.5 7.3 10.2-1-6.3-.9-5.3-.5-2.2-.9-3.3z" fill="url(#CFh)"/><path d="M1547.1,324.4l.8-8 .4-4 6.9-50.4-.5-.8-.5-.5-.4-.1z" fill="url(#Cbc)"/><path d="M1603.6,277l.4-3.3 .9-6.2 .9-5.5 .9-4.3 .5-1.7 7.4 15.8-1-7.9-.9-7-1-5.8-1-4.4z" fill="url(#CBf)"/><path d="M1556.7,245.4l.5 .2 .5 .6 7.7 15.9-1-6.9z" fill="url(#Cqe)"/><path d="M1604.3,260.3l.4-2.9 .9-5.2 .9-4.3 .5-1.7 .9-2.4 7.4 13-1-7.1-.9-6.1-.5-2.5-1-4.2-.4-1.4z" fill="url(#Czg)"/><path d="M1491.7,246.8l1.6 8.1 7.7-6.7-1.6-8.1z" fill="url(#CGc)"/><path d="M1555.1,270l.5-.2 .4 .3 8.4 48.8-1.1-8z" fill="#de614ddb"/><path d="M1477.8,268.5l1.1 6.7 7.8-6.8-1.1-6.7z" fill="url(#Cfb)"/><path d="M1554.8,252.8l.4 .3 .5 .8 8 24.1-.5-3.7-.6-3.6z" fill="url(#Cxd)"/><path d="M1652.2,294.4l.5-3.5 .9-6.7 1-5.9 1.4-7.1 7.1 28.5-.9-7.1-1.4-10.5-.5-3.4-.9-6.3z" fill="#da5a49db"/><path d="M1504.2,226.1l.4 .3 1 1.8 1.5 5.3 7.5-6.6-1.4-5.2-1-1.8-.4-.3z" fill="url(#Cje)"/><path d="M1547.4,298.9l.4-4.1 .4-3.9 7-37.8-.4-.3-.5 0z" fill="#d55042db"/><path d="M1552.4,266.2l.4-3.5 .4-3.4 .9-5.8 .4-2.3 .4-2 7.5-5.1-.5-2-.9-2.8-.5-.8-.5-.3-.4 .1z" fill="#c53334db"/><path d="M1463.1,289.1l1.2 7.7 7.9-7-1.2-7.7z" fill="url(#Ca)"/><path d="M1549.2,282.1l.4-3.9 .4-3.8 .4-3.5 .4-3.4 7.3-20.3-.4-1-.5-.6-.5-.2-.4 .3z" fill="#cb3e38db"/><path d="M1553.3,260.9l.5-.3 .4 .1 .5 .5 .5 .8 8.1 35.5-1-7.6-1-7.4z" fill="#d44e41db"/><path d="M1554.9,249.2l.5-1.6 .9-1.9 .4-.3 7.7 9.8-1-6.1-1-5z" fill="url(#Cpe)"/><path d="M1554.2,271.4l.4-.9 .5-.5 8.2 40.9-.5-4.1-.5-4z" fill="#d95847db"/><path d="M1553.9,253.3l.4-.5 .5 0 7.8 17.9-.5-3.5-.5-3.3z" fill="url(#Cwd)"/><path d="M1484,253.5l1.6 8.2 7.7-6.8-1.6-8.1z" fill="url(#CRb)"/><path d="M1548.3,312.4l.4-4 .8-7.7 7.1-34-1.4-4.7z" fill="url(#Ccc)"/><path d="M1469.9,275.3l1.1 6.8 7.9-6.9-1.1-6.7z" fill="url(#CB)"/><path d="M1496.5,232.7l.5 .3 .9 1.8 1.5 5.3 7.7-6.6-1.5-5.3-1-1.8-.4-.3z" fill="url(#Ctd)"/><path d="M1548.2,290.9l.4-3.9 .4-3.7 7.2-28.2-.5-1.2-.5-.8z" fill="#cf453cdb"/><path d="M1550.8,267.5l.5-3 .4-2.8 7.4-11.3-1-3.2z" fill="#cb3e38db"/><path d="M1551.7,261.7l.8-4.5 .5-1.7 .9-2.2 7.7 10.6-.5-3.2-1-5.7-1-4.6z" fill="#c53334db"/><path d="M1552.4,262.7l.4-1.1 .5-.7 8 21.6-1.1-7.1z" fill="#cc403adb"/><path d="M1549,283.3l.4-3.5 .4-3.3 7.4-18-.5-1.9-.5-1.5z" fill="#cb3e38db"/><path d="M1551.6,283.8l.4-2.8 .8-4.8 1.4-4.8 8.1 31.4-.5-3.9-1.1-7.7-1-7.3-.5-3.4z" fill="#d44e41db"/><path d="M1476.2,260.2l1.6 8.3 7.8-6.8-1.6-8.2z" fill="url(#Cfb)"/><path d="M1549.5,300.7l.8-7.3 .8-6.6 .5-3 7.6-3.3-.5-3.2-1-5.8-.6-2.5-.5-2.3z" fill="#d24b40db"/><path d="M1488.8,239.3l.5 .3 .9 1.8 1.5 5.4 7.7-6.7-1.5-5.3-.9-1.8-.5-.3z" fill="url(#CGc)"/><path d="M1462,282.2l1.1 6.9 7.9-7-1.1-6.8z" fill="url(#Ca)"/><path d="M1549.8,276.5l.4-3.1 .9-5.3 .8-4 .5-1.4 7.8 12.7-1-6.5-1-5.8-.5-2.4-.5-2.2z" fill="url(#CKc)"/><path d="M1468.3,267l1.6 8.3 7.9-6.8-1.6-8.3z" fill="url(#CB)"/><path d="M1481,246l.5 .3 1 1.8 1.5 5.4 7.7-6.7-1.5-5.4-.9-1.8-.5-.3z" fill="url(#CRb)"/><path d="M1460.4,273.9l1.6 8.3 7.9-6.9-1.6-8.3z" fill="url(#Ca)"/><path d="M1473.2,252.7l.5 .3 .9 1.8 1.6 5.4 7.8-6.7-1.5-5.4-1-1.8-.5-.3z" fill="url(#Cfb)"/><path d="M1465.3,259.5l.5 .3 1 1.8 1.5 5.4 7.9-6.8-1.6-5.4-.9-1.8-.5-.3z" fill="url(#CB)"/><path d="M1457.4,266.3l.5 .3 .9 1.9 1.6 5.4 7.9-6.9-1.5-5.4-1-1.8-.5-.3z" fill="url(#Ca)"/>
</g>
<path d="M1845.9,479.6 L1856.4,179.6" fill="none" stroke="#000" stroke-width="1.6"/><path d="M1439.5,546.8 L1703.9,646.0 M1703.9,646.0 L1845.9,479.6 M1457.0,551.5 L1452.9,555.6 M1501.7,568.2 L1497.6,572.4 M1547.1,585.2 L1543.0,589.5 M1593.2,602.5 L1589.2,606.9 M1640.0,620.1 L1636.1,624.5 M1687.6,637.9 L1683.8,642.4 M1721.8,621.6 L1728.6,624.1 M1738.9,601.6 L1745.7,604.1 M1755.7,581.9 L1762.5,584.4 M1772.2,562.6 L1778.9,565.0 M1788.4,543.6 L1795.1,546.0 M1804.3,525.0 L1811.0,527.3 M1820.0,506.7 L1826.6,509.0 M1835.3,488.7 L1841.9,490.9 M1843.9,473.2 L1850.5,475.4 M1845.4,430.7 L1852.0,432.9 M1846.9,387.6 L1853.6,389.7 M1848.4,343.8 L1855.1,345.9 M1850.0,299.4 L1856.7,301.5 M1851.5,254.3 L1858.3,256.3 M1853.1,208.4 L1860.0,210.5" fill="none" stroke="#000" stroke-width="2.00" stroke-linecap="square"/>
<text transform="translate(1438.20,604.50) scale(0.8600,1)" font-size="18.00" font-family="DejaVu Sans, Liberation Sans, sans-serif" font-weight="bold">0</text>
<text transform="translate(1482.95,621.59) scale(0.8600,1)" font-size="18.00" font-family="DejaVu Sans, Liberation Sans, sans-serif" font-weight="bold">2</text>
<text transform="translate(1528.27,638.78) scale(0.8600,1)" font-size="18.00" font-family="DejaVu Sans, Liberation Sans, sans-serif" font-weight="bold">4</text>
<text transform="translate(1574.38,656.51) scale(0.8600,1)" font-size="18.00" font-family="DejaVu Sans, Liberation Sans, sans-serif" font-weight="bold">6</text>
<text transform="translate(1621.32,674.54) scale(0.8600,1)" font-size="18.00" font-family="DejaVu Sans, Liberation Sans, sans-serif" font-weight="bold">8</text>
<text transform="translate(1663.07,692.76) scale(0.8600,1)" font-size="18.00" font-family="DejaVu Sans, Liberation Sans, sans-serif" font-weight="bold">10</text>
<text transform="translate(1726.64,669.19) scale(0.8600,1)" font-size="18.00" font-family="DejaVu Sans, Liberation Sans, sans-serif" font-weight="bold">1.25</text>
<text transform="translate(1743.38,648.96) scale(0.8600,1)" font-size="18.00" font-family="DejaVu Sans, Liberation Sans, sans-serif" font-weight="bold">1.50</text>
<text transform="translate(1760.12,628.83) scale(0.8600,1)" font-size="18.00" font-family="DejaVu Sans, Liberation Sans, sans-serif" font-weight="bold">1.75</text>
<text transform="translate(1776.49,609.42) scale(0.8600,1)" font-size="18.00" font-family="DejaVu Sans, Liberation Sans, sans-serif" font-weight="bold">2.00</text>
<text transform="translate(1792.65,590.08) scale(0.8600,1)" font-size="18.00" font-family="DejaVu Sans, Liberation Sans, sans-serif" font-weight="bold">2.25</text>
<text transform="translate(1808.21,571.27) scale(0.8600,1)" font-size="18.00" font-family="DejaVu Sans, Liberation Sans, sans-serif" font-weight="bold">2.50</text>
<text transform="translate(1823.81,552.60) scale(0.8600,1)" font-size="18.00" font-family="DejaVu Sans, Liberation Sans, sans-serif" font-weight="bold">2.75</text>
<text transform="translate(1838.91,534.44) scale(0.8600,1)" font-size="18.00" font-family="DejaVu Sans, Liberation Sans, sans-serif" font-weight="bold">3.00</text>
<text transform="translate(1854.21,488.27) scale(0.8500,1)" font-size="22.60" font-family="DejaVu Sans, Liberation Sans, sans-serif">−0.2</text>
<text transform="translate(1864.00,445.86) scale(0.8500,1)" font-size="22.60" font-family="DejaVu Sans, Liberation Sans, sans-serif">0.0</text>
<text transform="translate(1866.03,402.80) scale(0.8500,1)" font-size="22.60" font-family="DejaVu Sans, Liberation Sans, sans-serif">0.2</text>
<text transform="translate(1867.32,359.10) scale(0.8500,1)" font-size="22.60" font-family="DejaVu Sans, Liberation Sans, sans-serif">0.4</text>
<text transform="translate(1869.22,314.74) scale(0.8500,1)" font-size="22.60" font-family="DejaVu Sans, Liberation Sans, sans-serif">0.6</text>
<text transform="translate(1871.14,269.70) scale(0.8500,1)" font-size="22.60" font-family="DejaVu Sans, Liberation Sans, sans-serif">0.8</text>
<text transform="translate(1872.61,223.96) scale(0.8500,1)" font-size="22.60" font-family="DejaVu Sans, Liberation Sans, sans-serif">1.0</text>
<text transform="translate(1536.54,686.20) scale(0.8500,1)" font-size="35.00" font-family="DejaVu Sans, Liberation Sans, sans-serif" font-style="italic">t</text>
<text transform="translate(1819.09,632.18) scale(0.8500,1.0000) rotate(-45.50) translate(-10.15,8.75)" font-size="35.00" font-family="DejaVu Sans, Liberation Sans, sans-serif"><tspan font-style="italic">r</tspan><tspan font-size="24.5" dy="5.6">2</tspan></text>
<text transform="translate(1909.79,332.48) scale(0.8500,1)" font-size="35.00" font-family="DejaVu Sans, Liberation Sans, sans-serif" font-style="italic">C</text>
<defs><linearGradient id="cbb" x1="0" y1="0" x2="0" y2="1"><stop offset="0.0000" stop-color="#b40426"/><stop offset="0.0312" stop-color="#be242e"/><stop offset="0.0625" stop-color="#ca3b37"/><stop offset="0.0938" stop-color="#d44e41"/><stop offset="0.1250" stop-color="#dd5f4b"/><stop offset="0.1562" stop-color="#e46e56"/><stop offset="0.1875" stop-color="#eb7d62"/><stop offset="0.2188" stop-color="#f08b6e"/><stop offset="0.2500" stop-color="#f4987a"/><stop offset="0.2812" stop-color="#f6a586"/><stop offset="0.3125" stop-color="#f7b093"/><stop offset="0.3438" stop-color="#f7ba9f"/><stop offset="0.3750" stop-color="#f5c4ac"/><stop offset="0.4062" stop-color="#f1ccb8"/><stop offset="0.4375" stop-color="#ecd3c5"/><stop offset="0.4688" stop-color="#e5d8d1"/><stop offset="0.5000" stop-color="#dddcdc"/><stop offset="0.5312" stop-color="#d5dbe5"/><stop offset="0.5625" stop-color="#ccd9ed"/><stop offset="0.5938" stop-color="#c3d5f4"/><stop offset="0.6250" stop-color="#b9d0f9"/><stop offset="0.6562" stop-color="#aec9fc"/><stop offset="0.6875" stop-color="#a3c2fe"/><stop offset="0.7188" stop-color="#98b9ff"/><stop offset="0.7500" stop-color="#8db0fe"/><stop offset="0.7812" stop-color="#82a6fb"/><stop offset="0.8125" stop-color="#779af7"/><stop offset="0.8438" stop-color="#6c8ff1"/><stop offset="0.8750" stop-color="#6282ea"/><stop offset="0.9062" stop-color="#5875e1"/><stop offset="0.9375" stop-color="#4e68d8"/><stop offset="0.9688" stop-color="#445acc"/><stop offset="1.0000" stop-color="#3b4cc0"/></linearGradient></defs>
<rect x="1288.2" y="218.5" width="26.0" height="310.6" fill="url(#cbb)" fill-opacity="0.92"/>
<rect x="1288.2" y="218.5" width="26.0" height="310.6" fill="none" stroke="#000" stroke-width="1.5"/>
<text transform="translate(1326.16,502.49) scale(0.8500,1)" font-size="22.60" font-family="DejaVu Sans, Liberation Sans, sans-serif">0.2</text>
<text transform="translate(1326.16,433.70) scale(0.8500,1)" font-size="22.60" font-family="DejaVu Sans, Liberation Sans, sans-serif">0.4</text>
<text transform="translate(1326.16,364.91) scale(0.8500,1)" font-size="22.60" font-family="DejaVu Sans, Liberation Sans, sans-serif">0.6</text>
<text transform="translate(1326.16,296.12) scale(0.8500,1)" font-size="22.60" font-family="DejaVu Sans, Liberation Sans, sans-serif">0.8</text>
<path d="M1314.2,493.5h6.0M1314.2,424.7h6.0M1314.2,355.9h6.0M1314.2,287.2h6.0" stroke="#000" stroke-width="1.60" fill="none"/>
<defs><linearGradient id="cbc" x1="0" y1="0" x2="0" y2="1"><stop offset="0.0000" stop-color="#b40426"/><stop offset="0.0312" stop-color="#be242e"/><stop offset="0.0625" stop-color="#ca3b37"/><stop offset="0.0938" stop-color="#d44e41"/><stop offset="0.1250" stop-color="#dd5f4b"/><stop offset="0.1562" stop-color="#e46e56"/><stop offset="0.1875" stop-color="#eb7d62"/><stop offset="0.2188" stop-color="#f08b6e"/><stop offset="0.2500" stop-color="#f4987a"/><stop offset="0.2812" stop-color="#f6a586"/><stop offset="0.3125" stop-color="#f7b093"/><stop offset="0.3438" stop-color="#f7ba9f"/><stop offset="0.3750" stop-color="#f5c4ac"/><stop offset="0.4062" stop-color="#f1ccb8"/><stop offset="0.4375" stop-color="#ecd3c5"/><stop offset="0.4688" stop-color="#e5d8d1"/><stop offset="0.5000" stop-color="#dddcdc"/><stop offset="0.5312" stop-color="#d5dbe5"/><stop offset="0.5625" stop-color="#ccd9ed"/><stop offset="0.5938" stop-color="#c3d5f4"/><stop offset="0.6250" stop-color="#b9d0f9"/><stop offset="0.6562" stop-color="#aec9fc"/><stop offset="0.6875" stop-color="#a3c2fe"/><stop offset="0.7188" stop-color="#98b9ff"/><stop offset="0.7500" stop-color="#8db0fe"/><stop offset="0.7812" stop-color="#82a6fb"/><stop offset="0.8125" stop-color="#779af7"/><stop offset="0.8438" stop-color="#6c8ff1"/><stop offset="0.8750" stop-color="#6282ea"/><stop offset="0.9062" stop-color="#5875e1"/><stop offset="0.9375" stop-color="#4e68d8"/><stop offset="0.9688" stop-color="#445acc"/><stop offset="1.0000" stop-color="#3b4cc0"/></linearGradient></defs>
<rect x="1943.5" y="218.5" width="26.0" height="310.6" fill="url(#cbc)" fill-opacity="0.92"/>
<rect x="1943.5" y="218.5" width="26.0" height="310.6" fill="none" stroke="#000" stroke-width="1.5"/>
<text transform="translate(1981.46,514.59) scale(0.8500,1)" font-size="22.60" font-family="DejaVu Sans, Liberation Sans, sans-serif">0.2</text>
<text transform="translate(1981.46,478.68) scale(0.8500,1)" font-size="22.60" font-family="DejaVu Sans, Liberation Sans, sans-serif">0.3</text>
<text transform="translate(1981.46,442.77) scale(0.8500,1)" font-size="22.60" font-family="DejaVu Sans, Liberation Sans, sans-serif">0.4</text>
<text transform="translate(1981.46,406.86) scale(0.8500,1)" font-size="22.60" font-family="DejaVu Sans, Liberation Sans, sans-serif">0.5</text>
<text transform="translate(1981.46,370.95) scale(0.8500,1)" font-size="22.60" font-family="DejaVu Sans, Liberation Sans, sans-serif">0.6</text>
<text transform="translate(1981.46,335.04) scale(0.8500,1)" font-size="22.60" font-family="DejaVu Sans, Liberation Sans, sans-serif">0.7</text>
<text transform="translate(1981.46,299.13) scale(0.8500,1)" font-size="22.60" font-family="DejaVu Sans, Liberation Sans, sans-serif">0.8</text>
<text transform="translate(1981.46,263.23) scale(0.8500,1)" font-size="22.60" font-family="DejaVu Sans, Liberation Sans, sans-serif">0.9</text>
<path d="M1969.5,505.6h6.0M1969.5,469.7h6.0M1969.5,433.8h6.0M1969.5,397.9h6.0M1969.5,362.0h6.0M1969.5,326.1h6.0M1969.5,290.2h6.0M1969.5,254.3h6.0" stroke="#000" stroke-width="1.60" fill="none"/>
<text transform="translate(25.20,38.00)" font-size="50.0" font-family="Liberation Serif, DejaVu Serif, serif" font-weight="bold">(a)</text>
<text transform="translate(763.70,38.00)" font-size="50.0" font-family="Liberation Serif, DejaVu Serif, serif" font-weight="bold">(b)</text>
<text transform="translate(1403.20,38.00)" font-size="50.0" font-family="Liberation Serif, DejaVu Serif, serif" font-weight="bold">(c)</text>
<text transform="translate(942.36,35.20) scale(0.9861,1)" font-size="44.04" font-family="Liberation Serif, DejaVu Serif, serif" font-style="italic">r</text>
<text transform="translate(960.03,41.60) scale(0.8441,1)" font-size="31.69" font-family="Liberation Serif, DejaVu Serif, serif">2</text>
<text transform="translate(983.43,35.50) scale(1.4203,1)" font-size="37.60" font-family="Liberation Serif, DejaVu Serif, serif">=</text>
<text transform="translate(1021.98,34.83) scale(0.8266,1)" font-size="47.31" font-family="Liberation Serif, DejaVu Serif, serif">1.5</text>
<text transform="translate(1593.83,35.20) scale(0.8888,1)" font-size="44.04" font-family="Liberation Serif, DejaVu Serif, serif" font-style="italic">r</text>
<text transform="translate(1610.41,41.60) scale(0.8879,1)" font-size="31.21" font-family="Liberation Serif, DejaVu Serif, serif">1</text>
<text transform="translate(1636.14,35.50) scale(1.3637,1)" font-size="37.60" font-family="Liberation Serif, DejaVu Serif, serif">=</text>
<text transform="translate(1674.74,34.37) scale(0.7853,1)" font-size="46.62" font-family="Liberation Serif, DejaVu Serif, serif">0.1</text>
</svg>
</body></html>
